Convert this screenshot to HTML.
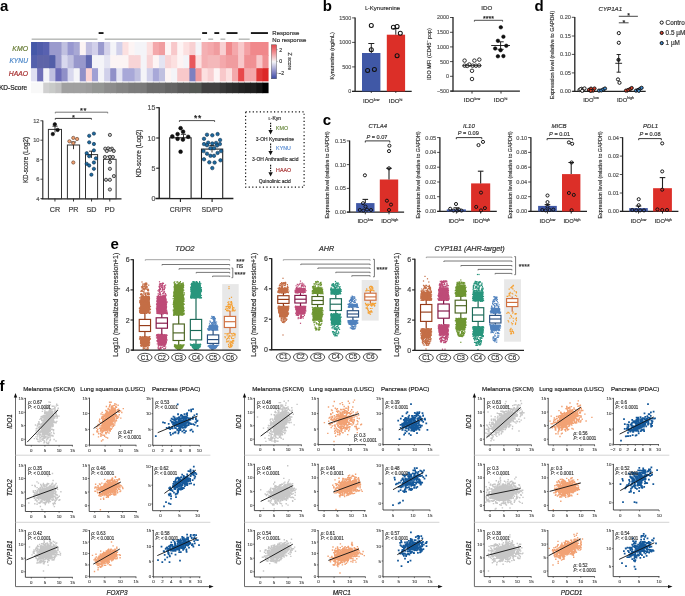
<!DOCTYPE html>
<html><head><meta charset="utf-8"><title>Figure</title>
<style>html,body{margin:0;padding:0;background:#fff;width:685px;height:596px;overflow:hidden;}
svg{display:block;font-family:"Liberation Sans",sans-serif;will-change:transform;}</style></head>
<body>
<svg width="685" height="596" viewBox="0 0 685 596" font-family="Liberation Sans, sans-serif">
<text x="-0.1" y="11.1" font-size="15" text-anchor="start" fill="#000" style="font-weight:bold;">a</text>
<text x="322.7" y="10.7" font-size="15" text-anchor="start" fill="#000" style="font-weight:bold;">b</text>
<text x="534.4" y="10.9" font-size="15" text-anchor="start" fill="#000" style="font-weight:bold;">d</text>
<text x="322.8" y="125.1" font-size="15" text-anchor="start" fill="#000" style="font-weight:bold;">c</text>
<text x="110.4" y="248.9" font-size="15" text-anchor="start" fill="#000" style="font-weight:bold;">e</text>
<text x="-0.6" y="390.8" font-size="15" text-anchor="start" fill="#000" style="font-weight:bold;">f</text>
<rect x="31.05" y="42" width="6.79" height="13.85" fill="#4558a8" stroke="none" stroke-width="0.8"/>
<rect x="31.05" y="55.1" width="6.79" height="13.85" fill="#5460ac" stroke="none" stroke-width="0.8"/>
<rect x="31.05" y="68.2" width="6.79" height="13.15" fill="#e0e0f2" stroke="none" stroke-width="0.8"/>
<rect x="31.05" y="82.6" width="6.79" height="10.6" fill="#f8f8f8" stroke="none" stroke-width="0.8"/>
<rect x="37.14" y="42" width="6.79" height="13.85" fill="#505cab" stroke="none" stroke-width="0.8"/>
<rect x="37.14" y="55.1" width="6.79" height="13.85" fill="#5e64a8" stroke="none" stroke-width="0.8"/>
<rect x="37.14" y="68.2" width="6.79" height="13.15" fill="#7070b8" stroke="none" stroke-width="0.8"/>
<rect x="37.14" y="82.6" width="6.79" height="10.6" fill="#f8f8f8" stroke="none" stroke-width="0.8"/>
<rect x="43.23" y="42" width="6.79" height="13.85" fill="#5861b0" stroke="none" stroke-width="0.8"/>
<rect x="43.23" y="55.1" width="6.79" height="13.85" fill="#5e64a8" stroke="none" stroke-width="0.8"/>
<rect x="43.23" y="68.2" width="6.79" height="13.15" fill="#f4f4f8" stroke="none" stroke-width="0.8"/>
<rect x="43.23" y="82.6" width="6.79" height="10.6" fill="#d0d0d0" stroke="none" stroke-width="0.8"/>
<rect x="49.32" y="42" width="6.79" height="13.85" fill="#9a9acd" stroke="none" stroke-width="0.8"/>
<rect x="49.32" y="55.1" width="6.79" height="13.85" fill="#525ea8" stroke="none" stroke-width="0.8"/>
<rect x="49.32" y="68.2" width="6.79" height="13.15" fill="#c0c0e0" stroke="none" stroke-width="0.8"/>
<rect x="49.32" y="82.6" width="6.79" height="10.6" fill="#c8cac8" stroke="none" stroke-width="0.8"/>
<rect x="55.41" y="42" width="6.79" height="13.85" fill="#9a9acd" stroke="none" stroke-width="0.8"/>
<rect x="55.41" y="55.1" width="6.79" height="13.85" fill="#9b9bcd" stroke="none" stroke-width="0.8"/>
<rect x="55.41" y="68.2" width="6.79" height="13.15" fill="#6c6cb8" stroke="none" stroke-width="0.8"/>
<rect x="55.41" y="82.6" width="6.79" height="10.6" fill="#c0c0c0" stroke="none" stroke-width="0.8"/>
<rect x="61.5" y="42" width="6.79" height="13.85" fill="#c0c0e0" stroke="none" stroke-width="0.8"/>
<rect x="61.5" y="55.1" width="6.79" height="13.85" fill="#d8d8ee" stroke="none" stroke-width="0.8"/>
<rect x="61.5" y="68.2" width="6.79" height="13.15" fill="#9090c8" stroke="none" stroke-width="0.8"/>
<rect x="61.5" y="82.6" width="6.79" height="10.6" fill="#a0a0a0" stroke="none" stroke-width="0.8"/>
<rect x="67.59" y="42" width="6.79" height="13.85" fill="#9898d0" stroke="none" stroke-width="0.8"/>
<rect x="67.59" y="55.1" width="6.79" height="13.85" fill="#c0c0e0" stroke="none" stroke-width="0.8"/>
<rect x="67.59" y="68.2" width="6.79" height="13.15" fill="#d8d8ee" stroke="none" stroke-width="0.8"/>
<rect x="67.59" y="82.6" width="6.79" height="10.6" fill="#a0a0a0" stroke="none" stroke-width="0.8"/>
<rect x="73.68" y="42" width="6.79" height="13.85" fill="#a8a8d4" stroke="none" stroke-width="0.8"/>
<rect x="73.68" y="55.1" width="6.79" height="13.85" fill="#9898cc" stroke="none" stroke-width="0.8"/>
<rect x="73.68" y="68.2" width="6.79" height="13.15" fill="#f4f4f8" stroke="none" stroke-width="0.8"/>
<rect x="73.68" y="82.6" width="6.79" height="10.6" fill="#a0a0a0" stroke="none" stroke-width="0.8"/>
<rect x="79.77" y="42" width="6.79" height="13.85" fill="#fcf4f4" stroke="none" stroke-width="0.8"/>
<rect x="79.77" y="55.1" width="6.79" height="13.85" fill="#9898cc" stroke="none" stroke-width="0.8"/>
<rect x="79.77" y="68.2" width="6.79" height="13.15" fill="#9090c8" stroke="none" stroke-width="0.8"/>
<rect x="79.77" y="82.6" width="6.79" height="10.6" fill="#a0a0a0" stroke="none" stroke-width="0.8"/>
<rect x="85.86" y="42" width="6.79" height="13.85" fill="#c0bee0" stroke="none" stroke-width="0.8"/>
<rect x="85.86" y="55.1" width="6.79" height="13.85" fill="#6068b0" stroke="none" stroke-width="0.8"/>
<rect x="85.86" y="68.2" width="6.79" height="13.15" fill="#fcd4d4" stroke="none" stroke-width="0.8"/>
<rect x="85.86" y="82.6" width="6.79" height="10.6" fill="#9c9c9c" stroke="none" stroke-width="0.8"/>
<rect x="91.95" y="42" width="6.79" height="13.85" fill="#d2d0ea" stroke="none" stroke-width="0.8"/>
<rect x="91.95" y="55.1" width="6.79" height="13.85" fill="#f4f4f8" stroke="none" stroke-width="0.8"/>
<rect x="91.95" y="68.2" width="6.79" height="13.15" fill="#a0a0d4" stroke="none" stroke-width="0.8"/>
<rect x="91.95" y="82.6" width="6.79" height="10.6" fill="#949694" stroke="none" stroke-width="0.8"/>
<rect x="98.04" y="42" width="6.79" height="13.85" fill="#9a9ace" stroke="none" stroke-width="0.8"/>
<rect x="98.04" y="55.1" width="6.79" height="13.85" fill="#f4f4f8" stroke="none" stroke-width="0.8"/>
<rect x="98.04" y="68.2" width="6.79" height="13.15" fill="#f4f4f8" stroke="none" stroke-width="0.8"/>
<rect x="98.04" y="82.6" width="6.79" height="10.6" fill="#949694" stroke="none" stroke-width="0.8"/>
<rect x="104.13" y="42" width="6.79" height="13.85" fill="#d4d2ea" stroke="none" stroke-width="0.8"/>
<rect x="104.13" y="55.1" width="6.79" height="13.85" fill="#e4e4f2" stroke="none" stroke-width="0.8"/>
<rect x="104.13" y="68.2" width="6.79" height="13.15" fill="#d0d0ea" stroke="none" stroke-width="0.8"/>
<rect x="104.13" y="82.6" width="6.79" height="10.6" fill="#8c8c8c" stroke="none" stroke-width="0.8"/>
<rect x="110.22" y="42" width="6.79" height="13.85" fill="#f4f4f8" stroke="none" stroke-width="0.8"/>
<rect x="110.22" y="55.1" width="6.79" height="13.85" fill="#fcf4f4" stroke="none" stroke-width="0.8"/>
<rect x="110.22" y="68.2" width="6.79" height="13.15" fill="#9090c8" stroke="none" stroke-width="0.8"/>
<rect x="110.22" y="82.6" width="6.79" height="10.6" fill="#8c8c8c" stroke="none" stroke-width="0.8"/>
<rect x="116.31" y="42" width="6.79" height="13.85" fill="#d0d0ea" stroke="none" stroke-width="0.8"/>
<rect x="116.31" y="55.1" width="6.79" height="13.85" fill="#fcf4f4" stroke="none" stroke-width="0.8"/>
<rect x="116.31" y="68.2" width="6.79" height="13.15" fill="#e4e4f2" stroke="none" stroke-width="0.8"/>
<rect x="116.31" y="82.6" width="6.79" height="10.6" fill="#848484" stroke="none" stroke-width="0.8"/>
<rect x="122.4" y="42" width="6.79" height="13.85" fill="#fce0e0" stroke="none" stroke-width="0.8"/>
<rect x="122.4" y="55.1" width="6.79" height="13.85" fill="#fcf4f4" stroke="none" stroke-width="0.8"/>
<rect x="122.4" y="68.2" width="6.79" height="13.15" fill="#a8a8d8" stroke="none" stroke-width="0.8"/>
<rect x="122.4" y="82.6" width="6.79" height="10.6" fill="#848484" stroke="none" stroke-width="0.8"/>
<rect x="128.49" y="42" width="6.79" height="13.85" fill="#fdf4f4" stroke="none" stroke-width="0.8"/>
<rect x="128.49" y="55.1" width="6.79" height="13.85" fill="#f8d4d6" stroke="none" stroke-width="0.8"/>
<rect x="128.49" y="68.2" width="6.79" height="13.15" fill="#a8a8d8" stroke="none" stroke-width="0.8"/>
<rect x="128.49" y="82.6" width="6.79" height="10.6" fill="#7c7c7c" stroke="none" stroke-width="0.8"/>
<rect x="134.58" y="42" width="6.79" height="13.85" fill="#f4f4f8" stroke="none" stroke-width="0.8"/>
<rect x="134.58" y="55.1" width="6.79" height="13.85" fill="#f8d4d6" stroke="none" stroke-width="0.8"/>
<rect x="134.58" y="68.2" width="6.79" height="13.15" fill="#c0c0e0" stroke="none" stroke-width="0.8"/>
<rect x="134.58" y="82.6" width="6.79" height="10.6" fill="#7c7c7c" stroke="none" stroke-width="0.8"/>
<rect x="140.67" y="42" width="6.79" height="13.85" fill="#f4f4f8" stroke="none" stroke-width="0.8"/>
<rect x="140.67" y="55.1" width="6.79" height="13.85" fill="#f4f4f8" stroke="none" stroke-width="0.8"/>
<rect x="140.67" y="68.2" width="6.79" height="13.15" fill="#f4f4f8" stroke="none" stroke-width="0.8"/>
<rect x="140.67" y="82.6" width="6.79" height="10.6" fill="#7a7a7a" stroke="none" stroke-width="0.8"/>
<rect x="146.76" y="42" width="6.79" height="13.85" fill="#fce0e0" stroke="none" stroke-width="0.8"/>
<rect x="146.76" y="55.1" width="6.79" height="13.85" fill="#f8d4d6" stroke="none" stroke-width="0.8"/>
<rect x="146.76" y="68.2" width="6.79" height="13.15" fill="#d0d0ea" stroke="none" stroke-width="0.8"/>
<rect x="146.76" y="82.6" width="6.79" height="10.6" fill="#6c6c6c" stroke="none" stroke-width="0.8"/>
<rect x="152.85" y="42" width="6.79" height="13.85" fill="#f4a8ab" stroke="none" stroke-width="0.8"/>
<rect x="152.85" y="55.1" width="6.79" height="13.85" fill="#fdf4f4" stroke="none" stroke-width="0.8"/>
<rect x="152.85" y="68.2" width="6.79" height="13.15" fill="#a8a8d8" stroke="none" stroke-width="0.8"/>
<rect x="152.85" y="82.6" width="6.79" height="10.6" fill="#6c6c6c" stroke="none" stroke-width="0.8"/>
<rect x="158.94" y="42" width="6.79" height="13.85" fill="#f09c9f" stroke="none" stroke-width="0.8"/>
<rect x="158.94" y="55.1" width="6.79" height="13.85" fill="#e4e4f2" stroke="none" stroke-width="0.8"/>
<rect x="158.94" y="68.2" width="6.79" height="13.15" fill="#c0c0e0" stroke="none" stroke-width="0.8"/>
<rect x="158.94" y="82.6" width="6.79" height="10.6" fill="#6c6c6c" stroke="none" stroke-width="0.8"/>
<rect x="165.03" y="42" width="6.79" height="13.85" fill="#fdf4f4" stroke="none" stroke-width="0.8"/>
<rect x="165.03" y="55.1" width="6.79" height="13.85" fill="#f8d4d6" stroke="none" stroke-width="0.8"/>
<rect x="165.03" y="68.2" width="6.79" height="13.15" fill="#fdf4f4" stroke="none" stroke-width="0.8"/>
<rect x="165.03" y="82.6" width="6.79" height="10.6" fill="#646464" stroke="none" stroke-width="0.8"/>
<rect x="171.12" y="42" width="6.79" height="13.85" fill="#f8c8ca" stroke="none" stroke-width="0.8"/>
<rect x="171.12" y="55.1" width="6.79" height="13.85" fill="#fce0e0" stroke="none" stroke-width="0.8"/>
<rect x="171.12" y="68.2" width="6.79" height="13.15" fill="#f4f4f8" stroke="none" stroke-width="0.8"/>
<rect x="171.12" y="82.6" width="6.79" height="10.6" fill="#646464" stroke="none" stroke-width="0.8"/>
<rect x="177.21" y="42" width="6.79" height="13.85" fill="#fdf4f4" stroke="none" stroke-width="0.8"/>
<rect x="177.21" y="55.1" width="6.79" height="13.85" fill="#fdf4f4" stroke="none" stroke-width="0.8"/>
<rect x="177.21" y="68.2" width="6.79" height="13.15" fill="#f8c8ca" stroke="none" stroke-width="0.8"/>
<rect x="177.21" y="82.6" width="6.79" height="10.6" fill="#5a5a5a" stroke="none" stroke-width="0.8"/>
<rect x="183.3" y="42" width="6.79" height="13.85" fill="#fce0e0" stroke="none" stroke-width="0.8"/>
<rect x="183.3" y="55.1" width="6.79" height="13.85" fill="#f4f4f8" stroke="none" stroke-width="0.8"/>
<rect x="183.3" y="68.2" width="6.79" height="13.15" fill="#f8c8ca" stroke="none" stroke-width="0.8"/>
<rect x="183.3" y="82.6" width="6.79" height="10.6" fill="#5a5a5a" stroke="none" stroke-width="0.8"/>
<rect x="189.39" y="42" width="6.79" height="13.85" fill="#f8d0d2" stroke="none" stroke-width="0.8"/>
<rect x="189.39" y="55.1" width="6.79" height="13.85" fill="#e8585b" stroke="none" stroke-width="0.8"/>
<rect x="189.39" y="68.2" width="6.79" height="13.15" fill="#7c80c0" stroke="none" stroke-width="0.8"/>
<rect x="189.39" y="82.6" width="6.79" height="10.6" fill="#545854" stroke="none" stroke-width="0.8"/>
<rect x="195.48" y="42" width="6.79" height="13.85" fill="#f4f4f8" stroke="none" stroke-width="0.8"/>
<rect x="195.48" y="55.1" width="6.79" height="13.85" fill="#fce0e0" stroke="none" stroke-width="0.8"/>
<rect x="195.48" y="68.2" width="6.79" height="13.15" fill="#f09c9f" stroke="none" stroke-width="0.8"/>
<rect x="195.48" y="82.6" width="6.79" height="10.6" fill="#545854" stroke="none" stroke-width="0.8"/>
<rect x="201.57" y="42" width="6.79" height="13.85" fill="#f4b0b3" stroke="none" stroke-width="0.8"/>
<rect x="201.57" y="55.1" width="6.79" height="13.85" fill="#f4b0b3" stroke="none" stroke-width="0.8"/>
<rect x="201.57" y="68.2" width="6.79" height="13.15" fill="#fce0e0" stroke="none" stroke-width="0.8"/>
<rect x="201.57" y="82.6" width="6.79" height="10.6" fill="#404040" stroke="none" stroke-width="0.8"/>
<rect x="207.66" y="42" width="6.79" height="13.85" fill="#f4a8ab" stroke="none" stroke-width="0.8"/>
<rect x="207.66" y="55.1" width="6.79" height="13.85" fill="#f4b8ba" stroke="none" stroke-width="0.8"/>
<rect x="207.66" y="68.2" width="6.79" height="13.15" fill="#f8d0d2" stroke="none" stroke-width="0.8"/>
<rect x="207.66" y="82.6" width="6.79" height="10.6" fill="#404040" stroke="none" stroke-width="0.8"/>
<rect x="213.75" y="42" width="6.79" height="13.85" fill="#f09c9f" stroke="none" stroke-width="0.8"/>
<rect x="213.75" y="55.1" width="6.79" height="13.85" fill="#f4b8ba" stroke="none" stroke-width="0.8"/>
<rect x="213.75" y="68.2" width="6.79" height="13.15" fill="#fdf4f4" stroke="none" stroke-width="0.8"/>
<rect x="213.75" y="82.6" width="6.79" height="10.6" fill="#404040" stroke="none" stroke-width="0.8"/>
<rect x="219.84" y="42" width="6.79" height="13.85" fill="#f8d0d2" stroke="none" stroke-width="0.8"/>
<rect x="219.84" y="55.1" width="6.79" height="13.85" fill="#f4a8ab" stroke="none" stroke-width="0.8"/>
<rect x="219.84" y="68.2" width="6.79" height="13.15" fill="#f8c8ca" stroke="none" stroke-width="0.8"/>
<rect x="219.84" y="82.6" width="6.79" height="10.6" fill="#383838" stroke="none" stroke-width="0.8"/>
<rect x="225.93" y="42" width="6.79" height="13.85" fill="#f0888b" stroke="none" stroke-width="0.8"/>
<rect x="225.93" y="55.1" width="6.79" height="13.85" fill="#f09c9f" stroke="none" stroke-width="0.8"/>
<rect x="225.93" y="68.2" width="6.79" height="13.15" fill="#fce0e0" stroke="none" stroke-width="0.8"/>
<rect x="225.93" y="82.6" width="6.79" height="10.6" fill="#303030" stroke="none" stroke-width="0.8"/>
<rect x="232.02" y="42" width="6.79" height="13.85" fill="#f4a8ab" stroke="none" stroke-width="0.8"/>
<rect x="232.02" y="55.1" width="6.79" height="13.85" fill="#f09c9f" stroke="none" stroke-width="0.8"/>
<rect x="232.02" y="68.2" width="6.79" height="13.15" fill="#f4a8ab" stroke="none" stroke-width="0.8"/>
<rect x="232.02" y="82.6" width="6.79" height="10.6" fill="#2c2c2c" stroke="none" stroke-width="0.8"/>
<rect x="238.11" y="42" width="6.79" height="13.85" fill="#f8c8ca" stroke="none" stroke-width="0.8"/>
<rect x="238.11" y="55.1" width="6.79" height="13.85" fill="#f8c8ca" stroke="none" stroke-width="0.8"/>
<rect x="238.11" y="68.2" width="6.79" height="13.15" fill="#e8484b" stroke="none" stroke-width="0.8"/>
<rect x="238.11" y="82.6" width="6.79" height="10.6" fill="#242424" stroke="none" stroke-width="0.8"/>
<rect x="244.2" y="42" width="6.79" height="13.85" fill="#f4a0a3" stroke="none" stroke-width="0.8"/>
<rect x="244.2" y="55.1" width="6.79" height="13.85" fill="#f09093" stroke="none" stroke-width="0.8"/>
<rect x="244.2" y="68.2" width="6.79" height="13.15" fill="#f4a8ab" stroke="none" stroke-width="0.8"/>
<rect x="244.2" y="82.6" width="6.79" height="10.6" fill="#202020" stroke="none" stroke-width="0.8"/>
<rect x="250.29" y="42" width="6.79" height="13.85" fill="#f0888b" stroke="none" stroke-width="0.8"/>
<rect x="250.29" y="55.1" width="6.79" height="13.85" fill="#f09093" stroke="none" stroke-width="0.8"/>
<rect x="250.29" y="68.2" width="6.79" height="13.15" fill="#f4a8ab" stroke="none" stroke-width="0.8"/>
<rect x="250.29" y="82.6" width="6.79" height="10.6" fill="#202020" stroke="none" stroke-width="0.8"/>
<rect x="256.38" y="42" width="6.79" height="13.85" fill="#f0888b" stroke="none" stroke-width="0.8"/>
<rect x="256.38" y="55.1" width="6.79" height="13.85" fill="#f8c8ca" stroke="none" stroke-width="0.8"/>
<rect x="256.38" y="68.2" width="6.79" height="13.15" fill="#e03838" stroke="none" stroke-width="0.8"/>
<rect x="256.38" y="82.6" width="6.79" height="10.6" fill="#141414" stroke="none" stroke-width="0.8"/>
<rect x="262.47" y="42" width="6.09" height="13.85" fill="#f0888b" stroke="none" stroke-width="0.8"/>
<rect x="262.47" y="55.1" width="6.09" height="13.85" fill="#f09093" stroke="none" stroke-width="0.8"/>
<rect x="262.47" y="68.2" width="6.09" height="13.15" fill="#dc2828" stroke="none" stroke-width="0.8"/>
<rect x="262.47" y="82.6" width="6.09" height="10.6" fill="#000000" stroke="none" stroke-width="0.8"/>
<rect x="98.64" y="32.2" width="4.89" height="1.7" fill="#000" stroke="none" stroke-width="0.8"/>
<rect x="202.17" y="32.2" width="4.89" height="1.7" fill="#000" stroke="none" stroke-width="0.8"/>
<rect x="214.35" y="32.2" width="4.89" height="1.7" fill="#000" stroke="none" stroke-width="0.8"/>
<rect x="226.53" y="32.2" width="10.98" height="1.7" fill="#000" stroke="none" stroke-width="0.8"/>
<rect x="250.89" y="32.2" width="17.07" height="1.7" fill="#000" stroke="none" stroke-width="0.8"/>
<rect x="31.65" y="38.5" width="65.79" height="1.4" fill="#b4b6b4" stroke="none" stroke-width="0.8"/>
<rect x="104.73" y="38.5" width="96.24" height="1.4" fill="#b4b6b4" stroke="none" stroke-width="0.8"/>
<rect x="208.26" y="38.5" width="4.89" height="1.4" fill="#b4b6b4" stroke="none" stroke-width="0.8"/>
<rect x="220.44" y="38.5" width="4.89" height="1.4" fill="#b4b6b4" stroke="none" stroke-width="0.8"/>
<rect x="238.71" y="38.5" width="10.98" height="1.4" fill="#b4b6b4" stroke="none" stroke-width="0.8"/>
<text x="28" y="50.7" font-size="6.9" text-anchor="end" fill="#6b7f3a" style="font-style:italic;" stroke="#6b7f3a" stroke-width="0.21">KMO</text>
<text x="28" y="63" font-size="6.7" text-anchor="end" fill="#4a86c8" style="font-style:italic;" stroke="#4a86c8" stroke-width="0.2">KYNU</text>
<text x="28" y="75.9" font-size="6.8" text-anchor="end" fill="#a83232" style="font-style:italic;" stroke="#a83232" stroke-width="0.2">HAAO</text>
<text x="27.2" y="89.9" font-size="6.5" text-anchor="end" fill="#222" style="" stroke="#222" stroke-width="0.2">KD-Score</text>
<text x="272.3" y="35.2" font-size="6" text-anchor="start" fill="#333" style="" stroke="#333" stroke-width="0.18">Response</text>
<text x="272.3" y="41.8" font-size="6" text-anchor="start" fill="#333" style="" stroke="#333" stroke-width="0.18">No response</text>
<defs><linearGradient id="cb" x1="0" y1="0" x2="0" y2="1"><stop offset="0" stop-color="#e0484c"/><stop offset="0.22" stop-color="#f08c90"/><stop offset="0.5" stop-color="#f4f4f6"/><stop offset="0.78" stop-color="#8c8cc8"/><stop offset="1" stop-color="#3a4aa6"/></linearGradient></defs>
<rect x="271.3" y="44.8" width="5.3" height="34" fill="url(#cb)" stroke="#444" stroke-width="0.4"/>
<line x1="276.6" y1="49.7" x2="277.8" y2="49.7" stroke="#444" stroke-width="0.4"/>
<line x1="276.6" y1="61.4" x2="277.8" y2="61.4" stroke="#444" stroke-width="0.4"/>
<line x1="276.6" y1="73.2" x2="277.8" y2="73.2" stroke="#444" stroke-width="0.4"/>
<text x="279.2" y="51.5" font-size="5.2" text-anchor="start" fill="#333" style="" stroke="#333" stroke-width="0.16">2</text>
<text x="279.2" y="63.2" font-size="5.2" text-anchor="start" fill="#333" style="" stroke="#333" stroke-width="0.16">0</text>
<text x="278.2" y="75" font-size="5.2" text-anchor="start" fill="#333" style="" stroke="#333" stroke-width="0.16">−2</text>
<text x="287.5" y="61.4" font-size="5.4" text-anchor="middle" fill="#333" style="" transform="rotate(90 287.5 61.4)" stroke="#333" stroke-width="0.16">Z score</text>
<line x1="42.8" y1="120.4" x2="42.8" y2="198.9" stroke="#222" stroke-width="1.1"/>
<line x1="40.4" y1="120.8" x2="42.8" y2="120.8" stroke="#222" stroke-width="0.8"/>
<text x="39.5" y="122.85" font-size="5.7" text-anchor="end" fill="#555" style="" stroke="#555" stroke-width="0.17">12</text>
<line x1="40.4" y1="140.2" x2="42.8" y2="140.2" stroke="#222" stroke-width="0.8"/>
<text x="39.5" y="142.25" font-size="5.7" text-anchor="end" fill="#555" style="" stroke="#555" stroke-width="0.17">10</text>
<line x1="40.4" y1="159.7" x2="42.8" y2="159.7" stroke="#222" stroke-width="0.8"/>
<text x="39.5" y="161.75" font-size="5.7" text-anchor="end" fill="#555" style="" stroke="#555" stroke-width="0.17">8</text>
<line x1="40.4" y1="179.2" x2="42.8" y2="179.2" stroke="#222" stroke-width="0.8"/>
<text x="39.5" y="181.25" font-size="5.7" text-anchor="end" fill="#555" style="" stroke="#555" stroke-width="0.17">6</text>
<line x1="40.4" y1="198.6" x2="42.8" y2="198.6" stroke="#222" stroke-width="0.8"/>
<text x="39.5" y="200.65" font-size="5.7" text-anchor="end" fill="#555" style="" stroke="#555" stroke-width="0.17">4</text>
<line x1="41.5" y1="198.8" x2="121.5" y2="198.8" stroke="#222" stroke-width="1.3"/>
<rect x="48.4" y="129.4" width="13.1" height="69.3" fill="#fff" stroke="#333" stroke-width="1"/>
<line x1="54.95" y1="198.7" x2="54.95" y2="201.5" stroke="#222" stroke-width="0.9"/>
<text x="54.95" y="212.2" font-size="7.2" text-anchor="middle" fill="#444" style="" stroke="#444" stroke-width="0.22">CR</text>
<rect x="67.4" y="145" width="12.2" height="53.7" fill="#fff" stroke="#333" stroke-width="1"/>
<line x1="73.5" y1="198.7" x2="73.5" y2="201.5" stroke="#222" stroke-width="0.9"/>
<text x="73.5" y="212.2" font-size="7.2" text-anchor="middle" fill="#444" style="" stroke="#444" stroke-width="0.22">PR</text>
<rect x="85.5" y="154.6" width="12.1" height="44.1" fill="#fff" stroke="#333" stroke-width="1"/>
<line x1="91.55" y1="198.7" x2="91.55" y2="201.5" stroke="#222" stroke-width="0.9"/>
<text x="91.55" y="212.2" font-size="7.2" text-anchor="middle" fill="#444" style="" stroke="#444" stroke-width="0.22">SD</text>
<rect x="103.5" y="159.3" width="12.6" height="39.4" fill="#fff" stroke="#333" stroke-width="1"/>
<line x1="109.8" y1="198.7" x2="109.8" y2="201.5" stroke="#222" stroke-width="0.9"/>
<text x="109.8" y="212.2" font-size="7.2" text-anchor="middle" fill="#444" style="" stroke="#444" stroke-width="0.22">PD</text>
<text x="27.5" y="160" font-size="6.3" text-anchor="middle" fill="#333" style="" transform="rotate(-90 27.5 160)" stroke="#333" stroke-width="0.19">KD-score (Log2)</text>
<line x1="55" y1="126.2" x2="55" y2="132.5" stroke="#222" stroke-width="0.9"/>
<line x1="52.4" y1="126.2" x2="57.6" y2="126.2" stroke="#222" stroke-width="0.9"/>
<line x1="73.5" y1="142" x2="73.5" y2="149.2" stroke="#222" stroke-width="0.9"/>
<line x1="70.9" y1="142" x2="76.1" y2="142" stroke="#222" stroke-width="0.9"/>
<line x1="91.5" y1="151.2" x2="91.5" y2="157.9" stroke="#222" stroke-width="0.9"/>
<line x1="88.9" y1="151.2" x2="94.1" y2="151.2" stroke="#222" stroke-width="0.9"/>
<line x1="109.8" y1="156.2" x2="109.8" y2="163" stroke="#222" stroke-width="0.9"/>
<line x1="107.2" y1="156.2" x2="112.4" y2="156.2" stroke="#222" stroke-width="0.9"/>
<circle cx="54.8" cy="124.3" r="1.75" fill="#111" stroke="#000" stroke-width="0.5"/>
<circle cx="57.6" cy="129.9" r="1.75" fill="#111" stroke="#000" stroke-width="0.5"/>
<circle cx="52.8" cy="134.1" r="1.75" fill="#111" stroke="#000" stroke-width="0.5"/>
<circle cx="73.3" cy="137.9" r="1.65" fill="#f0a070" stroke="#5a3a2a" stroke-width="0.6"/>
<circle cx="77.1" cy="139" r="1.65" fill="#f0a070" stroke="#5a3a2a" stroke-width="0.6"/>
<circle cx="69.4" cy="141.3" r="1.65" fill="#f0a070" stroke="#5a3a2a" stroke-width="0.6"/>
<circle cx="73.3" cy="143.2" r="1.65" fill="#f0a070" stroke="#5a3a2a" stroke-width="0.6"/>
<circle cx="73.3" cy="162.5" r="1.65" fill="#f0a070" stroke="#5a3a2a" stroke-width="0.6"/>
<circle cx="93.9" cy="133.6" r="1.65" fill="#1e6aa0" stroke="#0c2a44" stroke-width="0.6"/>
<circle cx="89.2" cy="135.8" r="1.65" fill="#1e6aa0" stroke="#0c2a44" stroke-width="0.6"/>
<circle cx="89.2" cy="142.3" r="1.65" fill="#1e6aa0" stroke="#0c2a44" stroke-width="0.6"/>
<circle cx="93.9" cy="144" r="1.65" fill="#1e6aa0" stroke="#0c2a44" stroke-width="0.6"/>
<circle cx="93.9" cy="150.4" r="1.65" fill="#1e6aa0" stroke="#0c2a44" stroke-width="0.6"/>
<circle cx="86.7" cy="153.2" r="1.65" fill="#1e6aa0" stroke="#0c2a44" stroke-width="0.6"/>
<circle cx="89.2" cy="156.2" r="1.65" fill="#1e6aa0" stroke="#0c2a44" stroke-width="0.6"/>
<circle cx="95.9" cy="158.3" r="1.65" fill="#1e6aa0" stroke="#0c2a44" stroke-width="0.6"/>
<circle cx="93.9" cy="162.5" r="1.65" fill="#1e6aa0" stroke="#0c2a44" stroke-width="0.6"/>
<circle cx="86.7" cy="163.8" r="1.65" fill="#1e6aa0" stroke="#0c2a44" stroke-width="0.6"/>
<circle cx="89.2" cy="165.5" r="1.65" fill="#1e6aa0" stroke="#0c2a44" stroke-width="0.6"/>
<circle cx="93.9" cy="168.8" r="1.65" fill="#1e6aa0" stroke="#0c2a44" stroke-width="0.6"/>
<circle cx="91.4" cy="174.7" r="1.65" fill="#1e6aa0" stroke="#0c2a44" stroke-width="0.6"/>
<circle cx="109.9" cy="134.9" r="1.6" fill="#c4c4c4" stroke="#222" stroke-width="0.75"/>
<circle cx="105.2" cy="148.7" r="1.6" fill="#c4c4c4" stroke="#222" stroke-width="0.75"/>
<circle cx="108.2" cy="148.4" r="1.6" fill="#c4c4c4" stroke="#222" stroke-width="0.75"/>
<circle cx="111.9" cy="148.7" r="1.6" fill="#c4c4c4" stroke="#222" stroke-width="0.75"/>
<circle cx="106.8" cy="151" r="1.6" fill="#c4c4c4" stroke="#222" stroke-width="0.75"/>
<circle cx="113.8" cy="151" r="1.6" fill="#c4c4c4" stroke="#222" stroke-width="0.75"/>
<circle cx="110.2" cy="149.7" r="1.6" fill="#c4c4c4" stroke="#222" stroke-width="0.75"/>
<circle cx="104.9" cy="157" r="1.6" fill="#c4c4c4" stroke="#222" stroke-width="0.75"/>
<circle cx="109.9" cy="157" r="1.6" fill="#c4c4c4" stroke="#222" stroke-width="0.75"/>
<circle cx="112.9" cy="157" r="1.6" fill="#c4c4c4" stroke="#222" stroke-width="0.75"/>
<circle cx="109.9" cy="162.1" r="1.6" fill="#c4c4c4" stroke="#222" stroke-width="0.75"/>
<circle cx="109.9" cy="168.8" r="1.6" fill="#c4c4c4" stroke="#222" stroke-width="0.75"/>
<circle cx="106" cy="179.8" r="1.6" fill="#c4c4c4" stroke="#222" stroke-width="0.75"/>
<circle cx="109.9" cy="179.8" r="1.6" fill="#c4c4c4" stroke="#222" stroke-width="0.75"/>
<circle cx="113.9" cy="176.1" r="1.6" fill="#c4c4c4" stroke="#222" stroke-width="0.75"/>
<circle cx="109.9" cy="189.5" r="1.6" fill="#c4c4c4" stroke="#222" stroke-width="0.75"/>
<path d="M55.3 119.6 V118.4 H91.4 V119.6" fill="none" stroke="#222" stroke-width="0.9"/>
<path d="M55.3 113.4 V112.2 H107.7 V113.4" fill="none" stroke="#666" stroke-width="0.9"/>
<text x="73.4" y="120.1" font-size="7.5" text-anchor="middle" fill="#222" style="" stroke="#222" stroke-width="0.22">*</text>
<text x="83.4" y="113.2" font-size="7.5" text-anchor="middle" fill="#222" style="" letter-spacing="0.6" stroke="#222" stroke-width="0.22">**</text>
<line x1="159.2" y1="107.3" x2="159.2" y2="198.8" stroke="#222" stroke-width="1.4"/>
<line x1="156.2" y1="107.7" x2="159.2" y2="107.7" stroke="#222" stroke-width="1.1"/>
<text x="155.3" y="110.22" font-size="7" text-anchor="end" fill="#555" style="" stroke="#555" stroke-width="0.21">15</text>
<line x1="156.2" y1="138" x2="159.2" y2="138" stroke="#222" stroke-width="1.1"/>
<text x="155.3" y="140.52" font-size="7" text-anchor="end" fill="#555" style="" stroke="#555" stroke-width="0.21">10</text>
<line x1="156.2" y1="168.2" x2="159.2" y2="168.2" stroke="#222" stroke-width="1.1"/>
<text x="155.3" y="170.72" font-size="7" text-anchor="end" fill="#555" style="" stroke="#555" stroke-width="0.21">5</text>
<line x1="156.2" y1="198.5" x2="159.2" y2="198.5" stroke="#222" stroke-width="1.1"/>
<text x="155.3" y="201.02" font-size="7" text-anchor="end" fill="#555" style="" stroke="#555" stroke-width="0.21">0</text>
<line x1="155.5" y1="198.5" x2="233.4" y2="198.5" stroke="#222" stroke-width="1.4"/>
<rect x="169.7" y="137.8" width="21.4" height="60.7" fill="#fff" stroke="#222" stroke-width="1.1"/>
<line x1="180.4" y1="198.5" x2="180.4" y2="202.1" stroke="#222" stroke-width="1.1"/>
<text x="180.4" y="211.9" font-size="6.9" text-anchor="middle" fill="#444" style="" stroke="#444" stroke-width="0.21">CR/PR</text>
<rect x="201.5" y="149.1" width="21.2" height="49.4" fill="#fff" stroke="#222" stroke-width="1.1"/>
<line x1="212.1" y1="198.5" x2="212.1" y2="202.1" stroke="#222" stroke-width="1.1"/>
<text x="212.1" y="211.9" font-size="6.9" text-anchor="middle" fill="#444" style="" stroke="#444" stroke-width="0.21">SD/PD</text>
<text x="141.3" y="153.4" font-size="6.5" text-anchor="middle" fill="#333" style="" transform="rotate(-90 141.3 153.4)" stroke="#333" stroke-width="0.2">KD-score (Log2)</text>
<line x1="183.5" y1="134.3" x2="183.5" y2="141" stroke="#222" stroke-width="0.9"/>
<line x1="180.9" y1="134.3" x2="186.1" y2="134.3" stroke="#222" stroke-width="0.9"/>
<line x1="212" y1="145.5" x2="212" y2="152.5" stroke="#222" stroke-width="0.9"/>
<line x1="209.4" y1="145.5" x2="214.6" y2="145.5" stroke="#222" stroke-width="0.9"/>
<circle cx="180.6" cy="128.2" r="1.9" fill="#111" stroke="#000" stroke-width="0.5"/>
<circle cx="183.1" cy="131.7" r="1.9" fill="#111" stroke="#000" stroke-width="0.5"/>
<circle cx="177.6" cy="134.1" r="1.9" fill="#111" stroke="#000" stroke-width="0.5"/>
<circle cx="172.3" cy="136.4" r="1.9" fill="#111" stroke="#000" stroke-width="0.5"/>
<circle cx="188.2" cy="136.8" r="1.9" fill="#111" stroke="#000" stroke-width="0.5"/>
<circle cx="177.6" cy="138.8" r="1.9" fill="#111" stroke="#000" stroke-width="0.5"/>
<circle cx="182.9" cy="139.6" r="1.9" fill="#111" stroke="#000" stroke-width="0.5"/>
<circle cx="180.6" cy="151.7" r="1.9" fill="#111" stroke="#000" stroke-width="0.5"/>
<circle cx="207" cy="134.7" r="1.75" fill="#1e6aa0" stroke="#0c2a44" stroke-width="0.55"/>
<circle cx="212.3" cy="135.3" r="1.75" fill="#1e6aa0" stroke="#0c2a44" stroke-width="0.55"/>
<circle cx="217.6" cy="134.1" r="1.75" fill="#1e6aa0" stroke="#0c2a44" stroke-width="0.55"/>
<circle cx="204" cy="138.8" r="1.75" fill="#1e6aa0" stroke="#0c2a44" stroke-width="0.55"/>
<circle cx="220.1" cy="140" r="1.75" fill="#1e6aa0" stroke="#0c2a44" stroke-width="0.55"/>
<circle cx="208.2" cy="142.7" r="1.75" fill="#1e6aa0" stroke="#0c2a44" stroke-width="0.55"/>
<circle cx="212.3" cy="143.5" r="1.75" fill="#1e6aa0" stroke="#0c2a44" stroke-width="0.55"/>
<circle cx="216.1" cy="142.9" r="1.75" fill="#1e6aa0" stroke="#0c2a44" stroke-width="0.55"/>
<circle cx="204" cy="144.1" r="1.75" fill="#1e6aa0" stroke="#0c2a44" stroke-width="0.55"/>
<circle cx="219.9" cy="144.1" r="1.75" fill="#1e6aa0" stroke="#0c2a44" stroke-width="0.55"/>
<circle cx="207" cy="145.2" r="1.75" fill="#1e6aa0" stroke="#0c2a44" stroke-width="0.55"/>
<circle cx="217" cy="145.5" r="1.75" fill="#1e6aa0" stroke="#0c2a44" stroke-width="0.55"/>
<circle cx="210.5" cy="148.2" r="1.75" fill="#1e6aa0" stroke="#0c2a44" stroke-width="0.55"/>
<circle cx="214" cy="148.2" r="1.75" fill="#1e6aa0" stroke="#0c2a44" stroke-width="0.55"/>
<circle cx="203.5" cy="151.1" r="1.75" fill="#1e6aa0" stroke="#0c2a44" stroke-width="0.55"/>
<circle cx="221.1" cy="151.1" r="1.75" fill="#1e6aa0" stroke="#0c2a44" stroke-width="0.55"/>
<circle cx="207" cy="153.7" r="1.75" fill="#1e6aa0" stroke="#0c2a44" stroke-width="0.55"/>
<circle cx="217.6" cy="152.9" r="1.75" fill="#1e6aa0" stroke="#0c2a44" stroke-width="0.55"/>
<circle cx="210.5" cy="155.8" r="1.75" fill="#1e6aa0" stroke="#0c2a44" stroke-width="0.55"/>
<circle cx="214" cy="155.8" r="1.75" fill="#1e6aa0" stroke="#0c2a44" stroke-width="0.55"/>
<circle cx="204" cy="159.3" r="1.75" fill="#1e6aa0" stroke="#0c2a44" stroke-width="0.55"/>
<circle cx="220.5" cy="160.3" r="1.75" fill="#1e6aa0" stroke="#0c2a44" stroke-width="0.55"/>
<circle cx="209.3" cy="162.3" r="1.75" fill="#1e6aa0" stroke="#0c2a44" stroke-width="0.55"/>
<circle cx="214.6" cy="162.6" r="1.75" fill="#1e6aa0" stroke="#0c2a44" stroke-width="0.55"/>
<circle cx="212.3" cy="168.1" r="1.75" fill="#1e6aa0" stroke="#0c2a44" stroke-width="0.55"/>
<path d="M179.4 121.9 V120.6 H214.6 V121.9" fill="none" stroke="#222" stroke-width="0.8"/>
<text x="197.9" y="121.4" font-size="8.5" text-anchor="middle" fill="#222" style="" letter-spacing="0.7" stroke="#222" stroke-width="0.25">**</text>
<rect x="245.6" y="111.8" width="58.5" height="75.4" fill="none" stroke="#111" stroke-width="1.2" stroke-dasharray="1.2 2.35"/>
<text x="274.8" y="119.7" font-size="5" text-anchor="middle" fill="#222" style="" stroke="#222" stroke-width="0.15"><tspan font-size="4.0">L</tspan>-Kyn</text>
<text x="275.8" y="129.8" font-size="5.4" text-anchor="start" fill="#6e8c44" style="" stroke="#6e8c44" stroke-width="0.16">KMO</text>
<text x="274.9" y="140.5" font-size="4.95" text-anchor="middle" fill="#222" style="" stroke="#222" stroke-width="0.15">3-OH Kynurenine</text>
<text x="276.1" y="150.3" font-size="5.3" text-anchor="start" fill="#5a8cd2" style="" stroke="#5a8cd2" stroke-width="0.16">KYNU</text>
<text x="275.2" y="161" font-size="4.95" text-anchor="middle" fill="#222" style="" stroke="#222" stroke-width="0.15">3-OH Anthranilic acid</text>
<text x="276.1" y="171.9" font-size="5.3" text-anchor="start" fill="#a83232" style="" stroke="#a83232" stroke-width="0.16">HAAO</text>
<text x="274.8" y="182.8" font-size="4.95" text-anchor="middle" fill="#222" style="" stroke="#222" stroke-width="0.15">Quinolinic acid</text>
<line x1="270.6" y1="122.7" x2="270.6" y2="130.5" stroke="#111" stroke-width="1.15" stroke-dasharray="1.6 1.0"/>
<path d="M268.4 130.1 L272.8 130.1 L270.6 134.5 Z" fill="#111" stroke="none" stroke-width="0.8"/>
<line x1="270.6" y1="143.6" x2="270.6" y2="151.3" stroke="#111" stroke-width="1.15" stroke-dasharray="1.6 1.0"/>
<path d="M268.4 150.9 L272.8 150.9 L270.6 155.3 Z" fill="#111" stroke="none" stroke-width="0.8"/>
<line x1="270.6" y1="164.8" x2="270.6" y2="172.6" stroke="#111" stroke-width="1.15" stroke-dasharray="1.6 1.0"/>
<path d="M268.4 172.2 L272.8 172.2 L270.6 176.6 Z" fill="#111" stroke="none" stroke-width="0.8"/>
<line x1="355.1" y1="17.5" x2="355.1" y2="91.7" stroke="#222" stroke-width="1.3"/>
<line x1="352.1" y1="17.9" x2="355.1" y2="17.9" stroke="#222" stroke-width="0.8"/>
<text x="351.2" y="19.84" font-size="5.4" text-anchor="end" fill="#555" style="" stroke="#555" stroke-width="0.16">1500</text>
<line x1="352.1" y1="42.4" x2="355.1" y2="42.4" stroke="#222" stroke-width="0.8"/>
<text x="351.2" y="44.34" font-size="5.4" text-anchor="end" fill="#555" style="" stroke="#555" stroke-width="0.16">1000</text>
<line x1="352.1" y1="66.9" x2="355.1" y2="66.9" stroke="#222" stroke-width="0.8"/>
<text x="351.2" y="68.84" font-size="5.4" text-anchor="end" fill="#555" style="" stroke="#555" stroke-width="0.16">500</text>
<line x1="352.1" y1="91.4" x2="355.1" y2="91.4" stroke="#222" stroke-width="0.8"/>
<text x="351.2" y="93.34" font-size="5.4" text-anchor="end" fill="#555" style="" stroke="#555" stroke-width="0.16">0</text>
<line x1="352" y1="91.4" x2="411.7" y2="91.4" stroke="#222" stroke-width="1.3"/>
<rect x="362" y="53" width="18.4" height="38.4" fill="#4058a6" stroke="none" stroke-width="0.8"/>
<rect x="386.8" y="34.7" width="18.3" height="56.7" fill="#dc2f28" stroke="none" stroke-width="0.8"/>
<line x1="371.3" y1="43.5" x2="371.3" y2="53" stroke="#222" stroke-width="1"/>
<line x1="368.3" y1="43.5" x2="374.3" y2="43.5" stroke="#222" stroke-width="1"/>
<line x1="395.8" y1="28.6" x2="395.8" y2="34.7" stroke="#222" stroke-width="1"/>
<line x1="392.8" y1="28.6" x2="398.8" y2="28.6" stroke="#222" stroke-width="1"/>
<line x1="371.3" y1="91.4" x2="371.3" y2="93" stroke="#222" stroke-width="0.8"/>
<line x1="395.8" y1="91.4" x2="395.8" y2="93" stroke="#222" stroke-width="0.8"/>
<circle cx="371.3" cy="25.5" r="2" fill="none" stroke="#111" stroke-width="1.05"/>
<circle cx="371.3" cy="49.8" r="2" fill="none" stroke="#111" stroke-width="1.05"/>
<circle cx="367.6" cy="70.5" r="2" fill="none" stroke="#111" stroke-width="1.05"/>
<circle cx="374.4" cy="69.4" r="2" fill="none" stroke="#111" stroke-width="1.05"/>
<circle cx="393.4" cy="27.3" r="2" fill="none" stroke="#111" stroke-width="1.05"/>
<circle cx="397.1" cy="26.4" r="2" fill="none" stroke="#111" stroke-width="1.05"/>
<circle cx="400.3" cy="33.2" r="2" fill="none" stroke="#111" stroke-width="1.05"/>
<circle cx="397.1" cy="55.7" r="2" fill="none" stroke="#111" stroke-width="1.05"/>
<text x="382.7" y="10.3" font-size="6" text-anchor="middle" fill="#333" style="" stroke="#333" stroke-width="0.18"><tspan font-size="4.6">L</tspan>-Kynurenine</text>
<text x="333.6" y="55.8" font-size="5.4" text-anchor="middle" fill="#333" style="" transform="rotate(-90 333.6 55.8)" stroke="#333" stroke-width="0.16">Kynurenine (ng/mL)</text>
<text x="371.2" y="103" font-size="6" text-anchor="middle" fill="#333" style="" stroke="#333" stroke-width="0.18">IDO<tspan font-size="3.72" dy="-2.2">low</tspan></text>
<text x="395.6" y="103" font-size="6" text-anchor="middle" fill="#333" style="" stroke="#333" stroke-width="0.18">IDO<tspan font-size="3.72" dy="-2.2">hi</tspan></text>
<line x1="453" y1="17.1" x2="453" y2="91.4" stroke="#222" stroke-width="1.3"/>
<line x1="450" y1="17.5" x2="453" y2="17.5" stroke="#222" stroke-width="0.8"/>
<text x="449.1" y="19.44" font-size="5.4" text-anchor="end" fill="#555" style="" stroke="#555" stroke-width="0.16">2000</text>
<line x1="450" y1="32.3" x2="453" y2="32.3" stroke="#222" stroke-width="0.8"/>
<text x="449.1" y="34.24" font-size="5.4" text-anchor="end" fill="#555" style="" stroke="#555" stroke-width="0.16">1500</text>
<line x1="450" y1="46.9" x2="453" y2="46.9" stroke="#222" stroke-width="0.8"/>
<text x="449.1" y="48.84" font-size="5.4" text-anchor="end" fill="#555" style="" stroke="#555" stroke-width="0.16">1000</text>
<line x1="450" y1="61.6" x2="453" y2="61.6" stroke="#222" stroke-width="0.8"/>
<text x="449.1" y="63.54" font-size="5.4" text-anchor="end" fill="#555" style="" stroke="#555" stroke-width="0.16">500</text>
<line x1="450" y1="76.3" x2="453" y2="76.3" stroke="#222" stroke-width="0.8"/>
<text x="449.1" y="78.24" font-size="5.4" text-anchor="end" fill="#555" style="" stroke="#555" stroke-width="0.16">0</text>
<line x1="450" y1="91.1" x2="453" y2="91.1" stroke="#222" stroke-width="0.8"/>
<text x="449.1" y="93.04" font-size="5.4" text-anchor="end" fill="#555" style="" stroke="#555" stroke-width="0.16">−500</text>
<line x1="450.4" y1="91.2" x2="519.9" y2="91.2" stroke="#222" stroke-width="1.3"/>
<line x1="472" y1="91.2" x2="472" y2="93.6" stroke="#222" stroke-width="0.9"/>
<line x1="501" y1="91.2" x2="501" y2="93.6" stroke="#222" stroke-width="0.9"/>
<text x="486.8" y="10.3" font-size="6.2" text-anchor="middle" fill="#333" style="" stroke="#333" stroke-width="0.19">IDO</text>
<text x="431" y="54" font-size="5.4" text-anchor="middle" fill="#333" style="" transform="rotate(-90 431 54)" stroke="#333" stroke-width="0.16">IDO MFI (CD45<tspan font-size="3.6" dy="-1.6">−</tspan><tspan dy="1.6"> pop)</tspan></text>
<text x="472" y="102.2" font-size="6" text-anchor="middle" fill="#333" style="" stroke="#333" stroke-width="0.18">IDO<tspan font-size="3.72" dy="-2.2">low</tspan></text>
<text x="500.6" y="102.2" font-size="6" text-anchor="middle" fill="#333" style="" stroke="#333" stroke-width="0.18">IDO<tspan font-size="3.72" dy="-2.2">hi</tspan></text>
<path d="M474.4 21.6 V20.3 H502.6 V21.6" fill="none" stroke="#222" stroke-width="0.8"/>
<text x="488.5" y="21.4" font-size="7" text-anchor="middle" fill="#222" style="" stroke="#222" stroke-width="0.21">****</text>
<circle cx="464.6" cy="60.6" r="1.75" fill="#fff" stroke="#111" stroke-width="0.85"/>
<circle cx="474.4" cy="60.6" r="1.75" fill="#fff" stroke="#111" stroke-width="0.85"/>
<circle cx="479.3" cy="59.6" r="1.75" fill="#fff" stroke="#111" stroke-width="0.85"/>
<circle cx="464.6" cy="65.7" r="1.75" fill="#fff" stroke="#111" stroke-width="0.85"/>
<circle cx="469.3" cy="64.5" r="1.75" fill="#fff" stroke="#111" stroke-width="0.85"/>
<circle cx="472.6" cy="65.7" r="1.75" fill="#fff" stroke="#111" stroke-width="0.85"/>
<circle cx="475.9" cy="65.7" r="1.75" fill="#fff" stroke="#111" stroke-width="0.85"/>
<circle cx="479.1" cy="65.5" r="1.75" fill="#fff" stroke="#111" stroke-width="0.85"/>
<circle cx="467.3" cy="65.9" r="1.75" fill="#fff" stroke="#111" stroke-width="0.85"/>
<circle cx="472" cy="70.8" r="1.75" fill="#fff" stroke="#111" stroke-width="0.85"/>
<circle cx="472" cy="79" r="1.75" fill="#fff" stroke="#111" stroke-width="0.85"/>
<line x1="462.6" y1="65.7" x2="481.4" y2="65.7" stroke="#111" stroke-width="0.9"/>
<circle cx="500.8" cy="27.3" r="1.8" fill="#111" stroke="#000" stroke-width="0.5"/>
<circle cx="503.4" cy="36.7" r="1.8" fill="#111" stroke="#000" stroke-width="0.5"/>
<circle cx="497.9" cy="40.8" r="1.8" fill="#111" stroke="#000" stroke-width="0.5"/>
<circle cx="506.3" cy="45.8" r="1.8" fill="#111" stroke="#000" stroke-width="0.5"/>
<circle cx="495.2" cy="48.5" r="1.8" fill="#111" stroke="#000" stroke-width="0.5"/>
<circle cx="500.6" cy="50.2" r="1.8" fill="#111" stroke="#000" stroke-width="0.5"/>
<circle cx="497.9" cy="56.3" r="1.8" fill="#111" stroke="#000" stroke-width="0.5"/>
<circle cx="503.4" cy="56.1" r="1.8" fill="#111" stroke="#000" stroke-width="0.5"/>
<line x1="491.2" y1="45.5" x2="510" y2="45.5" stroke="#111" stroke-width="0.9"/>
<line x1="500.6" y1="41.8" x2="500.6" y2="49.3" stroke="#111" stroke-width="0.9"/>
<line x1="497.5" y1="41.8" x2="503.7" y2="41.8" stroke="#111" stroke-width="0.9"/>
<line x1="497.5" y1="49.3" x2="503.7" y2="49.3" stroke="#111" stroke-width="0.9"/>
<line x1="574.8" y1="16.9" x2="574.8" y2="91.7" stroke="#222" stroke-width="1.3"/>
<line x1="571.8" y1="17.3" x2="574.8" y2="17.3" stroke="#222" stroke-width="0.8"/>
<text x="570.9" y="19.32" font-size="5.6" text-anchor="end" fill="#555" style="" stroke="#555" stroke-width="0.17">0.20</text>
<line x1="571.8" y1="36" x2="574.8" y2="36" stroke="#222" stroke-width="0.8"/>
<text x="570.9" y="38.02" font-size="5.6" text-anchor="end" fill="#555" style="" stroke="#555" stroke-width="0.17">0.15</text>
<line x1="571.8" y1="54.4" x2="574.8" y2="54.4" stroke="#222" stroke-width="0.8"/>
<text x="570.9" y="56.42" font-size="5.6" text-anchor="end" fill="#555" style="" stroke="#555" stroke-width="0.17">0.10</text>
<line x1="571.8" y1="72.9" x2="574.8" y2="72.9" stroke="#222" stroke-width="0.8"/>
<text x="570.9" y="74.92" font-size="5.6" text-anchor="end" fill="#555" style="" stroke="#555" stroke-width="0.17">0.05</text>
<line x1="571.8" y1="91.4" x2="574.8" y2="91.4" stroke="#222" stroke-width="0.8"/>
<text x="570.9" y="93.42" font-size="5.6" text-anchor="end" fill="#555" style="" stroke="#555" stroke-width="0.17">0.00</text>
<line x1="572.4" y1="91.4" x2="645.7" y2="91.4" stroke="#222" stroke-width="1.3"/>
<text x="610.3" y="11" font-size="6.2" text-anchor="middle" fill="#333" style="font-style:italic;" stroke="#333" stroke-width="0.19">CYP1A1</text>
<text x="554" y="55" font-size="5.4" text-anchor="middle" fill="#333" style="" transform="rotate(-90 554 55)" stroke="#333" stroke-width="0.16">Expression level (relative to GAPDH)</text>
<text x="591" y="101.6" font-size="5.8" text-anchor="middle" fill="#333" style="" stroke="#333" stroke-width="0.17">IDO<tspan font-size="3.6" dy="-2.2">low</tspan></text>
<text x="625.5" y="101.6" font-size="5.8" text-anchor="middle" fill="#333" style="" stroke="#333" stroke-width="0.17">IDO<tspan font-size="3.6" dy="-2.2">high</tspan></text>
<line x1="590" y1="91.3" x2="590" y2="92.7" stroke="#222" stroke-width="0.8"/>
<line x1="627.5" y1="91.3" x2="627.5" y2="92.7" stroke="#222" stroke-width="0.8"/>
<line x1="618.8" y1="16.3" x2="637.9" y2="16.3" stroke="#333" stroke-width="0.9"/>
<line x1="618.8" y1="22.8" x2="628.6" y2="22.8" stroke="#333" stroke-width="0.9"/>
<text x="628.6" y="18.3" font-size="7" text-anchor="middle" fill="#222" style="" stroke="#222" stroke-width="0.21">*</text>
<text x="623.9" y="24.7" font-size="7" text-anchor="middle" fill="#222" style="" stroke="#222" stroke-width="0.21">*</text>
<circle cx="579.5" cy="90" r="1.6" fill="#fff" stroke="#111" stroke-width="0.95"/>
<circle cx="581.5" cy="88.8" r="1.6" fill="#fff" stroke="#111" stroke-width="0.95"/>
<circle cx="583.2" cy="90.2" r="1.6" fill="#fff" stroke="#111" stroke-width="0.95"/>
<circle cx="580.5" cy="89.2" r="1.6" fill="#fff" stroke="#111" stroke-width="0.95"/>
<circle cx="584.5" cy="88.4" r="1.6" fill="#fff" stroke="#111" stroke-width="0.95"/>
<circle cx="582.2" cy="90.8" r="1.6" fill="#fff" stroke="#111" stroke-width="0.95"/>
<circle cx="589" cy="89.8" r="1.6" fill="#d9402a" stroke="#111" stroke-width="0.95"/>
<circle cx="591" cy="88.6" r="1.6" fill="#d9402a" stroke="#111" stroke-width="0.95"/>
<circle cx="593" cy="90.6" r="1.6" fill="#d9402a" stroke="#111" stroke-width="0.95"/>
<circle cx="594.5" cy="88.5" r="1.6" fill="#d9402a" stroke="#111" stroke-width="0.95"/>
<circle cx="590.8" cy="90.8" r="1.6" fill="#d9402a" stroke="#111" stroke-width="0.95"/>
<circle cx="599" cy="90.6" r="1.6" fill="#3c8ad0" stroke="#111" stroke-width="0.95"/>
<circle cx="601.3" cy="90.4" r="1.6" fill="#3c8ad0" stroke="#111" stroke-width="0.95"/>
<circle cx="603.3" cy="89.4" r="1.6" fill="#3c8ad0" stroke="#111" stroke-width="0.95"/>
<circle cx="605" cy="88.5" r="1.6" fill="#3c8ad0" stroke="#111" stroke-width="0.95"/>
<circle cx="618.8" cy="33.1" r="1.6" fill="#fff" stroke="#111" stroke-width="0.95"/>
<circle cx="618.8" cy="42.8" r="1.6" fill="#fff" stroke="#111" stroke-width="0.95"/>
<circle cx="618" cy="79.4" r="1.6" fill="#fff" stroke="#111" stroke-width="0.95"/>
<circle cx="619.5" cy="82.8" r="1.6" fill="#fff" stroke="#111" stroke-width="0.95"/>
<circle cx="618.5" cy="59.8" r="1.6" fill="#555" stroke="#111" stroke-width="0.95"/>
<circle cx="626" cy="90.6" r="1.6" fill="#d9402a" stroke="#111" stroke-width="0.95"/>
<circle cx="628.3" cy="89.9" r="1.6" fill="#d9402a" stroke="#111" stroke-width="0.95"/>
<circle cx="630.3" cy="89" r="1.6" fill="#d9402a" stroke="#111" stroke-width="0.95"/>
<circle cx="631.7" cy="88" r="1.6" fill="#d9402a" stroke="#111" stroke-width="0.95"/>
<circle cx="636" cy="90.6" r="1.6" fill="#3c8ad0" stroke="#111" stroke-width="0.95"/>
<circle cx="638" cy="90" r="1.6" fill="#3c8ad0" stroke="#111" stroke-width="0.95"/>
<circle cx="640" cy="88.8" r="1.6" fill="#3c8ad0" stroke="#111" stroke-width="0.95"/>
<circle cx="641.6" cy="87.8" r="1.6" fill="#3c8ad0" stroke="#111" stroke-width="0.95"/>
<circle cx="638.8" cy="90.8" r="1.6" fill="#3c8ad0" stroke="#111" stroke-width="0.95"/>
<line x1="615.3" y1="63.3" x2="622.1" y2="63.3" stroke="#111" stroke-width="0.9"/>
<line x1="618.7" y1="54.5" x2="618.7" y2="72.2" stroke="#111" stroke-width="0.9"/>
<line x1="616.6" y1="54.5" x2="620.8" y2="54.5" stroke="#111" stroke-width="0.9"/>
<line x1="616.6" y1="72.2" x2="620.8" y2="72.2" stroke="#111" stroke-width="0.9"/>
<circle cx="661.7" cy="22.6" r="1.6" fill="#fff" stroke="#111" stroke-width="1"/>
<circle cx="661.7" cy="32.9" r="1.6" fill="#d9402a" stroke="#111" stroke-width="1"/>
<circle cx="661.7" cy="43.1" r="1.6" fill="#3c8ad0" stroke="#111" stroke-width="1"/>
<text x="665.6" y="24.7" font-size="6.4" text-anchor="start" fill="#333" style="" stroke="#333" stroke-width="0.19">Control</text>
<text x="665.6" y="34.7" font-size="6.4" text-anchor="start" fill="#333" style="" stroke="#333" stroke-width="0.19">0.5 µM</text>
<text x="665.6" y="45" font-size="6.4" text-anchor="start" fill="#333" style="" stroke="#333" stroke-width="0.19">1 µM</text>
<line x1="349.6" y1="140.5" x2="349.6" y2="212.4" stroke="#222" stroke-width="1.3"/>
<line x1="346.8" y1="140.9" x2="349.6" y2="140.9" stroke="#222" stroke-width="0.8"/>
<text x="345.9" y="142.92" font-size="5.6" text-anchor="end" fill="#555" style="" stroke="#555" stroke-width="0.17">0.15</text>
<line x1="346.8" y1="164.6" x2="349.6" y2="164.6" stroke="#222" stroke-width="0.8"/>
<text x="345.9" y="166.62" font-size="5.6" text-anchor="end" fill="#555" style="" stroke="#555" stroke-width="0.17">0.10</text>
<line x1="346.8" y1="188.4" x2="349.6" y2="188.4" stroke="#222" stroke-width="0.8"/>
<text x="345.9" y="190.42" font-size="5.6" text-anchor="end" fill="#555" style="" stroke="#555" stroke-width="0.17">0.05</text>
<line x1="346.8" y1="212.1" x2="349.6" y2="212.1" stroke="#222" stroke-width="0.8"/>
<text x="345.9" y="214.12" font-size="5.6" text-anchor="end" fill="#555" style="" stroke="#555" stroke-width="0.17">0.00</text>
<line x1="346.9" y1="212.1" x2="404.1" y2="212.1" stroke="#222" stroke-width="1.3"/>
<rect x="356.1" y="203.1" width="18.4" height="9" fill="#4058a6" stroke="none" stroke-width="0.8"/>
<rect x="379.8" y="179.5" width="18.4" height="32.6" fill="#dc2f28" stroke="none" stroke-width="0.8"/>
<line x1="365.3" y1="199.4" x2="365.3" y2="203.1" stroke="#222" stroke-width="1.1"/>
<line x1="362.5" y1="199.4" x2="368.1" y2="199.4" stroke="#222" stroke-width="1.1"/>
<line x1="389" y1="168.3" x2="389" y2="179.5" stroke="#222" stroke-width="1.1"/>
<line x1="386.2" y1="168.3" x2="391.8" y2="168.3" stroke="#222" stroke-width="1.1"/>
<line x1="365.3" y1="212.1" x2="365.3" y2="214.3" stroke="#222" stroke-width="0.9"/>
<line x1="389" y1="212.1" x2="389" y2="214.3" stroke="#222" stroke-width="0.9"/>
<text x="377.8" y="127.8" font-size="6" text-anchor="middle" fill="#333" style="font-style:italic;" stroke="#333" stroke-width="0.18">CTLA4</text>
<text x="376.9" y="138.7" font-size="5.6" text-anchor="middle" fill="#333" style="" stroke="#333" stroke-width="0.17"><tspan font-style="italic">P</tspan> = 0.07</text>
<path d="M365.3 142.5 V140.9 H389.8 V142.5" fill="none" stroke="#222" stroke-width="0.9"/>
<circle cx="364.9" cy="175.3" r="1.55" fill="none" stroke="#111" stroke-width="0.95"/>
<circle cx="363" cy="203.2" r="1.55" fill="none" stroke="#111" stroke-width="0.95"/>
<circle cx="359.8" cy="210" r="1.55" fill="none" stroke="#111" stroke-width="0.95"/>
<circle cx="363.3" cy="210.6" r="1.55" fill="none" stroke="#111" stroke-width="0.95"/>
<circle cx="367" cy="209.6" r="1.55" fill="none" stroke="#111" stroke-width="0.95"/>
<circle cx="371" cy="210" r="1.55" fill="none" stroke="#111" stroke-width="0.95"/>
<circle cx="365.5" cy="206.6" r="1.55" fill="none" stroke="#111" stroke-width="0.95"/>
<circle cx="389.4" cy="145.7" r="1.55" fill="none" stroke="#111" stroke-width="0.95"/>
<circle cx="389" cy="151.1" r="1.55" fill="none" stroke="#111" stroke-width="0.95"/>
<circle cx="389" cy="168.3" r="1.55" fill="none" stroke="#111" stroke-width="0.95"/>
<circle cx="386.9" cy="200.7" r="1.55" fill="none" stroke="#111" stroke-width="0.95"/>
<circle cx="391" cy="204.6" r="1.55" fill="none" stroke="#111" stroke-width="0.95"/>
<circle cx="389" cy="210" r="1.55" fill="none" stroke="#111" stroke-width="0.95"/>
<text x="329.3" y="175" font-size="5.3" text-anchor="middle" fill="#333" style="" transform="rotate(-90 329.3 175)" stroke="#333" stroke-width="0.16">Expression level (relative to GAPDH)</text>
<text x="365.3" y="222.9" font-size="5.8" text-anchor="middle" fill="#333" style="" stroke="#333" stroke-width="0.17">IDO<tspan font-size="3.6" dy="-2.2">low</tspan></text>
<text x="389.8" y="222.9" font-size="5.8" text-anchor="middle" fill="#333" style="" stroke="#333" stroke-width="0.17">IDO<tspan font-size="3.6" dy="-2.2">high</tspan></text>
<line x1="439.9" y1="137.2" x2="439.9" y2="211.7" stroke="#222" stroke-width="1.3"/>
<line x1="437.1" y1="137.6" x2="439.9" y2="137.6" stroke="#222" stroke-width="0.8"/>
<text x="436.2" y="139.62" font-size="5.6" text-anchor="end" fill="#555" style="" stroke="#555" stroke-width="0.17">0.05</text>
<line x1="437.1" y1="152.4" x2="439.9" y2="152.4" stroke="#222" stroke-width="0.8"/>
<text x="436.2" y="154.42" font-size="5.6" text-anchor="end" fill="#555" style="" stroke="#555" stroke-width="0.17">0.04</text>
<line x1="437.1" y1="167.2" x2="439.9" y2="167.2" stroke="#222" stroke-width="0.8"/>
<text x="436.2" y="169.22" font-size="5.6" text-anchor="end" fill="#555" style="" stroke="#555" stroke-width="0.17">0.03</text>
<line x1="437.1" y1="182" x2="439.9" y2="182" stroke="#222" stroke-width="0.8"/>
<text x="436.2" y="184.02" font-size="5.6" text-anchor="end" fill="#555" style="" stroke="#555" stroke-width="0.17">0.02</text>
<line x1="437.1" y1="196.7" x2="439.9" y2="196.7" stroke="#222" stroke-width="0.8"/>
<text x="436.2" y="198.72" font-size="5.6" text-anchor="end" fill="#555" style="" stroke="#555" stroke-width="0.17">0.01</text>
<line x1="437.1" y1="211.4" x2="439.9" y2="211.4" stroke="#222" stroke-width="0.8"/>
<text x="436.2" y="213.42" font-size="5.6" text-anchor="end" fill="#555" style="" stroke="#555" stroke-width="0.17">0.00</text>
<line x1="437.2" y1="211.4" x2="496.8" y2="211.4" stroke="#222" stroke-width="1.3"/>
<rect x="446.8" y="209.4" width="19.1" height="2" fill="#4058a6" stroke="none" stroke-width="0.8"/>
<rect x="471.1" y="183.4" width="19.1" height="28" fill="#dc2f28" stroke="none" stroke-width="0.8"/>
<line x1="456.35" y1="207.8" x2="456.35" y2="209.4" stroke="#222" stroke-width="1.1"/>
<line x1="453.55" y1="207.8" x2="459.15" y2="207.8" stroke="#222" stroke-width="1.1"/>
<line x1="480.65" y1="171.2" x2="480.65" y2="183.4" stroke="#222" stroke-width="1.1"/>
<line x1="477.85" y1="171.2" x2="483.45" y2="171.2" stroke="#222" stroke-width="1.1"/>
<line x1="456.35" y1="211.4" x2="456.35" y2="213.6" stroke="#222" stroke-width="0.9"/>
<line x1="480.65" y1="211.4" x2="480.65" y2="213.6" stroke="#222" stroke-width="0.9"/>
<text x="468.9" y="127.8" font-size="6" text-anchor="middle" fill="#333" style="font-style:italic;" stroke="#333" stroke-width="0.18">IL10</text>
<text x="468.3" y="135.4" font-size="5.6" text-anchor="middle" fill="#333" style="" stroke="#333" stroke-width="0.17"><tspan font-style="italic">P</tspan> = 0.09</text>
<path d="M456.3 139.2 V137.6 H481.8 V139.2" fill="none" stroke="#222" stroke-width="0.9"/>
<circle cx="456" cy="204" r="1.55" fill="none" stroke="#111" stroke-width="0.95"/>
<circle cx="450.2" cy="208.8" r="1.55" fill="none" stroke="#111" stroke-width="0.95"/>
<circle cx="453.5" cy="210.6" r="1.55" fill="none" stroke="#111" stroke-width="0.95"/>
<circle cx="457.3" cy="210.6" r="1.55" fill="none" stroke="#111" stroke-width="0.95"/>
<circle cx="461.5" cy="210.6" r="1.55" fill="none" stroke="#111" stroke-width="0.95"/>
<circle cx="459" cy="209.6" r="1.55" fill="none" stroke="#111" stroke-width="0.95"/>
<circle cx="478.5" cy="145.1" r="1.55" fill="none" stroke="#111" stroke-width="0.95"/>
<circle cx="483" cy="141.9" r="1.55" fill="none" stroke="#111" stroke-width="0.95"/>
<circle cx="481" cy="192.6" r="1.55" fill="none" stroke="#111" stroke-width="0.95"/>
<circle cx="476.2" cy="206.9" r="1.55" fill="none" stroke="#111" stroke-width="0.95"/>
<circle cx="484.9" cy="208.1" r="1.55" fill="none" stroke="#111" stroke-width="0.95"/>
<circle cx="481" cy="210.4" r="1.55" fill="none" stroke="#111" stroke-width="0.95"/>
<text x="419.7" y="175" font-size="5.3" text-anchor="middle" fill="#333" style="" transform="rotate(-90 419.7 175)" stroke="#333" stroke-width="0.16">Expression level (relative to GAPDH)</text>
<text x="456.35" y="222.9" font-size="5.8" text-anchor="middle" fill="#333" style="" stroke="#333" stroke-width="0.17">IDO<tspan font-size="3.6" dy="-2.2">low</tspan></text>
<text x="481.45" y="222.9" font-size="5.8" text-anchor="middle" fill="#333" style="" stroke="#333" stroke-width="0.17">IDO<tspan font-size="3.6" dy="-2.2">high</tspan></text>
<line x1="530.9" y1="137.2" x2="530.9" y2="211.7" stroke="#222" stroke-width="1.3"/>
<line x1="528.1" y1="137.6" x2="530.9" y2="137.6" stroke="#222" stroke-width="0.8"/>
<text x="527.2" y="139.62" font-size="5.6" text-anchor="end" fill="#555" style="" stroke="#555" stroke-width="0.17">0.10</text>
<line x1="528.1" y1="152.4" x2="530.9" y2="152.4" stroke="#222" stroke-width="0.8"/>
<text x="527.2" y="154.42" font-size="5.6" text-anchor="end" fill="#555" style="" stroke="#555" stroke-width="0.17">0.08</text>
<line x1="528.1" y1="167.2" x2="530.9" y2="167.2" stroke="#222" stroke-width="0.8"/>
<text x="527.2" y="169.22" font-size="5.6" text-anchor="end" fill="#555" style="" stroke="#555" stroke-width="0.17">0.06</text>
<line x1="528.1" y1="182" x2="530.9" y2="182" stroke="#222" stroke-width="0.8"/>
<text x="527.2" y="184.02" font-size="5.6" text-anchor="end" fill="#555" style="" stroke="#555" stroke-width="0.17">0.04</text>
<line x1="528.1" y1="196.7" x2="530.9" y2="196.7" stroke="#222" stroke-width="0.8"/>
<text x="527.2" y="198.72" font-size="5.6" text-anchor="end" fill="#555" style="" stroke="#555" stroke-width="0.17">0.02</text>
<line x1="528.1" y1="211.4" x2="530.9" y2="211.4" stroke="#222" stroke-width="0.8"/>
<text x="527.2" y="213.42" font-size="5.6" text-anchor="end" fill="#555" style="" stroke="#555" stroke-width="0.17">0.00</text>
<line x1="528.6" y1="211.4" x2="587" y2="211.4" stroke="#222" stroke-width="1.3"/>
<rect x="538.1" y="205.9" width="18.7" height="5.5" fill="#4058a6" stroke="none" stroke-width="0.8"/>
<rect x="562" y="174.1" width="18.4" height="37.3" fill="#dc2f28" stroke="none" stroke-width="0.8"/>
<line x1="547.45" y1="204.6" x2="547.45" y2="205.9" stroke="#222" stroke-width="1.1"/>
<line x1="544.65" y1="204.6" x2="550.25" y2="204.6" stroke="#222" stroke-width="1.1"/>
<line x1="571.2" y1="162.5" x2="571.2" y2="174.1" stroke="#222" stroke-width="1.1"/>
<line x1="568.4" y1="162.5" x2="574" y2="162.5" stroke="#222" stroke-width="1.1"/>
<line x1="547.45" y1="211.4" x2="547.45" y2="213.6" stroke="#222" stroke-width="0.9"/>
<line x1="571.2" y1="211.4" x2="571.2" y2="213.6" stroke="#222" stroke-width="0.9"/>
<text x="559.1" y="127.8" font-size="6" text-anchor="middle" fill="#333" style="font-style:italic;" stroke="#333" stroke-width="0.18">MICB</text>
<text x="559.6" y="136.4" font-size="5.6" text-anchor="middle" fill="#333" style="" stroke="#333" stroke-width="0.17"><tspan font-style="italic">P</tspan> = 0.01</text>
<path d="M547.1 140.2 V138.6 H572.6 V140.2" fill="none" stroke="#222" stroke-width="0.9"/>
<circle cx="547.5" cy="195.5" r="1.55" fill="none" stroke="#111" stroke-width="0.95"/>
<circle cx="547.5" cy="202.1" r="1.55" fill="none" stroke="#111" stroke-width="0.95"/>
<circle cx="547.5" cy="206.5" r="1.55" fill="none" stroke="#111" stroke-width="0.95"/>
<circle cx="542.3" cy="210" r="1.55" fill="none" stroke="#111" stroke-width="0.95"/>
<circle cx="545.6" cy="210.4" r="1.55" fill="none" stroke="#111" stroke-width="0.95"/>
<circle cx="549.6" cy="210" r="1.55" fill="none" stroke="#111" stroke-width="0.95"/>
<circle cx="553.3" cy="209.6" r="1.55" fill="none" stroke="#111" stroke-width="0.95"/>
<circle cx="568.9" cy="142.4" r="1.55" fill="none" stroke="#111" stroke-width="0.95"/>
<circle cx="572.2" cy="143.8" r="1.55" fill="none" stroke="#111" stroke-width="0.95"/>
<circle cx="571.6" cy="162.5" r="1.55" fill="none" stroke="#111" stroke-width="0.95"/>
<circle cx="568.9" cy="193" r="1.55" fill="none" stroke="#111" stroke-width="0.95"/>
<circle cx="573.8" cy="194.9" r="1.55" fill="none" stroke="#111" stroke-width="0.95"/>
<circle cx="571.6" cy="210.2" r="1.55" fill="none" stroke="#111" stroke-width="0.95"/>
<text x="511.6" y="175" font-size="5.3" text-anchor="middle" fill="#333" style="" transform="rotate(-90 511.6 175)" stroke="#333" stroke-width="0.16">Expression level (relative to GAPDH)</text>
<text x="547.45" y="222.9" font-size="5.8" text-anchor="middle" fill="#333" style="" stroke="#333" stroke-width="0.17">IDO<tspan font-size="3.6" dy="-2.2">low</tspan></text>
<text x="572" y="222.9" font-size="5.8" text-anchor="middle" fill="#333" style="" stroke="#333" stroke-width="0.17">IDO<tspan font-size="3.6" dy="-2.2">high</tspan></text>
<line x1="622.6" y1="137.2" x2="622.6" y2="211.7" stroke="#222" stroke-width="1.3"/>
<line x1="619.8" y1="137.6" x2="622.6" y2="137.6" stroke="#222" stroke-width="0.8"/>
<text x="618.9" y="139.62" font-size="5.6" text-anchor="end" fill="#555" style="" stroke="#555" stroke-width="0.17">0.04</text>
<line x1="619.8" y1="156.1" x2="622.6" y2="156.1" stroke="#222" stroke-width="0.8"/>
<text x="618.9" y="158.12" font-size="5.6" text-anchor="end" fill="#555" style="" stroke="#555" stroke-width="0.17">0.03</text>
<line x1="619.8" y1="174.5" x2="622.6" y2="174.5" stroke="#222" stroke-width="0.8"/>
<text x="618.9" y="176.52" font-size="5.6" text-anchor="end" fill="#555" style="" stroke="#555" stroke-width="0.17">0.02</text>
<line x1="619.8" y1="193" x2="622.6" y2="193" stroke="#222" stroke-width="0.8"/>
<text x="618.9" y="195.02" font-size="5.6" text-anchor="end" fill="#555" style="" stroke="#555" stroke-width="0.17">0.01</text>
<line x1="619.8" y1="211.4" x2="622.6" y2="211.4" stroke="#222" stroke-width="0.8"/>
<text x="618.9" y="213.42" font-size="5.6" text-anchor="end" fill="#555" style="" stroke="#555" stroke-width="0.17">0.00</text>
<line x1="620" y1="211.4" x2="678.4" y2="211.4" stroke="#222" stroke-width="1.3"/>
<rect x="629.2" y="208.1" width="18.6" height="3.3" fill="#4058a6" stroke="none" stroke-width="0.8"/>
<rect x="653.1" y="188.2" width="18.8" height="23.2" fill="#dc2f28" stroke="none" stroke-width="0.8"/>
<line x1="638.5" y1="206" x2="638.5" y2="208.1" stroke="#222" stroke-width="1.1"/>
<line x1="635.7" y1="206" x2="641.3" y2="206" stroke="#222" stroke-width="1.1"/>
<line x1="662.5" y1="177.6" x2="662.5" y2="188.2" stroke="#222" stroke-width="1.1"/>
<line x1="659.7" y1="177.6" x2="665.3" y2="177.6" stroke="#222" stroke-width="1.1"/>
<line x1="638.5" y1="211.4" x2="638.5" y2="213.6" stroke="#222" stroke-width="0.9"/>
<line x1="662.5" y1="211.4" x2="662.5" y2="213.6" stroke="#222" stroke-width="0.9"/>
<text x="650.6" y="127.8" font-size="6" text-anchor="middle" fill="#333" style="font-style:italic;" stroke="#333" stroke-width="0.18">PDL1</text>
<text x="650" y="136.4" font-size="5.6" text-anchor="middle" fill="#333" style="" stroke="#333" stroke-width="0.17"><tspan font-style="italic">P</tspan> = 0.08</text>
<path d="M638.7 140.2 V138.6 H661.3 V140.2" fill="none" stroke="#222" stroke-width="0.9"/>
<circle cx="638.7" cy="199.2" r="1.55" fill="none" stroke="#111" stroke-width="0.95"/>
<circle cx="638.7" cy="205.2" r="1.55" fill="none" stroke="#111" stroke-width="0.95"/>
<circle cx="632.3" cy="210" r="1.55" fill="none" stroke="#111" stroke-width="0.95"/>
<circle cx="636.2" cy="210.4" r="1.55" fill="none" stroke="#111" stroke-width="0.95"/>
<circle cx="640.1" cy="210.4" r="1.55" fill="none" stroke="#111" stroke-width="0.95"/>
<circle cx="644" cy="210.4" r="1.55" fill="none" stroke="#111" stroke-width="0.95"/>
<circle cx="662.2" cy="143.4" r="1.55" fill="none" stroke="#111" stroke-width="0.95"/>
<circle cx="662.2" cy="171.4" r="1.55" fill="none" stroke="#111" stroke-width="0.95"/>
<circle cx="662.2" cy="189.7" r="1.55" fill="none" stroke="#111" stroke-width="0.95"/>
<circle cx="657.4" cy="209.4" r="1.55" fill="none" stroke="#111" stroke-width="0.95"/>
<circle cx="662.2" cy="210" r="1.55" fill="none" stroke="#111" stroke-width="0.95"/>
<circle cx="667" cy="210" r="1.55" fill="none" stroke="#111" stroke-width="0.95"/>
<text x="602" y="175" font-size="5.3" text-anchor="middle" fill="#333" style="" transform="rotate(-90 602 175)" stroke="#333" stroke-width="0.16">Expression level (relative to GAPDH)</text>
<text x="638.5" y="222.9" font-size="5.8" text-anchor="middle" fill="#333" style="" stroke="#333" stroke-width="0.17">IDO<tspan font-size="3.6" dy="-2.2">low</tspan></text>
<text x="663.3" y="222.9" font-size="5.8" text-anchor="middle" fill="#333" style="" stroke="#333" stroke-width="0.17">IDO<tspan font-size="3.6" dy="-2.2">high</tspan></text>
<rect x="222.2" y="284.1" width="16.5" height="66" fill="#e8e8e8" stroke="none" stroke-width="0.8"/>
<polygon points="139.62,313.5 139.35,310.96 139.51,308.42 140.2,305.88 139.91,303.33 139.97,300.79 140.61,298.25 140.46,295.71 149.48,295.71 150.13,298.25 149.84,300.79 149.99,303.33 150.41,305.88 149.79,308.42 149.65,310.96 149.93,313.5" fill="#c46e46"/>
<path d="M145.6 302.6h0M144.7 286h0M145.8 300.9h0M145 310.1h0M147.8 296.8h0M142.7 312.1h0M148.4 312.2h0M140.6 294.5h0M146.7 283.7h0M146 295.9h0M139.5 310.7h0M140.2 300.2h0M142 310h0M144.5 313.2h0M148.6 303h0M146.4 300.5h0M146.6 301.1h0M142.5 302.5h0M146.6 283.1h0M146.4 289.2h0M141.9 306.7h0M140.1 307.4h0M144 291.9h0M144.1 288.9h0M146.5 284.7h0M141.6 313.5h0M144.7 286.5h0M144.5 283.8h0M146.3 312.5h0M143 291.5h0M143 312.2h0M146.1 284.4h0M142.1 311.6h0M140 312h0M142.3 290.8h0M144.3 299.2h0M147.5 310h0M146.5 311.3h0M144 311.6h0M142.3 309.4h0M146.2 284.1h0M149.2 307h0M143.7 309.5h0M145.9 288.6h0M150.4 312h0M142.2 309.4h0M143.4 291.7h0M140.1 307.2h0M145.8 312.2h0M146 308.7h0M144.4 305.1h0M144.8 284.6h0M148.7 298.7h0M141 310.2h0M146.8 286.6h0M141.4 308.5h0M148.8 292.9h0M149.9 309.8h0M145.6 287.6h0M140.5 303.6h0M150.1 313.1h0M147.2 308.8h0M148.5 308.3h0M142.8 297.9h0M147.4 310.3h0M141.9 312.6h0M148.6 299.2h0M142.7 297.3h0M143.2 286.2h0M142.3 313.4h0M140.1 302.8h0M143.4 310.3h0M141.1 298.7h0M149.2 305.4h0M145.5 283.8h0M145.7 294.6h0M139.7 311.1h0M149.5 313.3h0M149.3 294.3h0M146.4 313.3h0M147.4 301.7h0M150.5 306.6h0M145.4 312.4h0M148.5 293h0M146.7 293h0M148.3 290.9h0M147 305.7h0M147.2 286.9h0M148.1 303.7h0M145.4 288.3h0M143.7 296.9h0M146 298.4h0M146.5 312.4h0M146.3 283.3h0M143.9 293.3h0M145.6 293.1h0M148.6 303h0M147.7 312.3h0M146 313.2h0M142 301.7h0M144.9 294.4h0M149.2 297.3h0M139.4 308.3h0M146.9 307.1h0M141.2 309.7h0M145.9 286.7h0M149.2 302.9h0M146.7 306.4h0M144.1 309.8h0M148.2 290.5h0M144.1 287.7h0M143 298.4h0M144.9 311.2h0M147.5 289.3h0M149.1 293.9h0M141.2 307.8h0M142.4 302.7h0M143.9 309.4h0M144.8 296.9h0M148.7 306.7h0M144.7 283.7h0M139.7 312.5h0M141.8 287.9h0M145.6 294h0M148.1 306.9h0M140.8 313.3h0M139.7 302.5h0M142.9 289.6h0M139.8 311.1h0M144.4 296.8h0M146.5 296.8h0M148.6 290.4h0M142 294.9h0M141.4 301.9h0M144.6 313.4h0M141.9 293.8h0M143.2 307.9h0M145.1 294.4h0M147.5 297.3h0M148.1 304.4h0M142.4 286.7h0M146.1 285.6h0M144.4 311.4h0M149 296.9h0M145.7 304.9h0M146.9 287.7h0M144.7 285.2h0M142 296h0M147.8 293.5h0M147.1 296.4h0M149.4 309.4h0M146.8 283.8h0M148 299.9h0M149.5 306.6h0M143.8 288.6h0M144.2 312.3h0M147.7 299.5h0M139.8 301.5h0M141.4 290.3h0M142.2 290.7h0M148.1 306.1h0M141 311.1h0M147.3 300.6h0M146.3 289.2h0M144.9 285.1h0M142.9 285h0M145.2 309.2h0M147.5 307.4h0M145.1 296.5h0M145.3 289h0M143.6 306.8h0M147.8 289h0M148.8 309.5h0M145 284.2h0M141.8 298.7h0M144.9 299.9h0M140.1 297.6h0M145 284.2h0M148.2 304.2h0M144.8 299.1h0M140.8 294.6h0M144 299.9h0M146.9 284.7h0M144.6 308h0M144.2 311.4h0M148 290.1h0M142.9 301.9h0M146.2 309.9h0M142.9 285.9h0M140.9 291.4h0M141.8 309.9h0M143.2 294.8h0M146.2 305.6h0M147.5 311.9h0M145 311.5h0M141.5 308.5h0M144.2 300.1h0M143.9 305h0M141.3 300.2h0M146.4 309.6h0M145.2 296.5h0M145.7 288.8h0M143 288.6h0M147.7 292.9h0M143.8 286.8h0M149.6 306.7h0M150.5 309.3h0M142.5 287.4h0M147.4 308.7h0M140.4 308.2h0M144.3 289.5h0M141.8 291.1h0M146.9 304.1h0M141.6 313.3h0M148.8 294.9h0M143.2 284.2h0M147.7 300.9h0M146.9 301h0M140.1 310h0M139.7 311.8h0M145.1 299.4h0M141.2 298.9h0M141.6 310.1h0M148.5 289.2h0M142.7 285.9h0M150 312.7h0M147.8 302.3h0M144.5 306.4h0M144.2 300.6h0M139.9 297.8h0M148.1 294.3h0M144.4 310.2h0M144.1 292.9h0M141.2 309.9h0M139.7 300.7h0M146.8 287.2h0M148.3 294.1h0M143.9 296.8h0M144.9 297.8h0M146.1 283.7h0M149.5 308.3h0M147.4 292.7h0M144.2 290.1h0M147.3 287h0M147.4 294.5h0M144.1 292h0M141 293.5h0M144.6 305.9h0M143.3 313.4h0M146.1 296.5h0M149.9 308.9h0M143.3 295.5h0M145.6 295.7h0M143.7 300h0M145.4 283h0M147.4 294.3h0M143 283.8h0M147.3 297.3h0M143.8 308.3h0M141.5 312.9h0" stroke="#c46e46" stroke-width="1.15" stroke-linecap="square" fill="none"/>
<polygon points="140.12,336.4 139.78,337.5 139.94,338.6 140.37,339.7 139.74,340.8 140.14,341.9 139.91,343 140.72,344.1 140.17,345.2 141.23,346.3 149.21,346.3 148.64,345.2 149.62,344.1 149.19,343 149.73,341.9 149.59,340.8 150.42,339.7 150.13,338.6 150.05,337.5 150.42,336.4" fill="#c46e46"/>
<path d="M145.8 349.5h0M141.2 346.4h0M147.5 343.2h0M149.7 336.6h0M144.6 337.6h0M144.9 337.7h0M140.5 343.4h0M144.3 348.7h0M145.9 342.1h0M142.6 340h0M145.5 344h0M147.3 339h0M139.5 339.1h0M139.8 338.5h0M147.7 337.6h0M149.2 340.3h0M140.8 345.5h0M147.9 349.4h0M149.4 336.8h0M144.7 340.8h0M143.1 349.1h0M149.4 342.1h0M144.6 345.1h0M147.1 349.2h0M141.1 343.2h0M144.5 343.6h0M139.9 338.1h0M141 342.2h0M146.7 341h0M142.4 341.1h0M144.1 342.9h0M145.2 345.9h0M148 349.6h0M142.5 345.2h0M149.3 337.2h0M146 346h0M142.4 339.9h0M145.5 344.5h0M146.2 343.1h0M142.1 345.5h0M150.2 338.6h0M147.8 348.2h0M140 336.6h0M144.1 338.8h0M141 343.5h0M140.5 342.3h0M146.9 336.9h0M146.2 342.5h0M144.7 340.1h0M143.2 338.1h0M148 345.4h0M140.6 336.9h0M146 346.4h0M142.3 345.8h0M142.3 340.7h0M143.8 346.4h0M149.7 344h0M145.4 339.5h0M148.7 345.4h0M143.5 340.8h0M149.1 337h0M140.2 336.9h0M144.7 342.7h0M143 344.5h0M141.1 345.9h0M146.7 338.2h0M142.7 336.9h0M146.7 345.1h0M141 339h0M147.4 339.9h0M140.7 340h0M145.5 344.8h0M148.2 348.2h0M144.4 348.1h0M143.2 346.3h0M143.8 339.4h0M147.8 348.5h0M143.4 338.6h0M143.4 340h0M143.7 340.4h0M145.6 338h0M145.3 346.2h0M145.4 346.9h0M147.8 337.8h0M143.2 347.6h0M145.1 336.5h0M145.6 342.4h0M146 349h0M141.1 346.3h0M147.9 342.4h0M140.2 336.9h0M148.6 345.3h0M146.4 336.9h0M147.6 337.5h0M142.4 343.9h0M147.8 338.2h0M147.6 342.1h0M143.1 340.3h0M146.1 349.1h0M145.3 341.7h0M146.8 345h0M144.2 348.2h0M146.3 346.7h0M147.4 347.1h0M148.2 346.8h0M145.9 348.9h0M147.1 342.1h0M144.2 346.3h0M141.1 340.7h0M149.4 345.3h0M141.3 340.1h0M144.1 338.1h0M150.1 339.1h0M142.8 336.7h0M146.6 337.2h0M142.1 345.9h0M144.4 336.8h0M149 343h0M140.5 336.6h0M141.8 337.9h0M147.3 338.4h0M142.1 343.1h0M142.5 337.9h0M147.8 337.7h0M145.4 339.3h0M144.7 346.6h0M149.2 338.7h0M143.7 348.1h0M149.6 342.4h0M142 341.5h0M149.9 336.7h0M143.9 346.3h0M145.1 342.1h0M150.3 338.9h0M142.4 344.1h0M144.6 336.4h0M148.1 340h0M145.9 344.9h0M141.1 337.6h0M142.3 339.4h0" stroke="#c46e46" stroke-width="1.15" stroke-linecap="square" fill="none"/>
<rect x="141.4" y="281.4" width="1.2" height="1.2" fill="#c46e46" stroke="none" stroke-width="0.8"/>
<rect x="145.9" y="282.9" width="1.2" height="1.2" fill="#c46e46" stroke="none" stroke-width="0.8"/>
<rect x="148.1" y="284.6" width="1.2" height="1.2" fill="#c46e46" stroke="none" stroke-width="0.8"/>
<rect x="140.9" y="286.2" width="1.2" height="1.2" fill="#c46e46" stroke="none" stroke-width="0.8"/>
<rect x="144.9" y="287.9" width="1.2" height="1.2" fill="#c46e46" stroke="none" stroke-width="0.8"/>
<rect x="147.1" y="289.9" width="1.2" height="1.2" fill="#c46e46" stroke="none" stroke-width="0.8"/>
<line x1="144.9" y1="313.5" x2="144.9" y2="319.4" stroke="#963c19" stroke-width="1.2"/>
<line x1="144.9" y1="331.5" x2="144.9" y2="336.4" stroke="#963c19" stroke-width="1.2"/>
<rect x="139.25" y="319.4" width="11.3" height="12.1" fill="#fff" stroke="#963c19" stroke-width="1.15"/>
<line x1="139.25" y1="325.6" x2="150.55" y2="325.6" stroke="#963c19" stroke-width="1.15"/>
<polygon points="156.43,314 156.31,311.42 156.56,308.83 156.67,306.25 156.42,303.67 157.03,301.08 156.78,298.5 156.88,295.92 165.9,295.92 166.3,298.5 166.9,301.08 166.51,303.67 166.88,306.25 166.84,308.83 166.61,311.42 166.73,314" fill="#be4b78"/>
<path d="M164.1 289.1h0M159.2 312.8h0M158.1 293.9h0M161.5 302.1h0M162.2 284.8h0M160.4 288.6h0M161.1 291.2h0M159.5 286.3h0M159.6 289.8h0M162.1 300h0M165.5 311.2h0M159.7 307.2h0M159.6 312.9h0M164.1 302.5h0M163.9 305.8h0M160.6 312.3h0M166.9 302.6h0M163 289.7h0M160.4 313.9h0M159.4 294.1h0M161.4 299.3h0M167.3 313.9h0M159.4 290.8h0M159.7 297.5h0M162.2 305.3h0M160 307.6h0M163.6 304.8h0M158.4 308.7h0M160.3 293.4h0M162.1 285.2h0M160.3 293.6h0M158.7 289.8h0M157.3 311.6h0M163.8 295.3h0M160.7 310.7h0M162.5 289.4h0M158.7 312.6h0M157.6 311.2h0M157.1 304.4h0M161.4 286.2h0M163.4 301h0M164.6 292h0M159.9 305h0M156.5 304.2h0M164 304.6h0M162.9 283.7h0M162.9 295.9h0M159.9 313.8h0M163.5 306.3h0M160.4 312.3h0M164.9 301.1h0M162.7 289.9h0M164.8 311.2h0M162.1 286.9h0M161.8 306h0M164.2 311.6h0M161.9 283.5h0M164.9 293.9h0M166.8 310.2h0M158.8 297.1h0M158.9 312.8h0M163.9 298.9h0M166.6 306.7h0M161.4 305.8h0M167.1 311.9h0M166.3 311.7h0M162.4 300h0M159.3 299.4h0M164.7 286.6h0M162.6 290.1h0M165.4 312h0M166.2 307.8h0M162.6 309.1h0M159.4 289.6h0M157.3 299.8h0M158.2 313.6h0M163.5 283.5h0M159.9 296h0M164.1 295.5h0M162.8 305.1h0M157.9 290.7h0M161.4 310.2h0M160.5 311.5h0M158.4 299.1h0M159.3 300.8h0M160 299.1h0M157.2 296.6h0M158.4 295.5h0M162.3 284.6h0M160.8 302.4h0M163.7 297.2h0M164 292.4h0M167.1 301.9h0M164.4 289.4h0M161.1 304.3h0M166 299.2h0M162.1 300.6h0M166.2 303.6h0M156.8 306.9h0M165.5 293.6h0M162.7 293.3h0M160.1 292.6h0M157.4 298.3h0M161.2 311.9h0M160.7 301.3h0M164 313.3h0M159 300.5h0M160.6 307.3h0M157 309.3h0M164.5 286.5h0M165.4 295.7h0M165.2 303.9h0M164.6 309.6h0M166 299.2h0M165.1 312.5h0M162.2 311.9h0M159.4 285h0M159.6 309h0M156.9 306.8h0M163.8 287.2h0M160.2 304.7h0M157.1 298.5h0M166.3 313.7h0M161.8 307.3h0M164.3 285.6h0M158.6 302.3h0M166.5 307.6h0M159.9 287.1h0M160.7 289.4h0M158.2 302.3h0M165.1 287.8h0M163.3 310.1h0M166.1 310.4h0M157.4 313.4h0M160.1 293.6h0M164.1 287h0M158.4 294h0M165.9 294.6h0M157.2 303.2h0M159.6 309.6h0M159 294.1h0M158.8 310.6h0M164.6 295.8h0M163.6 305.4h0M162.4 287.6h0M159.6 309.4h0M162.7 285.9h0M163.4 308.2h0M167.2 312.6h0M162.1 303.3h0M157 300.4h0M159.6 298.1h0M165.2 308.9h0M159.4 312.7h0M159.6 292.5h0M162.3 308.1h0M166.2 310.5h0M160 283.5h0M164.5 302.7h0M166.5 305h0M158.4 301.4h0M163.3 299.5h0M163.6 305.8h0M161.9 291.4h0M165.5 301.2h0M162 295.1h0M160.2 284.9h0M159 291.6h0M159.1 297.8h0M164.8 303.3h0M164.2 291.3h0M161.7 309.3h0M162.7 309.6h0M156.8 301.4h0M164 298.2h0M165.7 299h0M157.9 310.7h0M161.8 313.8h0M161.2 303.5h0M165.1 308.5h0M166.4 313h0M162.3 299.1h0M159.6 291.1h0M159.7 311.5h0M159.7 313.5h0M162.1 297.3h0M162.8 308.5h0M165.4 312.7h0M159.1 310.9h0M163.9 311.1h0M164 289.6h0M160.8 313.2h0M158.7 305.7h0M159.8 284.2h0M164.6 301.8h0M160.4 283.6h0M164.5 302.9h0M158.9 313.5h0M159.5 287.4h0M159.6 304.8h0M157.2 303.8h0M167.4 313.6h0M163.8 292.2h0M159 309.4h0M159.1 299.7h0M166.5 302.7h0M160 305.7h0M162.2 283.8h0M160.7 313.5h0M157.4 296.3h0M164 306.3h0M162.4 288.3h0M161.6 287.5h0M165.6 304.8h0M164.9 305.2h0M160.1 309.8h0M162.4 310.6h0M158.5 311h0M161.4 309.8h0M161.2 307.3h0M162.4 283.3h0M159.7 288.4h0M157.1 305.1h0M160.5 294.8h0M156.4 308.2h0M159.1 310.6h0M166.5 304.8h0M159.7 294h0M158 305.8h0M161.1 285.5h0M163.7 292.1h0M158.9 286.7h0M160.5 306.9h0M166.1 312.8h0M164.8 306.8h0M157 300.8h0M158.9 304.8h0M157.9 313.5h0M157 298.2h0M161 307.2h0M157.9 300h0M159.6 294.3h0M163.3 293.6h0M158.5 311.4h0M164.2 308.1h0M160.5 304.4h0M159.9 288.3h0M160.1 307.7h0M156.7 309.8h0M163.3 313.8h0M165 299.2h0M161 284h0M165.9 295.6h0M163.9 309.8h0M166.2 295.7h0M160 288.2h0M157.7 296.9h0M160.6 303.7h0M160.5 313.2h0M161.8 306.7h0" stroke="#be4b78" stroke-width="1.15" stroke-linecap="square" fill="none"/>
<polygon points="156.78,334.3 156.61,335.57 156.8,336.85 156.87,338.12 157.31,339.4 156.66,340.68 157.13,341.95 157.84,343.23 157.8,344.5 157.62,345.78 165.61,345.78 166.27,344.5 166.74,343.23 166.41,341.95 166.25,340.68 167.15,339.4 166.92,338.12 166.99,336.85 166.88,335.57 167.08,334.3" fill="#be4b78"/>
<path d="M161 338.1h0M162.7 335.6h0M162.3 343.9h0M157.3 343.9h0M160.3 338.8h0M160.7 334.7h0M161.8 334.6h0M161.5 341.9h0M159.1 337.9h0M160.1 334.4h0M162.3 347.5h0M163.7 337h0M161.5 336h0M166.3 342.4h0M162.6 338.4h0M163.8 348.5h0M163 342.6h0M160.9 339.1h0M165.4 337.2h0M160.9 347.3h0M158.2 347.8h0M161.9 335.4h0M160.3 337.6h0M159.4 349.1h0M158.8 336.1h0M159.3 343.6h0M162.3 334.3h0M159 338.9h0M163.4 340.4h0M163.1 341.3h0M165.2 341.5h0M160.6 349h0M166 338.2h0M164.2 337.7h0M163.6 343.8h0M164.1 348.9h0M163.2 335.7h0M162.5 340.4h0M159.5 338.5h0M162.1 344.8h0M159 336.7h0M158.3 337.8h0M157.9 340.7h0M157 334.7h0M164.1 335.1h0M161.3 335.2h0M161.6 345.2h0M165.9 335.7h0M158.2 347.1h0M161.9 336.9h0M160.9 345.7h0M159.5 344.2h0M160.2 344.2h0M164.6 338h0M164.5 346.5h0M161 341.6h0M163 344h0M164.3 346.3h0M160.4 335.3h0M159.2 343.4h0M156.4 336h0M166.2 341.9h0M159.2 349h0M161 343.7h0M160.8 342.7h0M165.4 348.3h0M164.2 334.6h0M156.7 335.3h0M164.3 337.3h0M159.2 349.5h0M156.6 337.9h0M161.6 341.2h0M159.7 338.6h0M164.7 345.8h0M160.6 337.3h0M164.4 342.5h0M161 349.2h0M162.2 343.8h0M158.7 345.8h0M157.4 335.9h0M159.9 348.3h0M157.8 340.3h0M156.5 337.8h0M158.2 341.6h0M159.6 342.6h0M161.6 336.5h0M159.2 338.4h0M156.9 334.6h0M160.3 347.5h0M158.2 334.9h0M167 340.2h0M165.9 336.2h0M160.9 340.3h0M160.9 345.9h0M162.4 334.7h0M163 343.2h0M166.6 337.2h0M165.8 347h0M165.4 339.6h0M158.8 344.4h0M158.1 334.4h0M157 335.3h0M164.6 338.3h0M162 337.6h0M158.6 334.3h0M158.3 348.8h0M165 341h0M163.9 345.6h0M165.1 338.9h0M164.1 346.3h0M159.1 349.3h0M161.1 348.6h0M159.5 344h0M158.1 347.8h0M159 341.8h0M160.4 338.8h0M164.8 343.2h0M163.3 338.4h0M159.4 338.3h0M160.4 347.7h0M160 335h0M159.2 344.7h0M162.2 344.7h0M158.7 343.6h0M157.8 335.1h0M161 338.2h0M161.8 334.3h0M159.9 339h0M166.5 341.1h0M166 336.2h0M164.6 337.8h0M167.3 335.2h0M166.8 339.4h0M160.8 336.4h0M158.8 344h0M163.8 337.1h0M160.5 348.6h0M160.2 336h0M159.4 349.4h0M160.6 342.8h0M159 342.9h0M165.6 342.5h0M162.9 346.8h0M162.5 340.6h0M165.6 335.2h0M161.4 343.7h0M161 343.3h0M158.9 338.7h0M162.5 342.2h0M156.9 340.8h0" stroke="#be4b78" stroke-width="1.15" stroke-linecap="square" fill="none"/>
<rect x="158.9" y="281.2" width="1.2" height="1.2" fill="#be4b78" stroke="none" stroke-width="0.8"/>
<rect x="162.4" y="282.4" width="1.2" height="1.2" fill="#be4b78" stroke="none" stroke-width="0.8"/>
<rect x="165" y="284.5" width="1.2" height="1.2" fill="#be4b78" stroke="none" stroke-width="0.8"/>
<rect x="159.6" y="285.7" width="1.2" height="1.2" fill="#be4b78" stroke="none" stroke-width="0.8"/>
<rect x="163.6" y="288.1" width="1.2" height="1.2" fill="#be4b78" stroke="none" stroke-width="0.8"/>
<line x1="161.8" y1="314" x2="161.8" y2="317.8" stroke="#821446" stroke-width="1.2"/>
<line x1="161.8" y1="328.2" x2="161.8" y2="334.3" stroke="#821446" stroke-width="1.2"/>
<rect x="156.15" y="317.8" width="11.3" height="10.4" fill="#fff" stroke="#821446" stroke-width="1.15"/>
<line x1="156.15" y1="323.2" x2="167.45" y2="323.2" stroke="#821446" stroke-width="1.15"/>
<polygon points="173.34,315.3 173.22,312.48 173.77,309.65 173.28,306.82 173.63,304 173.21,301.18 174.01,298.35 173.37,295.52 173.24,292.7 173.92,289.88 173.74,287.05 174.22,284.22 183.3,284.22 183.35,287.05 183.86,289.88 183.36,292.7 183.6,295.52 184.28,298.35 183.5,301.18 183.93,304 183.59,306.82 184.08,309.65 183.52,312.48 183.64,315.3" fill="#6e9632"/>
<path d="M184.1 292.5h0M182.8 304.9h0M184.2 313h0M175.7 301.9h0M180.3 288.3h0M181.9 284.1h0M178.8 290h0M174.8 281.7h0M180.9 287h0M182.1 309.7h0M179.1 303.2h0M175.5 287.2h0M180.3 308.8h0M179.3 314.2h0M178.6 290.5h0M182.1 309.9h0M181.6 287.6h0M183.2 299.7h0M174.9 290.1h0M174.2 306.1h0M177 314.8h0M182.2 287.2h0M175.1 313.2h0M182.6 305.4h0M183.2 297.2h0M184.2 314.2h0M180.1 310.9h0M181.1 286.7h0M180.6 311.2h0M173.3 304h0M176.6 307h0M176.2 296.7h0M180.9 297.7h0M174.5 311.6h0M178.3 294.2h0M174.4 312.9h0M179.8 284h0M175.3 306.4h0M180.4 281.6h0M177.2 292.5h0M177.7 307.9h0M180.2 312.5h0M182.3 304.2h0M178.2 304.7h0M183.6 301.3h0M181 306.8h0M179.6 310.1h0M182.9 308.7h0M182.7 308.6h0M178.2 294.9h0M177.6 284.3h0M179.8 292.2h0M173.8 303.3h0M176.3 304.4h0M183.8 303.6h0M180.9 308.4h0M175.9 295.1h0M174.6 304.6h0M176.2 285.9h0M176.9 304.3h0M182.5 289.1h0M179.2 298.2h0M183.1 313.6h0M177.2 313.9h0M181.2 305.8h0M177 295.2h0M183.3 285.8h0M180.2 315h0M177.2 302.6h0M176.6 302.8h0M179.9 295.1h0M183.2 282.7h0M177.7 281.7h0M180.3 288.7h0M184.2 293.9h0M178.3 314.3h0M180.4 305h0M184.2 310.6h0M177.2 310.9h0M177.5 312.6h0M174.1 292.3h0M180.4 312h0M181.4 297h0M182.2 309.6h0M181.7 292.7h0M178.3 313.2h0M182.7 315.1h0M182.6 283.8h0M177 315h0M179.1 300.2h0M181.9 313.3h0M178.8 308.2h0M179.5 313h0M174.1 312.9h0M176.4 301.1h0M175.9 290.9h0M173.7 304.5h0M178.2 310.6h0M178.2 299.4h0M174.5 287.8h0M175.1 287.9h0M178.9 282.7h0M180 304.8h0M183.6 287.3h0M173.2 304.5h0M182.3 312.3h0M181 292.6h0M179 312.3h0M174.3 315h0M183.9 308.2h0M182.6 296.2h0M177.8 314.7h0M176 314.1h0M183.4 313.3h0M178.6 307.3h0M183 295.8h0M179.4 283.7h0M183.2 301.5h0M176.5 305.2h0M176 292.4h0M177.9 306.1h0M177.1 302.4h0M178.1 304h0M182.5 314.6h0M179 314.4h0M177.6 299.8h0M174.2 310.5h0M176.6 305.9h0M175.7 302.1h0M178.6 292h0M177.7 315.2h0M174 282.9h0M183.8 298.1h0M179.8 306.1h0M176.5 306h0M179.7 297.5h0M178.7 307.7h0M181.5 300.9h0M174.1 314.6h0M176.1 309.7h0M177.9 290.1h0M177.7 287.4h0M180.7 308.6h0M184.1 313.9h0M176.9 288.6h0M182.3 307.7h0M180.2 290.4h0M181.7 314.5h0M180.1 314.6h0M183.5 299.6h0M173.4 296.4h0M181.2 284.3h0M173.2 298.6h0M177.8 292.5h0M184.1 294.8h0M174.4 285h0M178.1 290.7h0M177.4 291.9h0M178 303.4h0M176.7 313.2h0M174 292.6h0M182.4 313.2h0M179.2 295.3h0M174.4 313.3h0M183.8 307.9h0M183.4 299.3h0M177.7 310.8h0M182.5 300.2h0M182.9 313.1h0M173.5 302.5h0M177.3 303.9h0M183.5 295h0M180.8 301.8h0M181.8 305.4h0M181.4 313.5h0M179.7 312h0M177 311.1h0M177 312.1h0M178.9 298.2h0M179.5 305.4h0M177.2 288.2h0M178.5 298.5h0M177.1 282.3h0M175.8 294.1h0M181.3 309.4h0M176 298.8h0M182.3 314.3h0M181.1 305.7h0M180 303.9h0M184 299.4h0M178.3 285.3h0M175.7 302h0M174.3 291.9h0M182.6 308h0M180.9 314.9h0M179.3 299h0M174.8 307.2h0M181.3 283.6h0M174.4 289.7h0M175.6 290.6h0M179.1 311.1h0M174.5 297.5h0M179.6 291.4h0M183 285.8h0M177.2 294.4h0M180.8 283.5h0M182.7 308.5h0M176.1 292.9h0M173.3 309.7h0M175.9 300.2h0M175.9 308.4h0M178.5 312.9h0M176.3 309h0M178.8 308.9h0M175.2 286.9h0M182.4 287.5h0M179.2 297.5h0M179.1 292.6h0M183.4 295.6h0M176.1 291h0M183.6 314.5h0M181.9 306.2h0M178.2 310.2h0M181.3 306h0M178.8 283.9h0M177 299.1h0M183.7 310.2h0M183.6 313.4h0M173.9 295.7h0M174.6 285.7h0M174.5 299.1h0M177 281.9h0M174.1 286.9h0M173.9 295.3h0M179.5 314.9h0M180.4 282.2h0M181.7 287.6h0M174 300.8h0M175.2 300.6h0M177.1 300.6h0M175.3 301.6h0M177.8 293.8h0M174 302h0M179.3 302h0M179.3 282.6h0M176.5 312.8h0M181 307.1h0M183.4 284.1h0M182.8 283.6h0M183.3 287.5h0M178.6 315.1h0M180.8 298.2h0M180 297.4h0M174.6 284.3h0M183.8 300.8h0M174.4 314.9h0M183.5 287.1h0M173.5 315h0M180.7 288.7h0M179.6 300.8h0M182.1 291.7h0M173.9 315.3h0M183.8 290.2h0M177.7 288.6h0M177 307.1h0M181.7 315.2h0M179.7 309.3h0M176.9 300.6h0M178.2 295h0M183 310.2h0M174.8 311.8h0M178.5 309.6h0M176.9 290.6h0M180.4 310h0M179 309.4h0M182.9 309.6h0M175.7 311.5h0M176.8 308.2h0M180.6 292.9h0M179.1 290.3h0M181.7 314.1h0M175.5 309.9h0M184.2 304.5h0M177.1 306h0M183.7 285.3h0M174.6 305.4h0M181.8 290.4h0M182 307h0M176.3 305.7h0M181.4 298.1h0M182.3 302.4h0M178.7 315.2h0M173.8 305.7h0M175.1 285.1h0M182.9 311h0M182.8 283.1h0M183.5 306.9h0M181.1 312.6h0M175.7 283.8h0M180.7 312.8h0M181 286.5h0M178.3 283.6h0M174.4 305.9h0M183.6 309h0M175.2 314.2h0M173.7 306.7h0M175.1 308h0M179 313.1h0M179.5 300.1h0M179 291.5h0M174.6 283.7h0M174 310.5h0M181.6 307.9h0M178.7 284.7h0M176.8 312.2h0M176.4 299h0M183.8 290.2h0M179.9 303h0M178.3 288h0M183.7 311.4h0M174.3 282.4h0M177.6 291.5h0M174.9 314.6h0M181.3 311.8h0M173.3 310.8h0M182.1 310.6h0M180.4 301.6h0M175.1 302.8h0M176.5 315.2h0M176 314.8h0M177.2 297.1h0M180.1 302.5h0M177.1 307.7h0M179.5 286.4h0M179.1 304.4h0M176.8 302.9h0M176 285.2h0M182.2 284.2h0M175.2 286.5h0M184.1 301.2h0" stroke="#6e9632" stroke-width="1.15" stroke-linecap="square" fill="none"/>
<polygon points="174,344.6 173.69,345.02 174.12,345.43 174.06,345.85 173.81,346.27 174,346.68 174.54,347.1 174.85,347.52 174.8,347.93 176.08,348.35 176.27,348.77 176.77,349.18 177.66,349.6 180.23,349.6 180.58,349.18 181.2,348.77 182.04,348.35 181.67,347.93 182.53,347.52 182.91,347.1 182.96,346.68 183.26,346.27 183.88,345.85 184.21,345.43 183.94,345.02 184.3,344.6" fill="#6e9632"/>
<path d="M182.9 346.6h0M177.5 346.7h0M178.7 344.6h0M179.5 345.5h0M178.4 347.4h0M178.7 344.8h0M180.1 346.5h0M177.9 349.4h0M174.5 346.3h0M177 348.3h0M180.5 348.5h0M183.1 345.4h0M178 346.7h0M182.9 346.9h0M178.5 346.6h0M182.4 345.6h0M177.2 346.6h0M175.5 345.2h0M180.5 348.5h0M180.1 349.5h0M181.1 347.7h0M181.1 347.8h0M176.6 348.3h0M177.5 348.4h0M183.3 345.4h0M178.8 344.6h0M181.8 345.8h0M182.3 347.2h0M179.3 349.2h0M180.6 344.7h0M184.1 344.9h0M177.7 348.8h0M180.9 345.2h0M182.1 348.1h0M175.4 347.3h0M175.4 347.9h0M180.1 348.8h0M181.2 348.3h0M182.8 347h0M178.6 347.4h0M177.2 346h0M174.9 344.6h0M176.9 348.3h0M181 347.5h0M178.8 347.7h0M176.3 345.7h0M180.3 345.2h0M182.3 347.7h0M183.3 345.8h0M177.7 349h0" stroke="#6e9632" stroke-width="1.15" stroke-linecap="square" fill="none"/>
<line x1="178.7" y1="315.3" x2="178.7" y2="324" stroke="#4a6420" stroke-width="1.2"/>
<line x1="178.7" y1="340.5" x2="178.7" y2="344.6" stroke="#4a6420" stroke-width="1.2"/>
<rect x="173.05" y="324" width="11.3" height="16.5" fill="#fff" stroke="#4a6420" stroke-width="1.15"/>
<line x1="173.05" y1="332.9" x2="184.35" y2="332.9" stroke="#4a6420" stroke-width="1.15"/>
<polygon points="190.99,298.2 190.52,296.8 190.52,295.4 190.88,294 190.73,292.6 190.5,291.2 190.94,289.8 190.91,288.4 190.85,287 191.05,285.6 190.82,284.2 191.73,282.8 200.5,282.8 200.26,284.2 200.9,285.6 200.93,287 201.11,288.4 201.2,289.8 200.79,291.2 201.03,292.6 201.19,294 200.82,295.4 200.82,296.8 201.29,298.2" fill="#28967d"/>
<path d="M192.6 295.4h0M193.1 289.9h0M191.2 294.3h0M194.4 297.8h0M201 290.9h0M195 288.8h0M193 293h0M201.1 291.8h0M195.2 297.1h0M198.9 287.9h0M197.6 290.4h0M199.8 282.7h0M196.5 295.4h0M196.2 281.5h0M199 296.3h0M192.1 297.8h0M193.5 290.5h0M198.5 287.2h0M199 294.4h0M198.3 288.6h0M195.2 292.1h0M195.7 297.3h0M199.6 282.4h0M191.2 297.8h0M198.2 295.1h0M191.8 292.5h0M196.8 292.7h0M194.9 286.8h0M198 288.6h0M190.9 289.3h0M191.9 287.4h0M195.7 297.8h0M191.2 298.1h0M195.6 293.2h0M201.1 297.3h0M195.9 284.6h0M193.9 289.8h0M192.7 281.8h0M192.9 294.6h0M196.1 284.3h0M194.9 292.9h0M193.5 283.8h0M198.2 285.8h0M194.5 292.3h0M195.5 292.5h0M197.4 294.4h0M193.8 292.9h0M195.5 286.2h0M200.2 291.8h0M194.6 292.2h0M200.8 283.6h0M194.9 285.9h0M198.7 288.2h0M198.5 294.7h0M197.5 282.5h0M195.3 288.2h0M193 288.5h0M196.4 286.2h0M194.6 281.8h0M190.7 287.4h0M199 292.8h0M197.3 295.3h0M194.9 295.8h0M193.4 281.5h0M191.7 283.3h0M199.6 289.9h0M194.9 284.9h0M198.4 289.7h0M198.7 286.4h0M193.2 289.9h0M196.7 287.5h0M201.4 290.6h0M199.1 296.9h0M198.5 294.3h0M193.9 282.5h0M196.3 290.2h0M192.3 291.5h0M200.4 289.1h0M193.7 288.3h0M195.1 285.5h0M197.2 296.8h0M196.3 292.1h0M196.6 281.6h0M194.6 282.4h0M191.4 286.5h0M198.1 294.7h0M199.6 287.8h0M193.5 293.4h0M196.4 293.8h0M194.6 298.1h0M192.1 288.5h0M200.2 294.5h0M193.6 282.8h0M191.7 296.4h0M199.3 297.5h0M193.4 286.9h0M198.2 291.6h0M199.6 298h0M193 284.4h0M198.2 287.6h0M200.2 294.1h0M195.7 295.9h0M195.3 294.5h0M196.7 285.4h0M201.4 289.4h0M192.9 295.8h0M192.1 289.2h0M194.6 282.2h0M195.2 292.4h0M200.4 285.1h0M192.4 288.1h0M198.3 293.8h0M200.3 295.9h0M193.2 284.1h0M193 293.7h0M191 287.3h0M191.2 287.7h0M196.5 284.8h0M191.5 289.9h0M194.4 297.9h0M196.9 281.7h0M191.5 284.3h0M190.6 297.3h0M192.4 287.7h0M197.9 295.1h0M194 287.7h0M193.6 291.9h0M194.4 290.3h0M193.2 293.7h0M193.3 294.8h0M193.9 298.1h0M193.4 289.7h0M199.9 297.2h0M196.1 291.9h0M200.3 294.5h0M197.3 286.6h0M198.1 288.4h0M195 291.4h0M196 293.3h0M196.3 291.9h0M199.2 290.8h0M193.2 283.7h0M193.8 298.1h0M199.3 298h0M193.6 289.2h0M200.1 296.2h0M197.9 284.9h0M198.7 287.8h0M194.9 292.2h0M200.3 290.4h0M199.6 281.6h0M191.5 284.9h0M201.3 295.5h0M196.2 290.6h0M200.1 294.5h0M201.5 291.1h0M201.5 297.6h0M192.1 298.1h0M197.6 293.3h0M196.7 297.2h0M195.4 282.7h0M197 286.4h0M192.4 289.9h0M200.5 292h0M192.9 288.1h0M196.5 292.3h0M196.9 294.1h0M190.6 289h0M197.8 295.9h0M191.2 295.9h0M194.2 286.4h0M196.5 282.3h0M197.5 297.3h0M199.5 295.3h0M198.8 287.2h0M190.8 297.8h0M192.1 285.7h0M190.7 296.1h0M195.7 296.6h0M194.4 282.3h0M199.7 295.3h0M197.5 296.3h0M200.8 289.3h0M196.7 297.9h0M199.6 293.4h0M198.4 295.4h0M195.9 296.3h0M193.7 282.1h0M200.7 295h0M191.2 288.1h0M193.1 296.3h0M199.9 294.8h0M201.3 287.6h0M197.4 288.2h0M198.4 293.4h0M191.1 291.5h0M194.7 291.5h0M191 290.8h0M201.4 298h0M194.1 293.6h0M197 296.8h0M192.9 283.2h0M196 291.4h0M196.7 286.3h0M192.5 295.6h0M191.4 287.1h0M191.2 284.3h0M195.6 296.3h0M197.3 284.7h0M198.8 286.7h0M191.1 287.2h0M192.3 285.1h0M190.8 296.6h0M200.2 298h0M191.4 293.4h0M199.9 297.9h0M200.6 289.5h0M191.7 298h0M192.5 294.9h0M192.6 297.2h0" stroke="#28967d" stroke-width="1.15" stroke-linecap="square" fill="none"/>
<polygon points="191.03,344 190.92,344.47 191.31,344.93 190.96,345.4 190.89,345.87 191.66,346.33 191.34,346.8 191.89,347.27 192.1,347.73 192.68,348.2 193.1,348.67 194.13,349.13 194.34,349.6 196.92,349.6 197.94,349.13 198.03,348.67 198.64,348.2 198.96,347.73 199.57,347.27 199.71,346.8 200.62,346.33 200.34,345.87 200.78,345.4 201.4,344.93 201.17,344.47 201.34,344" fill="#28967d"/>
<path d="M194.2 344.7h0M200.3 344h0M195 346.8h0M200.2 346.5h0M194.7 344.4h0M195 347.6h0M199.2 347.6h0M193.6 344.1h0M198.7 345.1h0M197.3 348.1h0M194.6 349.1h0M199.7 345.7h0M193.3 348h0M196.8 349.5h0M195.3 348.6h0M200.1 346.9h0M196.4 348.9h0M198.5 348.8h0M196.9 348.5h0M194.7 349.3h0M196.7 345.7h0M199.1 344.4h0M197.4 344.2h0M194.1 345.1h0M193.3 346.9h0M199.6 346h0M195.3 349.5h0M198.1 345.5h0M199.9 344.6h0M196.6 344.7h0M190.7 345.4h0M190.4 344h0M193.6 345.3h0M196.4 349.5h0M198.4 344.2h0M195.8 344.8h0M198.7 347.7h0M195.7 349.1h0M194.9 345.3h0M198.6 345.2h0M197.9 346.1h0M199.1 344.5h0M195 349.4h0M193 347h0M195 344.1h0M198.6 344.6h0M197.6 346.7h0M194.5 349.4h0M190.8 344.3h0M199.3 346h0" stroke="#28967d" stroke-width="1.15" stroke-linecap="square" fill="none"/>
<line x1="196" y1="298.2" x2="196" y2="319.4" stroke="#1a6a58" stroke-width="1.2"/>
<line x1="196" y1="339.9" x2="196" y2="344" stroke="#1a6a58" stroke-width="1.2"/>
<rect x="190.35" y="319.4" width="11.3" height="20.5" fill="#fff" stroke="#1a6a58" stroke-width="1.15"/>
<line x1="190.35" y1="330.5" x2="201.65" y2="330.5" stroke="#1a6a58" stroke-width="1.15"/>
<polygon points="208.01,330.5 207.82,329.32 208.49,328.15 208.26,326.98 209.04,325.8 209.29,324.62 217.52,324.62 217.85,325.8 217.6,326.98 218.27,328.15 217.94,329.32 218.32,330.5" fill="#5082be"/>
<path d="M215.7 323.2h0M209.2 327h0M214.8 322.1h0M213.3 318.5h0M216.1 323.5h0M216.6 322h0M216 327.7h0M212.9 322.7h0M212.8 330.5h0M214.2 328h0M213.2 324.6h0M209 330.1h0M214.6 323.1h0M214 316.6h0M212.6 327.7h0M215.8 324.7h0M217.2 326.3h0M212.2 325h0M211.8 325.1h0M211.8 316.4h0M209 326.2h0M210.6 322h0M212.3 329.3h0M215.2 323.2h0M211.2 325.6h0M217 326.7h0M207.8 328.6h0M213 318.5h0M209.1 329.5h0M214.2 318.4h0M215.1 330.1h0M212.5 328.6h0M209.5 323.2h0M212.5 317.6h0M216.2 329.4h0M208 329.7h0M212.9 322.4h0M214.4 318.2h0M208.2 328.7h0M212.9 323.2h0M217.4 327.5h0M214.6 328.7h0M217.8 330h0M213.5 317.3h0M215.4 327.3h0M214.4 318.1h0M213.1 330.3h0M213.6 329.4h0M214.4 317.3h0M213.7 328.2h0M209.7 327.3h0M214.8 320.9h0M212.3 327.1h0M214.7 321.7h0M209.5 325.3h0M209.4 329.8h0M213.1 319.5h0M212.1 322.5h0M209.9 326.6h0M213.4 316.9h0M215.3 329.5h0M214 323.3h0M213.8 320.5h0M215.3 318.6h0M214.5 326.1h0M212.2 326.6h0M214.6 326.7h0M211.6 326.9h0M214.6 319.1h0M215.6 322h0M214.5 326.4h0M211.1 328.2h0M216.4 329.8h0M212.3 317.8h0M209.3 326.5h0M214.6 329.4h0M211.2 318.3h0M215.9 328.1h0M217.2 328.5h0M212.8 326.9h0M210.8 328.7h0M211 325.9h0M210 321.1h0M215.4 322.6h0M209.9 327.2h0M208.4 329.6h0M213.7 320.1h0M212.6 330.4h0M211.6 323.3h0M212.2 330.3h0M217.9 326.9h0M217.3 326.8h0M213.5 318.8h0M216.5 329.5h0M213.7 329.9h0M208.6 329.8h0M209.8 326.1h0M213.3 316.5h0M215.1 318.3h0M214 320.7h0M215.7 325.2h0M210.6 322.1h0M212.3 324.3h0M215 324.5h0M213.6 321.8h0M215 320.1h0M209.2 329.9h0M209.3 330.2h0M212.4 317.1h0M212.8 325.7h0" stroke="#5082be" stroke-width="1.15" stroke-linecap="square" fill="none"/>
<polygon points="208.39,345 208.31,345.38 207.59,345.77 208.01,346.15 208.25,346.53 208.43,346.92 208.55,347.3 209.35,347.68 210,348.07 210,348.45 210.31,348.83 210.8,349.22 211.33,349.6 213.9,349.6 214.61,349.22 215.25,348.83 215.96,348.45 216.87,348.07 217.03,347.68 216.92,347.3 217.39,346.92 217.69,346.53 217.83,346.15 217.67,345.77 218.56,345.38 218.69,345" fill="#5082be"/>
<path d="M213.6 345h0M217.4 345.2h0M210.5 345.1h0M213.7 348.3h0M212.4 347.7h0M210.2 347h0M210.7 346.7h0M209.9 347.8h0M209.7 345.3h0M213.9 347h0M218.6 345h0M212.4 348.6h0M216.7 345.4h0M212 349.5h0M215.4 348.2h0M211.9 349.2h0M209.4 345.3h0M217.5 345.7h0M213 349.1h0M211.5 345.3h0M214.7 345.7h0M215.2 348h0M212.7 346.6h0M211.8 346.7h0M215 346.7h0M211.8 348h0M209.8 347.2h0M211.8 345.1h0M208.1 346.2h0M212.3 345.2h0" stroke="#5082be" stroke-width="1.15" stroke-linecap="square" fill="none"/>
<line x1="213.1" y1="330.5" x2="213.1" y2="334.9" stroke="#2a5080" stroke-width="1.2"/>
<line x1="213.1" y1="343.4" x2="213.1" y2="345" stroke="#2a5080" stroke-width="1.2"/>
<rect x="207.45" y="334.9" width="11.3" height="8.5" fill="#fff" stroke="#2a5080" stroke-width="1.15"/>
<line x1="207.45" y1="339.6" x2="218.75" y2="339.6" stroke="#2a5080" stroke-width="1.15"/>
<path d="M228.5 303.9h0M231.8 304.4h0M226.6 310.6h0M232.6 308.8h0M228.8 304.3h0M228.7 307.4h0M232.5 307.2h0M233.2 309.2h0M230.4 302h0M231.5 301.5h0M235.2 310h0M233.2 309.8h0M227.9 310.4h0M233 307.5h0M228 304.9h0M231.5 302.3h0M226.3 306.8h0M227.9 309h0M234 307.8h0M232.4 305.9h0M227.2 310.7h0M229 304.3h0M225.5 309.5h0M229 310.8h0M229.2 306.4h0M228.4 306.2h0M232 311h0M229.9 308.6h0M227.8 308.2h0M227.7 310.8h0M226.2 308.9h0M229.8 310.9h0M234.2 310.9h0M229.5 308.3h0M226.1 306.7h0M233.1 310.5h0M229.9 306.3h0M232.4 308.5h0M232.4 306.9h0M231.9 303.1h0M231.1 304.4h0M230.3 307.3h0M230.2 306.1h0M231.8 303.3h0M232.8 310.8h0M230.7 305.7h0M228.2 302.2h0M228.9 307.2h0M228.8 301.7h0M227.2 306.3h0M229.9 304.1h0M228.8 304.3h0M227.9 302.5h0M232.4 309.6h0M231.2 302.5h0M225.8 309.1h0M231.5 304.6h0M234.8 310.7h0M226.2 306.6h0M228.6 307.2h0" stroke="#f5a032" stroke-width="1.15" stroke-linecap="square" fill="none"/>
<path d="M234.3 334.1h0M228.6 346.3h0M227.9 338.3h0M227.1 341.8h0M229.1 336.8h0M229.4 338.7h0M233.6 340.6h0M231.6 346.3h0M228.5 344.4h0M229.6 335.7h0M230.8 341.3h0M235 337h0M225 336.5h0M226.8 334h0M232.3 342.8h0M227.1 333.6h0M233.1 335.6h0M229 345.7h0M235.2 334.1h0M230.7 347h0M232.3 338.7h0M230.1 343.4h0M230.3 336h0M228.7 341.7h0M227.3 341.3h0M229.1 347h0M234.9 335.4h0M231.5 346.6h0M231.8 344.7h0M230.4 344.3h0M232.6 333.9h0M231.8 344.6h0M225.1 333.6h0M229.9 342.8h0M232.2 345.6h0M231.7 338.3h0M231.4 341.7h0M231.4 337.2h0M234.5 333.8h0M232 342.7h0M227.2 338.6h0M231.7 338.4h0M226.6 339.9h0M228.9 333.4h0M227.1 335.7h0M229.1 335.4h0M232.9 342.2h0M226.5 341.9h0M230.5 345.1h0M230.8 342.8h0M228.4 337.1h0M231.8 333.9h0M232 333.7h0M230.7 345.9h0M232.5 340.8h0M231.1 346.8h0M229.9 347.3h0M231.3 333.5h0M232.8 341.3h0M228.9 340.8h0M233.7 333.4h0M233.8 341h0M232.9 340.6h0M233 343.5h0M233.7 338.6h0M225.2 337.6h0M228.5 336.7h0M229.7 347.4h0M232 336h0M227.8 334.1h0" stroke="#f5a032" stroke-width="1.15" stroke-linecap="square" fill="none"/>
<rect x="228.4" y="286.2" width="1.2" height="1.2" fill="#f5a032" stroke="none" stroke-width="0.8"/>
<rect x="228.4" y="288" width="1.2" height="1.2" fill="#f5a032" stroke="none" stroke-width="0.8"/>
<rect x="228.9" y="297.9" width="1.2" height="1.2" fill="#f5a032" stroke="none" stroke-width="0.8"/>
<rect x="230.9" y="296.7" width="1.2" height="1.2" fill="#f5a032" stroke="none" stroke-width="0.8"/>
<line x1="230" y1="311" x2="230" y2="316.4" stroke="#d07040" stroke-width="1.2"/>
<line x1="230" y1="327.5" x2="230" y2="333.4" stroke="#d07040" stroke-width="1.2"/>
<rect x="224.35" y="316.4" width="11.3" height="11.1" fill="#fff" stroke="#d07040" stroke-width="1.15"/>
<line x1="224.35" y1="321.7" x2="235.65" y2="321.7" stroke="#d07040" stroke-width="1.15"/>
<line x1="133.3" y1="259.3" x2="133.3" y2="350.4" stroke="#222" stroke-width="1.4"/>
<line x1="130.5" y1="259.7" x2="133.3" y2="259.7" stroke="#222" stroke-width="1.1"/>
<text x="129.6" y="262.22" font-size="7" text-anchor="end" fill="#444" style="" stroke="#444" stroke-width="0.21">6</text>
<line x1="130.5" y1="289.9" x2="133.3" y2="289.9" stroke="#222" stroke-width="1.1"/>
<text x="129.6" y="292.42" font-size="7" text-anchor="end" fill="#444" style="" stroke="#444" stroke-width="0.21">4</text>
<line x1="130.5" y1="320" x2="133.3" y2="320" stroke="#222" stroke-width="1.1"/>
<text x="129.6" y="322.52" font-size="7" text-anchor="end" fill="#444" style="" stroke="#444" stroke-width="0.21">2</text>
<line x1="130.5" y1="350.1" x2="133.3" y2="350.1" stroke="#222" stroke-width="1.1"/>
<text x="129.6" y="352.62" font-size="7" text-anchor="end" fill="#444" style="" stroke="#444" stroke-width="0.21">0</text>
<line x1="131.3" y1="350.1" x2="240.8" y2="350.1" stroke="#222" stroke-width="1.4"/>
<text x="184.9" y="251" font-size="7.2" text-anchor="middle" fill="#333" style="font-style:italic;" stroke="#333" stroke-width="0.22">TDO2</text>
<ellipse cx="144.9" cy="357.4" rx="7.1" ry="4.1" fill="#fff" stroke="#222" stroke-width="0.8"/>
<text x="144.9" y="359.7" font-size="6.3" text-anchor="middle" fill="#333" style="" stroke="#333" stroke-width="0.19">C1</text>
<ellipse cx="161.8" cy="357.4" rx="7.1" ry="4.1" fill="#fff" stroke="#222" stroke-width="0.8"/>
<text x="161.8" y="359.7" font-size="6.3" text-anchor="middle" fill="#333" style="" stroke="#333" stroke-width="0.19">C2</text>
<ellipse cx="178.7" cy="357.4" rx="7.1" ry="4.1" fill="#fff" stroke="#222" stroke-width="0.8"/>
<text x="178.7" y="359.7" font-size="6.3" text-anchor="middle" fill="#333" style="" stroke="#333" stroke-width="0.19">C3</text>
<ellipse cx="196" cy="357.4" rx="7.1" ry="4.1" fill="#fff" stroke="#222" stroke-width="0.8"/>
<text x="196" y="359.7" font-size="6.3" text-anchor="middle" fill="#333" style="" stroke="#333" stroke-width="0.19">C4</text>
<ellipse cx="213.1" cy="357.4" rx="7.1" ry="4.1" fill="#fff" stroke="#222" stroke-width="0.8"/>
<text x="213.1" y="359.7" font-size="6.3" text-anchor="middle" fill="#333" style="" stroke="#333" stroke-width="0.19">C5</text>
<ellipse cx="230" cy="357.4" rx="7.1" ry="4.1" fill="#fff" stroke="#222" stroke-width="0.8"/>
<text x="230" y="359.7" font-size="6.3" text-anchor="middle" fill="#333" style="" stroke="#333" stroke-width="0.19">C6</text>
<text x="117.8" y="304.7" font-size="7" text-anchor="middle" fill="#333" style="" transform="rotate(-90 117.8 304.7)" stroke="#333" stroke-width="0.21">Log10 (normalized expression+1)</text>
<path d="M145.3 260.7 V259.7 H229.7 V260.7" fill="none" stroke="#8a8a8a" stroke-width="0.8"/>
<path d="M162 265.5 V264.5 H229.7 V265.5" fill="none" stroke="#555" stroke-width="0.8"/>
<path d="M179 269.7 V268.7 H229.7 V269.7" fill="none" stroke="#555" stroke-width="0.8"/>
<path d="M196.2 273.4 V272.4 H229.7 V273.4" fill="none" stroke="#555" stroke-width="0.8"/>
<path d="M212.6 277.1 V276.1 H229.7 V277.1" fill="none" stroke="#555" stroke-width="0.8"/>
<text x="236.2" y="263.6" font-size="7" text-anchor="start" fill="#333" style="" stroke="#333" stroke-width="0.21">***</text>
<text x="236.6" y="267.8" font-size="6.3" text-anchor="start" fill="#333" style="" stroke="#333" stroke-width="0.19">ns</text>
<text x="234.5" y="276.8" font-size="7" text-anchor="start" fill="#333" style="" stroke="#333" stroke-width="0.21">****</text>
<path d="M231.5 268 H232.8 V277.7 H231.5" fill="none" stroke="#555" stroke-width="0.8"/>
<rect x="361.7" y="280" width="17" height="40.6" fill="#e8e8e8" stroke="none" stroke-width="0.8"/>
<polygon points="277.96,293.1 277.75,292.2 277.89,291.3 277.88,290.4 278.66,289.5 278.56,288.6 278.58,287.7 288.17,287.7 288.45,288.6 288.75,289.5 288.09,290.4 288.17,291.3 288.05,292.2 288.26,293.1" fill="#c46e46"/>
<path d="M279.3 289.9h0M282.6 287.6h0M282 285h0M281.7 282.6h0M280.5 288.4h0M281.2 293.1h0M281.9 283.7h0M283.7 288.8h0M283.8 291.2h0M281.7 292.8h0M286.9 291h0M285.2 285.4h0M287.2 287.6h0M279.3 285.8h0M286.2 292.3h0M287.4 284.5h0M280.3 285.3h0M284.7 287.9h0M279.6 287.5h0M283.5 282.7h0M288.8 291.1h0M278.6 290h0M281 286.7h0M281.2 291.6h0M281.5 287.5h0M287.4 286.7h0M285.4 282.4h0M281.7 283.4h0M280 284.7h0M279 287.8h0M288.4 292.6h0M285.8 292.4h0M278.1 288.4h0M279.6 285.1h0M285.7 283.9h0M282.8 288.8h0M285.6 293h0M283.7 292.9h0M284.6 283.3h0M285.9 292.4h0M281.8 286.3h0M284.1 285.4h0M283.7 289.7h0M281 291.1h0M282.3 283.8h0M282.2 285.4h0M277.8 291.9h0M284.9 282.8h0M283.9 282.6h0M279.6 292.8h0M284.7 292.9h0M288.1 287.3h0M280.4 290.9h0M279.5 291.6h0M283.3 293h0M281.9 289.6h0M282.3 283h0M283.7 284.7h0M278.1 292.5h0M287.3 287.4h0M285.7 292.9h0M285.5 291.5h0M285.3 284.6h0M279.6 291.4h0M285.8 282.8h0M283.7 283.4h0M281.9 292.9h0M280.4 283.5h0M278.3 290.9h0M282.3 283.9h0M281.8 292.7h0M282.7 291.7h0M285 287.3h0M283.8 292.6h0M282.7 292.8h0M281.4 284.9h0M281.3 284.7h0M286.6 289.9h0M284 293.1h0M285.7 288.3h0M284.6 283h0M280 291.6h0M281 288.9h0M279.1 288.1h0M282.6 286.4h0M279.2 292.9h0M285.7 283.2h0M282.6 283.9h0M281.6 282.5h0M287.6 286h0" stroke="#c46e46" stroke-width="1.15" stroke-linecap="square" fill="none"/>
<polygon points="278.66,306 278.42,307.39 278.01,308.78 278.19,310.18 278.38,311.57 278.15,312.96 279.15,314.35 278.97,315.74 279.02,317.13 287.18,317.13 287.79,315.74 288.5,314.35 287.87,312.96 288.38,311.57 288.36,310.18 288.27,308.78 288.72,307.39 288.96,306" fill="#c46e46"/>
<path d="M285 307h0M279.3 307.3h0M284.9 314.5h0M286 318.5h0M281.2 307.3h0M283.3 307.3h0M287.5 306.2h0M286.3 316.1h0M287.8 312.6h0M285.8 319.2h0M281.2 318.6h0M278.5 310.2h0M283.2 317.8h0M282.5 322.4h0M287.4 311.6h0M284.6 322h0M286.2 320.2h0M284.7 309.1h0M285.4 306.5h0M283.4 321.7h0M284.2 307.4h0M283 306.5h0M282.5 306.6h0M285.2 318.9h0M283.1 319.6h0M278.6 311.8h0M284 318.3h0M279.5 311.2h0M278.7 312.1h0M278.7 307.1h0M279.5 311.5h0M284.2 319.1h0M283.8 319.9h0M280.9 307.5h0M284 319.3h0M284.7 315.5h0M280 306.3h0M287.1 311.6h0M283.9 321.5h0M278.3 308.9h0M282.5 313.8h0M281.8 321.2h0M278 308.1h0M286.8 306.2h0M281 320h0M284.3 306.1h0M284.7 308.7h0M284.9 320.8h0M284.6 309.2h0M286.3 309.3h0M287.5 308.9h0M287.1 316.1h0M288.4 310.2h0M280.9 314.3h0M281.6 315.5h0M278.2 307h0M280.8 314.8h0M286.5 306.8h0M286.3 307.3h0M281.9 309.1h0M285.2 321.3h0M287 319.2h0M287.8 314.7h0M284.2 315h0M282.1 309.9h0M280.8 314h0M286.9 315.4h0M280.9 316.9h0M281.9 306.2h0M287.2 311.6h0M283.6 313.6h0M283.9 314.7h0M283.9 316.1h0M280.7 313.7h0M282.7 307.1h0M286.3 320.3h0M284.2 309.4h0M282.9 313.1h0M286.6 307.8h0M280.4 306.7h0M280.1 309.2h0M278.7 308h0M280 313.2h0M284.4 315.4h0M283.2 315.1h0M281.4 314.8h0M285.4 312.2h0M286 308.3h0M288.2 314.3h0M283.9 314.9h0M281.6 317.9h0M282.7 310.6h0M285.3 317.2h0M288.5 307.9h0M283.4 322.3h0M283.9 322.6h0M278.9 310.8h0M284.4 306.1h0M284.4 316.9h0M282.9 318.1h0M284.3 317.3h0M283.9 315.2h0M284 315.9h0M285.4 306.7h0M282.7 316.6h0M283.3 322h0M283.5 307.6h0M279.7 310.4h0M281.3 320.3h0M280.4 316.7h0M288.6 313.1h0M287.4 306.7h0M288.7 306h0M283.1 320.7h0M283 315.3h0M281.8 307.6h0M287.4 311.8h0M283.8 307h0M284 312.3h0M284.2 318.3h0M288.4 309.8h0M281.1 314.6h0M287.2 313.6h0M285.1 306.3h0M281.1 312.6h0M280.4 307.5h0M282.6 311.7h0M281.1 314.6h0M283.1 315h0M285.8 318.4h0M288.7 308.6h0M281.7 313.6h0M285.8 308.8h0M285.4 311.7h0M287.4 308.8h0M287.5 309h0M282.3 311.7h0M283.6 314.2h0M284 313.6h0M284.7 321.6h0M288.9 306.8h0M278.4 306.1h0M281.7 318.9h0M279.8 306.2h0M287.1 312.7h0M279.7 306.1h0M278.4 306.1h0M283.3 309.7h0M284.1 322h0M284 319.6h0" stroke="#c46e46" stroke-width="1.15" stroke-linecap="square" fill="none"/>
<rect x="282.4" y="277.7" width="1.2" height="1.2" fill="#c46e46" stroke="none" stroke-width="0.8"/>
<rect x="282.4" y="334.4" width="1.2" height="1.2" fill="#c46e46" stroke="none" stroke-width="0.8"/>
<line x1="283.4" y1="293.1" x2="283.4" y2="295.7" stroke="#963c19" stroke-width="1.2"/>
<line x1="283.4" y1="303.4" x2="283.4" y2="306" stroke="#963c19" stroke-width="1.2"/>
<rect x="277.75" y="295.7" width="11.3" height="7.7" fill="#fff" stroke="#963c19" stroke-width="1.15"/>
<line x1="277.75" y1="299.4" x2="289.05" y2="299.4" stroke="#963c19" stroke-width="1.15"/>
<polygon points="295.51,293.1 294.99,292.24 295.12,291.38 294.95,290.53 295.53,289.67 295.64,288.81 295.92,287.95 305.51,287.95 305.53,288.81 305.63,289.67 305.17,290.53 305.4,291.38 305.29,292.24 305.82,293.1" fill="#be4b78"/>
<path d="M303.8 289h0M301.5 291.2h0M297.6 292.6h0M300.6 291.9h0M297.8 286.8h0M301.3 286.8h0M305.1 286h0M306 290.6h0M300.6 289.4h0M295.9 292h0M296.5 287.3h0M295.8 293h0M297.3 288.4h0M303.5 291.3h0M296.6 289.5h0M305.4 286.9h0M299.9 287.5h0M302.7 288.5h0M302.8 284.9h0M303.6 291.4h0M296.3 292.6h0M297.1 288.8h0M298.2 288.2h0M300.1 283.6h0M304.2 285.2h0M303.4 289.4h0M299.4 289h0M302.3 292.4h0M301.8 283.8h0M300.8 290.8h0M299.3 290.4h0M296.1 285.7h0M300.6 289.1h0M303.1 292.2h0M299.4 291.4h0M301.6 291.4h0M302.5 289.7h0M303.6 289.7h0M296.3 288.4h0M297.8 289h0M305.5 291h0M303.1 289.1h0M302 292.2h0M297.4 292.5h0M295.2 292.4h0M303.7 284h0M295.1 290.3h0M302 286.2h0M303.5 292.9h0M297.5 292.8h0M302.9 285.7h0M300.6 291.5h0M301.4 285.4h0M297.1 288.6h0M297 292.8h0M301.5 288.6h0M302 289.3h0M302 288.2h0M304.3 289.9h0M304.6 288.6h0M302.3 283h0M302.2 285.7h0M297.8 288.3h0M302.3 292.6h0M301.8 291.4h0M301.6 288.4h0M297.6 289.7h0M302.7 290.9h0M299.2 284.3h0M299.9 290.8h0M302 289.7h0M302.9 285.9h0M302.4 285.3h0M300.2 283.2h0M302.2 289.5h0M304.2 290.8h0M301.1 289.8h0M299 288.7h0M298 293.1h0M305.4 289.2h0M305 292.3h0M302.2 283.2h0M295.1 291.1h0M297.3 284.4h0M305.4 291h0M303.7 286.9h0M297.9 285h0M296.1 288.9h0M300.5 290.2h0M298.7 285.2h0" stroke="#be4b78" stroke-width="1.15" stroke-linecap="square" fill="none"/>
<polygon points="295.82,306 295.76,307.11 295.44,308.22 295,309.32 295.74,310.43 295.79,311.54 296.16,312.65 296.35,313.76 296.43,314.87 304.58,314.87 305.17,313.76 305.5,312.65 305.51,311.54 305.74,310.43 305.17,309.32 305.7,308.22 306.06,307.11 306.12,306" fill="#be4b78"/>
<path d="M305.3 310.3h0M301.1 314.7h0M298.3 317.2h0M301.1 308.7h0M305.1 312.8h0M296.2 314h0M300.3 318.3h0M303.4 307.7h0M304 313.3h0M298 312.1h0M300.1 311h0M301.4 309.4h0M297.7 307.1h0M295.2 306.8h0M303 311.8h0M304.9 310.1h0M302.1 313h0M304.9 308.6h0M304.3 309.4h0M305.5 308.1h0M297.5 314.1h0M297.4 314.9h0M299.2 309.9h0M299 309.2h0M299.4 307.2h0M303.8 306.6h0M302.8 309.4h0M305.7 310.4h0M301.9 317.3h0M303.5 316.6h0M300 318.1h0M296.1 312.7h0M298.6 309.6h0M295.6 313.2h0M296.8 315.2h0M300.3 310.3h0M301.5 316.6h0M302.4 307.1h0M301.8 308h0M305.5 310.2h0M298 310.7h0M305.6 308.9h0M297.7 309.4h0M302.3 311.9h0M298.2 318.3h0M303 309.1h0M302.5 311.3h0M296.6 314h0M296.9 306.3h0M297 308.8h0M296.2 308.6h0M300.8 306.1h0M297.6 315.3h0M303.1 306.6h0M296.5 306.5h0M298.3 311.3h0M300.6 315.7h0M299.2 311.7h0M304.1 306.1h0M304.1 309.9h0M299.7 306.7h0M296.9 312h0M305.4 306.5h0M303.2 318.2h0M302.9 312h0M300.3 312.9h0M302.1 307.3h0M302.4 310.6h0M298.2 306.2h0M303.4 306.8h0M298.2 311.1h0M300.7 315.7h0M299.3 308.7h0M295.6 306h0M305.7 306.2h0M300.8 317.2h0M300.7 318.3h0M296.8 314.1h0M301.7 310.5h0M302.2 310.2h0M302.2 309.3h0M300.4 307.7h0M300.8 310.4h0M297.6 306.3h0M297.5 314.6h0M305.8 311.1h0M302.8 313h0M304.4 315.5h0M299.4 309.9h0M296.4 315.2h0M298 311h0M302.9 312.2h0M300.5 317h0M296.6 314.2h0M304.6 313.7h0M300.4 313.1h0M299.6 311.6h0M297.1 307.4h0M300.6 315.9h0M301.8 306.2h0M301.6 316.4h0M305.6 307.4h0M300.6 307.5h0M296.9 310.8h0M297 308.4h0M295.4 307.3h0M302.1 313.5h0M305.5 308.2h0M300 310.4h0M301.3 318.1h0M303.2 310.9h0M298.8 315h0M303.1 306.4h0M301.4 315.1h0M303.2 306.8h0M303.8 307.4h0M301.9 313.2h0M299 306.5h0M297.1 314.9h0M299.5 306.2h0M301.4 316.8h0M295.8 308h0M303 316.6h0M297.8 314.4h0M296.3 315.2h0M298.5 307.4h0M298.2 318.6h0M303.1 307.2h0M298.5 315.3h0M304.5 306.5h0" stroke="#be4b78" stroke-width="1.15" stroke-linecap="square" fill="none"/>
<rect x="299.9" y="280.5" width="1.2" height="1.2" fill="#be4b78" stroke="none" stroke-width="0.8"/>
<rect x="299.9" y="322.7" width="1.2" height="1.2" fill="#be4b78" stroke="none" stroke-width="0.8"/>
<line x1="300.5" y1="293.1" x2="300.5" y2="295.4" stroke="#821446" stroke-width="1.2"/>
<line x1="300.5" y1="303" x2="300.5" y2="306" stroke="#821446" stroke-width="1.2"/>
<rect x="294.85" y="295.4" width="11.3" height="7.6" fill="#fff" stroke="#821446" stroke-width="1.15"/>
<line x1="294.85" y1="299.2" x2="306.15" y2="299.2" stroke="#821446" stroke-width="1.15"/>
<polygon points="312.18,293.9 312.87,292.81 312.85,291.72 312.49,290.62 312.85,289.53 312.51,288.44 313.06,287.35 322.65,287.35 322.4,288.44 322.95,289.53 322.71,290.62 323.12,291.72 323.17,292.81 322.48,293.9" fill="#6e9632"/>
<path d="M317.4 281.2h0M319.1 289.3h0M318.4 284.3h0M316.2 281.8h0M320.3 282.5h0M312.4 290.6h0M318.8 287.1h0M317.9 281.5h0M320.1 285.3h0M319.5 292.6h0M314.5 289.4h0M316.1 291.5h0M318.1 285.1h0M312.7 290.9h0M319.8 284.3h0M319.9 283.5h0M315.1 293.5h0M315.4 289.1h0M315.1 283.7h0M317.1 293.8h0M312.3 293.6h0M318.7 287.1h0M313 288h0M317.8 287.7h0M314.5 291.1h0M317.4 292.7h0M318.5 290.3h0M315.4 286.1h0M315.1 287.1h0M314.9 285h0M320.1 287.2h0M317.9 284.1h0M321 282.3h0M316.4 284.2h0M319 291.6h0M314 293h0M319.3 293.3h0M322.3 290.1h0M317.9 284h0M315.6 290.7h0M313.2 293.6h0M316.1 282.9h0M323 293.9h0M320.6 290.2h0M322.7 289.2h0M317.3 293.4h0M312.8 286.5h0M316.5 282.2h0M313.5 286h0M313 293.4h0M321.5 284.3h0M317.8 282.2h0M320.7 293.3h0M320.6 288.5h0M318.3 286.7h0M313.6 292.6h0M316.8 293.4h0M322.7 291.3h0M320.5 293.6h0M313.2 293.1h0M315.7 282.1h0M318.5 287.2h0M315.9 289.9h0M319.8 292.9h0M318.7 290.3h0M314 283.8h0M316 289.6h0M318.4 281.9h0M317.1 292.3h0M317.8 293.8h0M313.5 293.5h0M318 288.5h0M318.5 292.1h0M319.9 291h0M321.4 293.6h0M314 289.3h0M319 291.3h0M322.2 293.3h0M316.6 292.1h0M317.1 293.5h0M315.7 281.5h0M318.1 292.5h0M314 286.6h0M318.8 292.1h0M312.3 291.9h0M321.2 285.7h0M320.6 284h0M315.5 292.1h0M318.8 287.2h0M318.1 286.8h0M314.7 291.9h0M312.6 293.4h0M313.3 287.4h0M321 282.9h0M322.8 292.8h0M312.5 286.8h0M316.1 290.1h0M312.8 291.1h0M312.2 291.8h0M317.4 289.3h0" stroke="#6e9632" stroke-width="1.15" stroke-linecap="square" fill="none"/>
<polygon points="312.74,307.3 312.27,309.21 312.3,311.12 312.45,313.02 312.4,314.93 313,316.84 312.52,318.75 313.24,320.66 322.07,320.66 321.87,318.75 322.72,316.84 322.39,314.93 322.62,313.02 322.56,311.12 322.56,309.21 323.05,307.3" fill="#6e9632"/>
<path d="M316.4 323.8h0M316.3 322.8h0M316.7 309.6h0M320 308.7h0M317.6 311.1h0M318.4 324.7h0M319 327.5h0M319.8 321.5h0M321.5 321.5h0M319.2 318.9h0M318 317.8h0M316.5 328.5h0M317.6 309.9h0M320 312.3h0M312.7 320h0M318.9 310.3h0M319.6 314.2h0M313.4 315.9h0M322 321.4h0M318.9 308.3h0M318.7 319.4h0M317.7 316.7h0M319.2 329.9h0M321 315.1h0M320.5 320.8h0M315.9 330.1h0M314.6 310.4h0M320.9 325h0M317.4 310.6h0M319 327h0M321.6 318.8h0M315.3 328h0M316.6 329.2h0M320.1 319.5h0M315.4 312h0M319.4 327.4h0M315.8 329.5h0M320 319.8h0M318.7 328.9h0M313.2 311.7h0M314.9 309.6h0M315.8 318.3h0M313 309.2h0M320.5 321.3h0M317.8 308.8h0M317 329.6h0M320.8 317.4h0M321.8 307.5h0M319.6 323.7h0M317.5 313h0M315.2 328.4h0M319.2 308.2h0M315.8 328.8h0M317.2 309.9h0M318.1 324.1h0M313.3 320.6h0M318.6 310.1h0M313.9 322.4h0M315.5 308.3h0M315.8 314.6h0M312.8 309.6h0M322 320.3h0M321.7 320h0M318.9 308.9h0M321.4 313.5h0M318.7 319.1h0M320.3 327.7h0M316.9 309h0M318.3 308.2h0M319.8 310.6h0M312.2 313.3h0M315.2 326.9h0M317.8 311.4h0M320.6 307.9h0M314.1 322.1h0M313.9 319.6h0M313.3 317.3h0M317 311.7h0M319.2 317.7h0M316.7 328.1h0M314.4 313.2h0M316.4 322.7h0M314.2 310.3h0M321.3 314.7h0M321 315.1h0M318.5 315.9h0M316.6 311.2h0M313.9 322.4h0M314.9 315.5h0M315.8 311.9h0M318.5 310.1h0M314.7 307.7h0M314 311.3h0M319 325.4h0M315.2 326.9h0M315.5 309.9h0M321.1 316.8h0M320.3 325.4h0M312.3 307.4h0M316.8 312.9h0M315.9 307.3h0M321.8 308.9h0M315.6 310.3h0M321.5 309.7h0M316.9 308.6h0M314.8 310.5h0M318.5 330h0M316.3 322.7h0M319.7 329.5h0M314.9 320h0M318.1 307.8h0M321.5 316.3h0M318.9 330.2h0M323 310.9h0M313 319.4h0M322.7 310.3h0M319.5 324.3h0M313 320.7h0M316.5 328.3h0M317.9 323.6h0M317.9 316.3h0M319.6 327.8h0M321.5 314.1h0M315.9 309.7h0M312.6 312.5h0M312.2 314.3h0M319.1 329.3h0M312.9 316.1h0M320.6 311.3h0M313.1 312h0M318.4 314.9h0M316.2 308.9h0M320.1 318h0M323 314.4h0M320.4 311.2h0M322.2 308.1h0M314.2 317.7h0M320.6 324.8h0M321.9 308.9h0M316.9 329h0M319.4 324.2h0M316.4 318.2h0M321.1 312.4h0M321.3 324h0M318.4 308h0M315 321.9h0M322 307.5h0M319.4 323.9h0M316.9 312.8h0M314.4 324.8h0M319.5 322.3h0M322.5 315.7h0M321.4 319.9h0M316.6 310h0M317.6 311.9h0M321.8 323.2h0M319.7 327.6h0M318.7 329.5h0M314 322.7h0M317.5 314.4h0M322.1 308.5h0M314.8 313.6h0M318 308.2h0M322.6 312.9h0M316.9 320h0M312.6 309.4h0M318.6 321.4h0M317.7 316.5h0M322 314.5h0M314.6 307.8h0" stroke="#6e9632" stroke-width="1.15" stroke-linecap="square" fill="none"/>
<line x1="317.6" y1="293.9" x2="317.6" y2="296.5" stroke="#4a6420" stroke-width="1.2"/>
<line x1="317.6" y1="304.5" x2="317.6" y2="307.3" stroke="#4a6420" stroke-width="1.2"/>
<rect x="311.95" y="296.5" width="11.3" height="8" fill="#fff" stroke="#4a6420" stroke-width="1.15"/>
<line x1="311.95" y1="300.5" x2="323.25" y2="300.5" stroke="#4a6420" stroke-width="1.15"/>
<polygon points="330.22,294.5 330.62,293.52 330.58,292.53 330.65,291.55 330.81,290.57 331.04,289.58 330.9,288.6 340.5,288.6 340.94,289.58 340.9,290.57 340.87,291.55 340.86,292.53 340.92,293.52 340.52,294.5" fill="#28967d"/>
<path d="M334.3 286.9h0M334.4 286.7h0M331.7 288.1h0M336.5 291.8h0M335.4 288.3h0M336.2 294.3h0M334 284.7h0M337.2 293h0M331.4 292.7h0M337.2 294.1h0M337.8 284.5h0M339.7 288.6h0M334 285h0M341 291.1h0M336.7 283.6h0M334.2 288h0M333.9 294h0M337.3 292.7h0M337.1 287.7h0M332.3 284h0M331.3 293h0M340.4 291.3h0M339.1 290.1h0M334.2 293.2h0M334 285.7h0M336.7 286.7h0M331.1 287.7h0M341.2 291.4h0M333.3 291.2h0M336.3 282.7h0M335.6 287.1h0M334.7 288.1h0M333.5 292.3h0M338 292.8h0M331.5 294h0M341.1 289.6h0M337.3 285.9h0M333.1 286.5h0M330.6 289.6h0M330.8 289.5h0M331.6 293.8h0M335.5 291.5h0M331.1 292.9h0M340.8 293.7h0M338 282.9h0M332.5 293.6h0M332.2 284.5h0M337.5 293.5h0M338.3 283.2h0M334.3 285h0M339.9 286.6h0M339.2 284.2h0M338.4 286.2h0M335.1 287.1h0M340.3 288.8h0M330.8 288.8h0M339.9 290.4h0M335.6 287h0M337.5 283.7h0M338.1 292.8h0M332 284.7h0M335.4 283.7h0M331.9 285h0M333.6 291.8h0M337.6 292.9h0M337.1 285.7h0M333.1 284.1h0M334.7 292.2h0M337.9 285.8h0M337.8 282.8h0M338.4 289.3h0M336 285.4h0M339.3 287.4h0M333 285.2h0M338.1 294.4h0M333.2 285.4h0M337.8 284.9h0M331.9 293.4h0M337 287.7h0M340.4 293.4h0M339.5 292.9h0M333.4 283.5h0M336.3 287.1h0M335.4 284h0M332.9 290.8h0M334.4 285h0M332.6 284h0M332.3 284.4h0M340.1 286.8h0M336.8 291.8h0M331 290.8h0M335.7 285.1h0M331.8 285.6h0M332.8 293.4h0M331.8 285.4h0M334.4 294.4h0M339.6 291.1h0M333.8 284.8h0M334.5 286.5h0M337.2 286.2h0" stroke="#28967d" stroke-width="1.15" stroke-linecap="square" fill="none"/>
<polygon points="330.41,313.5 330.23,315.4 330.55,317.3 330.28,319.2 331.03,321.1 330.62,323 331.65,324.9 340.77,324.9 340.17,323 340.9,321.1 340.37,319.2 340.78,317.3 340.52,315.4 340.72,313.5" fill="#28967d"/>
<path d="M339.2 323.2h0M333 327.3h0M333.2 315.2h0M335.2 334.9h0M338.8 332.8h0M334.6 327.8h0M335.8 329.1h0M335.8 334.9h0M337.6 326.2h0M332.7 326h0M335.1 324.4h0M338.3 327.3h0M334.3 316.4h0M340.9 317.4h0M335.3 322.5h0M337.1 335.3h0M335.8 332.2h0M334.4 315.1h0M334.7 314.4h0M335.6 321.6h0M335.9 335.7h0M332.2 315.7h0M335.9 327.3h0M335.7 320.6h0M337.7 320.6h0M331.3 325.1h0M333.2 322.7h0M335.4 324.8h0M339.6 329.5h0M336.8 329h0M331.8 322.9h0M333.2 328.7h0M336.7 320h0M339.8 317.6h0M340.6 323.9h0M335.4 313.7h0M336.6 318.7h0M336.7 326.5h0M335.5 334.5h0M338.5 319.8h0M333.5 324.1h0M334.3 334h0M336.2 314.3h0M337.9 333.7h0M336.6 331h0M333.6 323h0M335.2 315.7h0M336.2 331.5h0M337.1 335.8h0M336.7 323.8h0M340.2 320.8h0M333.5 331.5h0M336.9 333.4h0M338.5 319.5h0M337.9 320.9h0M337.2 322.9h0M338 334h0M334.6 322.3h0M337.3 328.2h0M335.9 314.6h0M337.4 317.8h0M333.5 315.7h0M333.4 317.3h0M339.5 324.4h0M337.2 326.3h0M334.9 329.5h0M337.4 321.1h0M338.6 316.4h0M337.9 334h0M340.5 314.2h0M331.7 316.8h0M334.3 325.7h0M337 315.9h0M336.2 323.6h0M337 323h0M337.6 329.9h0M338.7 328h0M337.3 322h0M331.1 314.8h0M337.7 321.6h0M340.9 317h0M335.7 318h0M340.8 322h0M333 315.5h0M334.5 326.1h0M331.8 319.2h0M335.5 333.9h0M333.3 324.7h0M333.7 334.4h0M331.9 327.8h0M334 323.5h0M335.5 334.9h0M332.5 331.6h0M341.2 317h0M330.8 319.8h0M334.3 317.4h0M334.6 323.4h0M335.5 318.4h0M332.4 322h0M336.6 323.2h0M338.2 324.6h0M332.7 321.6h0M333.8 334.6h0M334.9 318.3h0M332.7 320.7h0M334.5 332.3h0M336.9 323.9h0M335 315.1h0M336.3 315.2h0M338.8 328.7h0M333.8 334.5h0M337.6 321.8h0M340.6 319.8h0M339.7 322.6h0M334.6 314.2h0M338.8 327.7h0M339.5 322.6h0M335.1 329.5h0M335.9 328.1h0M340.3 314.8h0M338.5 331.8h0M338.9 317h0M335.8 313.8h0M335.9 318.3h0M336.3 320h0M338.6 321.2h0M333.7 326.7h0M332.9 316.3h0M335 318.8h0M338.6 322.9h0M334.8 335.8h0M336 318.2h0M337.3 313.5h0M336.9 313.8h0M334.6 324.9h0M335 336h0M331.4 313.6h0M338.4 317.1h0M334.6 328.9h0M333.7 332.9h0M336.6 316.8h0M338.8 323.6h0M340.2 318.4h0M337.6 326.1h0M332.9 324.6h0M340.3 324.3h0M333.9 313.6h0M333.1 318.4h0M337 329.8h0M338.1 315.2h0M333 332.8h0M336.9 313.6h0M336.1 332.8h0M334.8 322.9h0M339.9 324.4h0M338.2 325.2h0M339.9 321.9h0M335.9 329.7h0M333.6 318.3h0M336.4 335.7h0M336 314.2h0M336.9 321.1h0M340.3 317.9h0M339.3 322.3h0M340.1 317.5h0M336.3 323.9h0M340.5 321.2h0M336.1 324.3h0M335.3 319.6h0M335.2 317.7h0" stroke="#28967d" stroke-width="1.15" stroke-linecap="square" fill="none"/>
<rect x="334.9" y="280.9" width="1.2" height="1.2" fill="#28967d" stroke="none" stroke-width="0.8"/>
<line x1="335.8" y1="294.5" x2="335.8" y2="298.7" stroke="#1a6a58" stroke-width="1.2"/>
<line x1="335.8" y1="310.5" x2="335.8" y2="313.5" stroke="#1a6a58" stroke-width="1.2"/>
<rect x="330.15" y="298.7" width="11.3" height="11.8" fill="#fff" stroke="#1a6a58" stroke-width="1.15"/>
<line x1="330.15" y1="304.2" x2="341.45" y2="304.2" stroke="#1a6a58" stroke-width="1.15"/>
<polygon points="347.5,307.5 347.77,306.54 348.42,305.58 348.18,304.62 348.8,303.67 357.62,303.67 357.52,304.62 358.2,305.58 357.88,306.54 357.8,307.5" fill="#5082be"/>
<path d="M350.5 304.9h0M351.1 302.2h0M351.6 299.9h0M351 297.2h0M357.2 307.2h0M351.2 300.4h0M351.8 301h0M350.9 302.7h0M354.2 302.3h0M351.6 298.2h0M353.5 302h0M352.8 297.8h0M355 298h0M352 303.9h0M353.2 296.5h0M355.3 302.5h0M353 301.5h0M351.1 300.8h0M348 304.3h0M355.1 300h0M356 299.8h0M350.4 299.5h0M357.2 304.9h0M357.1 306.9h0M350.9 298.9h0M355.4 306h0M349.4 300.9h0M350.2 302.5h0M353.1 298.1h0M351.7 307.5h0M357.4 307.5h0M353.9 297.7h0M357.8 307.5h0M354.5 305.5h0M353.3 299.4h0M350.1 306.8h0M350.4 299.9h0M357.2 304.3h0M349.5 303.9h0M351.8 300.9h0M352.1 299h0M354.6 298.5h0M353.4 306.3h0M349.3 303.5h0M352.2 297.3h0M349.4 301.4h0M354.6 296.7h0M350.2 300.5h0M352.7 300.8h0M350.3 303.2h0M356.7 306.5h0M354.9 301.5h0M352.3 299.7h0M351.2 302.2h0M352.4 300.9h0M351.7 299.1h0M348.8 304.2h0M349.7 307.3h0M352.1 307.4h0M356.7 304.2h0M358.3 307.3h0M356.6 307h0M350.3 304.5h0M351.7 301.4h0M348.8 307.4h0M354.5 300.5h0M352.2 296.1h0M351.9 299.3h0M350.9 302.6h0M356.9 303.9h0" stroke="#5082be" stroke-width="1.15" stroke-linecap="square" fill="none"/>
<polygon points="347.58,320 347.43,320.82 347.89,321.63 348.1,322.45 348.4,323.27 348.36,324.08 348.75,324.9 356.32,324.9 356.58,324.08 357.22,323.27 357.44,322.45 357.66,321.63 357.55,320.82 357.88,320" fill="#5082be"/>
<path d="M351.6 324.3h0M353.9 326.4h0M357.8 322.8h0M356.8 320.4h0M354.3 326.4h0M355.2 323.7h0M354.8 320.2h0M352.5 328.1h0M354.2 326.6h0M355.3 324h0M349.4 323.8h0M355.1 324.2h0M352.5 320.9h0M350.3 327.7h0M352.2 328.1h0M354.9 322.6h0M351.1 324.8h0M352 320.9h0M355.1 328.4h0M354.2 326.4h0M355.9 326h0M349 320.9h0M350.4 327.9h0M352 324.2h0M353.4 328.8h0M348.2 321.4h0M353.4 323.7h0M353.7 323.6h0M351.3 320.3h0M351.8 327.7h0M349.4 321.1h0M354.3 329h0M351.2 323h0M356.7 322.7h0M354.8 328.7h0M353.8 328h0M357.8 320.6h0M355.5 321h0M348.2 322.6h0M351.1 325.7h0M351.5 328.4h0M352.4 325.8h0M350.5 320.2h0M355.7 322.1h0M355.6 327h0M349.7 320.9h0M351.1 322.7h0M355.6 321.3h0M353.3 320h0M350.8 320.7h0M352.5 322h0M353.8 329h0M357.6 323.3h0M349.6 321.6h0M355 325.4h0M352.9 326.4h0M351.8 326.4h0M353.8 329.1h0M353.1 327.3h0M352.8 328.8h0M352.7 329.2h0M352.2 329.2h0M353.4 324.1h0M355.8 324.5h0M351.3 327.9h0M353.1 326.2h0M349.1 323h0M355 328.7h0M353.4 326.4h0M350.9 320.4h0" stroke="#5082be" stroke-width="1.15" stroke-linecap="square" fill="none"/>
<line x1="352.9" y1="307.5" x2="352.9" y2="310.7" stroke="#2a5080" stroke-width="1.2"/>
<line x1="352.9" y1="317.1" x2="352.9" y2="320" stroke="#2a5080" stroke-width="1.2"/>
<rect x="347.25" y="310.7" width="11.3" height="6.4" fill="#fff" stroke="#2a5080" stroke-width="1.15"/>
<line x1="347.25" y1="314" x2="358.55" y2="314" stroke="#2a5080" stroke-width="1.15"/>
<path d="M370.6 286.3h0M369.9 290.2h0M370.3 289.7h0M373 290.5h0M370.9 286.4h0M371.4 286.3h0M370.6 288.8h0M369.5 287.9h0M369.9 290.8h0M371.3 287.2h0M374 290.9h0M370.6 290.9h0M368.3 290.5h0M371.6 290.3h0M372.8 287.8h0M366.7 288.9h0M365.8 290.9h0M366.9 290.7h0M366.9 290h0M369.7 286.9h0M372.8 289.1h0M370.4 290.5h0M370.2 290.9h0M370.6 286.5h0M371.7 289.9h0M370.4 289h0M371.9 288.2h0M372.4 286.7h0M371.4 286.2h0M372.4 288h0" stroke="#f5a032" stroke-width="1.15" stroke-linecap="square" fill="none"/>
<path d="M367.1 304.5h0M370.1 312.2h0M373.1 303.3h0M367.9 304h0M369.1 313.3h0M369.1 311.9h0M369.7 311.5h0M372 308.5h0M368.4 310.5h0M367.9 309.9h0M373.4 305h0M369.5 304.2h0M371.3 303.9h0M368.9 304.4h0M370.2 314.1h0M366.2 307.8h0M366.2 305.2h0M367.7 309.2h0M366.5 304.4h0M371.4 310.8h0M368.5 305.5h0M370.9 305.3h0M367.3 308.6h0M371.8 304.2h0M372.1 305.3h0M366 304.4h0M374.4 303.6h0M366.2 308.2h0M371.7 306.1h0M374 304.8h0M370.7 303.2h0M367.8 308.7h0M370.5 314.2h0M373.2 304h0M372.4 303.3h0M371.1 312.1h0M365.5 303.3h0M372.3 312h0M374.9 305.2h0M368.2 311.8h0M368.2 312.8h0M367.4 305.8h0M370.4 304.7h0M375.6 303.4h0M372.4 304.7h0M374.6 306.1h0M370.4 308.5h0M370.8 311h0M367.3 307.2h0M371.1 311.6h0" stroke="#f5a032" stroke-width="1.15" stroke-linecap="square" fill="none"/>
<line x1="370.4" y1="291" x2="370.4" y2="293.2" stroke="#d07040" stroke-width="1.2"/>
<line x1="370.4" y1="300.2" x2="370.4" y2="303.2" stroke="#d07040" stroke-width="1.2"/>
<rect x="364.75" y="293.2" width="11.3" height="7" fill="#fff" stroke="#d07040" stroke-width="1.15"/>
<line x1="364.75" y1="296.9" x2="376.05" y2="296.9" stroke="#d07040" stroke-width="1.15"/>
<line x1="271.7" y1="258.2" x2="271.7" y2="350.1" stroke="#222" stroke-width="1.4"/>
<line x1="268.9" y1="258.6" x2="271.7" y2="258.6" stroke="#222" stroke-width="1.1"/>
<text x="268" y="261.12" font-size="7" text-anchor="end" fill="#444" style="" stroke="#444" stroke-width="0.21">6</text>
<line x1="268.9" y1="288.8" x2="271.7" y2="288.8" stroke="#222" stroke-width="1.1"/>
<text x="268" y="291.32" font-size="7" text-anchor="end" fill="#444" style="" stroke="#444" stroke-width="0.21">4</text>
<line x1="268.9" y1="319.2" x2="271.7" y2="319.2" stroke="#222" stroke-width="1.1"/>
<text x="268" y="321.72" font-size="7" text-anchor="end" fill="#444" style="" stroke="#444" stroke-width="0.21">2</text>
<line x1="268.9" y1="349.8" x2="271.7" y2="349.8" stroke="#222" stroke-width="1.1"/>
<text x="268" y="352.32" font-size="7" text-anchor="end" fill="#444" style="" stroke="#444" stroke-width="0.21">0</text>
<line x1="270.4" y1="349.8" x2="381.4" y2="349.8" stroke="#222" stroke-width="1.4"/>
<text x="326.6" y="251" font-size="7.2" text-anchor="middle" fill="#333" style="font-style:italic;" stroke="#333" stroke-width="0.22">AHR</text>
<ellipse cx="283.4" cy="357.1" rx="7.1" ry="4.1" fill="#fff" stroke="#222" stroke-width="0.8"/>
<text x="283.4" y="359.4" font-size="6.3" text-anchor="middle" fill="#333" style="" stroke="#333" stroke-width="0.19">C1</text>
<ellipse cx="300.5" cy="357.1" rx="7.1" ry="4.1" fill="#fff" stroke="#222" stroke-width="0.8"/>
<text x="300.5" y="359.4" font-size="6.3" text-anchor="middle" fill="#333" style="" stroke="#333" stroke-width="0.19">C2</text>
<ellipse cx="317.6" cy="357.1" rx="7.1" ry="4.1" fill="#fff" stroke="#222" stroke-width="0.8"/>
<text x="317.6" y="359.4" font-size="6.3" text-anchor="middle" fill="#333" style="" stroke="#333" stroke-width="0.19">C3</text>
<ellipse cx="335.8" cy="357.1" rx="7.1" ry="4.1" fill="#fff" stroke="#222" stroke-width="0.8"/>
<text x="335.8" y="359.4" font-size="6.3" text-anchor="middle" fill="#333" style="" stroke="#333" stroke-width="0.19">C4</text>
<ellipse cx="352.9" cy="357.1" rx="7.1" ry="4.1" fill="#fff" stroke="#222" stroke-width="0.8"/>
<text x="352.9" y="359.4" font-size="6.3" text-anchor="middle" fill="#333" style="" stroke="#333" stroke-width="0.19">C5</text>
<ellipse cx="370.4" cy="357.1" rx="7.1" ry="4.1" fill="#fff" stroke="#222" stroke-width="0.8"/>
<text x="370.4" y="359.4" font-size="6.3" text-anchor="middle" fill="#333" style="" stroke="#333" stroke-width="0.19">C6</text>
<text x="256.2" y="304.7" font-size="7" text-anchor="middle" fill="#333" style="" transform="rotate(-90 256.2 304.7)" stroke="#333" stroke-width="0.21">Log10 (normalized expression+1)</text>
<path d="M283.3 260.7 V259.7 H370.1 V260.7" fill="none" stroke="#8a8a8a" stroke-width="0.8"/>
<path d="M300.8 265.1 V264.1 H370.1 V265.1" fill="none" stroke="#555" stroke-width="0.8"/>
<path d="M317.9 269 V268 H370.1 V269" fill="none" stroke="#555" stroke-width="0.8"/>
<path d="M335.8 273.2 V272.2 H370.1 V273.2" fill="none" stroke="#555" stroke-width="0.8"/>
<path d="M351.8 276.7 V275.7 H370.1 V276.7" fill="none" stroke="#555" stroke-width="0.8"/>
<text x="376.6" y="271.8" font-size="7" text-anchor="start" fill="#333" style="" stroke="#333" stroke-width="0.21">****</text>
<path d="M373.0 259.3 H374.4 V276.8 H373.0" fill="none" stroke="#555" stroke-width="0.8"/>
<rect x="504.1" y="279.3" width="16.9" height="62.4" fill="#e8e8e8" stroke="none" stroke-width="0.8"/>
<polygon points="421.36,300.5 421.33,299.23 421.05,297.97 421.11,296.7 421.32,295.43 421.21,294.17 420.77,292.9 421.28,291.63 431.04,291.63 430.78,292.9 431.37,294.17 431.57,295.43 431.39,296.7 431.35,297.97 431.64,299.23 431.66,300.5" fill="#c46e46"/>
<path d="M431.6 294.9h0M428.9 294.9h0M424.6 299.1h0M423.6 292.1h0M429.3 285.4h0M428.5 291.9h0M429.2 297.7h0M425.8 288h0M427.9 293.3h0M421.1 298h0M426.5 298.8h0M430 292h0M422.5 297.8h0M422.5 295.6h0M426.1 297.9h0M422.1 291.2h0M425.9 298.9h0M422.6 294h0M426.9 291.6h0M429.4 286h0M421.8 292.2h0M423.7 294h0M421.5 297.6h0M427.8 291.1h0M423.2 297.7h0M426.5 285.4h0M423.6 291h0M427.8 286.4h0M421.9 294.2h0M420.9 295.3h0M429.4 298.5h0M422.9 299.6h0M431.4 296.7h0M425.3 299h0M421.2 293.8h0M421.5 293.3h0M424.2 297h0M425.8 285.4h0M424.3 297.3h0M422.4 297.3h0M428.3 297.1h0M423.2 296.6h0M429.4 300.3h0M423.6 297.3h0M430.5 288.2h0M421.5 293.5h0M428.6 288.5h0M423.8 300.4h0M426 288.5h0M431.6 298.9h0M422.6 298.5h0M431.3 291h0M421.2 290.8h0M423 300.4h0M431.1 291.6h0M428.1 299.6h0M421.2 291.4h0M424.7 287.2h0M429.5 296.3h0M427.6 293.6h0M427.6 300.1h0M429.8 299.2h0M427.7 289.6h0M431.3 291.9h0M428.2 288.6h0M420.8 296.5h0M423.5 285.3h0M427.3 300.2h0M425.9 285.5h0M420.8 298.5h0M424.7 299.1h0M423.6 296.6h0M430.5 287.6h0M424.2 285.7h0M422.7 291h0M426.2 294.9h0M429.4 297.1h0M429.6 298.4h0M427.5 289.8h0M422 300h0M430.6 289h0M428.1 298.1h0M429.9 289.9h0M422.9 299.4h0M428.4 300.1h0M428.4 296.5h0M427.7 299h0M425.5 297.7h0M431.1 292.8h0M429.4 298.7h0M422.6 300.2h0M421.9 291h0M429.8 288.4h0M428.5 298.4h0M431.3 291.8h0M424.7 294.4h0M424.2 287.7h0M425.1 287h0M429.9 295.8h0M423 289.9h0M431.4 291.7h0M426.8 295.9h0M428.5 291.7h0M424.9 296h0M427.6 298.9h0M429.4 296.9h0M429.1 300.2h0M430.3 299.1h0M424.9 288.7h0M423 299.7h0M431.6 298.5h0M421.7 289h0M426.9 300.5h0M426.8 295h0M429.3 288.4h0M431.4 299.4h0M425.9 295h0M423.3 299.2h0M423.7 298.8h0M423.5 293.6h0M421.8 297.7h0M430.8 300h0M425.7 295.3h0M431.6 299.4h0M429.4 300.4h0M423.8 300.2h0M425.7 294.5h0M426.9 290.9h0M421.7 290.9h0M423.7 297.4h0M425.3 294.6h0M422 299.7h0M421.2 300.1h0M431.2 291.9h0M422.9 292.8h0M426.1 292.5h0M429.6 297.6h0M424 297.8h0M423.3 300.2h0M426 286.8h0M426.1 290.4h0M424.6 297.8h0M424.1 294.2h0M421 294.1h0M421.9 296.1h0M426.5 294.7h0M429.2 287h0M425.7 287.4h0M430.1 297.4h0M424.9 299.5h0M429.7 300.1h0M430.5 290.1h0M430 298.8h0M426.7 291h0M429.6 295.2h0M431.1 294.8h0M425.2 286.8h0M425.4 293.7h0M429.1 287.2h0M424.7 295.9h0M428 297.1h0M427.5 291.6h0M428.1 294h0M426 300.5h0M428.6 291.1h0M423.6 288.9h0M429.9 286.7h0M429.7 292.3h0M422.7 298.7h0M426.6 298.4h0M424.9 287.4h0M428.7 286.6h0M420.9 300.2h0M426.2 285.3h0M429.8 289.5h0M420.8 297.3h0M430 287.9h0M428 295.9h0M431.1 300.5h0M431.4 292.5h0M424.7 291.1h0M426.4 298.9h0M426.5 287.9h0M423.1 293.7h0M423.3 299.2h0M425.9 297.3h0M424.5 286.4h0M428.9 298.3h0M424.2 286.5h0M425.2 297.3h0M421.6 300.1h0M423.4 293.5h0M429.6 298.2h0M426.9 294.6h0M428.8 291.7h0M429.9 286.8h0M428.9 299.6h0M421.9 300.4h0M422.1 297.9h0M423.2 299.2h0" stroke="#c46e46" stroke-width="1.15" stroke-linecap="square" fill="none"/>
<polygon points="420.7,328.6 421,330.01 421.19,331.42 421.37,332.83 421.51,334.23 421.51,335.64 421.01,337.05 422.01,338.46 431.38,338.46 430.76,337.05 431.53,335.64 431.68,334.23 431.62,332.83 431.48,331.42 431.3,330.01 431,328.6" fill="#c46e46"/>
<path d="M425.9 330.7h0M424.6 345h0M427.1 332.5h0M424.2 338.4h0M426.2 333.6h0M423.3 344h0M426.6 343.1h0M425.5 343.7h0M421.3 338.3h0M427.9 331h0M426.4 332.6h0M426.5 345.1h0M426.8 338.6h0M431.6 331.4h0M420.9 333.4h0M425.3 334.2h0M425.4 330.8h0M431.1 329.2h0M423.9 335.8h0M427.2 336.3h0M429.6 333.6h0M430.9 334.7h0M428 340.6h0M428.5 330.2h0M427.8 345h0M423.8 328.9h0M428 328.6h0M427.6 343h0M426.6 338.5h0M426.6 339.8h0M423.2 341.2h0M427.6 334.9h0M426.9 329.1h0M423.4 343.7h0M428.3 339.9h0M429.6 343.1h0M427.2 338h0M425.5 335h0M424.5 337.3h0M426.6 341.2h0M426.4 334.3h0M429.5 339.4h0M428 341.6h0M420.6 331.3h0M421.5 329.7h0M421.6 335.6h0M429 335h0M430.3 334.4h0M426 333.1h0M422.1 331.6h0M422.2 336.9h0M423.8 330h0M430.8 339.8h0M423.3 330.9h0M426.6 344.8h0M430.6 341.2h0M423.6 338.4h0M428.2 345.1h0M431.4 328.6h0M423.4 338.2h0M424 335h0M425.3 340.7h0M430.6 329.3h0M422.6 332.6h0M422.5 339.2h0M425.6 337.4h0M431.3 329.7h0M421.8 339.1h0M427.2 343.3h0M428.5 341.7h0M424.1 330.3h0M429.7 330.3h0M426.6 344.4h0M431 338.6h0M425.6 335.8h0M431.6 331.8h0M422.7 329.7h0M422.4 342.3h0M426.5 330.7h0M424.9 331.2h0M428.1 328.7h0M423.8 329.2h0M428.4 329.5h0M426.8 330.9h0M426.9 328.8h0M430.7 332.8h0M423.9 330.6h0M422.8 342.7h0M426 335.3h0M422.5 332h0M421.1 335.4h0M423.8 328.6h0M423.5 333.4h0M425.4 339.4h0M427.1 337.5h0M430.4 339.4h0M428.3 336.6h0M421.7 336.5h0M426.4 342h0M428.9 328.9h0M431.1 335.5h0M425.9 334h0M429.3 343.2h0M425.7 340.6h0M428.8 334.3h0M425.9 343.3h0M426.8 339.3h0M423.1 336.4h0M423.5 331.9h0M423.9 345.2h0M422.9 330.9h0M427.7 341.6h0M421.8 332.3h0M428.7 338.7h0M428.4 338.1h0M421.2 337.3h0M429.5 341.1h0M424.9 330.3h0M428.6 345.1h0M429.1 341.6h0M430.4 330.1h0M423.7 341.7h0M428.3 343.6h0M428.9 343.7h0M422.5 329.4h0M423.4 341.4h0M429.4 332.9h0M425.4 341.9h0M428.4 333.9h0M426.8 345.4h0M423.3 332.9h0M427.4 330.5h0M423.5 339.6h0M427.2 340.1h0M426.5 336.8h0M420.8 333.9h0M428 336.1h0M429.7 343.1h0M422.7 338.2h0M425.5 342.5h0M428.7 344.7h0M421.2 329.3h0M428.2 328.9h0M427.6 335.3h0M427.2 332.5h0M422.9 329.4h0M423.6 339.9h0M427.9 329.6h0M428.4 345.1h0M427.8 342.9h0M422.3 328.6h0M426.5 337h0M422.3 342h0M421.7 337.8h0M422.4 340.3h0M429.2 335.2h0M427.7 345.2h0M424.4 340.9h0M426.6 338h0M427.2 335.4h0M424.9 334.5h0M427.6 340.5h0M428.4 345h0M422.8 341.3h0M426.2 335.5h0M429.8 341h0M420.7 330.6h0M429.8 342.7h0M427.3 332.7h0M424.9 333.5h0M428.2 338h0M425.3 343.4h0M425.7 335.4h0M426.3 345.2h0M429.3 343.7h0M429.2 328.8h0M426.2 329.6h0M421.8 337.9h0M428.2 336.9h0M426.6 332.9h0M422.3 333.7h0M431.1 331.5h0M426.6 338h0M429.1 341.4h0M425.3 340.3h0M424.3 336.2h0M431 329.1h0M424.8 329.2h0M424.7 342.3h0M422.9 343.6h0" stroke="#c46e46" stroke-width="1.15" stroke-linecap="square" fill="none"/>
<rect x="424.4" y="275.8" width="1.2" height="1.2" fill="#c46e46" stroke="none" stroke-width="0.8"/>
<rect x="426.9" y="278.2" width="1.2" height="1.2" fill="#c46e46" stroke="none" stroke-width="0.8"/>
<rect x="422.9" y="280.4" width="1.2" height="1.2" fill="#c46e46" stroke="none" stroke-width="0.8"/>
<rect x="428.2" y="281.4" width="1.2" height="1.2" fill="#c46e46" stroke="none" stroke-width="0.8"/>
<rect x="425.4" y="348.4" width="1.2" height="1.2" fill="#c46e46" stroke="none" stroke-width="0.8"/>
<line x1="426.2" y1="300.5" x2="426.2" y2="304.5" stroke="#963c19" stroke-width="1.2"/>
<line x1="426.2" y1="321.4" x2="426.2" y2="328.6" stroke="#963c19" stroke-width="1.2"/>
<rect x="420.55" y="304.5" width="11.3" height="16.9" fill="#fff" stroke="#963c19" stroke-width="1.15"/>
<line x1="420.55" y1="312.1" x2="431.85" y2="312.1" stroke="#963c19" stroke-width="1.15"/>
<polygon points="438.53,300.5 438.9,298.86 438.25,297.22 438.95,295.57 438.48,293.93 438.69,292.29 438.19,290.65 438.61,289.01 439.06,287.37 448.45,287.37 448.38,289.01 448.2,290.65 448.85,292.29 448.72,293.93 449.23,295.57 448.55,297.22 449.21,298.86 448.83,300.5" fill="#be4b78"/>
<path d="M443.2 300.1h0M438.3 295.5h0M449.1 298h0M442.5 281.6h0M445.1 280.8h0M444.7 300.3h0M441.1 298h0M440.6 287.7h0M438.1 295.4h0M441.4 296h0M439.1 299.3h0M438.9 294.4h0M441.8 282.4h0M438.7 295.1h0M440.7 285.5h0M442.2 299.8h0M447 283h0M444.5 293.2h0M448.1 299.8h0M441.1 286.8h0M440.5 284.8h0M441.2 292.9h0M440.9 291.1h0M440.9 291.6h0M439.3 300.4h0M443.1 286h0M445.4 292.2h0M440.1 297.2h0M446.4 294.4h0M443.2 287.4h0M440.9 290.2h0M444.6 282.1h0M442.3 285.7h0M445.9 290.8h0M446.5 291.8h0M446.8 296.9h0M443.8 296.1h0M442.5 298.9h0M439.6 283.7h0M444.1 298.3h0M445.6 289.1h0M445.9 288.4h0M439.8 290.3h0M441.2 291.6h0M443.7 300.5h0M443.4 281.4h0M444.8 286.7h0M444.1 300.2h0M444.6 281.1h0M448.1 296.4h0M448.2 288.8h0M444.4 284.6h0M443.9 293.2h0M447.6 296h0M449.1 299.1h0M442.9 295.7h0M441.6 290.2h0M438.8 290.2h0M440.1 284.1h0M446.7 284h0M446 286.1h0M444.4 298.3h0M446.4 300h0M440.8 286h0M439 293.7h0M445.7 288.9h0M444.9 300h0M440.8 283.8h0M441.7 283.1h0M438.9 300.4h0M440.5 286.8h0M443 284.3h0M447.1 299.7h0M439.5 295.9h0M441.4 300.5h0M443.6 293.3h0M439 290.7h0M447.9 300.5h0M446.1 294h0M444.4 283.5h0M440.8 287.2h0M443.7 297.9h0M446.7 281.2h0M445.1 297.6h0M442 296.6h0M449.1 296.7h0M443.2 294.8h0M447.5 299.7h0M447.3 299.7h0M440.6 297.4h0M442 300.2h0M442.6 281.9h0M446.3 295.8h0M446.5 297.6h0M446.1 281.7h0M446.8 300.2h0M446.5 286h0M439.3 290.8h0M444.5 288.6h0M446.6 292.8h0M442.2 298.3h0M447.9 289.7h0M446.1 281h0M442.7 297h0M443.2 292h0M442.1 299.8h0M442.6 282.5h0M447 283.8h0M448.2 292.2h0M440.3 281.4h0M448.5 290.6h0M442.1 296.2h0M447.9 298.8h0M444.6 291.2h0M447.9 290.4h0M444.2 292.1h0M441.8 293.6h0M444.6 281.6h0M439.1 292.6h0M438.7 289.5h0M440.4 293.1h0M440.5 294.7h0M442.9 297.7h0M440.8 299.2h0M439.5 287.7h0M442.8 284.6h0M446.7 297.9h0M442.1 295h0M440 300.5h0M443.6 282.4h0M444.6 293.8h0M439.7 299.6h0M444.8 284.3h0M447.7 296h0M443 296.5h0M447 286.1h0M449 296.7h0M441 297.9h0M444.3 292.2h0M443.2 291.7h0M441.2 286.2h0M445.6 293.8h0M441.5 283.6h0M443.3 295.4h0M443.7 296.9h0M441.6 282.3h0M447.2 285h0M442 292.7h0M444.2 299.3h0M442.5 284.7h0M447.3 297.2h0M444.3 298.7h0M443.7 286.6h0M444.7 296.5h0M445.5 295.7h0M446.5 285.9h0M439.9 286.4h0M445.5 296.9h0M447.8 289.6h0M438.7 293.7h0M438.5 299.8h0M441.7 291.7h0M448.2 300.2h0M441.9 299.9h0M445.4 286.4h0M448.8 297.8h0M447.2 293.6h0M445.2 294.1h0M440.4 281.9h0M444.6 291.1h0M444.3 281.6h0M439.6 297.1h0M439.9 291.4h0M448.7 295.5h0M440.3 298.3h0M443.6 288.8h0M442.2 283.1h0M442.7 286.8h0M446.2 280.9h0M442.2 298.2h0M443.3 293h0M445.7 290.5h0M445.3 298.8h0M442.8 285.2h0M440.8 296.9h0M439.5 290.2h0M441.4 297.9h0M446.1 288.4h0M439.7 291.6h0M438.7 295.4h0M443.4 280.9h0M441.3 284.8h0M439.6 296.8h0M445.7 294.7h0M441.7 291.4h0M441.1 299.1h0M440.4 286.5h0M445.8 281h0M438 298.5h0M439.3 285.2h0M443.6 288.8h0M444.5 294.3h0M446.4 300.4h0M439.4 284.8h0M447.4 296.7h0M439.6 298.1h0M448.3 285.6h0M441.6 281.1h0M438.1 299.1h0M441.7 299.3h0M445.4 281.8h0M442.4 298.4h0M439.8 291.5h0M440.1 300h0M438.4 296.4h0M446.8 281.4h0M442.9 293.1h0M447.3 291.4h0M448.3 294.3h0M442 281.9h0" stroke="#be4b78" stroke-width="1.15" stroke-linecap="square" fill="none"/>
<polygon points="438.14,324.6 438.39,326.14 438.07,327.68 438.15,329.23 438.36,330.77 438.37,332.31 439.17,333.85 438.52,335.39 447.89,335.39 448.93,333.85 448.38,332.31 448.54,330.77 448.4,329.23 448.36,327.68 448.7,326.14 448.45,324.6" fill="#be4b78"/>
<path d="M448.9 327h0M444.3 330.2h0M441.9 338h0M445.9 336.3h0M441.9 337.9h0M444.5 329.1h0M443.3 331.1h0M446.4 333.4h0M440.4 326.1h0M443.8 325.9h0M448.4 327h0M443 327h0M441.6 337.7h0M440.6 325.3h0M442.1 336.3h0M441.5 341.8h0M443.5 328.5h0M441.3 329.1h0M443.7 325.6h0M442.4 337.3h0M444.2 342.7h0M442.1 329.5h0M439.1 328.1h0M444 331.6h0M439.9 338.3h0M448.2 324.8h0M446.1 329.5h0M442 340.2h0M446.7 326.6h0M443.6 328.5h0M444.5 324.6h0M440.4 331h0M448.4 326.8h0M442.3 340.7h0M441.8 328.8h0M442.3 329.2h0M440.9 342.1h0M444.1 329.6h0M441.9 334.3h0M442.9 336.7h0M448.2 326.2h0M445.9 327h0M441.5 341.4h0M446.2 337.5h0M448.2 329.3h0M443.8 326h0M443.7 342.6h0M442.9 340.2h0M443.5 335.1h0M445.9 336.4h0M446.1 336.6h0M445.3 327.1h0M445.8 338.3h0M444.2 326.6h0M448.9 324.7h0M441 335.1h0M441.6 334.2h0M446.7 333.3h0M447.4 339.8h0M444 335.4h0M439.8 332.4h0M448 324.8h0M445.3 342.5h0M445 326.7h0M441.6 326.8h0M447.4 338.2h0M446.7 324.7h0M445.5 336.5h0M441.9 326.1h0M440.8 337.2h0M443.4 326.5h0M440.9 326.4h0M440.4 326.3h0M442.6 325.6h0M439.6 329.1h0M442.5 326.6h0M441.3 325.2h0M446.3 324.9h0M443.3 325.8h0M445.6 326h0M444.7 342.5h0M440.2 325.4h0M447.9 326.4h0M446.5 325.3h0M446.7 337.8h0M442.7 330.7h0M445.3 329.4h0M445.9 331.8h0M447.4 330.9h0M441.2 334.1h0M440.6 330.6h0M440.6 341.1h0M442.8 330.2h0M439.4 334.3h0M439.9 335.6h0M441.5 328.1h0M449.2 325.2h0M448.1 325.1h0M447.9 335.9h0M444.1 334h0M444.1 331.1h0M440 329h0M446.7 333.8h0M445.7 342.6h0M440.5 334.2h0M440 333.3h0M445.6 339.8h0M441.6 329.8h0M443.1 340.5h0M445.5 325.3h0M439.4 330.6h0M441.3 339.7h0M443.9 326.8h0M441.7 327.6h0M448.3 331.2h0M442.9 333.9h0M447.1 339.2h0M440.4 341.1h0M446 338.6h0M445.8 336.5h0M440.6 335.3h0M445.5 341.5h0M444 327.5h0M440.6 326.7h0M439.9 334.7h0M444.9 324.6h0M447.9 334.4h0M441.5 324.8h0M448.2 325.8h0M440.6 338.6h0M445.7 331.6h0M443.4 334.5h0M440.5 332.9h0M439.8 325.1h0M439.7 332.3h0M442.1 340.4h0M445.2 324.7h0M446.1 335.5h0M448.2 331.1h0M448 335.7h0M441.6 338.3h0M440.4 330.8h0M442.4 334.8h0M442.1 331.4h0M444.6 326.5h0M442.1 336.8h0M444.9 325.9h0M444.1 334.6h0M447.3 339.1h0M444.5 337.6h0M444 341.6h0M440.4 332.5h0M442.1 328.8h0M441.1 327.9h0M439.2 326.6h0M442.9 333.2h0M445.6 338.5h0M446.2 341.4h0M445.4 325.6h0M440.9 341.3h0M438.2 326h0M448.6 326.6h0M440.9 340.3h0M439.2 324.6h0M442.2 339.9h0M442.1 333.5h0M445.1 330.6h0M440.9 341.7h0M446 330.6h0M444.7 338.2h0M438.3 328.1h0M444.3 327.3h0M444.2 340.6h0M442.4 334.1h0M448 337.3h0M445.2 331.6h0M440.9 332.7h0M440.7 340.9h0M448.3 330.6h0M442.4 333.6h0M442.2 327h0M445.3 337.3h0M448.3 334.5h0M441.2 329.7h0M448.1 334.6h0M447.1 336.4h0M439.6 339.1h0M441 334.9h0M446.5 335.8h0M440.9 338.6h0M439.8 329.7h0M445.3 339.1h0M444.1 333.3h0M443.2 337h0M448.7 326.6h0M443.6 337.9h0M440.5 333.4h0M438.6 327.4h0M446.8 335.5h0M440.2 327.8h0M441.2 330.8h0M441.2 337.5h0M442.5 327.8h0M445.3 339.8h0M439.6 325.7h0M445.5 325h0M440.2 335.3h0M447.5 328.2h0M446.2 325h0M444.9 339.1h0M446.3 328.8h0M444 341.2h0M444.7 334.6h0M446.6 341.4h0M443.5 335.5h0M443.5 325.8h0M445.6 330.7h0M440.8 331.8h0M446.4 326.9h0M446.5 333.5h0" stroke="#be4b78" stroke-width="1.15" stroke-linecap="square" fill="none"/>
<rect x="441.9" y="348.6" width="1.2" height="1.2" fill="#be4b78" stroke="none" stroke-width="0.8"/>
<rect x="444.4" y="348.6" width="1.2" height="1.2" fill="#be4b78" stroke="none" stroke-width="0.8"/>
<line x1="443.6" y1="300.5" x2="443.6" y2="304" stroke="#821446" stroke-width="1.2"/>
<line x1="443.6" y1="318.2" x2="443.6" y2="324.6" stroke="#821446" stroke-width="1.2"/>
<rect x="437.95" y="304" width="11.3" height="14.2" fill="#fff" stroke="#821446" stroke-width="1.15"/>
<line x1="437.95" y1="311" x2="449.25" y2="311" stroke="#821446" stroke-width="1.15"/>
<polygon points="455.96,296.5 455.25,295.24 455.44,293.98 455.58,292.73 456.09,291.47 455.35,290.21 455.8,288.95 456.21,287.69 456.09,286.43 456.6,285.17 465.44,285.17 465.48,286.43 465.97,287.69 465.82,288.95 465.51,290.21 466.33,291.47 465.87,292.73 465.74,293.98 465.55,295.24 466.27,296.5" fill="#6e9632"/>
<path d="M456.3 290.2h0M457.4 283.6h0M459.2 284.2h0M456.3 292.5h0M456.2 288.3h0M461.1 287.6h0M462.5 293.7h0M456.3 286.8h0M463.8 283.1h0M464.9 285.2h0M456.7 292.7h0M465.4 291.4h0M456.7 287.4h0M463.9 286.1h0M462.5 291h0M460.1 283.9h0M461.5 285.4h0M464.2 285.5h0M457.3 295.2h0M459.1 289h0M455.2 293.4h0M466.3 291.3h0M457.6 291.8h0M461.9 292.3h0M457.1 296.4h0M459.3 290h0M456.9 287.1h0M465.4 296.1h0M462.2 286.1h0M457.5 288.7h0M460.2 295.2h0M460.4 287.3h0M456.1 290.4h0M458.9 282.4h0M464.2 292.1h0M459.8 282.4h0M464.6 291.1h0M456.6 290.6h0M459 294.4h0M455.9 296.5h0M463.6 283.4h0M459 284.7h0M465.7 292.7h0M460 296.2h0M463.5 292.4h0M466 287.3h0M461.5 282.1h0M461.6 283h0M460.9 294.6h0M465.4 293.8h0M457 285.2h0M462.3 287.9h0M457.3 285.7h0M456.5 289h0M459.3 291.5h0M459.8 292.6h0M456.5 290.1h0M456.1 289.9h0M456 287h0M455.3 290.6h0M465.1 285.5h0M460.4 286.2h0M463.6 291h0M459.2 296h0M457.2 290.7h0M459.1 291h0M461.8 295.3h0M456.6 291.4h0M457.8 289.8h0M458.8 289.2h0M461.8 286.7h0M459 296.5h0M459.2 286h0M464.4 285.7h0M462.8 282.8h0M460.6 291.5h0M458.5 295.9h0M464.1 293.9h0M462.1 285.5h0M460.1 285.9h0M459.3 288.1h0M461.1 296.4h0M460.8 283.8h0M459.9 283.3h0M457 294h0M458.7 291.5h0M458.7 295.6h0M462.8 282.3h0M457.8 291.6h0M459 290.4h0M458.4 288.4h0M463.7 288.4h0M457.7 293.6h0M461.6 289.3h0M463.5 283.7h0M460.7 291h0M461.5 285.4h0M459.5 295.5h0M462.7 295.6h0M462.1 285.6h0M459.7 296.2h0M462.9 296.4h0M457.8 286.1h0M456.2 286.7h0M465.6 295.3h0M462.5 294.4h0M462.8 282.7h0M460 291.1h0M456.9 291.9h0M461 285.5h0M460.6 285.9h0M458.1 294.2h0M463.3 295.6h0M459.5 290.4h0M459.9 281.9h0M457.7 292.6h0M458 293.6h0M459.9 290.2h0M464.5 290.8h0M462 292.6h0M465.7 290.2h0M465.5 288.8h0M457.4 292.5h0M464.4 294.5h0M458.5 295.6h0M456.8 284.3h0M459.7 286.9h0M465.8 294.4h0M458.2 284.1h0M461.4 295.4h0M465.8 296h0M458.7 293h0M460.7 296.1h0M456.7 289.4h0M460.9 287h0M464.7 284.8h0M460.3 283.9h0M462.3 292.7h0M460.3 291.8h0M456.9 294h0M462.3 295.7h0M464.7 283.1h0M457.5 293.8h0M456.4 295.9h0M459.4 284.8h0M457.4 292.4h0M457.6 287h0M457.3 282.3h0M460.1 282.8h0M460.8 291.3h0M465.5 294.2h0M461.3 290.1h0M462.2 283.9h0M457.3 284.5h0M457.6 293.4h0M458.2 290.2h0M458.4 283.4h0M459.7 292.1h0M463.1 293.1h0M464.1 290.5h0M464.6 292.6h0M459.9 284.6h0M464.1 282.6h0M461.4 294.3h0M458.4 283.9h0M459.1 283.9h0M459.6 284.8h0M463.6 282.5h0M455.4 292.2h0M461.5 288.4h0M465.5 293.4h0M461.1 291.6h0M463.4 294.3h0M456.9 289.8h0M459.1 282.6h0M463.3 295.4h0M464.2 291.6h0M461.4 291.5h0M464.7 286.7h0M456.5 295.1h0M457 290.7h0M459.3 285.3h0M456.2 292.6h0M459.3 293.7h0M457.6 293.8h0M463.3 293.6h0M460.9 295.5h0M455.7 287.9h0M463.2 284.9h0M455.9 294.1h0M465 296h0M462 296.3h0M462.5 289h0M460.3 291.2h0M463.7 290.9h0M458.2 295.7h0M459.9 290.5h0M459.6 288.5h0M458.8 282h0M457 282.9h0" stroke="#6e9632" stroke-width="1.15" stroke-linecap="square" fill="none"/>
<polygon points="455.6,318.2 455.43,319.73 455.68,321.27 456.04,322.8 455.96,324.33 456.09,325.87 455.48,327.4 456.1,328.93 456.31,330.47 465.12,330.47 465.47,328.93 465.23,327.4 466.1,325.87 466.13,324.33 466.3,322.8 465.98,321.27 465.73,319.73 465.9,318.2" fill="#6e9632"/>
<path d="M462.2 336.6h0M458.8 321.2h0M463.5 326.6h0M462.6 336.1h0M461.8 331.5h0M464.4 330h0M457.9 332h0M459.8 320.9h0M459.8 335.8h0M459 332.3h0M464.4 329.9h0M461.1 336.3h0M457.3 327.6h0M458.5 333.1h0M464.8 319.4h0M460.4 326.1h0M465.5 320.3h0M464.4 329.5h0M460.6 323.6h0M456.4 325.9h0M461.9 318.3h0M464.6 323h0M462.4 331.1h0M458 327.2h0M462.6 327.3h0M460.4 321.3h0M462.7 318.8h0M457.7 324.4h0M463.7 330h0M455.3 320.7h0M465.6 327.3h0M464.2 319h0M463 327.8h0M459.6 318.3h0M465.8 318.5h0M461.8 336.3h0M463.7 327.6h0M466.2 319.5h0M460 323.5h0M456.1 318.3h0M458.8 334.9h0M463.3 325.7h0M460.2 330.4h0M464.1 329.6h0M459.5 320.5h0M462.9 327.2h0M455.8 327h0M459.2 321.1h0M461.7 333.5h0M461.5 321.6h0M466 322h0M464.6 329.7h0M456.7 323.6h0M458 331.7h0M462.9 333.1h0M461.4 333.4h0M455.9 328.6h0M456.6 321.7h0M461.2 318.7h0M460.7 318.7h0M457.3 319.9h0M465.1 332h0M462 328.3h0M460 320.2h0M457.7 334h0M457.9 323.4h0M456.9 320.8h0M459.3 330.5h0M459.9 336.3h0M459.5 329.9h0M456.8 331.3h0M459.5 336.2h0M459.1 330.6h0M461.2 318.3h0M464 319.4h0M455.8 320.7h0M461.7 326.4h0M463 328.5h0M465.3 318.6h0M462.9 332.1h0M458.5 318.2h0M465.1 320.5h0M459.6 321.5h0M463.4 320.6h0M460.4 319.4h0M459.5 330.9h0M460.9 320.9h0M463.3 320.3h0M458.5 332.3h0M459.4 318.6h0M464.7 318.3h0M461.3 335.5h0M461.8 326.1h0M461.2 323.1h0M464.4 328h0M456.9 322h0M455.8 324.6h0M460.9 322.2h0M461.5 333.2h0M462.2 336.3h0M462.7 336.2h0M457.2 322.5h0M463.2 329.7h0M464.4 323.9h0M464.1 328.6h0M464.6 318.2h0M458.8 333.8h0M458.9 332.9h0M463.5 333.1h0M457.4 332.6h0M461.3 320.4h0M459.5 321.1h0M463.1 335.6h0M457.1 319.9h0M461.4 331.5h0M466 318.2h0M456.2 320.2h0M463.2 333.9h0M461.7 319.1h0M463.8 335.2h0M463.1 334.4h0M460.2 335.1h0M464.3 330h0M461.6 332.4h0M462.9 332.9h0M463.5 334.8h0M458.4 333.6h0M460.7 322.7h0M458.4 318.2h0M464.4 333.6h0M461 325.5h0M461.2 319.3h0M459.6 335h0M464 328.8h0M460.1 324.8h0M457.7 330.1h0M457.8 322.7h0M457.9 318.7h0M462.9 332.7h0M456.5 323.8h0M458.5 325.9h0M464.5 328.3h0M458.9 323.1h0M463.8 332.6h0M459.2 329.6h0M458 334.9h0M461.9 336.3h0M457.1 318.7h0M464.6 331.9h0M462.1 319.1h0M462.1 333.3h0M463.2 334.9h0M456.2 320.1h0M459 334.1h0M464.2 333.7h0M463.8 323.6h0M460.9 320.6h0M462.2 319.4h0M460 319.7h0M466.2 318.3h0M459.1 328h0M464 320.8h0M461.5 325.5h0M459.3 318.5h0M464.5 325h0M455.8 320.5h0M457.7 326.4h0M456.4 318.5h0M460 325.3h0M463.1 321.5h0M458.5 318.6h0M458 325.6h0M459.9 335.8h0M465.8 324.8h0M457.9 326.1h0M466.2 325.2h0M459.2 332.7h0M465.6 318.8h0M456.1 322h0M463.7 324.2h0M464.2 323.3h0M461.9 335.1h0M461.5 333.8h0M462.8 318.9h0M464.3 321.3h0M460.6 334.2h0M456.4 329.9h0M462.5 327.2h0M457.9 334.7h0M463.7 320.4h0M460.3 327.9h0M458.5 335.9h0M457.8 333.6h0M462.6 321.1h0M463.8 318.6h0M464.1 322.2h0M458.2 327.7h0M464.5 331.8h0M457.2 331.8h0M456 324.6h0" stroke="#6e9632" stroke-width="1.15" stroke-linecap="square" fill="none"/>
<rect x="460.2" y="279.4" width="1.2" height="1.2" fill="#6e9632" stroke="none" stroke-width="0.8"/>
<rect x="460.2" y="341.7" width="1.2" height="1.2" fill="#6e9632" stroke="none" stroke-width="0.8"/>
<line x1="460.8" y1="296.5" x2="460.8" y2="300.2" stroke="#4a6420" stroke-width="1.2"/>
<line x1="460.8" y1="313" x2="460.8" y2="318.2" stroke="#4a6420" stroke-width="1.2"/>
<rect x="455.15" y="300.2" width="11.3" height="12.8" fill="#fff" stroke="#4a6420" stroke-width="1.15"/>
<line x1="455.15" y1="305.7" x2="466.45" y2="305.7" stroke="#4a6420" stroke-width="1.15"/>
<polygon points="472.5,301.3 473.15,299.62 472.66,297.95 473.08,296.27 472.49,294.6 473.27,292.93 473.52,291.25 483.53,291.25 483.44,292.93 482.74,294.6 483.37,296.27 482.96,297.95 483.45,299.62 482.8,301.3" fill="#28967d"/>
<path d="M482.1 288.1h0M482.2 301.3h0M472.9 296.5h0M478.5 290.5h0M480.3 282.2h0M481.2 293.8h0M478.2 284h0M479.8 296.8h0M480 285h0M474.5 290.5h0M479.1 288h0M477.7 288.1h0M475.4 301h0M474.4 291.1h0M477.1 296.6h0M475.7 299.7h0M482.7 294.2h0M474 288.2h0M481.6 295.4h0M480.4 301.3h0M475.5 288.2h0M476 301.2h0M479.9 296.6h0M474.4 300.6h0M473.4 288.2h0M476.7 291.1h0M477.1 296.4h0M481.4 296.3h0M478.7 283.4h0M481.7 289h0M477.7 300.2h0M481 301.1h0M475 283.9h0M479.5 294.7h0M473.2 292.4h0M476.3 295h0M482.4 290.9h0M478.6 300.6h0M476.8 293.9h0M477.6 298.9h0M480.1 300h0M482.3 297.2h0M474.9 298.1h0M480.6 299h0M481.5 285.3h0M479.6 292.8h0M478.5 296h0M482.3 300.1h0M477.9 294.7h0M478.3 300.3h0M483.5 298.9h0M476.5 300.6h0M474.8 300.6h0M473.3 293.1h0M479.2 290.2h0M476.5 287.1h0M476.4 290.1h0M483.2 288.9h0M480.1 299.2h0M475.7 286.3h0M478.2 300.9h0M479.3 292.9h0M476.4 287.2h0M480.1 286.1h0M475.1 298.1h0M482.1 294.1h0M478.4 284.4h0M478 292.5h0M473.3 287.5h0M478.3 288.5h0M482 291.8h0M478.2 300.2h0M476.2 282.5h0M475.7 290.6h0M479.5 287h0M474.1 299.8h0M477.5 296.2h0M482.4 286.3h0M473.6 292h0M483 294h0M477.4 300.6h0M479.7 297.7h0M473 298.6h0M478.4 299h0M481.9 294.8h0M479.8 298.6h0M474.4 283.1h0M474.9 293.3h0M475.4 295.5h0M475.7 287.3h0M476.2 281.6h0M479.7 297.2h0M474.4 300h0M479.9 296.5h0M478.9 285.7h0M478.8 297.3h0M477.2 281.7h0M472.9 300.1h0M483.1 294.1h0M479.6 282.7h0M476.7 298.3h0M477.4 298.6h0M473.5 287h0M475 292.7h0M481.2 290.5h0M476.6 287.1h0M474 283.8h0M474.2 297.2h0M477.9 289h0M473.3 290.9h0M480.9 300.2h0M482.6 289.9h0M479.2 294.5h0M482.3 294.6h0M478 297.2h0M476.9 286.6h0M473.6 294.5h0M478.1 282.2h0M474.4 293.8h0M476.4 295h0M476.6 299h0M479.7 296.1h0M483.6 300.6h0M473.6 285.2h0M480.7 294.1h0M482.5 301h0M475.1 282h0M483.3 296.7h0M480.8 297.4h0M473.3 286.2h0M476.2 293.6h0M474.2 285.7h0M473.1 289.4h0M477.8 290.8h0M481.9 283.1h0M480 285.7h0M479.1 295.6h0M480.8 294.7h0M479.2 281.8h0M478.7 299.6h0M482.5 292.5h0M476.9 296.7h0M479.2 288.8h0M479.2 293.3h0M473.5 298.3h0M478.4 294.5h0M477 288h0M483.2 296.4h0M475.7 283.6h0M476.7 284.9h0M481.4 300.9h0M482.9 292.6h0M473 294.5h0M480.3 295.4h0M479.9 298.3h0M480 298.4h0M480.4 301.2h0M476.8 298.7h0M475.4 282h0M483.4 300.6h0M478.7 286h0M477.7 292.6h0M481.5 290h0M476.5 299.8h0M474.3 293.1h0M479.7 300.2h0M480.2 281.6h0M476.3 296.8h0M480.2 281.5h0M473.5 291h0M480.9 299.9h0M479.9 295.8h0M480.2 299.4h0M473.8 292.8h0M475.3 299.9h0M478.5 295.3h0M475.8 282.6h0M478.4 298.9h0M472.6 298.4h0M477.1 293h0M478.2 289.8h0M477.4 300.6h0M473.3 300.4h0M481.7 284.8h0M479.8 282.3h0M478.1 290.7h0M476.1 292.6h0M477.8 284.5h0M477 283.4h0M479.6 298h0M478 288.6h0M473.4 298.5h0M474.2 290.2h0M477.7 285.1h0M475.7 288.1h0M476 283.6h0M475.3 281.4h0M476.1 287.8h0M478.9 282.8h0M478.6 287.9h0M475.9 287.1h0M479.9 295.6h0M475.7 300.8h0M474.5 298.9h0M472.8 297.9h0M477.2 291.9h0M482.8 287.7h0M479.8 291h0M482 283.9h0M482.1 294.3h0M477.7 294.7h0M480.8 297.9h0M476 298h0M472.7 294.3h0M473.4 285.8h0M482.5 299.8h0M473.4 286.9h0M477.1 298.5h0M475.1 301.2h0M483.5 296.3h0" stroke="#28967d" stroke-width="1.15" stroke-linecap="square" fill="none"/>
<polygon points="472.95,326.5 472.81,328.08 473.44,329.67 473.04,331.25 473.44,332.83 473.01,334.42 473.07,336 482.83,336 483.02,334.42 483.62,332.83 483.3,331.25 483.74,329.67 483.11,328.08 483.25,326.5" fill="#28967d"/>
<path d="M483.4 327h0M476.6 342.1h0M472.7 333.9h0M473.1 328.6h0M475.3 331.2h0M473.2 327.1h0M473.2 328.6h0M481.9 327.9h0M473.5 332.8h0M475.6 342.3h0M473 329.2h0M477.7 341.6h0M478.2 335.9h0M481.3 341.9h0M478.4 340.7h0M475.3 338.4h0M478.2 342.2h0M476.2 326.7h0M476.9 344.2h0M483.5 327.7h0M478.9 332.8h0M475.4 331.6h0M482.9 330.9h0M480.4 334h0M475.4 336.6h0M481 343.2h0M473 328h0M474.7 339h0M478 342.3h0M475.7 334.5h0M476.1 335.3h0M478.5 326.6h0M479.4 342.4h0M481.9 333.5h0M474.9 326.9h0M472.8 331.7h0M481.5 327.3h0M479.8 333.6h0M482.7 328.6h0M477 343.6h0M476.4 328.8h0M476.8 330.2h0M480.8 338.1h0M478.9 343.1h0M479.4 341.2h0M474.4 327.2h0M473.7 329.4h0M480 329.8h0M477.6 339.4h0M479.6 335.1h0M477.4 338.1h0M478.3 331.6h0M474.2 335.9h0M478.1 333.4h0M476.1 339.8h0M479.4 344.5h0M478.1 336.8h0M476.3 328.4h0M477.8 330.6h0M472.7 327.1h0M475.9 345.4h0M477 330.5h0M477.3 345.2h0M477.9 330.3h0M482 336.9h0M473.9 338.2h0M481 343.1h0M481.7 327.5h0M480.4 343.4h0M476.9 343.8h0M481 337.1h0M479 341.5h0M479.3 342.7h0M483.1 332h0M473.7 332.5h0M477.2 343.4h0M481.5 340.6h0M479.8 340.3h0M478.2 330.9h0M481.5 332.2h0M477.4 330.7h0M474.6 340.1h0M478.6 340.4h0M479.9 338h0M482.5 329.5h0M476.6 336.7h0M474.8 327.5h0M475.8 326.7h0M472.8 327.9h0M473.6 326.9h0M473.6 329.1h0M473.7 330.6h0M479 328.2h0M480.1 331.8h0M479.8 329.3h0M477.3 330.2h0M473.5 329.7h0M477 345.5h0M479.4 326.5h0M473.6 327h0M474.8 329.3h0M476.3 331.8h0M481.2 330.6h0M482.5 331.9h0M481.9 338.5h0M476.3 332.9h0M483.4 335.9h0M480.1 327.2h0M478.5 341.3h0M483.7 327.8h0M482.8 330.9h0M473.9 333.7h0M475.9 334.9h0M482.5 330.6h0M478.6 343.1h0M479.8 337.5h0M481.1 333.2h0M483.3 336.4h0M481.5 340.8h0M477.7 326.8h0M475.9 328.1h0M482.2 327.1h0M478.7 333.3h0M480.4 341.3h0M474.5 342.3h0M477.8 327.5h0M483.2 336h0M474.1 331.4h0M473.9 329.6h0M478.5 339.5h0M481 329.6h0M474.7 332h0M481.2 327.1h0M479.9 341.4h0M480.7 344.5h0M474 326.5h0M478.3 334.3h0M474.9 331.4h0M483.4 329.9h0M477.2 334.1h0M480.3 339.3h0M480.6 340.7h0M475.2 330.6h0M480.7 334.3h0M482.6 329.9h0M475.1 327.7h0M474.5 332h0M476 327.9h0M479.2 326.5h0M474.3 335.2h0M477.3 339.4h0M482.2 335.2h0M473.8 334.2h0M474.2 331.1h0M476.2 342.8h0M477.6 327.1h0M481.3 331.1h0M475 326.6h0M473.7 330.7h0M482.4 334.5h0M478.7 343.6h0M479.6 326.6h0M478.5 328.1h0M482.8 336.7h0M475.5 335.6h0M480.9 327.3h0M476 331.4h0M479.9 335.1h0M473 336.4h0M479.4 341.6h0M479.4 342.3h0M475.8 337.5h0M482.9 331.3h0M482.7 330.7h0M477.6 329.8h0M478.9 344.6h0M472.8 334.6h0M474 332.2h0M483.2 335.6h0M482.9 329.8h0M476 343.7h0M479.6 342.7h0M474.1 328.4h0M482 336.6h0M481.1 330.5h0M474.3 337.2h0M476 338.6h0M477.6 328.4h0M482.3 326.7h0M483.5 326.8h0M480 345.2h0M483.2 336.2h0M476.7 326.8h0M474.4 333.7h0M481.3 338.2h0M473.2 333.2h0M482.1 331h0M477.5 345.2h0M482.2 326.6h0M473.6 338.6h0" stroke="#28967d" stroke-width="1.15" stroke-linecap="square" fill="none"/>
<rect x="476.9" y="273.9" width="1.2" height="1.2" fill="#28967d" stroke="none" stroke-width="0.8"/>
<rect x="478.4" y="273.9" width="1.2" height="1.2" fill="#28967d" stroke="none" stroke-width="0.8"/>
<rect x="477.4" y="348.9" width="1.2" height="1.2" fill="#28967d" stroke="none" stroke-width="0.8"/>
<line x1="478.1" y1="301.3" x2="478.1" y2="307.7" stroke="#1a6a58" stroke-width="1.2"/>
<line x1="478.1" y1="321.4" x2="478.1" y2="326.5" stroke="#1a6a58" stroke-width="1.2"/>
<rect x="472.45" y="307.7" width="11.3" height="13.7" fill="#fff" stroke="#1a6a58" stroke-width="1.15"/>
<line x1="472.45" y1="315" x2="483.75" y2="315" stroke="#1a6a58" stroke-width="1.15"/>
<polygon points="490.05,313.4 490.35,311.99 490.38,310.58 490.98,309.17 490.48,307.77 499.3,307.77 500.31,309.17 500.16,310.58 500.47,311.99 500.35,313.4" fill="#5082be"/>
<path d="M491.7 306h0M493.5 308.2h0M499 311.6h0M497.1 305.2h0M493.1 304.6h0M492 310.2h0M493.8 304.2h0M498.8 312.2h0M500.6 312.2h0M497.1 309.4h0M494.5 296.8h0M494.5 299.1h0M494.9 305.9h0M496.9 305.8h0M494.6 301.4h0M498 302.9h0M495 306.4h0M492.3 307.2h0M493.4 304.6h0M499.6 308.7h0M493.6 310h0M496.1 303.6h0M493.4 299.7h0M491.9 310.4h0M494.1 312.1h0M497.3 301.4h0M497.6 311.3h0M494.8 311.5h0M492.4 312.2h0M496.5 300.5h0M498.8 306.6h0M493 312.4h0M492.6 303.3h0M494.6 307.5h0M492.9 311.6h0M495.8 310.5h0M496 309.3h0M497.6 309.4h0M495.8 299.1h0M495.1 300h0M499.7 312.7h0M490.7 311.3h0M492.7 301.8h0M494.7 306.4h0M494.8 313h0M497.5 312.4h0M494.9 299.9h0M494.4 305.5h0M499.1 304.7h0M496.3 310.8h0M500 313.3h0M494.5 313h0M495.8 308.8h0M491.9 310.6h0M498.1 306h0M495 297.2h0M493.4 310.7h0M499.4 312.4h0M493.2 300.7h0M495.3 298.4h0M496.4 304.8h0M493.5 301.8h0M495.8 309h0M497 304.1h0M492 311h0M494.8 303.3h0M496.8 297h0M497 297.4h0M496.6 299h0M498.6 313h0M493.6 299.9h0M499.8 312.4h0M490.4 311.7h0M493.8 309h0M492 309.8h0M498.5 307.3h0M495.1 313.2h0M496.5 297.8h0M496.1 313.2h0M491.5 311.4h0M497.3 299.4h0M493.9 296.6h0M493.5 313.3h0M491.4 308.7h0M495.2 298.4h0M493.9 296.8h0M491.6 307.1h0M496.6 297.1h0M493.7 312.4h0M495.6 297.1h0" stroke="#5082be" stroke-width="1.15" stroke-linecap="square" fill="none"/>
<polygon points="489.71,324.6 489.81,326.08 490.02,327.55 490.15,329.03 490.64,330.5 499.45,330.5 499.49,329.03 499.8,327.55 499.93,326.08 500.01,324.6" fill="#5082be"/>
<path d="M498.7 333.2h0M493.2 324.8h0M496.2 330.3h0M495.5 338.5h0M500.4 325.3h0M498.6 326.6h0M490.9 325.6h0M494.6 335h0M493 338.9h0M490.7 325.6h0M492.2 330.8h0M494.8 326.3h0M497.1 337.4h0M493.8 330h0M497.3 327.7h0M497.3 329.5h0M492.2 325.7h0M491 332.7h0M496.8 340h0M491.5 330.6h0M493.8 329.6h0M494.7 329.2h0M490.5 326h0M491.3 325.2h0M494.4 326.7h0M491.4 326h0M495.8 333.3h0M497.5 328h0M492.7 332.4h0M495.6 339.2h0M495.3 326h0M493.2 324.9h0M494.8 339.7h0M491.1 331.8h0M498.8 330.7h0M495.1 340.3h0M496.8 342h0M498.9 325.6h0M496.4 327.5h0M492.7 331.4h0M500.6 326.7h0M494.9 339.4h0M496.4 338.2h0M498.4 329.6h0M494.5 338.8h0M494.7 340.4h0M499.5 327h0M493.7 337.8h0M492.3 332.3h0M492.9 337.2h0M496.5 342.2h0M499.4 329.3h0M496.3 330.9h0M493.3 340.2h0M493.2 324.6h0M497.4 332.5h0M490.6 326.8h0M489.8 324.6h0M500.1 326.9h0M493 330.3h0M494.6 326.5h0M492.2 327.4h0M494.5 330.9h0M495 341.7h0M490.4 324.9h0M495.5 336h0M499 333.6h0M492 328.2h0M499.7 330.2h0M495.6 339.9h0M494 336.6h0M492.6 331h0M497.6 333.7h0M498.3 332.9h0M498.4 327.4h0M497.8 335.9h0M493.6 332.7h0M497.5 329.7h0M500.2 328.2h0M498.8 335.8h0M495.4 330.3h0M498.2 337.3h0M499.5 325.5h0M494.8 340.8h0M491.3 329.3h0M494.8 335.2h0M492.3 329.5h0M492.9 338.8h0M493.9 340.6h0M493.1 330.7h0" stroke="#5082be" stroke-width="1.15" stroke-linecap="square" fill="none"/>
<line x1="495.3" y1="313.4" x2="495.3" y2="315.4" stroke="#2a5080" stroke-width="1.2"/>
<line x1="495.3" y1="323" x2="495.3" y2="324.6" stroke="#2a5080" stroke-width="1.2"/>
<rect x="489.65" y="315.4" width="11.3" height="7.6" fill="#fff" stroke="#2a5080" stroke-width="1.15"/>
<line x1="489.65" y1="319" x2="500.95" y2="319" stroke="#2a5080" stroke-width="1.15"/>
<path d="M512.8 294h0M512.2 286.6h0M511.8 287.3h0M510.9 287.6h0M509.7 293.3h0M512.1 293.3h0M513 285.5h0M510.2 293h0M513 289h0M513.5 285.7h0M516.6 296.1h0M510.2 296h0M509.6 294.1h0M509.5 293.3h0M510.3 292.2h0M516.1 291.6h0M507.8 296.3h0M509.1 295.5h0M513.2 285.8h0M516.5 292.3h0M507.1 296.3h0M515.4 295.3h0M511.4 287.9h0M511.8 286.8h0M514.3 290.8h0M512.6 288.7h0M509 293.8h0M516.4 292.9h0M513.3 285.4h0M509.2 289.1h0" stroke="#f5a032" stroke-width="1.15" stroke-linecap="square" fill="none"/>
<path d="M516.4 320.6h0M513.4 321.1h0M512.7 323.5h0M512.2 324.7h0M516.4 319h0M513.4 318.2h0M511.5 332.8h0M506.9 313.4h0M509.2 313.1h0M508.1 320.6h0M512.5 331.4h0M515.5 324.4h0M511.4 316.4h0M513.6 333.1h0M511 328.4h0M510.2 331.3h0M512.7 313.1h0M507.9 312.2h0M511.7 333.5h0M516.2 313.5h0M515.9 314.1h0M509.9 318.1h0M510.8 329.1h0M510.8 333.1h0M508.2 312.4h0M511.4 332.7h0M510.8 315.3h0M513.3 312h0M515.4 319h0M512.3 329.8h0M515.6 323.5h0M516.4 317.8h0M508.7 321.8h0M515 314.1h0M510.8 334h0M515.2 313.6h0M510.5 329.7h0M513.1 318.2h0M511.5 322.8h0M515.7 322.8h0M511.3 331.2h0M511.5 333.7h0M511.6 317h0M510 329.8h0M513.4 331.8h0" stroke="#f5a032" stroke-width="1.15" stroke-linecap="square" fill="none"/>
<line x1="512.2" y1="296.5" x2="512.2" y2="298.6" stroke="#d07040" stroke-width="1.2"/>
<line x1="512.2" y1="306.6" x2="512.2" y2="311.8" stroke="#d07040" stroke-width="1.2"/>
<rect x="506.55" y="298.6" width="11.3" height="8" fill="#fff" stroke="#d07040" stroke-width="1.15"/>
<line x1="506.55" y1="302.4" x2="517.85" y2="302.4" stroke="#d07040" stroke-width="1.15"/>
<line x1="414.9" y1="258.8" x2="414.9" y2="350.7" stroke="#222" stroke-width="1.4"/>
<line x1="412.1" y1="259.2" x2="414.9" y2="259.2" stroke="#222" stroke-width="1.1"/>
<text x="411.2" y="261.72" font-size="7" text-anchor="end" fill="#444" style="" stroke="#444" stroke-width="0.21">6</text>
<line x1="412.1" y1="289.9" x2="414.9" y2="289.9" stroke="#222" stroke-width="1.1"/>
<text x="411.2" y="292.42" font-size="7" text-anchor="end" fill="#444" style="" stroke="#444" stroke-width="0.21">4</text>
<line x1="412.1" y1="320.1" x2="414.9" y2="320.1" stroke="#222" stroke-width="1.1"/>
<text x="411.2" y="322.62" font-size="7" text-anchor="end" fill="#444" style="" stroke="#444" stroke-width="0.21">2</text>
<line x1="412.1" y1="350.4" x2="414.9" y2="350.4" stroke="#222" stroke-width="1.1"/>
<text x="411.2" y="352.92" font-size="7" text-anchor="end" fill="#444" style="" stroke="#444" stroke-width="0.21">0</text>
<line x1="413.1" y1="350.4" x2="524" y2="350.4" stroke="#222" stroke-width="1.4"/>
<text x="469.6" y="251" font-size="7.2" text-anchor="middle" fill="#333" style="font-style:italic;" stroke="#333" stroke-width="0.22">CYP1B1 (AHR-target)</text>
<ellipse cx="426.2" cy="357.7" rx="7.1" ry="4.1" fill="#fff" stroke="#222" stroke-width="0.8"/>
<text x="426.2" y="360" font-size="6.3" text-anchor="middle" fill="#333" style="" stroke="#333" stroke-width="0.19">C1</text>
<ellipse cx="443.6" cy="357.7" rx="7.1" ry="4.1" fill="#fff" stroke="#222" stroke-width="0.8"/>
<text x="443.6" y="360" font-size="6.3" text-anchor="middle" fill="#333" style="" stroke="#333" stroke-width="0.19">C2</text>
<ellipse cx="460.8" cy="357.7" rx="7.1" ry="4.1" fill="#fff" stroke="#222" stroke-width="0.8"/>
<text x="460.8" y="360" font-size="6.3" text-anchor="middle" fill="#333" style="" stroke="#333" stroke-width="0.19">C3</text>
<ellipse cx="478.1" cy="357.7" rx="7.1" ry="4.1" fill="#fff" stroke="#222" stroke-width="0.8"/>
<text x="478.1" y="360" font-size="6.3" text-anchor="middle" fill="#333" style="" stroke="#333" stroke-width="0.19">C4</text>
<ellipse cx="495.3" cy="357.7" rx="7.1" ry="4.1" fill="#fff" stroke="#222" stroke-width="0.8"/>
<text x="495.3" y="360" font-size="6.3" text-anchor="middle" fill="#333" style="" stroke="#333" stroke-width="0.19">C5</text>
<ellipse cx="512.2" cy="357.7" rx="7.1" ry="4.1" fill="#fff" stroke="#222" stroke-width="0.8"/>
<text x="512.2" y="360" font-size="6.3" text-anchor="middle" fill="#333" style="" stroke="#333" stroke-width="0.19">C6</text>
<text x="399.4" y="304.7" font-size="7" text-anchor="middle" fill="#333" style="" transform="rotate(-90 399.4 304.7)" stroke="#333" stroke-width="0.21">Log10 (normalized expression+1)</text>
<path d="M426.3 258.1 V257.1 H511.9 V258.1" fill="none" stroke="#8a8a8a" stroke-width="0.8"/>
<path d="M443.9 262 V261 H511.9 V262" fill="none" stroke="#555" stroke-width="0.8"/>
<path d="M460.9 266.5 V265.5 H511.9 V266.5" fill="none" stroke="#555" stroke-width="0.8"/>
<path d="M478 270.4 V269.4 H511.9 V270.4" fill="none" stroke="#555" stroke-width="0.8"/>
<path d="M495.1 274.4 V273.4 H511.9 V274.4" fill="none" stroke="#555" stroke-width="0.8"/>
<text x="518.8" y="269.3" font-size="7" text-anchor="start" fill="#333" style="" stroke="#333" stroke-width="0.21">****</text>
<path d="M514.3 256.6 H515.6 V274.7 H514.3" fill="none" stroke="#555" stroke-width="0.8"/>
<line x1="15.5" y1="396.6" x2="15.5" y2="586.6" stroke="#6a6a6a" stroke-width="1"/>
<path d="M13.8 397.4 L17.2 397.4 L15.5 393 Z" fill="#111" stroke="none" stroke-width="0.8"/>
<line x1="15.5" y1="586.6" x2="210.6" y2="586.6" stroke="#6a6a6a" stroke-width="1"/>
<path d="M209.1 585 L209.1 588.2 L213.6 586.6 Z" fill="#111" stroke="none" stroke-width="0.8"/>
<line x1="15.5" y1="455.2" x2="210.4" y2="455.2" stroke="#cfcfcf" stroke-width="0.9"/>
<line x1="15.5" y1="522.3" x2="210.4" y2="522.3" stroke="#cfcfcf" stroke-width="0.9"/>
<text x="49.1" y="391.4" font-size="6.1" text-anchor="middle" fill="#222" style="" stroke="#222" stroke-width="0.18">Melanoma (SKCM)</text>
<text x="112.8" y="391.4" font-size="6.05" text-anchor="middle" fill="#222" style="" stroke="#222" stroke-width="0.18">Lung squamous (LUSC)</text>
<text x="176.2" y="391.4" font-size="6.1" text-anchor="middle" fill="#222" style="" stroke="#222" stroke-width="0.18">Pancreas (PDAC)</text>
<text x="11.9" y="421.5" font-size="6.3" text-anchor="middle" fill="#222" style="font-style:italic;" transform="rotate(-90 11.9 421.5)" stroke="#222" stroke-width="0.19">IDO1</text>
<text x="11.9" y="487.7" font-size="6.3" text-anchor="middle" fill="#222" style="font-style:italic;" transform="rotate(-90 11.9 487.7)" stroke="#222" stroke-width="0.19">TDO2</text>
<text x="11.9" y="552.7" font-size="6.3" text-anchor="middle" fill="#222" style="font-style:italic;" transform="rotate(-90 11.9 552.7)" stroke="#222" stroke-width="0.19">CYP1B1</text>
<text x="117" y="595.2" font-size="6.4" text-anchor="middle" fill="#222" style="font-style:italic;" stroke="#222" stroke-width="0.19">FOXP3</text>
<ellipse cx="47.5" cy="423" rx="12.83" ry="5.27" fill="#c6c6c6" transform="rotate(-72.47 47.5 423)"/>
<path d="M45.4 437.7h0M46.1 425.1h0M50.2 427.9h0M58.9 416.1h0M41.2 424h0M44.8 422h0M49.9 440.6h0M49.8 419.3h0M53.8 415.8h0M46.9 426.2h0M52.3 411.1h0M44.1 430.6h0M46.1 429.5h0M44 435.5h0M51.4 416h0M48.3 424.1h0M47 418.4h0M46 433.1h0M42.9 416.6h0M52.6 409.1h0M48.1 424.3h0M47.5 421.5h0M51.7 429.2h0M45.2 411.1h0M44.9 426.7h0M40.9 425.2h0M48.8 407.4h0M51.7 418.5h0M41 441.3h0M47.6 422.2h0M49.3 426.5h0M44.9 433.3h0M48.1 420.8h0M53.3 414h0M42 419.9h0M45.4 417.1h0M51.8 414.9h0M50.4 416h0M50.2 440.1h0M50.9 421.6h0M43.9 424.4h0M40.9 425.6h0M46.6 442.1h0M46.5 425.8h0M46.3 412h0M50.3 420.8h0M44.2 436.3h0M51.6 422.3h0M36.7 438.6h0M44.2 426.8h0M39.4 436.1h0M49.6 418.8h0M42.1 434.7h0M42 428.8h0M46.9 412.4h0M34.4 438.6h0M39.1 427.3h0M50.2 424h0M45.6 430.8h0M47.2 421.9h0M52.3 423.4h0M43.3 423.7h0M44.8 421.2h0M44.5 420.2h0M47.2 427.2h0M49.5 417.5h0M42.8 430.9h0M51.1 418.5h0M43.9 421.7h0M48.6 425.2h0M48.5 443.8h0M42.3 430.8h0M46.3 419.6h0M51.4 422.8h0M50.3 422.8h0M48.9 432.5h0M48.5 426.9h0M50.3 425.1h0M44.2 429.3h0M47.6 433.6h0M48.1 416.5h0M53.3 420h0M50.3 415.4h0M55.3 416.2h0M47.3 429.5h0M39.6 426.5h0M37.6 436.9h0M48.7 415.6h0M47.4 419.7h0M41.9 423.7h0M50.4 439.2h0M49 427h0M53.9 408.9h0M42.9 440.2h0M45.4 421.6h0M46.6 413.8h0M47.3 431h0M43.8 421h0M45.4 419.7h0M46.4 426h0M49 429.3h0M49.6 423h0M54.3 408.7h0M50.2 437h0M54.1 439.5h0M46.3 425.2h0M38.2 433h0M52.6 419.1h0M56.7 404.2h0M48.4 429.9h0M44.9 427.7h0M46.2 415h0M48.7 437.6h0M52.2 418.7h0M50.6 427.1h0M44.4 438.2h0M54.1 433.6h0M49.4 413.9h0M53.3 418.5h0M44 442.9h0M36.9 439.1h0M48.4 419.6h0M38 433.9h0M48.9 422.7h0M45.1 429.5h0M43.9 424.8h0M45.3 408.9h0M48.6 405.9h0M48.8 419.1h0M50.1 431.3h0M47.5 426.4h0M41.3 427h0M47.1 438.9h0M49.6 434.4h0M48.7 424.2h0M41.9 419.2h0M49.3 428.8h0M47.9 424.8h0M39.1 441.7h0M43.2 417.7h0M47.2 422.6h0M46.1 430.8h0M51.8 412.5h0M50.4 416.1h0M53.5 416.9h0M49.3 416h0M47.5 428.1h0M44.3 435.7h0M49.8 422.6h0M47.7 431.8h0M47.3 430.3h0M48.8 413.6h0M40.3 434.5h0M39.8 438h0M49.1 434.3h0M43.5 424.5h0M43.2 415.7h0M45.1 422.6h0M38.1 441.4h0M45 429.5h0M48.2 418.8h0M46.2 425.5h0M38.6 427.3h0M46.9 423.5h0M46.2 415.4h0M51 422.5h0M49.6 409.7h0M45.1 420.2h0M47.7 427.5h0M50.8 421.4h0M44.3 435.6h0M37.7 425.3h0M49.8 424.2h0M46.5 431.1h0M48 412.3h0M43.9 434.2h0M51 424.4h0M48 425.4h0M52.3 424.3h0M48 437.2h0M49.6 435.8h0M49.7 423.1h0M43 425.9h0M46.2 423.2h0M39 431.9h0M43.3 426.8h0M44.3 430.5h0M49.1 424h0M44.7 415.2h0M49.3 412.2h0M56.8 421.4h0M47.7 433.3h0M42.3 433h0M46.5 423.8h0M47.9 413.8h0M43.2 434.5h0M44.5 420.7h0M48.2 417.8h0M44.8 429.7h0M53.7 416.7h0M53.1 414.3h0M50.3 402.4h0M42.6 427.5h0M35.9 436.9h0M49.4 410.8h0M49.3 420.8h0M39.9 419.4h0M44.4 440.9h0M46.8 442.5h0M52.7 412.1h0M41.9 432h0M46 421.7h0M43.5 438.7h0M48.4 430.4h0M49.8 408.8h0M47.1 428.9h0M39.6 432.1h0M50.6 414.8h0M47.8 429.6h0M47.2 421.1h0M44.1 429.8h0M43.9 422.2h0M50.3 427.2h0M53.2 415h0M45 421.6h0M39.9 439.9h0M44.6 417.2h0M45.3 417.8h0M51 435.1h0M46.1 412.7h0M38.5 432.5h0M41.6 439.1h0M47.8 418.8h0M54.3 417.5h0M57.1 415.5h0M46.5 414h0M49.9 427.6h0M48.1 416.5h0M37 428.3h0M46.6 424.7h0M46.5 412.4h0M52.4 411.3h0M49.9 422.2h0M46.6 408.5h0M41.3 427.4h0M43.5 432.8h0M56.2 413.2h0M41.2 416.7h0M55 407.9h0M44.5 427.7h0M38.2 430.3h0M47.4 438.8h0M44 417.2h0M45.2 413.3h0M43.2 434.3h0M56.2 411.3h0M48.7 421.2h0M43.9 437.2h0M39.2 427.9h0M51.4 425.6h0M56.3 405.9h0M45.5 425.3h0M46.2 424.2h0M46.6 440h0M47 424.7h0M48.4 417.6h0M47 426.8h0M41.4 428.7h0M50.8 424.4h0M38.9 421.8h0M48.8 425.1h0M49.5 413.8h0M36 433.9h0M51.8 414.4h0M42.4 411.4h0M44.4 441.6h0M46.5 425.3h0M51.5 409.8h0M50.4 404.9h0M48.9 423.9h0M42.9 434.6h0M43.9 426.8h0M39.1 433.9h0M43.5 427.3h0M52.5 426.6h0M45.4 432.7h0M51.7 411.7h0M50.5 418.5h0M46.5 427h0M54.5 422.5h0M45 415.5h0M45.2 428.6h0M53 414h0M45.2 417.6h0M44 424.6h0M46 419.9h0M50.2 422.9h0M46.7 418.4h0M50.4 410.7h0M44.4 427.1h0M49.2 415.1h0M40.4 431h0M42.1 430.2h0M46.8 419.5h0M46.8 417.8h0M48.2 424.3h0M44.1 426.8h0M37.2 434.6h0M45.6 427h0M44.7 411h0M50.5 418.3h0M36.3 428.8h0M52.3 424.4h0M47.8 438.9h0M46.1 437h0M42.7 420.6h0M44 425.5h0M46.8 425.3h0M47.2 419.2h0M40.5 437.6h0M54.5 412.8h0M52.3 435.5h0M49.2 428.5h0M44.7 427.4h0M53.8 406.3h0M43.4 420.8h0M48.7 418.5h0M46.2 425.1h0M49.7 420.2h0M50.9 416.6h0M45.4 436.2h0M47.7 419.6h0M49.2 416h0M42 436.2h0M57 418.1h0M44.9 426.2h0M39.1 423.3h0M55.9 411.9h0M53.5 422.7h0M57.3 416.7h0M44.7 424.6h0M41.8 416.5h0M53.6 432.9h0M46.7 436.9h0M53.3 419.5h0M55.4 413.6h0M48.7 426.2h0M43.4 428.7h0M48.5 434.4h0M43.7 428.4h0M52.6 420.8h0M43.6 407.4h0M45.9 424.2h0M50.1 419.1h0M46.6 413.5h0M42.9 438.8h0M47.7 421.9h0M53.5 430.8h0M43.6 434.2h0M49 417.1h0M45.7 412.6h0M45.6 418.9h0M47.8 414.7h0M56.2 416.1h0M37.3 426h0M55.1 411.5h0M49.8 433.8h0M41.6 436.5h0M46 423.3h0M53.6 429.8h0M44.9 424.8h0M41.5 429.4h0M50.3 413.5h0M44.2 420.6h0M47.9 431.4h0M48.8 431.1h0M47.2 430.1h0M51.5 415.8h0M48.6 416.4h0M53.7 418.5h0M45.3 436.4h0M55.2 408h0M41.7 420.5h0M49 411.1h0M53.5 422.2h0M48.6 405.1h0M38.8 423.4h0M55 417.9h0M46 418.5h0M44.7 413.4h0M56 422.9h0M44.7 412.6h0M44.5 418.6h0M48.3 435.5h0M50.3 421.5h0M43.7 426.1h0M43.3 436.9h0M47.7 407.7h0M41.4 418.5h0M53.1 436h0M52.9 419h0M52.2 417.6h0M44.6 442h0M39.5 424.4h0M50 429.9h0M54 421.3h0M51.5 421.3h0M47 434.8h0M49.3 424.8h0M50.6 414.2h0M42.6 436.8h0M45.1 426.7h0M53 426.2h0M55.2 409.9h0M56.4 415h0M44.4 426h0M51.9 423.2h0M47.4 428.8h0M56.1 422.6h0M48.4 420.8h0M42.2 431.2h0M38.8 423.5h0M53.1 425.3h0M45.2 430.2h0M44.4 419.2h0M52.5 422.3h0M43 428.8h0M37.8 439.5h0M49.1 428.4h0M46.2 425.1h0M58.2 408.2h0M48.2 430.4h0M44.2 434.1h0M41.3 436.7h0M41.8 419.1h0M40 435.3h0M40.7 418.4h0M50.7 416.6h0M46.9 411.9h0M42.9 429.6h0M42.8 409.4h0M41.3 431.5h0M40.5 427.1h0M47 431.1h0M46.2 426.9h0M46.8 434.9h0M57.7 405.4h0M47.7 416.5h0M46 422.7h0M49 406.8h0M42.3 429.9h0M48.8 414.9h0M47.4 421.5h0M51.2 432.8h0M52.5 417h0M54.7 407.1h0M48.1 429.9h0M46.2 404.9h0M56.4 410.8h0M51.9 435.7h0M49.6 420.9h0M47.7 412.9h0M53 424.7h0M42.2 431.3h0M43.8 422.9h0M43.5 432.6h0M47.1 432.9h0M49.1 417.4h0M42.5 416.8h0M40.2 437.8h0M44.5 418.7h0M49.7 411.9h0M40.3 432.5h0M46 416.6h0M43.3 423.4h0M45.3 432.4h0M50.1 421.2h0M47.4 422.9h0M45.4 426.3h0M47.6 429.3h0M52.3 406.3h0M45 425h0M56.2 414.6h0M44.5 423.2h0M50.3 416.5h0M49.6 420.6h0M46.6 423.2h0M48.4 425.2h0M41.5 426.4h0M44.8 422.3h0M46.3 427.8h0M37.7 435h0M46.7 426.1h0M52.8 424.8h0M47.8 420.5h0M39.7 434.2h0M50 421.6h0M47 434h0M44.8 416.5h0M54.3 411.1h0M51.9 420.9h0M47 423.8h0M42.6 417.3h0M49 402h0M51 415.2h0M44.9 421.7h0M48.9 420h0M47.2 430.6h0M43.5 429.1h0M47.2 443.6h0M45.6 433h0M39.3 429.1h0M49.6 425.8h0M56.1 414.2h0M51.8 423.8h0M42.3 424.6h0M55.2 412.4h0M44.7 430h0M48.8 421.3h0M47.4 418.6h0M39.7 431.5h0M48.1 430.9h0M56.2 416.2h0M52.3 425.5h0M51.5 416.3h0M36.1 430.9h0M48.8 442.3h0M47.5 420.7h0M48.7 416.9h0M52.2 429.5h0M42.4 436.9h0M47.4 414.5h0M47.8 433.8h0M46.8 423.9h0M43.9 415.4h0M46.5 424.7h0M46.5 432h0M52.4 414.7h0M38.2 423.7h0M52.8 415.9h0M50.4 430.2h0M47.8 421.4h0M55.2 416.1h0M57.6 409.9h0M45.2 436.7h0M38.9 424.5h0M47 423h0M50.9 409.2h0M56.1 422.4h0M47.4 423.9h0M51.9 413.9h0M43.3 428h0M48 426.7h0M55.3 422.3h0M54.3 418.1h0M48.3 418.8h0M42.5 423.2h0M47.9 420.3h0M45.9 416.5h0M44 433.8h0M35.5 425h0M40 440h0M56 441h0" stroke="#c6c6c6" stroke-width="1.4" stroke-linecap="square" fill="none"/>
<line x1="25.4" y1="397.9" x2="25.4" y2="445.3" stroke="#222" stroke-width="0.8"/>
<line x1="25.4" y1="445.3" x2="72.8" y2="445.3" stroke="#222" stroke-width="0.8"/>
<line x1="24.1" y1="398.4" x2="25.4" y2="398.4" stroke="#222" stroke-width="0.6"/>
<text x="23.4" y="399.95" font-size="4.4" text-anchor="end" fill="#444" style="" stroke="#444" stroke-width="0.13">15</text>
<line x1="24.1" y1="412.3" x2="25.4" y2="412.3" stroke="#222" stroke-width="0.6"/>
<text x="23.4" y="413.85" font-size="4.4" text-anchor="end" fill="#444" style="" stroke="#444" stroke-width="0.13">10</text>
<line x1="24.1" y1="425.6" x2="25.4" y2="425.6" stroke="#222" stroke-width="0.6"/>
<text x="23.4" y="427.15" font-size="4.4" text-anchor="end" fill="#444" style="" stroke="#444" stroke-width="0.13">5</text>
<line x1="24.1" y1="439.3" x2="25.4" y2="439.3" stroke="#222" stroke-width="0.6"/>
<text x="23.4" y="440.85" font-size="4.4" text-anchor="end" fill="#444" style="" stroke="#444" stroke-width="0.13">0</text>
<line x1="31.3" y1="445.3" x2="31.3" y2="446.6" stroke="#222" stroke-width="0.6"/>
<text x="31.3" y="451.8" font-size="4.4" text-anchor="middle" fill="#444" style="" stroke="#444" stroke-width="0.13">0</text>
<line x1="44.9" y1="445.3" x2="44.9" y2="446.6" stroke="#222" stroke-width="0.6"/>
<text x="44.9" y="451.8" font-size="4.4" text-anchor="middle" fill="#444" style="" stroke="#444" stroke-width="0.13">5</text>
<line x1="59.1" y1="445.3" x2="59.1" y2="446.6" stroke="#222" stroke-width="0.6"/>
<text x="59.1" y="451.8" font-size="4.4" text-anchor="middle" fill="#444" style="" stroke="#444" stroke-width="0.13">10</text>
<line x1="72.4" y1="445.3" x2="72.4" y2="446.6" stroke="#222" stroke-width="0.6"/>
<text x="72.4" y="451.8" font-size="4.4" text-anchor="middle" fill="#444" style="" stroke="#444" stroke-width="0.13">15</text>
<line x1="27.2" y1="442.1" x2="57.8" y2="410.2" stroke="#111" stroke-width="0.9"/>
<text x="28" y="403.8" font-size="4.6" text-anchor="start" fill="#333" style="" stroke="#333" stroke-width="0.14"><tspan font-style="italic">ρ</tspan>: 0.67</text>
<text x="28" y="408.7" font-size="4.45" text-anchor="start" fill="#333" style="" stroke="#333" stroke-width="0.13"><tspan font-style="italic">P</tspan>: &lt; 0.0001</text>
<ellipse cx="108.5" cy="420" rx="11.07" ry="4.59" fill="#f2a274" transform="rotate(-64.98 108.5 420)"/>
<path d="M109 430.6h0M110.3 422.3h0M105.8 430.3h0M111.9 409.7h0M113.1 409.9h0M111.1 421.4h0M104.5 424.1h0M113.3 418.9h0M112 406.7h0M105.2 415.8h0M116.2 404.5h0M105.1 425.3h0M108.8 416.6h0M113 415.5h0M109.6 402.3h0M112 417.4h0M112.3 412.7h0M103.5 430.3h0M108.3 422h0M111.6 418.4h0M103.3 423.9h0M105.4 423.3h0M103.1 421.4h0M106.5 420.1h0M112 413h0M102.5 432.9h0M101.1 428.3h0M105.1 423h0M108 419.1h0M113.1 424.2h0M99.5 428.4h0M112.9 417h0M107.8 411.4h0M101.1 428.8h0M108 409h0M101.9 429.3h0M112 418.5h0M109.1 424.3h0M107.3 415.6h0M99.5 428.3h0M106.7 421.7h0M105.4 424.2h0M107.8 420.5h0M109.6 421.8h0M106.3 422h0M105.9 427.8h0M105.5 421.6h0M108 429.6h0M108.9 425.2h0M106.5 422.1h0M104.6 422.3h0M110.7 424h0M113.2 417.8h0M106.7 420.3h0M106.4 427h0M109.6 422.1h0M106.1 433.8h0M108.6 415.4h0M111.1 421.7h0M109.7 420.3h0M105.7 420.2h0M105.4 429.7h0M107.8 418.2h0M108.3 421.7h0M105.2 419.9h0M115.8 411.2h0M111 415.3h0M106.8 410.9h0M111.2 417h0M110.9 415.5h0M104.1 429.2h0M106.7 416.4h0M118.3 411.6h0M112 415h0M106.2 423.9h0M108.4 422.9h0M116.2 418.5h0M109.4 426.7h0M114.9 403.6h0M109.9 416.6h0M108.2 419.3h0M98.2 424.4h0M115.2 416h0M104.5 425.1h0M116.9 417.7h0M113.1 414.6h0M102.1 431.6h0M104.8 421.9h0M106.9 426.1h0M104.2 435.1h0M96.9 431.7h0M113.5 425.1h0M102.9 414.5h0M111.3 407.3h0M101.9 417.3h0M112 408.7h0M106.4 406.5h0M102 430.2h0M110.5 419.3h0M105 415.9h0M110.4 422.7h0M118.4 410.6h0M110.7 428.6h0M100.7 430.1h0M109.2 417.8h0M103.7 417.3h0M105.4 423.3h0M102.9 417.1h0M106.1 415.2h0M108.1 428.9h0M119 411.1h0M102.6 424.3h0M101.5 428.3h0M119.1 412.3h0M102.6 419.8h0M101.1 414h0M108.8 421.6h0M111.7 406.4h0M111 410.2h0M106.9 432.6h0M111.5 418.5h0M105.6 425.1h0M117.8 411.5h0M105.9 413.6h0M117.4 409.6h0M106.7 411.8h0M97.1 430.8h0M101.1 425.8h0M103.9 423h0M108.4 408.5h0M108.6 414.4h0M104.9 428.3h0M114.8 412.9h0M104.9 426.5h0M109 433h0M109.5 419.2h0M103.8 424.9h0M112.4 418.6h0M105.3 427.2h0M113.1 405.8h0M110.1 431.2h0M112.4 414.8h0M113.5 419.3h0M105.7 432.8h0M104.3 424.8h0M107.8 420.3h0M109.4 406.7h0M106.4 424.1h0M110.2 417.9h0M102.6 420.4h0M110.7 419.5h0M105.1 427.1h0M105.9 418.5h0M101.5 434.7h0M103.2 418.8h0M114.6 409h0M111.8 414h0M104.3 416.6h0M109.1 418.4h0M107.9 417.7h0M111.6 423.3h0M102.1 417.7h0M110.8 418.5h0M108.1 425.9h0M106.3 426.5h0M108.4 421.3h0M112.2 412.5h0M110.7 424.9h0M105 430h0M111.2 414.3h0M98.6 433.7h0M105.8 417.7h0M100.4 423.1h0M114.5 419.4h0M103.8 420.2h0M105 429.2h0M108.9 415.7h0M112.9 417.4h0M104.8 430.9h0M104.3 426h0M107.6 425.6h0M103.2 430.8h0M108.7 427.4h0M104.2 415.6h0M110.2 420.5h0M115 421.9h0M111.5 406.2h0M115.9 411.3h0M113.4 409.4h0M107.6 422.8h0M107.3 425h0M106.6 413.1h0M113.6 408h0M109.2 424.2h0M110.5 417.5h0M109.8 429.4h0M108.2 416.1h0M104 425.3h0M105.2 423.9h0M104 415.3h0M111.3 422h0M110.4 422.4h0M114.1 414.5h0M111.6 412.7h0M100.6 429.2h0M105.3 422.4h0M112.4 424.3h0M105.6 433h0M107.8 424.2h0M108.3 425.6h0M113.8 411.1h0M108 426h0M109.7 422.8h0M113.1 419.6h0M108.7 420.2h0M115.5 412.5h0M118 410.4h0M106.8 421.2h0M111.1 426h0M107.8 412.9h0M108.9 424.5h0M115.3 410.3h0M108.9 416.6h0M105 421.4h0M106.1 410.9h0M106.6 412.3h0M109 415.2h0M109.7 405.4h0M111.2 410.6h0M114.2 417.6h0M106.1 421.6h0M111.9 406.5h0M104.8 414.9h0M121.8 412.5h0M109.3 414.6h0M102.6 420.2h0M107.5 426.6h0M109.1 417.9h0M110.8 414.3h0M118.6 417.1h0M110.9 415h0M112.1 424.1h0M110.8 415h0M112.8 421.2h0M113.2 415.2h0M97.7 429.5h0M107.1 420.7h0M108 412.7h0M112.2 423.8h0M106.1 437.4h0M111 414.8h0M101 428.5h0M110.3 410.2h0M106.6 419.3h0M105.2 426.5h0M97.6 431.7h0M106.5 414.1h0M115.9 406.5h0M106.2 427.1h0M106.8 420.2h0M115.6 410.8h0M111.3 411.2h0M97.9 432.1h0M105.8 425.1h0M104.7 436.2h0M107.9 423.1h0M102.2 412.4h0M109.6 428h0M103.2 420.9h0M105.8 417.6h0M111.6 410.5h0M113.3 414.8h0M112.4 414.4h0M110.9 417.1h0M105.7 427.1h0M109.1 423.8h0M106 416.1h0M108.3 426.2h0M108.1 417h0M107.6 420.3h0M102.4 416.5h0M108 412.9h0M113.1 421.4h0M99 425.8h0M113.2 420.2h0M119.3 414.7h0M114.8 410.7h0M108.1 421.8h0M112.7 411h0M111.7 416.5h0M105.6 425.5h0M116.5 407.2h0M105.4 430.7h0M112.4 406.7h0M103.4 416.7h0M116.4 415h0M114.8 410.8h0M111.4 409.5h0M104.4 425.3h0M105.9 430.5h0M106.5 418h0M105.1 428h0M113.9 408.3h0M111.4 410.8h0M111.9 415.2h0M106.9 428.7h0M106.4 414.2h0M110.2 404.4h0M105.5 422.9h0M109.5 410h0M106.8 419.5h0M98.5 436.9h0M110.3 415.4h0M111.3 422.2h0M106.1 424.5h0M111.1 402.3h0M101.7 418.4h0M109.6 417.8h0M113.1 411.2h0M112.1 418.9h0M100.9 436.2h0M108.7 420.2h0M106.2 418h0M113.7 409.1h0M118.9 412h0M104.4 419.3h0M112.7 418.8h0M112.6 410.8h0M107.3 419.6h0M105.2 428.3h0M111 421.3h0M116.9 416.3h0M111.7 415.3h0M111.7 413.3h0M109.5 425.1h0M104.1 418.9h0M97.3 426.5h0M103.8 422.8h0M105.8 414.8h0M118.6 409.2h0M110.9 421.9h0M109.9 419.8h0M109.8 415.7h0M101 434.9h0M110.1 421.3h0M111.7 415.2h0M104.7 424.3h0M105 425.7h0M109.1 409.4h0M109.4 421.4h0M103.8 425.5h0M108.1 428.2h0M107 415.8h0M109.7 419.6h0M100 422.2h0M101.7 422.4h0M105.4 415.3h0M101.1 427.2h0M115.4 420.9h0M101.4 429.6h0M106.7 416.9h0M102.7 421.7h0M105.9 427.7h0M110.7 418.8h0M113.3 418.7h0M117.5 418.2h0M100.5 433.5h0M105 421.7h0M113.1 423.2h0M107.4 426.9h0M107.3 426.5h0M103 425.8h0M109.9 416.7h0M116.5 420.9h0M109.1 424h0M107.1 430.5h0M104.2 428.3h0M107.6 431.9h0M111.7 422.6h0M109.8 428.5h0M110.3 430.4h0M109.8 428.1h0M103.2 426.6h0M114.5 417.2h0M113.4 426.2h0M107.8 424.6h0M108.9 421h0M102.9 425.3h0M96.5 428.4h0M111.5 416.7h0M115.1 414.5h0M105.7 417.7h0M112.9 426.2h0M111.3 429.3h0M106.5 420.6h0M111.2 417h0M106 413.2h0M101.6 432.1h0M112.3 421.5h0M112.2 417h0M109.6 419.5h0M112.1 416.6h0M114.5 409.8h0M108.4 418.2h0M102.9 439.8h0M110.8 414.8h0M115.2 408.8h0M110.1 419.3h0M102.4 422.7h0M109.8 420.3h0M111.2 419.4h0M107.9 424.3h0M105.6 423.2h0M110.6 417.8h0M113.2 412.3h0M106.1 422.2h0M111.3 408.4h0M105.9 420.5h0M106.6 420.7h0M112.3 417.4h0M116.1 407.4h0M106.2 419.8h0M116.9 416.1h0M114.1 409.4h0M105.5 414.8h0M114.9 423.1h0M116.2 420.2h0M118.1 405.2h0M103.4 428.2h0M113.2 420.5h0M110.7 420.2h0M105.4 425.4h0M114.5 405.3h0M109.7 412.2h0M111.7 420.1h0M110 417.4h0M103.3 426h0M110.9 414.5h0M110.7 422.3h0M110.7 421.4h0M107.7 414.6h0M103.3 425.9h0M102.5 428.1h0M112.4 417.1h0M108.4 417.2h0M103.4 424h0M104.3 425.9h0M110.3 419.6h0M110.4 411.1h0M110.4 413.9h0M107.9 419.3h0M105.2 423.5h0M103 425.4h0M110.1 415h0M106 425.9h0M123.3 408.6h0M103.7 425.7h0M109.8 415h0M110.7 420.7h0M101.8 429.3h0M112.9 425.9h0M114.3 412.7h0M104.7 418.6h0M111.2 414.2h0M120.8 418.1h0M110.8 414.7h0M108.5 422.6h0M109.7 418.4h0M108.8 429.1h0M106.2 427.7h0M110.7 420.8h0M108.7 414.7h0M110.9 425.1h0M107.8 423.9h0M110.9 417.2h0M101.7 422.9h0M108.2 419.9h0M109.3 427.9h0M114.1 410.7h0M105.8 420.5h0M101 434.2h0M110.7 410.9h0M104.5 423.2h0M117.8 416.1h0M110 413.9h0M114.3 413.8h0M108.7 415.8h0M108.7 424.8h0M109.3 418.7h0M105.7 410.4h0M104.8 423.4h0M107.3 429.7h0M102.5 432.8h0M100.4 431.1h0M99.3 421h0M113.8 419.5h0M114.4 420.9h0M103 423.2h0M106 418.8h0M106.1 419h0M106.3 428.5h0M104.1 426.8h0M104.5 426.1h0M107.6 414.2h0M103.6 425.4h0M112 413.1h0M115.6 412.5h0M112.9 411.9h0M102.4 428.5h0M110.7 411.7h0M114.3 419h0M113.1 409.6h0M106.8 427h0M103.5 423.7h0M115.4 416.5h0M107.6 419.7h0M106.6 429.7h0M120.6 411h0M109 424h0M109.6 425.1h0M107.6 438h0M107.9 422.2h0M106.2 418.7h0M115.6 414.8h0M111.1 418.3h0M100.8 428.1h0M109.8 413.3h0M104.4 426.7h0M101.6 425.3h0M108 413.5h0M110.9 424.6h0M112.2 416.5h0M114.1 418.5h0M108.9 425h0M99.7 419.3h0M118.1 410.3h0M105.4 414h0M103 435.3h0M103.1 423.6h0M112.8 408.3h0M110.4 417.2h0M108.6 417.1h0M115.6 407h0M114.6 425h0M114.8 411.9h0M107.4 414.7h0M102.6 427h0M103.2 431.3h0M110.3 423.4h0M115.1 408.9h0M103.9 420.9h0M113.1 420.9h0M108.4 416.3h0M110.3 418.7h0M112.4 427.9h0M112.3 416.5h0M103.6 424.5h0M105.8 419.4h0M109.8 405.3h0M106.7 419.1h0M93.5 434.5h0M101.5 441h0" stroke="#f2a274" stroke-width="1.4" stroke-linecap="square" fill="none"/>
<line x1="89.5" y1="397.7" x2="89.5" y2="445.2" stroke="#222" stroke-width="0.8"/>
<line x1="89.5" y1="445.2" x2="136.3" y2="445.2" stroke="#222" stroke-width="0.8"/>
<line x1="88.2" y1="398.2" x2="89.5" y2="398.2" stroke="#222" stroke-width="0.6"/>
<text x="87.5" y="399.75" font-size="4.4" text-anchor="end" fill="#444" style="" stroke="#444" stroke-width="0.13">15</text>
<line x1="88.2" y1="413.5" x2="89.5" y2="413.5" stroke="#222" stroke-width="0.6"/>
<text x="87.5" y="415.05" font-size="4.4" text-anchor="end" fill="#444" style="" stroke="#444" stroke-width="0.13">10</text>
<line x1="88.2" y1="429.4" x2="89.5" y2="429.4" stroke="#222" stroke-width="0.6"/>
<text x="87.5" y="430.95" font-size="4.4" text-anchor="end" fill="#444" style="" stroke="#444" stroke-width="0.13">5</text>
<line x1="88.2" y1="445.1" x2="89.5" y2="445.1" stroke="#222" stroke-width="0.6"/>
<text x="87.5" y="446.65" font-size="4.4" text-anchor="end" fill="#444" style="" stroke="#444" stroke-width="0.13">0</text>
<line x1="89.5" y1="445.2" x2="89.5" y2="446.5" stroke="#222" stroke-width="0.6"/>
<text x="89.5" y="451.7" font-size="4.4" text-anchor="middle" fill="#444" style="" stroke="#444" stroke-width="0.13">0</text>
<line x1="105.1" y1="445.2" x2="105.1" y2="446.5" stroke="#222" stroke-width="0.6"/>
<text x="105.1" y="451.7" font-size="4.4" text-anchor="middle" fill="#444" style="" stroke="#444" stroke-width="0.13">5</text>
<line x1="120.6" y1="445.2" x2="120.6" y2="446.5" stroke="#222" stroke-width="0.6"/>
<text x="120.6" y="451.7" font-size="4.4" text-anchor="middle" fill="#444" style="" stroke="#444" stroke-width="0.13">10</text>
<line x1="136.1" y1="445.2" x2="136.1" y2="446.5" stroke="#222" stroke-width="0.6"/>
<text x="136.1" y="451.7" font-size="4.4" text-anchor="middle" fill="#444" style="" stroke="#444" stroke-width="0.13">15</text>
<line x1="93.6" y1="428.4" x2="119.8" y2="410.2" stroke="#111" stroke-width="0.9"/>
<text x="118.3" y="434" font-size="4.6" text-anchor="start" fill="#333" style="" stroke="#333" stroke-width="0.14"><tspan font-style="italic">ρ</tspan>: 0.47</text>
<text x="118.3" y="438.9" font-size="4.45" text-anchor="start" fill="#333" style="" stroke="#333" stroke-width="0.13"><tspan font-style="italic">P</tspan>: &lt; 0.0001</text>
<ellipse cx="181" cy="423.5" rx="5.85" ry="3.08" fill="#14589a" fill-opacity="0.8" transform="rotate(-22.31 181 423.5)"/>
<path d="M179.4 430.1h0M181.3 427.1h0M193.1 424.2h0M178.8 417.6h0M174.6 422.8h0M183 424.8h0M188.9 410.4h0M184.2 421.7h0M187.7 420.3h0M188.6 425.2h0M178.8 431.9h0M179.2 424.2h0M187.3 417.8h0M179.9 428.5h0M180.8 421.4h0M175.7 421.3h0M174.7 419.5h0M175.3 421.8h0M182.1 424.6h0M176.8 425.9h0M179.7 426.1h0M197.5 420.7h0M186.7 420.7h0M191.1 424.2h0M190.5 423.5h0M174.5 424.7h0M173.4 423.7h0M190.6 418.9h0M173.5 416.7h0M173 424.6h0M175.1 428.2h0M183.1 418h0M175.5 432.7h0M184.5 414.2h0M178.7 421.2h0M182.5 424.1h0M183.7 419.7h0M180 427.7h0M184 430.2h0M174.1 425h0M172.7 428.3h0M195.9 418h0M182.4 415.7h0M178.1 414.4h0M185 420.5h0M194.4 415.4h0M184.4 416.7h0M184.6 426.7h0M178.9 428.2h0M184.6 420.5h0M187.5 420.7h0M178 414h0M178.7 426h0M175.5 420.1h0M187.8 422.8h0M178.2 425.7h0M172.8 419.3h0M185.5 418.6h0M166.7 427.8h0M184 422.2h0M190.4 430.3h0M169.4 428.4h0M184.2 427.6h0M178.9 422.3h0M183.9 423h0M197 421.1h0M182.7 427.9h0M182 426.2h0M181.1 418.2h0M190.2 418.3h0M180.5 424.8h0M187.3 420.9h0M195.4 422.4h0M184.4 417.9h0M189.8 419.8h0M189.3 419h0M175.5 432.2h0M186 423.7h0M172.9 433.5h0M183.6 418.4h0M176.3 421.9h0M187.2 413.2h0M178.9 424.7h0M174.2 420.1h0M171.4 428h0M195.9 419.3h0M185.6 426.1h0M173.2 419.4h0M172.8 422.6h0M186.4 416.7h0M170.2 429.1h0M176 425h0M187.9 421h0M195.9 422.5h0M182.3 431.4h0M170.7 420.7h0M176.2 419.4h0M183.7 422.9h0M180.5 429.6h0M183 421.6h0M184.7 417.7h0M178 426h0M181 427.2h0M186.5 416.5h0M190.4 419.6h0M179 419.6h0M172.1 427h0M181.9 418.9h0M188.9 422.4h0M184.7 426.1h0M170.8 434.9h0M183.7 425.6h0M184.3 432.5h0M189 423.5h0M179.5 421.5h0M178 422.1h0M191.1 409.6h0M184.9 418.6h0M180.8 415.9h0M174.6 417.3h0M170.2 432.8h0M181.1 424h0M192.6 417.8h0M191.2 411.3h0M187.5 417.8h0M187 414.2h0M174.4 432.5h0M180.5 420.7h0M182.4 417.6h0M183.6 420.9h0M177.4 429.3h0M178.2 430.4h0M185.5 422.7h0M186 419.1h0M172.1 422.5h0M179.9 418.8h0M185.4 424.3h0M185.4 423.7h0M181.2 414.8h0M177 423.2h0M182.7 416.9h0M183.1 423.2h0M186 419.3h0M185.8 420.2h0M185.1 416.3h0M181.7 425.7h0M169.2 427.1h0M176.9 425.9h0M176.6 422h0M181.6 423.4h0M178.1 419.6h0M197.5 425.8h0M173.2 422.1h0M185.8 427.2h0M177.8 418.2h0M181.8 424.7h0M180.2 430h0M175 418.7h0M176.1 424.8h0M184.1 424.9h0M186.8 425.8h0M184.8 432.6h0M184.8 422.5h0M168.7 423.9h0M178.3 433.4h0M177.1 418.2h0M180 420.7h0M186 420.6h0M179.2 417.2h0M192.9 418.9h0M176.1 425.2h0M176 424h0M171.9 421.8h0M180.5 428.1h0M175 422.7h0M177.2 429.9h0M192.9 431.5h0M178.8 425.5h0M182.6 424h0M171.7 428.1h0M185.9 431.1h0M194.5 424.8h0M186.2 417.5h0M187.2 415.5h0M180.7 426.4h0M188.6 420.1h0M184.1 418.3h0M174.6 426.6h0M180.4 423.4h0M187.1 422.5h0M181.5 423.9h0M184.5 421.8h0M185.2 427.6h0M182.1 420.8h0M190.2 423.4h0M173.1 422h0M192.9 417.1h0M179.2 420.6h0M168.7 428h0M188.6 418.4h0M186.6 413.8h0M180.4 418.6h0M187.4 425h0M175.9 428.1h0M182.9 424.6h0M171.6 418.5h0M164.8 422.8h0M191.5 429.5h0M180.9 421.6h0M184.9 425h0M155.8 436.2h0M163 422.4h0M177.7 404.3h0M193 409h0M196.8 414h0" stroke="#14589a" stroke-width="1.75" stroke-linecap="square" fill="none"/>
<line x1="152.8" y1="397.7" x2="152.8" y2="445.3" stroke="#222" stroke-width="0.8"/>
<line x1="152.8" y1="445.3" x2="199.6" y2="445.3" stroke="#222" stroke-width="0.8"/>
<line x1="151.5" y1="398.2" x2="152.8" y2="398.2" stroke="#222" stroke-width="0.6"/>
<text x="150.8" y="399.75" font-size="4.4" text-anchor="end" fill="#444" style="" stroke="#444" stroke-width="0.13">15</text>
<line x1="151.5" y1="413.7" x2="152.8" y2="413.7" stroke="#222" stroke-width="0.6"/>
<text x="150.8" y="415.25" font-size="4.4" text-anchor="end" fill="#444" style="" stroke="#444" stroke-width="0.13">10</text>
<line x1="151.5" y1="429.4" x2="152.8" y2="429.4" stroke="#222" stroke-width="0.6"/>
<text x="150.8" y="430.95" font-size="4.4" text-anchor="end" fill="#444" style="" stroke="#444" stroke-width="0.13">5</text>
<line x1="151.5" y1="445.1" x2="152.8" y2="445.1" stroke="#222" stroke-width="0.6"/>
<text x="150.8" y="446.65" font-size="4.4" text-anchor="end" fill="#444" style="" stroke="#444" stroke-width="0.13">0</text>
<line x1="153.4" y1="445.3" x2="153.4" y2="446.6" stroke="#222" stroke-width="0.6"/>
<text x="153.4" y="451.8" font-size="4.4" text-anchor="middle" fill="#444" style="" stroke="#444" stroke-width="0.13">0</text>
<line x1="162.4" y1="445.3" x2="162.4" y2="446.6" stroke="#222" stroke-width="0.6"/>
<text x="162.4" y="451.8" font-size="4.4" text-anchor="middle" fill="#444" style="" stroke="#444" stroke-width="0.13">2</text>
<line x1="171.5" y1="445.3" x2="171.5" y2="446.6" stroke="#222" stroke-width="0.6"/>
<text x="171.5" y="451.8" font-size="4.4" text-anchor="middle" fill="#444" style="" stroke="#444" stroke-width="0.13">4</text>
<line x1="180.8" y1="445.3" x2="180.8" y2="446.6" stroke="#222" stroke-width="0.6"/>
<text x="180.8" y="451.8" font-size="4.4" text-anchor="middle" fill="#444" style="" stroke="#444" stroke-width="0.13">6</text>
<line x1="190" y1="445.3" x2="190" y2="446.6" stroke="#222" stroke-width="0.6"/>
<text x="190" y="451.8" font-size="4.4" text-anchor="middle" fill="#444" style="" stroke="#444" stroke-width="0.13">8</text>
<line x1="199.3" y1="445.3" x2="199.3" y2="446.6" stroke="#222" stroke-width="0.6"/>
<text x="199.3" y="451.8" font-size="4.4" text-anchor="middle" fill="#444" style="" stroke="#444" stroke-width="0.13">10</text>
<line x1="157.7" y1="432.7" x2="197.5" y2="416" stroke="#111" stroke-width="0.9"/>
<text x="155.2" y="403.8" font-size="4.6" text-anchor="start" fill="#333" style="" stroke="#333" stroke-width="0.14"><tspan font-style="italic">ρ</tspan>: 0.53</text>
<text x="155.2" y="408.7" font-size="4.45" text-anchor="start" fill="#333" style="" stroke="#333" stroke-width="0.13"><tspan font-style="italic">P</tspan>: &lt; 0.0001</text>
<ellipse cx="46" cy="494" rx="8.1" ry="6.21" fill="#c6c6c6" transform="rotate(-18.43 46 494)"/>
<path d="M46.7 500.3h0M47.6 484.6h0M45.5 502.5h0M48.1 492.8h0M37.7 497.5h0M50.3 494.4h0M55.2 501.6h0M42.9 495.3h0M44.2 497.2h0M40.6 502.2h0M53.8 496.8h0M45.7 490.6h0M48.8 495.9h0M42.6 509.7h0M40.9 492.2h0M37 501.5h0M40.4 493.7h0M47.8 494.9h0M50.6 493.6h0M46.4 486.1h0M50.5 492.1h0M45.4 492.4h0M57.2 495.2h0M39.7 495.3h0M46.3 497.4h0M51.3 494.3h0M42.6 495.1h0M45.8 496.7h0M44.5 490.7h0M45.7 499h0M49.3 497.2h0M45 489.5h0M50.2 499h0M52.3 496.7h0M37.3 498.3h0M33.5 492.2h0M54.8 493.5h0M49.6 485.9h0M52.4 488.2h0M48.8 491.4h0M59.3 496.2h0M46.7 496.3h0M42.5 492.7h0M44.5 491.5h0M44 499.1h0M37.2 494.4h0M40.2 497.5h0M55.6 493.7h0M52.9 490.5h0M40.3 498.1h0M49.1 493.4h0M44.6 489.7h0M45.9 497.6h0M42.8 496.1h0M38.4 498.2h0M42.8 495.6h0M52.7 500.2h0M50.8 494.5h0M40.7 488.5h0M38.6 495.2h0M46.7 494.9h0M44.8 493.1h0M51.9 491.8h0M44.3 494.1h0M37.4 495.4h0M43.6 496.4h0M36.9 500.8h0M41.9 486.3h0M59.8 499.8h0M35.2 495.1h0M47.8 500.3h0M54 503.4h0M35.9 499.5h0M40.3 496.5h0M55.2 503.6h0M54.8 490.7h0M41.4 501.9h0M50.8 492.6h0M52.9 484.1h0M38.5 497.1h0M47.3 495.3h0M41.1 493.4h0M38.9 495.9h0M52.6 496.9h0M40.7 498.5h0M57.2 486.3h0M49.3 498.2h0M48.1 493.6h0M43.1 497.3h0M43.2 491.6h0M36.6 493.7h0M46.8 498h0M50.5 494.2h0M34.5 495.7h0M44.4 496.1h0M47.3 492.6h0M40.4 494.4h0M52.1 496.8h0M42.7 490.7h0M44.7 486h0M45.3 489.7h0M43.9 485.4h0M44.2 496.7h0M49.6 487.9h0M54.6 486.3h0M41.2 485.5h0M48.4 495.5h0M40.5 493.2h0M41.8 497.6h0M43.2 502.9h0M49.2 493.9h0M43.3 496.2h0M35.8 499.4h0M47.9 493.8h0M52.6 488.8h0M46.5 500.2h0M52.6 487.2h0M35.3 486.5h0M43.4 496.5h0M48.1 495.1h0M51.1 486.2h0M54.5 485.8h0M43 497.5h0M42 497.5h0M53 492.1h0M48.4 494.8h0M41.9 490.9h0M46.1 491.2h0M38.4 498.7h0M33.3 491h0M50.4 495.2h0M38.5 483.1h0M49.3 493.6h0M39.8 494h0M44.3 500.4h0M45.1 495.5h0M50.5 494.8h0M47.6 492.3h0M43.3 498.9h0M49.9 496.4h0M41.7 490.2h0M55.6 492.2h0M39.9 493.6h0M38.1 494.1h0M46 496.1h0M46.1 488.8h0M46.2 498.3h0M47.2 492h0M46.4 501.4h0M44.8 502.7h0M37.9 490.3h0M47.4 491.8h0M49.4 496h0M38.9 494.6h0M50.3 497.2h0M38 491.1h0M49.8 492.1h0M37.3 491.8h0M39.6 490.7h0M47.8 495.1h0M50.1 491.1h0M49.2 499.3h0M47 497.2h0M53.9 488.1h0M47 491.9h0M44.6 492.4h0M45 489.9h0M47.6 491.1h0M49.6 492h0M46.6 484.5h0M48.5 493.5h0M39.8 496.4h0M49.6 491.2h0M51.2 487.6h0M49.2 495.4h0M48.5 502.6h0M52.5 490.6h0M44.2 491.3h0M55.3 489.6h0M41.5 496.9h0M40 496.3h0M49.3 496.1h0M47 498.1h0M32.2 485.4h0M55 487.9h0M45.7 497.2h0M48 499.5h0M48.1 487.1h0M42 500.7h0M55.2 491.4h0M41.4 496.5h0M53.4 490.7h0M45.1 503.3h0M39.7 496.1h0M50.8 494.4h0M34.4 498.3h0M59 500.3h0M35.3 500.1h0M44.7 503h0M46.8 487.6h0M37 481.9h0M47.7 491h0M43.3 489.6h0M50.6 487.3h0M49.2 501.1h0M56.6 494.8h0M45.1 497.3h0M49.6 489.1h0M38.6 498.2h0M52.2 496.4h0M45.4 491.4h0M40.6 492.9h0M41.9 490h0M46.8 491.4h0M51.4 496.8h0M40.9 490.7h0M47.5 483.5h0M40.8 498h0M51.7 489.5h0M37.2 493.1h0M42.9 496.9h0M40.3 490.9h0M45 493.3h0M37.1 504.2h0M51.4 488.2h0M44.4 496.8h0M40.9 497.5h0M34.6 495.1h0M45.4 496.1h0M42.7 487.8h0M43.2 494h0M46.8 496.2h0M49.3 499.7h0M48.7 502.7h0M45.5 499.5h0M45.7 494.5h0M50.5 489.6h0M47 489.9h0M47.4 499.2h0M43.6 492.7h0M48.9 492.2h0M41.8 495.5h0M54.6 500.1h0M37.3 490.1h0M49.4 489.5h0M52.8 495.2h0M45.4 493.2h0M36.2 494.6h0M52.3 492.9h0M43 496.6h0M48.7 492.3h0M45.6 502.3h0M44 498.2h0M46.3 502.2h0M51.8 490.7h0M41.7 496.7h0M52.9 497.7h0M50.8 498.4h0M51.3 491.5h0M44.5 493.2h0M48.2 500.4h0M40.2 502.1h0M47.2 488.3h0M45.6 491.5h0M47.7 495.1h0M50.8 498.9h0M43.6 485.9h0M40.6 493h0M52.2 486.2h0M49.1 497.4h0M40.7 484.4h0M45.5 493.2h0M45.1 492.4h0M39.9 503.3h0M46.5 490.2h0M40.4 496.7h0M47.2 487.7h0M44.2 492h0M44.6 490.7h0M52.3 491.1h0M44.3 486h0M55.5 497.8h0M41.8 494.1h0M53.4 492.5h0M41.5 493.6h0M40.2 497.8h0M49.4 496.2h0M41.2 492.2h0M47.3 484.2h0M53.6 486h0M42 489.8h0M48 501.9h0M52.7 495.3h0M44.5 494.3h0M50.6 497.5h0M43 493.8h0M60.9 491.8h0M41.6 493.8h0M50.4 491.1h0M42.2 494h0M42.8 495.7h0M55.2 484.7h0M42.6 488.2h0M34 495.2h0M52.8 500h0M49.4 500.9h0M49.1 498.7h0M34.8 503.7h0M53.5 493.1h0M56.9 499h0M53.9 493.5h0M52.9 491.8h0M51.7 495.4h0M39.6 493.6h0M53.2 486.6h0M45.4 496.1h0M39.8 503.3h0M40.8 495.9h0M41.6 509.5h0M46.4 491.5h0M36 494.3h0M43.3 498.3h0M47.1 491.8h0M45.6 496.8h0M44.6 493.8h0M41.9 491.8h0M55.7 497.2h0M46.6 501.4h0M40.4 490.9h0M46.8 496.8h0M48.8 499.9h0M42.2 493.7h0M54.8 496.5h0M50.9 487.4h0M43.6 496.3h0M39.9 491.7h0M46.2 496.8h0M53.2 496h0M51 490.2h0M40.1 497.6h0M43 491.7h0M40.7 493.6h0M39.7 502.6h0M49.5 494.8h0M42.4 491h0M43 495.4h0M47.4 492.5h0M44.3 495.5h0M41.7 489.7h0M49 501.6h0M45.3 493.7h0M50.2 491.1h0M51.8 499.9h0M54.3 486.4h0M44.2 490.3h0M40.8 489.4h0M42.6 497.6h0M51.4 496h0M54 487.4h0M45.2 498.4h0M54.4 506.6h0M43.7 496.3h0M49.6 492.5h0M40.7 487.4h0M42.6 492.5h0M45.7 489h0M51.5 497.6h0M49.3 492.4h0M55.7 500.2h0M35.3 490.8h0M49.5 493.2h0M54.5 502.6h0M50.7 495.7h0M51 489.9h0M51.9 496.6h0M56.3 499.9h0M47 490.5h0M46.5 494.9h0M50.4 495.8h0M46.1 496h0M53.6 495.9h0M57.4 497.7h0M46.1 499.3h0M43.1 489.7h0M40.3 493.5h0M43.7 485.5h0M51.1 488.7h0M40.5 491.5h0M55.1 491.6h0M42.1 489.7h0M45.5 491h0M38.1 495.2h0M45.9 496.5h0M48.3 499.2h0M43 494.5h0M43.4 489h0M47.3 500.4h0M49.8 496.5h0M55 491.5h0M52.5 483.3h0M45.7 494h0M44.6 496h0M53.6 493h0M49.3 492.6h0M42.2 496.8h0M37.3 494.8h0M50.4 490.8h0M37.6 497.5h0M38.4 502.9h0M46.9 496.3h0M47.3 488.2h0M46.7 496.3h0M36.1 495.4h0M41.5 492.6h0M53.1 480.5h0M39.5 489.3h0M45.6 486.9h0M34.5 494.2h0M49.2 491.8h0M55.7 500.3h0M47.5 501.4h0M47.5 493.9h0M53.3 492.8h0M52 496.8h0M47.3 490.9h0M52.2 486.3h0M44 491.7h0M47.7 494.9h0M40 496.4h0M55.6 491.8h0M45.8 503h0M48.5 495h0M44.9 492.8h0M43.4 483.5h0M38.2 498h0M39.6 497.4h0M40.4 506.5h0M38.1 496.3h0M49.2 492.8h0M50.9 497.2h0M42.1 489.3h0M43.5 496.9h0M44.6 493.5h0M57.1 486.9h0M40.2 487.4h0M44 494.9h0M40.6 497.2h0M45 499h0M41.8 486.7h0M41.2 498h0M42.4 496.3h0M47.3 496.3h0M43.5 498.7h0M44.4 487h0M48.7 483.7h0M46.8 485.6h0M56.1 483.5h0M46.5 492.9h0M47.7 494.9h0M48.9 494.5h0M39 499.9h0M34.8 485.5h0M41.7 494.5h0M46.3 488.7h0M53.2 499.2h0M47.3 493.9h0M44 502.5h0M43.8 486h0M43.1 492.9h0M50.8 486.9h0M43.1 484.6h0M43.7 484.9h0M43.8 499.5h0M44.6 497.4h0M51.3 488.6h0M45 496.2h0M40.4 487.7h0M34.1 497.6h0M49.1 495.4h0M45 484.9h0M44.9 497.3h0M47.4 492h0M45.3 491.3h0M46.4 491.9h0M55.4 494.7h0M47.2 495.1h0M51.4 484.2h0M40.3 496.5h0M41.1 491.8h0M53.6 486.1h0M46.4 490.4h0M44.8 489.3h0M43.7 492.7h0M55.9 491.7h0M41.6 491h0M50.8 485.7h0M54.9 491.1h0M41.3 498.2h0M53.5 504.7h0M35 492.7h0M51.7 487.3h0M49.3 486.7h0M45.3 493.1h0M43.3 492.4h0M47.1 495.4h0M50.7 493.2h0M44.7 492.4h0M49.6 499h0M46.3 493.8h0M44.3 493.3h0M45 497.2h0M36.1 497.5h0M57.6 489.4h0M37.1 487.6h0M47.8 491.3h0M48.9 499.4h0M50.2 498h0M49.1 490.5h0M42.7 492.3h0M52.6 496h0M47.9 489.4h0M45.6 491.1h0M45.5 490.6h0M55.6 498.3h0M36.6 492h0M45.1 497.8h0M47.2 491.2h0M51.5 497.3h0M47.1 496.8h0M49.1 492.2h0M43.5 494.4h0M46.4 492.6h0M49 490.6h0M40.9 501h0M44.3 494.9h0M39.6 492.6h0M51.3 495.7h0M50.7 486.5h0M43 491.1h0M42.1 501.5h0M45.3 504.5h0M52.3 491.8h0M43 492.7h0M46.5 499.5h0M42.7 494.7h0M53 503.4h0M50.3 498.3h0M47.7 496.2h0M50.7 493.7h0M38.7 488.8h0M39.1 496.8h0M41.9 495.1h0M39.4 495.6h0M48.6 487.8h0M58.2 497.3h0M48.8 489.9h0M50.4 501.5h0M47.9 496.6h0M45.6 497.1h0M37.8 491.7h0M28.8 503h0M48 476h0M52.5 473.5h0" stroke="#c6c6c6" stroke-width="1.4" stroke-linecap="square" fill="none"/>
<line x1="25.4" y1="464.5" x2="25.4" y2="511.5" stroke="#222" stroke-width="0.8"/>
<line x1="25.4" y1="511.5" x2="72.8" y2="511.5" stroke="#222" stroke-width="0.8"/>
<line x1="24.1" y1="465" x2="25.4" y2="465" stroke="#222" stroke-width="0.6"/>
<text x="23.4" y="466.55" font-size="4.4" text-anchor="end" fill="#444" style="" stroke="#444" stroke-width="0.13">15</text>
<line x1="24.1" y1="478.5" x2="25.4" y2="478.5" stroke="#222" stroke-width="0.6"/>
<text x="23.4" y="480.05" font-size="4.4" text-anchor="end" fill="#444" style="" stroke="#444" stroke-width="0.13">10</text>
<line x1="24.1" y1="492" x2="25.4" y2="492" stroke="#222" stroke-width="0.6"/>
<text x="23.4" y="493.55" font-size="4.4" text-anchor="end" fill="#444" style="" stroke="#444" stroke-width="0.13">5</text>
<line x1="24.1" y1="505.8" x2="25.4" y2="505.8" stroke="#222" stroke-width="0.6"/>
<text x="23.4" y="507.35" font-size="4.4" text-anchor="end" fill="#444" style="" stroke="#444" stroke-width="0.13">0</text>
<line x1="31.3" y1="511.5" x2="31.3" y2="512.8" stroke="#222" stroke-width="0.6"/>
<text x="31.3" y="518" font-size="4.4" text-anchor="middle" fill="#444" style="" stroke="#444" stroke-width="0.13">0</text>
<line x1="44.9" y1="511.5" x2="44.9" y2="512.8" stroke="#222" stroke-width="0.6"/>
<text x="44.9" y="518" font-size="4.4" text-anchor="middle" fill="#444" style="" stroke="#444" stroke-width="0.13">5</text>
<line x1="59.1" y1="511.5" x2="59.1" y2="512.8" stroke="#222" stroke-width="0.6"/>
<text x="59.1" y="518" font-size="4.4" text-anchor="middle" fill="#444" style="" stroke="#444" stroke-width="0.13">10</text>
<line x1="72.4" y1="511.5" x2="72.4" y2="512.8" stroke="#222" stroke-width="0.6"/>
<text x="72.4" y="518" font-size="4.4" text-anchor="middle" fill="#444" style="" stroke="#444" stroke-width="0.13">15</text>
<line x1="26.4" y1="499.1" x2="57.7" y2="487.7" stroke="#111" stroke-width="0.9"/>
<text x="28" y="469.6" font-size="4.6" text-anchor="start" fill="#333" style="" stroke="#333" stroke-width="0.14"><tspan font-style="italic">ρ</tspan>: 0.35</text>
<text x="28" y="474.5" font-size="4.45" text-anchor="start" fill="#333" style="" stroke="#333" stroke-width="0.13"><tspan font-style="italic">P</tspan>: &lt; 0.0001</text>
<ellipse cx="109.5" cy="488" rx="7.83" ry="4.86" fill="#f2a274" transform="rotate(-24.44 109.5 488)"/>
<path d="M109.6 490h0M102.8 493.1h0M110.3 483.8h0M106.4 497.2h0M113.2 483.1h0M118 486.3h0M112.9 490.3h0M111.6 479.3h0M104.6 491.5h0M107.4 486.1h0M112.5 487.5h0M105 486.5h0M120.5 485.2h0M105.1 493.5h0M102.4 494.6h0M108.6 491.6h0M110.3 489.8h0M117.4 486.6h0M108.3 493.5h0M110.9 488h0M114.3 485.2h0M105.3 490.2h0M112.4 478h0M111.9 485.2h0M114.7 486.6h0M103.8 487.2h0M111.7 484.2h0M107.9 485.5h0M108.9 491.9h0M99.1 488.7h0M105.6 484h0M104.4 485.5h0M103.8 491.1h0M108.2 491.5h0M115.9 483.5h0M116.1 488.7h0M104.6 479.4h0M106.2 485.7h0M104.1 494.9h0M111.3 490.5h0M107.4 489.3h0M103.5 498.2h0M111.6 487h0M108.2 495.7h0M99.3 488.3h0M103.8 489.4h0M100.1 487.5h0M118 487.6h0M110.4 482.4h0M107.5 496.5h0M110 484h0M110.3 490.8h0M115.9 493.9h0M109.4 484.4h0M105.8 487.9h0M101.2 486.7h0M108.6 484h0M104.6 489.7h0M104.2 483.9h0M114.1 483.9h0M112.2 484h0M115.7 488h0M103.7 499.2h0M112.2 485.3h0M112.9 489.9h0M114.7 485h0M107.4 486.8h0M108 486.5h0M110.3 488.1h0M104.6 494.4h0M108.1 489.7h0M98 485.7h0M106.5 487h0M111.9 487.8h0M95 491.3h0M115.2 482.8h0M114.3 481.8h0M107.7 488h0M109.5 490.7h0M113.3 480.9h0M109.1 489.2h0M119.5 479.5h0M112.6 483.2h0M102.4 486.6h0M114 489.3h0M110.7 482.7h0M112 487.9h0M107.2 488.1h0M105.9 490.4h0M111.4 484.5h0M108.9 491.2h0M116 488.4h0M108.4 480.4h0M95.2 487.3h0M112.2 489.6h0M114.3 491.3h0M110.5 489.7h0M103.1 490.5h0M110.4 488.7h0M114 485.2h0M110.1 484.4h0M106.7 488.6h0M114.8 481.5h0M104.9 488.2h0M106.2 489.3h0M105.2 493h0M112.9 488.1h0M107.8 496.5h0M104.8 486.2h0M106.3 483.9h0M115.4 476.7h0M111.1 484.2h0M115.1 488.4h0M109.6 484.8h0M115.2 491.2h0M105.5 487.4h0M99.3 492.7h0M109.9 482.8h0M113.7 487.8h0M105.5 483.2h0M104.2 487.3h0M111.8 489.9h0M104.1 491.8h0M103.2 489.8h0M107.2 485.7h0M113.6 494.6h0M112.7 487.4h0M105.1 488.6h0M100.6 488.8h0M102 489.8h0M119.1 489.2h0M108.2 486.3h0M116.7 484.8h0M100.7 499.1h0M108 483.4h0M103.5 493.9h0M115.9 485.8h0M110.1 485.7h0M111.6 488h0M102.4 489.2h0M107.8 490.7h0M107.1 489.8h0M112.7 491.1h0M108.1 486.3h0M114.4 481h0M101.5 490.5h0M109.5 486.9h0M109 482.1h0M113.9 483.9h0M102 489.3h0M111.5 486.6h0M118.5 486h0M108.6 488.8h0M110.3 491.7h0M109.8 488.9h0M111.7 491.3h0M102.6 492.1h0M109.4 489.2h0M111.9 490.4h0M106.5 486.7h0M113.8 487.5h0M112.2 491.5h0M110 489.8h0M109.1 494.6h0M112.7 478.9h0M114 488.4h0M114.1 493.8h0M114.7 491.8h0M109.7 482.5h0M109.6 481.5h0M114.8 494.6h0M112.8 485.7h0M104.8 494.4h0M108.2 492.8h0M111.1 489h0M107.2 494.9h0M98.2 487.2h0M111 492h0M112.3 485.8h0M108.9 490.6h0M104 490.3h0M109.5 490.3h0M105.4 492.3h0M103.5 487.6h0M115.2 489.8h0M114.7 486.3h0M114 489.1h0M109 489.2h0M111.7 483h0M97.5 492.1h0M105.3 494.3h0M108.6 485.8h0M106.6 491.7h0M107 488.1h0M109.7 485.8h0M107.3 486.4h0M109.8 487.1h0M112.8 488.7h0M111.8 489.3h0M116 489.3h0M122.4 487.1h0M115.7 484.2h0M107.1 492.7h0M99.3 488.8h0M104.4 489.2h0M114.3 495.1h0M110 490.3h0M117 482.1h0M115.5 477.2h0M109.8 488.6h0M108 487.3h0M106.6 486.1h0M111.6 489.2h0M110.5 493.6h0M108 486.9h0M111.8 494.4h0M111.6 488h0M116.1 489.9h0M107.1 495.3h0M117.1 486.2h0M105.2 493.5h0M102.8 491.8h0M110 495.2h0M110 491.4h0M109.6 489.2h0M107.6 486h0M112.7 486.5h0M106.6 481.6h0M111.2 488.6h0M101.4 494.2h0M105.2 485.3h0M107.5 481.7h0M103.4 492h0M115.7 494.9h0M115.9 487.4h0M101.1 490.7h0M113.6 482.5h0M105 486.2h0M110.9 490.9h0M116.9 486.8h0M110.1 488.5h0M105.5 486.1h0M110.1 480.2h0M112.5 479.7h0M107.1 486.6h0M99.8 492.1h0M112.8 490.9h0M116.1 487.5h0M121.4 485.9h0M107.4 490.1h0M106.4 489.4h0M105.6 492.7h0M108.7 484.1h0M98.5 488.6h0M106.4 493.9h0M116.4 486.7h0M120.6 491h0M102 489.2h0M110 488.8h0M117.4 481h0M108.4 485.3h0M99.3 495.9h0M116.9 479.6h0M103.4 486.1h0M113.4 485.2h0M112.2 479.1h0M108.8 487.5h0M107 486.5h0M99.9 493.9h0M118 483.3h0M104.8 485.2h0M106.3 495.3h0M111.9 485.2h0M109.8 482.7h0M104.8 490.2h0M120 491.5h0M114.6 490.8h0M119.8 489.3h0M116.5 486.6h0M102.1 493.8h0M109.8 488.1h0M112.8 487.9h0M110.1 488.4h0M99.7 494.3h0M107.7 485.9h0M107.1 490.2h0M111.5 485.9h0M112.1 484.1h0M110.6 482.9h0M119 484.8h0M109.7 488.7h0M122.9 488.5h0M119.8 486.3h0M107.5 490.1h0M107.5 485.7h0M112.5 485.2h0M111.9 489.3h0M99.7 490h0M109.2 480.8h0M112.1 485.3h0M104.9 493.2h0M109.5 482.8h0M118.4 488.8h0M113.5 486.2h0M102.4 489.3h0M109.6 494.8h0M117 486.1h0M116 491.7h0M103.7 491.5h0M112.7 483.5h0M109.4 490.1h0M109.9 481.4h0M109.5 484.3h0M109.2 480.4h0M109.5 489.1h0M103.7 493h0M113 485.6h0M104.7 489.8h0M111.5 483.3h0M102.2 495.3h0M109.7 486h0M107.6 482.3h0M109.8 482.7h0M106.7 489.8h0M109.4 491.9h0M115.9 486.6h0M113.6 488.4h0M108.1 486.6h0M111.1 483.4h0M110.1 490.5h0M112.9 481.3h0M109 482.6h0M116.6 489.3h0M115.5 489.1h0M118.7 484h0M111.8 488h0M101.8 483.1h0M110.8 486.2h0M115.5 481.6h0M110.3 488.8h0M116.5 485.3h0M101.7 489.6h0M97.7 492.7h0M103.5 488.6h0M109.3 486.9h0M110 485.6h0M113.3 481.3h0M103.3 488.5h0M108.3 487.7h0M107.6 486.9h0M111.1 490.6h0M113 492.5h0M111 489.8h0M115.4 492.8h0M101.8 487.9h0M99.9 484.2h0M114.9 488.3h0M103 488.5h0M103.4 493.9h0M114 484.4h0M119 482.9h0M101.2 493.4h0M114.6 488.2h0M96.9 488h0M104 492.7h0M105.9 494.8h0M109.9 494.7h0M103 490.8h0M112 490.9h0M119.9 487.4h0M105 491.6h0M100.8 490.4h0M103.8 489.8h0M119.1 478.8h0M100.4 488.6h0M109.1 481.9h0M115.5 485.1h0M102.7 487.5h0M105 490.1h0M110.8 489.8h0M104.6 485.6h0M116.5 481.8h0M106.2 488h0M101.4 489.2h0M101.9 490.7h0M113.6 490h0M105.1 490.7h0M115.2 483.9h0M101.1 488.1h0M95.6 484.3h0M115.7 488.7h0M117.7 492.3h0M102.1 494.2h0M110.7 494h0M115.2 485.5h0M113.6 481.7h0M106.1 491.7h0M111.3 483.4h0M109.2 483.3h0M107.1 485.7h0M111 485.4h0M110.7 484.5h0M110.3 491.7h0M104.5 491.2h0M112.7 490.6h0M112.7 483.4h0M105.3 492.5h0M112 490.3h0M107.4 480.4h0M114.7 479.9h0M110.9 488h0M108 488.9h0M111.9 489.1h0M107.6 487.7h0M105 485.1h0M103.8 490.9h0M106.8 485.4h0M105.7 489.9h0M109.7 486.7h0M118.7 486.2h0M109.1 483.6h0M97.1 489.8h0M105.7 485.8h0M107.8 492.1h0M115.3 486.9h0M114.7 492.3h0M117 484h0M117.2 487.2h0M112.8 482.4h0M118.9 484.3h0M113.6 486.9h0M107.1 493.1h0M101.4 494.4h0M113.1 493h0M107.2 488.5h0M114 491.1h0M112.4 485.7h0M108.8 489.4h0M112.3 491h0M118.4 479.9h0M111.5 480.3h0M104.1 495.5h0M104.7 490.8h0M107.6 480.3h0M111.2 486h0M108.2 497.3h0M109.9 486.8h0M122.8 488.1h0M114.1 490h0M95.6 491.4h0M109.6 492.7h0M108.2 485.4h0M117 484.7h0M114.7 488.4h0M117.8 486.4h0M114.9 481.3h0M110.6 485.7h0M110.1 486h0M110.7 491.1h0M98.2 490h0M103.5 491.5h0M105.1 491.2h0M112.1 481.9h0M99.8 489.5h0M111.1 483.9h0M108.7 491.2h0M106.8 491.9h0M117.5 492.7h0M113 483.5h0M104 490.4h0M99.1 488.1h0M115.9 487h0M110.5 480.8h0M103.1 487.7h0M112.9 487.3h0M108.4 496.5h0M109.3 484.4h0M106.1 486.6h0M107.6 495.1h0M105.5 487.8h0M107.6 486h0M94.8 488.1h0M111.2 489.6h0M106.4 493.8h0M117.4 490.6h0M117.7 483.9h0M106.2 492.4h0M105.1 486.4h0M108.2 490.5h0M109 488.1h0M112.3 485.9h0M112.4 487h0M110.1 487.8h0M104.6 494h0M105.6 492.4h0M113.3 489h0M98.9 495.4h0M114.4 488.7h0M111.3 484.3h0M104 491.3h0M115.8 489h0M105.6 487.4h0M111.2 487.9h0M108.8 486.6h0M109.2 482h0M105.5 486.7h0M100.9 496.2h0M106.6 491h0M99.5 483.9h0M107.7 489h0M114.9 480.3h0M112.7 487.1h0M112.1 482h0M108.8 485h0M106.2 485.7h0M112.1 488.9h0M111.9 488.9h0M104.7 491.4h0M114.3 489.4h0M108.7 484.2h0M114.1 486.1h0M104.3 485.8h0M110 483.1h0M107.8 490.9h0M101.4 488.1h0M110.9 488.5h0M103.8 485.4h0M107.9 489.5h0M101.8 487.2h0M95.9 487h0M108.1 484h0M116.1 486.8h0M108.4 486.3h0M118.4 488.5h0M107.8 490.4h0M110.1 486.5h0M101 487.7h0M107.7 487.3h0M110.6 488.2h0M104.6 487.5h0M106.1 488.2h0M115.5 481.6h0M104.8 484.3h0M100.5 484.9h0M110.3 490h0M111.4 491.5h0M114.5 491.7h0M114.1 490.5h0M112.2 489.6h0M112.5 489.6h0M119.5 486.3h0M112.1 492.6h0M103.7 489.1h0M109.8 484.8h0M101.7 488.1h0M110 484.7h0M100.2 494.8h0M112.6 491.2h0M113.1 487.1h0M118 483.4h0M100.4 509.7h0" stroke="#f2a274" stroke-width="1.4" stroke-linecap="square" fill="none"/>
<line x1="89.2" y1="464.5" x2="89.2" y2="511.5" stroke="#222" stroke-width="0.8"/>
<line x1="89.2" y1="511.5" x2="136.8" y2="511.5" stroke="#222" stroke-width="0.8"/>
<line x1="87.9" y1="465" x2="89.2" y2="465" stroke="#222" stroke-width="0.6"/>
<text x="87.2" y="466.55" font-size="4.4" text-anchor="end" fill="#444" style="" stroke="#444" stroke-width="0.13">15</text>
<line x1="87.9" y1="478.5" x2="89.2" y2="478.5" stroke="#222" stroke-width="0.6"/>
<text x="87.2" y="480.05" font-size="4.4" text-anchor="end" fill="#444" style="" stroke="#444" stroke-width="0.13">10</text>
<line x1="87.9" y1="492" x2="89.2" y2="492" stroke="#222" stroke-width="0.6"/>
<text x="87.2" y="493.55" font-size="4.4" text-anchor="end" fill="#444" style="" stroke="#444" stroke-width="0.13">5</text>
<line x1="87.9" y1="505.7" x2="89.2" y2="505.7" stroke="#222" stroke-width="0.6"/>
<text x="87.2" y="507.25" font-size="4.4" text-anchor="end" fill="#444" style="" stroke="#444" stroke-width="0.13">0</text>
<line x1="94.7" y1="511.5" x2="94.7" y2="512.8" stroke="#222" stroke-width="0.6"/>
<text x="94.7" y="518" font-size="4.4" text-anchor="middle" fill="#444" style="" stroke="#444" stroke-width="0.13">0</text>
<line x1="108.5" y1="511.5" x2="108.5" y2="512.8" stroke="#222" stroke-width="0.6"/>
<text x="108.5" y="518" font-size="4.4" text-anchor="middle" fill="#444" style="" stroke="#444" stroke-width="0.13">5</text>
<line x1="122.6" y1="511.5" x2="122.6" y2="512.8" stroke="#222" stroke-width="0.6"/>
<text x="122.6" y="518" font-size="4.4" text-anchor="middle" fill="#444" style="" stroke="#444" stroke-width="0.13">10</text>
<line x1="136.2" y1="511.5" x2="136.2" y2="512.8" stroke="#222" stroke-width="0.6"/>
<text x="136.2" y="518" font-size="4.4" text-anchor="middle" fill="#444" style="" stroke="#444" stroke-width="0.13">15</text>
<line x1="99" y1="492.9" x2="120.9" y2="482" stroke="#111" stroke-width="0.9"/>
<text x="91.3" y="469.6" font-size="4.6" text-anchor="start" fill="#333" style="" stroke="#333" stroke-width="0.14"><tspan font-style="italic">ρ</tspan>: 0.46</text>
<text x="91.3" y="474.5" font-size="4.45" text-anchor="start" fill="#333" style="" stroke="#333" stroke-width="0.13"><tspan font-style="italic">P</tspan>: &lt; 0.0001</text>
<ellipse cx="181.5" cy="482.5" rx="6" ry="2.1" fill="#14589a" fill-opacity="0.8" transform="rotate(-36.87 181.5 482.5)"/>
<path d="M188 480.7h0M174.7 486.5h0M172.6 491h0M179.8 482.7h0M173.1 485.8h0M177.7 490h0M187.5 478.7h0M174.3 488.9h0M185.8 484.2h0M189.2 478.3h0M190 471.4h0M179.8 479.3h0M175.4 480.7h0M196.3 474h0M177.8 484.1h0M177.4 485.8h0M175.9 479.3h0M185 478.1h0M183.8 476.2h0M191.5 473.3h0M178.8 485.8h0M190.5 476h0M176.5 485h0M180.6 480.3h0M193.8 466.7h0M190.1 481.2h0M193.5 474.7h0M178.7 486.4h0M190.5 469.7h0M179.1 484.2h0M189.3 483.6h0M180.8 484.6h0M175.6 487.4h0M176.9 485.8h0M178.1 483.1h0M194.2 472h0M178 482.8h0M170.1 487.3h0M195.2 476.5h0M190.1 478.8h0M186 478h0M176.1 482.1h0M187.5 475.4h0M187.2 480.1h0M191.5 473.9h0M181.7 481.8h0M174.4 487.5h0M187.6 476.9h0M178 491.6h0M171.1 496.2h0M188.1 481.3h0M183.1 478.7h0M177.3 493.7h0M170.3 490h0M183.6 480.6h0M189.4 480.4h0M184.7 481.2h0M193.4 470.5h0M182.4 489h0M182.2 485.4h0M170.1 488.3h0M181.7 485.7h0M192.1 474.4h0M190.2 480.1h0M185.5 481.3h0M174.2 484.4h0M171.3 489.5h0M182.7 481.9h0M187.9 480.7h0M178.1 490.7h0M174.1 485.9h0M169.3 495.4h0M180.3 482.4h0M170.1 493.7h0M174.8 487.5h0M171.2 488.5h0M178.7 481.5h0M179.9 484h0M190.7 475.9h0M175.8 483.2h0M175.3 483.3h0M186.4 476.8h0M183.6 477.5h0M180.6 482.7h0M177.3 484.5h0M175.7 488.3h0M175.7 482.8h0M187.1 483.3h0M171.8 490.2h0M179.5 484.7h0M173.3 483.9h0M177.9 492.3h0M187.3 485.1h0M171 498.6h0M179.7 483.3h0M180 483.3h0M175.3 482.4h0M183.4 483h0M186 480.8h0M175.7 494.5h0M173.9 481.8h0M180.9 480.9h0M185.2 478.3h0M183 479.6h0M184.4 482.6h0M180.8 480.8h0M186.2 477.5h0M183.9 488h0M172.9 486.9h0M185.3 478.7h0M182.5 485h0M178.4 484.1h0M175.2 489h0M184.4 478.4h0M183.4 482.9h0M185.7 484.4h0M184.8 486.1h0M183.6 475.8h0M176.7 487.1h0M178.4 486.5h0M186.2 484.8h0M178.6 479.7h0M183.1 482.3h0M181.2 477.1h0M178 485.6h0M183.8 478.2h0M188.1 479.8h0M184.9 481.6h0M175.2 484.6h0M195.2 476.4h0M176.1 493.5h0M185.3 480.6h0M174 492.6h0M187.2 476.9h0M177.2 486.9h0M182.2 474.7h0M187.2 474.4h0M184.8 484.1h0M179.9 488.3h0M182.9 487.8h0M182 485.7h0M178.2 488.6h0M180.8 489.5h0M180.4 481.2h0M193.3 473.6h0M193.7 471.6h0M183.5 481.2h0M182.4 482h0M178.1 478.1h0M174.4 487.9h0M182.1 480.7h0M191.1 483.3h0M178.3 486.5h0M186.3 479.9h0M187.2 476.9h0M186.1 482.2h0M185.1 479.6h0M188.4 471h0M169.2 488.2h0M176 483.5h0M177 482h0M183 480.3h0M192.7 480h0M176.3 478h0M182.9 483.4h0M176.4 486.5h0M182.3 480.6h0M185.7 480h0M179.2 486.3h0M181.1 486.1h0M194.1 472.8h0M194 475.4h0M193.4 471.1h0M195.4 472.9h0M177 482.5h0M178.3 486h0M186.5 482h0M179.4 480.7h0M184.5 477.2h0M185.4 483h0M178.1 491.6h0M180.9 488.4h0M179.5 485.7h0M181.1 487.3h0M179.9 481h0M179.1 489.3h0M183.2 480h0M178 477.5h0M190.7 471h0M184.2 477.8h0M179.5 479.4h0M185.4 483.2h0M175 485.1h0M179.6 478.2h0M194.1 484.7h0M194.5 478.3h0M174.1 486.1h0M174.6 484.8h0M183.7 477.8h0M178.2 489.9h0M185 483.8h0M179.5 485h0M170.6 494.2h0M168.8 494.4h0M179.2 485.2h0M178.3 481.4h0M177.6 491.2h0M190.8 473.3h0M192.5 472.8h0M180.9 479.3h0M166 502h0M168.8 503.4h0M170.5 504.2h0M164 506.3h0M176 497h0" stroke="#14589a" stroke-width="1.75" stroke-linecap="square" fill="none"/>
<line x1="152.6" y1="466" x2="152.6" y2="510.7" stroke="#222" stroke-width="0.8"/>
<line x1="152.6" y1="510.7" x2="198.5" y2="510.7" stroke="#222" stroke-width="0.8"/>
<line x1="151.3" y1="466.5" x2="152.6" y2="466.5" stroke="#222" stroke-width="0.6"/>
<text x="150.6" y="468.05" font-size="4.4" text-anchor="end" fill="#444" style="" stroke="#444" stroke-width="0.13">10</text>
<line x1="151.3" y1="485.2" x2="152.6" y2="485.2" stroke="#222" stroke-width="0.6"/>
<text x="150.6" y="486.75" font-size="4.4" text-anchor="end" fill="#444" style="" stroke="#444" stroke-width="0.13">5</text>
<line x1="151.3" y1="504" x2="152.6" y2="504" stroke="#222" stroke-width="0.6"/>
<text x="150.6" y="505.55" font-size="4.4" text-anchor="end" fill="#444" style="" stroke="#444" stroke-width="0.13">0</text>
<line x1="160.5" y1="510.7" x2="160.5" y2="512" stroke="#222" stroke-width="0.6"/>
<text x="160.5" y="517.2" font-size="4.4" text-anchor="middle" fill="#444" style="" stroke="#444" stroke-width="0.13">0</text>
<line x1="179.4" y1="510.7" x2="179.4" y2="512" stroke="#222" stroke-width="0.6"/>
<text x="179.4" y="517.2" font-size="4.4" text-anchor="middle" fill="#444" style="" stroke="#444" stroke-width="0.13">5</text>
<line x1="197.5" y1="510.7" x2="197.5" y2="512" stroke="#222" stroke-width="0.6"/>
<text x="197.5" y="517.2" font-size="4.4" text-anchor="middle" fill="#444" style="" stroke="#444" stroke-width="0.13">10</text>
<line x1="164.4" y1="493.4" x2="195.8" y2="470.1" stroke="#111" stroke-width="0.9"/>
<text x="154.5" y="469.6" font-size="4.6" text-anchor="start" fill="#333" style="" stroke="#333" stroke-width="0.14"><tspan font-style="italic">ρ</tspan>: 0.62</text>
<text x="154.5" y="474.5" font-size="4.45" text-anchor="start" fill="#333" style="" stroke="#333" stroke-width="0.13"><tspan font-style="italic">P</tspan>: &lt; 0.0001</text>
<ellipse cx="46.5" cy="552" rx="7.97" ry="6.21" fill="#c6c6c6" transform="rotate(-21.8 46.5 552)"/>
<path d="M46.9 552.1h0M49.1 549.3h0M48.1 553.9h0M33.3 553h0M39.6 550.2h0M43.7 556.4h0M44.2 547.5h0M47 551.7h0M48.1 548.9h0M38.2 553.7h0M46 552.1h0M55 547.1h0M39.6 555.7h0M43.1 551h0M44 540.2h0M40.7 552.6h0M47.5 550.1h0M54.2 551.3h0M50.1 547.4h0M47.4 553.4h0M42.6 553.4h0M42.4 547.7h0M55.6 554.6h0M53.6 547.1h0M34 549.9h0M38 559.9h0M49.8 546h0M49.5 549.2h0M43.7 561.8h0M50.1 543.2h0M45.6 548.9h0M49.2 550.6h0M56.2 552.5h0M45.8 546.2h0M36.1 550.6h0M49.4 554.2h0M46.5 555.9h0M50.3 555.8h0M52.2 550.1h0M53.7 550.7h0M40.1 556.8h0M40.5 554.1h0M35.9 557.2h0M41 556.3h0M44.1 552.3h0M47.7 546.1h0M40.1 561h0M41.2 556.7h0M42 548.1h0M44.8 548.6h0M43.2 551.7h0M43.9 557.1h0M53.2 549h0M39.9 551.6h0M49.6 554.3h0M44.4 554.1h0M47.7 551.8h0M39.2 558.4h0M53.6 554.6h0M47.5 548.6h0M55.1 556.5h0M36.2 551h0M49.5 558.4h0M42.7 549.5h0M46.5 548.6h0M46.5 552.7h0M39.5 561.2h0M47.7 544.2h0M54.6 557.3h0M46.3 554h0M49.2 549.2h0M48.5 552.3h0M49.2 545.7h0M56.7 543h0M47 553.4h0M41.4 552.2h0M47.4 558.9h0M51.7 550.3h0M34.9 555.6h0M41.3 554.1h0M35.4 556.5h0M54.5 551.4h0M57.1 552.1h0M59.5 551.9h0M40.7 557.2h0M48.8 559.7h0M52.2 547.9h0M39.5 551.4h0M54.2 546.3h0M49.9 553.2h0M52.8 553.5h0M41.7 548.8h0M46.4 556.9h0M33.4 551.7h0M41.3 552.6h0M50.5 542.5h0M55 551.3h0M43.4 543.9h0M46.8 555.8h0M46.7 555.7h0M37.1 552.9h0M47.3 558.9h0M38.9 549.1h0M45.6 555.4h0M49.5 546.5h0M57.5 550.2h0M56.2 551h0M48 553h0M44.5 562.3h0M49.5 553.8h0M43.2 546h0M42.8 551.2h0M42.3 549h0M43.7 547.2h0M43.2 559.8h0M52.1 546.4h0M54 549.7h0M43.2 554.8h0M47.6 556.9h0M49.9 556h0M44.5 561.3h0M41.1 554.7h0M48.1 555.3h0M39.9 558.3h0M46.8 555.9h0M47 551.2h0M40.9 545.8h0M48.9 555h0M39.6 557.5h0M38.1 551.5h0M45.1 552.8h0M42.2 554.7h0M40.9 554.4h0M47.6 562.3h0M44.4 548.6h0M43.5 551.2h0M39.8 562.7h0M57.8 546.9h0M47.9 544.3h0M40.7 562.9h0M40.4 546.9h0M60.5 553.5h0M52.2 560h0M52.2 552.2h0M48.7 549.9h0M40.8 548.6h0M43.3 556.3h0M52.9 549.8h0M42 547.3h0M45.4 556.3h0M45.8 558.9h0M48.6 550.2h0M51.6 556.5h0M41.3 552.2h0M43.3 548.8h0M44.2 550.9h0M40.5 552.6h0M53.3 552.2h0M42.6 549.2h0M41.5 546h0M47.7 547.8h0M40.3 554.2h0M52 547.3h0M50.4 550.6h0M54.4 545.3h0M47.2 551h0M42.1 558.4h0M43.8 550h0M47.9 549.7h0M53.6 545.8h0M43.4 563.5h0M44.2 555.1h0M51.5 554.6h0M50.4 552h0M51.7 543.5h0M51.5 556.8h0M43.6 556.9h0M49.9 554.9h0M46.6 557.5h0M50.2 543.9h0M56.1 546.3h0M57.6 547.6h0M55.7 543.9h0M43.7 548.1h0M47.7 546.6h0M46.9 549.3h0M52.7 551h0M42.9 552.8h0M49.8 549.3h0M55.7 554.5h0M44.2 541.6h0M41.8 552.9h0M46.4 557.6h0M50.9 552.2h0M42.6 554.4h0M45.1 561.4h0M38.7 553.4h0M52.2 558h0M54.2 552.3h0M48.8 554.1h0M48.2 547.1h0M43.1 553.7h0M41.9 550.2h0M58.2 550h0M54 548.8h0M41.8 553h0M40.7 548.9h0M53.7 554.6h0M45.8 556h0M53.7 551.4h0M35.7 555.3h0M40.9 552.9h0M52.2 547.6h0M36.9 555.6h0M41 559.9h0M54.2 552.6h0M54.5 547.2h0M50.5 555.8h0M45.1 555.5h0M44.8 545.3h0M51 558h0M40.8 550.3h0M42.9 561.2h0M42.6 550.4h0M48.3 547.6h0M48.7 554.1h0M50.9 558.9h0M46.5 558.3h0M39.2 557.5h0M39.3 554.9h0M52.9 551.2h0M39.8 552.4h0M54.5 557.6h0M43 552.4h0M47 549.2h0M44 563.8h0M36 548.4h0M53.2 559.4h0M49.2 558.5h0M49.7 553h0M49.1 549.5h0M37.4 549h0M42.4 556.8h0M53.8 552.4h0M47.2 555.5h0M46.6 549.7h0M47.3 543.7h0M54.8 548.8h0M47.2 553.2h0M40.8 560.8h0M37.3 550h0M51.1 551.1h0M45.7 549.1h0M49.1 545.7h0M44.6 547.9h0M42.3 555.6h0M58 547.8h0M53.7 549.5h0M47.8 553.5h0M48.2 565.1h0M44.9 552.3h0M40.4 551.1h0M42.6 552.2h0M51.8 556.3h0M46.3 548h0M44.9 552h0M37 563h0M53 552.6h0M40.2 561.8h0M55.1 557.1h0M53.6 553.5h0M36.6 547.2h0M48.5 550.7h0M49.6 552.9h0M40.6 547.8h0M45.6 558.3h0M43.6 544.4h0M47.6 561.7h0M47.6 555.9h0M55.5 546.4h0M54.4 558.9h0M50.6 545.3h0M54.7 554.6h0M49.9 548.4h0M49.2 548.8h0M50.3 539.3h0M45.1 555.3h0M50.8 551h0M43.4 552.4h0M50.4 549.6h0M46.5 551h0M43.9 555.8h0M43.6 543.1h0M55.4 550.7h0M37.7 545.5h0M46.1 549.2h0M51.3 554.3h0M36.5 555.1h0M34.2 551.3h0M38 551.9h0M39.9 559.1h0M44.8 556.4h0M47.3 551.8h0M49.5 558.3h0M43.2 553.7h0M40.4 556h0M51.1 553.3h0M42.6 547.8h0M37.5 556.4h0M53.4 544.4h0M45.3 550.4h0M48.3 548.2h0M39.3 549.8h0M42 543.9h0M51.3 553.8h0M48.8 546.1h0M48.7 557.8h0M41.3 553.2h0M45.5 555.3h0M42.3 558.5h0M51.6 546.3h0M37.4 559.3h0M42.5 555h0M39.2 554.6h0M42.3 551.3h0M51.3 557.9h0M40.5 558.1h0M53.8 560.1h0M38 555.8h0M56.2 551.2h0M44.5 555.4h0M45 554.4h0M44.7 549.6h0M50.1 553.5h0M51.7 550.2h0M50.2 549.3h0M37.7 559.1h0M40.9 550.5h0M45.3 552.4h0M45.7 551.9h0M32.1 554.9h0M39.7 550.6h0M43.9 556h0M37.9 551.9h0M44.9 554.6h0M39.5 553h0M42.5 557.1h0M50.5 554.1h0M50.7 556h0M49.6 541.3h0M42.1 558h0M43.4 552h0M54.8 554.7h0M47.1 548.4h0M42.3 557.4h0M53.1 546.5h0M55.4 548.6h0M52.5 547.4h0M55.2 552.8h0M56.2 546h0M51.7 555.5h0M43.8 548.6h0M49.9 551.4h0M40.9 551.6h0M49.3 557.3h0M43.9 550.9h0M58.3 547.6h0M42.1 546.5h0M41.6 543.7h0M46 547.9h0M38.5 556.9h0M41.1 550.6h0M45.2 549h0M44.7 547.8h0M44.8 559.4h0M41.4 553.8h0M44.1 544.2h0M45.2 556.3h0M49.1 550.4h0M52 558h0M36.3 558.4h0M43 552.9h0M39.8 557.1h0M48.5 552.5h0M48.4 555.1h0M42.9 546.1h0M39.9 555h0M46 545.3h0M49.4 551.9h0M46.2 555.2h0M50.2 556.9h0M48.6 560.3h0M51.5 542.6h0M38.2 562.7h0M44.7 555.6h0M38.3 551.3h0M56.6 552.2h0M55.2 549.1h0M42.2 554h0M51.7 547.5h0M50.8 549.2h0M43.1 547.3h0M54.4 547.1h0M43.9 550.8h0M36 557.5h0M57.4 554.4h0M37.5 560.8h0M44.3 552.7h0M49.2 554.9h0M53.1 557.4h0M54.8 552.7h0M55.7 555.7h0M60.4 555.1h0M53.5 551.7h0M42.4 555h0M46.8 557.4h0M41.7 546.1h0M42.6 558.7h0M48.6 558.3h0M52.8 553.1h0M54 554.3h0M47.1 553h0M56.8 553.9h0M51.9 553.7h0M48.2 559.2h0M47.7 543.8h0M45.1 544.6h0M49.1 560.6h0M38.6 553.8h0M58.7 554.6h0M46 550.4h0M53.2 552.7h0M54.8 542.2h0M37 554.6h0M38.2 549.1h0M47.2 543h0M46.8 548.5h0M46.4 554.6h0M49.3 556.7h0M50 554h0M35.6 549.3h0M43.4 553.9h0M45.7 543.6h0M43.2 552.1h0M45.3 550.6h0M49.9 555.1h0M45.3 551.9h0M50.3 548.2h0M47.3 556h0M39.6 553.9h0M43.1 548.2h0M57 548.4h0M48.6 550.4h0M43.7 561.5h0M46.9 549.9h0M57 547.1h0M45.1 552h0M54.9 551.3h0M34.3 553.3h0M47.6 559.5h0M47.8 551.1h0M40.4 551.5h0M45.2 550.4h0M53.3 552.5h0M47.6 544.9h0M37.4 548.1h0M39.4 559h0M44.9 548.1h0M46.1 551.6h0M37.6 546.3h0M51.9 550.1h0M40.3 546.8h0M51.6 557.1h0M52.5 551.7h0M38.5 546.6h0M54.6 554.5h0M44.4 542.2h0M47.6 551.2h0M39.6 544.5h0M49.3 556.7h0M44.2 549.2h0M50.5 554.1h0M48.7 545h0M45.4 559h0M45.5 549.4h0M48.3 548.2h0M51.2 554h0M54.8 551.4h0M37.6 555.4h0M38.1 558.8h0M44.6 545.6h0M45.3 557.3h0M41.4 556.5h0M35.4 556.2h0M42 549.1h0M47.1 556.8h0M42.5 555.2h0M53.3 541.5h0M49.6 552.9h0M41.8 562h0M49.7 549.7h0M42.2 552.3h0M41 545.8h0M45.5 554.1h0M46.1 550.5h0M47.9 559.8h0M41.9 555.4h0M53.8 554.8h0M52.1 551.1h0M36.6 548.4h0M41.1 553h0M39.7 555.7h0M36.3 548h0M49.9 553.7h0M44.1 555.5h0M47.7 545.8h0M42.3 553.6h0M50.9 543.9h0M47.6 558.9h0M47.9 555h0M44.3 550.8h0M46.2 552.6h0M41.3 558.2h0M44 561.1h0M41.5 548.2h0M57.7 548.5h0M46.9 550.1h0M49.3 549.6h0M48.5 552.4h0M50.9 557.9h0M47.5 553.6h0M39.7 550.8h0M37.7 552h0M50.4 540.8h0M43.7 552.8h0M43.3 558.4h0M48.8 555.6h0M46.1 550.4h0M54.5 556.8h0M51.8 556.2h0M47.4 556.1h0M42.7 550.8h0M50.9 548.8h0M49.7 553.5h0M45.6 550.6h0M56.3 546.4h0M49.4 551h0M53.8 554.3h0M48.5 554.5h0M41.4 560.7h0M46.1 548.9h0M42.4 550.7h0M44.3 551.5h0M51 549.1h0M48.3 555.7h0M43.1 555.2h0M50.3 549.7h0M56.6 555.9h0M55.5 546.4h0M42 558.8h0M43.5 571h0M29.5 547h0" stroke="#c6c6c6" stroke-width="1.4" stroke-linecap="square" fill="none"/>
<line x1="25.4" y1="530.1" x2="25.4" y2="577.3" stroke="#222" stroke-width="0.8"/>
<line x1="25.4" y1="577.3" x2="72.8" y2="577.3" stroke="#222" stroke-width="0.8"/>
<line x1="24.1" y1="530.6" x2="25.4" y2="530.6" stroke="#222" stroke-width="0.6"/>
<text x="23.4" y="532.15" font-size="4.4" text-anchor="end" fill="#444" style="" stroke="#444" stroke-width="0.13">15</text>
<line x1="24.1" y1="544.2" x2="25.4" y2="544.2" stroke="#222" stroke-width="0.6"/>
<text x="23.4" y="545.75" font-size="4.4" text-anchor="end" fill="#444" style="" stroke="#444" stroke-width="0.13">10</text>
<line x1="24.1" y1="558.2" x2="25.4" y2="558.2" stroke="#222" stroke-width="0.6"/>
<text x="23.4" y="559.75" font-size="4.4" text-anchor="end" fill="#444" style="" stroke="#444" stroke-width="0.13">5</text>
<line x1="24.1" y1="571.8" x2="25.4" y2="571.8" stroke="#222" stroke-width="0.6"/>
<text x="23.4" y="573.35" font-size="4.4" text-anchor="end" fill="#444" style="" stroke="#444" stroke-width="0.13">0</text>
<line x1="31.3" y1="577.3" x2="31.3" y2="578.6" stroke="#222" stroke-width="0.6"/>
<text x="31.3" y="583.8" font-size="4.4" text-anchor="middle" fill="#444" style="" stroke="#444" stroke-width="0.13">0</text>
<line x1="44.9" y1="577.3" x2="44.9" y2="578.6" stroke="#222" stroke-width="0.6"/>
<text x="44.9" y="583.8" font-size="4.4" text-anchor="middle" fill="#444" style="" stroke="#444" stroke-width="0.13">5</text>
<line x1="59.1" y1="577.3" x2="59.1" y2="578.6" stroke="#222" stroke-width="0.6"/>
<text x="59.1" y="583.8" font-size="4.4" text-anchor="middle" fill="#444" style="" stroke="#444" stroke-width="0.13">10</text>
<line x1="72.4" y1="577.3" x2="72.4" y2="578.6" stroke="#222" stroke-width="0.6"/>
<text x="72.4" y="583.8" font-size="4.4" text-anchor="middle" fill="#444" style="" stroke="#444" stroke-width="0.13">15</text>
<line x1="26.4" y1="559.9" x2="57.7" y2="547" stroke="#111" stroke-width="0.9"/>
<text x="28" y="535.4" font-size="4.6" text-anchor="start" fill="#333" style="" stroke="#333" stroke-width="0.14"><tspan font-style="italic">ρ</tspan>: 0.42</text>
<text x="28" y="540.3" font-size="4.45" text-anchor="start" fill="#333" style="" stroke="#333" stroke-width="0.13"><tspan font-style="italic">P</tspan>: &lt; 0.0001</text>
<ellipse cx="106.5" cy="557.5" rx="7.83" ry="3.78" fill="#f2a274" transform="rotate(-29.51 106.5 557.5)"/>
<path d="M113.3 555.3h0M99.2 556.4h0M119.2 554.8h0M113.7 554.2h0M104.1 558.4h0M109 553.8h0M107.3 553h0M104.8 558.5h0M103.9 561.3h0M97.5 565.6h0M108.7 552.3h0M95.3 561h0M110.8 554.5h0M108.4 558.9h0M107.4 556.5h0M101.8 559.5h0M101 556.8h0M111.6 558.4h0M106.2 556.3h0M107.1 557h0M105.3 561.3h0M108.8 556.2h0M113.3 557.6h0M109.6 551.3h0M107 559.8h0M104.3 559.6h0M108.6 559.1h0M112.2 554.2h0M108.9 551.2h0M102.5 561.2h0M103.5 559.7h0M105.5 558.1h0M108.6 549.5h0M107.1 553.9h0M113 551.9h0M98.8 558h0M111.8 555.7h0M116.4 551.4h0M100 566.7h0M106.9 559h0M111 549.3h0M101 556.3h0M101.7 556.6h0M104 559.6h0M111.2 549.4h0M113.2 556.9h0M120.3 555.2h0M116.1 555.3h0M99.8 560h0M100.5 559h0M96.7 564.1h0M99.9 558.7h0M92.5 555.4h0M104.7 555.5h0M104.9 557h0M98 561.1h0M114.9 557.9h0M99.4 556.6h0M110.1 554.4h0M104.3 561.2h0M106.7 559.4h0M110.7 550.9h0M104.7 561h0M110.4 558.1h0M96 563.9h0M105.7 555.2h0M102.6 553.8h0M106.2 560.7h0M107.2 556.3h0M110.9 553.1h0M106.3 554.9h0M97.8 560.4h0M113.2 557.9h0M98.5 557.5h0M101.8 561h0M110.2 557.5h0M111.1 556.8h0M117.1 554.6h0M101.6 555.8h0M103.7 556.8h0M114.9 551.1h0M101.8 564.6h0M109.5 552h0M105.9 557.9h0M96.4 557h0M105.9 558.6h0M114.9 549.3h0M114.2 556.1h0M107.3 554.9h0M106.5 555.9h0M105.5 559.6h0M101.4 561.5h0M96 559.2h0M104.5 556.6h0M99.9 560.2h0M114.2 557.9h0M106.3 556.8h0M112 552.5h0M113.1 545.9h0M102.1 560.3h0M105.2 561.3h0M110.7 553.6h0M100 561h0M108.3 557h0M112.2 554.6h0M103.1 560.3h0M102.7 557.9h0M109 556.7h0M98.4 563.7h0M102.7 556.9h0M96.7 559.9h0M114.7 558.5h0M107.1 554.7h0M114.3 553.1h0M101.8 561.1h0M107 555.3h0M103.7 562.2h0M106.4 553.8h0M113.3 555.4h0M109.3 555.3h0M115.4 549.5h0M100.7 551.1h0M108.4 561.4h0M106.2 551.2h0M102.4 557.2h0M112.7 554.4h0M109.5 564.8h0M111.4 558.1h0M107.3 555.7h0M101.6 560.1h0M96.4 560.2h0M116.1 555.1h0M109.2 554.6h0M99.2 560.2h0M117.1 557.5h0M102.5 562.6h0M108.4 557.9h0M109.3 562.3h0M102.7 565.5h0M106.3 558.8h0M103.2 557.8h0M105.7 556.1h0M106 559h0M116.3 553.2h0M107.8 555.2h0M105.5 560.1h0M102.8 556.6h0M104.2 559h0M111.4 555.8h0M99.8 563.3h0M109.1 560.1h0M104.5 552.6h0M105.4 556.4h0M115.6 555.8h0M98.4 561.4h0M111.8 554h0M110.3 557.8h0M108.5 553.5h0M98.3 563.4h0M108.8 558.2h0M97.8 562.4h0M111.3 555.6h0M102.1 565.9h0M109 551.7h0M101.6 563.3h0M109.4 554h0M103.1 556.4h0M98 560h0M107.6 553.9h0M107.2 555.3h0M109 555.5h0M104.6 561.4h0M112.5 557.6h0M102.3 559.1h0M109.4 554.6h0M109.8 555.2h0M107.9 555.9h0M107.6 555.1h0M98.8 558.4h0M104.8 563.3h0M98.2 567.8h0M102.7 562.6h0M115.8 554.8h0M113.4 555.5h0M108.4 558h0M98.6 560.5h0M102.4 555.4h0M109.9 555.6h0M112.5 556.4h0M100.3 564.6h0M114 555.6h0M106.7 561.1h0M107.5 556.6h0M110.2 558.2h0M101.7 556.4h0M106.5 559.8h0M102.1 565.7h0M103.9 558.3h0M111 557.3h0M104.4 559.7h0M102.5 559.5h0M108.3 552.8h0M103.4 561.5h0M105.4 560h0M98.4 558.8h0M102.9 563.1h0M105.8 558.6h0M100.1 563.9h0M110.9 554.1h0M110.4 557.2h0M111.9 551.7h0M102.3 562.7h0M108.2 555.9h0M109 559.2h0M103.8 559.8h0M120.1 557.7h0M103.8 554.6h0M110.3 555.7h0M104.7 565.3h0M107.4 559.8h0M114.4 555h0M104.7 559.7h0M107.6 563.9h0M102.6 556.7h0M103.6 553.3h0M108.5 552.6h0M108 551.5h0M110 559.8h0M97.4 561.1h0M103 558.4h0M108.7 557.4h0M104.5 560.3h0M103.9 552.9h0M104.6 559.5h0M102.7 557.8h0M108.9 555.4h0M108.2 557.1h0M108.3 559.6h0M109.7 558.4h0M99.9 558.2h0M108.2 557.7h0M107.2 562.2h0M109.6 553.6h0M103.8 557.5h0M103.2 562.9h0M104 560.3h0M106.9 552.2h0M98 569.7h0M100 556.8h0M114.2 556.9h0M107.9 551.2h0M107.5 562.2h0M104.9 558.3h0M111 559h0M113.2 557.8h0M101.6 566.5h0M105.1 557.2h0M100.9 558.6h0M108 552.6h0M113.5 550.7h0M104.4 553.4h0M110.8 554.1h0M109.9 556.6h0M110.7 558.7h0M105 559.5h0M102.3 563h0M113.2 559.2h0M100.2 561.2h0M97.7 562.9h0M97.6 562.4h0M104.5 556.7h0M116.8 547.3h0M103.2 555.7h0M116.4 556.2h0M105 559.2h0M114.5 558.5h0M108.1 560h0M102.2 560h0M102.6 555.2h0M110.1 554.2h0M103.6 555.9h0M110.4 551.8h0M104 557.9h0M105.6 553.2h0M110.3 553.8h0M102.9 556.9h0M113.5 550.3h0M110 554.2h0M108.3 560.1h0M103.8 556h0M109.7 556.3h0M101 561.6h0M100.3 566.9h0M100.7 567.4h0M107.4 560h0M111.9 553.9h0M107.9 550.3h0M100.2 555.3h0M105.6 565.4h0M105.7 558.3h0M106.5 558.4h0M112.8 560h0M103 558.1h0M99.8 557.6h0M98.9 565.5h0M105 560.7h0M113 559.5h0M116.3 552h0M111.8 558.3h0M98.1 564.4h0M105.9 563.1h0M99 561h0M112 556.4h0M110.6 556.2h0M112 559.8h0M109 561.7h0M115.2 555.6h0M113.9 557.2h0M107 555h0M102.1 555.6h0M112.3 550.2h0M113.1 553.8h0M110.4 556.8h0M108.8 552.4h0M106.8 560.7h0M112.3 551.2h0M108.6 561.3h0M113.9 553.1h0M110.2 554h0M107.2 561.2h0M97.8 558.3h0M107.5 558.4h0M108.8 558.2h0M107 560.2h0M103.3 554.7h0M110.6 557.9h0M106.8 555.9h0M114.8 550.2h0M115.2 549.9h0M103.7 552.3h0M105.6 560.8h0M110.8 557.3h0M113.8 552.4h0M112.2 559.3h0M115.2 552.1h0M105.6 558.2h0M105.8 561.5h0M108.6 554.8h0M101.4 561.7h0M103 562.1h0M108 554.2h0M112.6 554.8h0M108.5 551.6h0M109.6 551.8h0M106.5 558h0M96.4 556.9h0M102.1 559.6h0M105.2 556.6h0M103.7 553.2h0M99.6 556.8h0M108.6 558.3h0M101.3 564.5h0M101.2 556.7h0M108.3 552.1h0M110.6 549.8h0M114.2 553.8h0M103.1 555.5h0M114.3 557.9h0M108.8 555h0M113.3 559.3h0M111.9 551.9h0M112.3 556h0M105.7 557.8h0M104.4 556h0M108.7 557.1h0M115.8 558.9h0M106.7 551.9h0M116.8 555.7h0M114.1 554.5h0M103.6 559.2h0M96.8 563h0M97.6 563.1h0M107.7 558.4h0M109.1 554.1h0M115.1 550.4h0M105.9 552.7h0M116 551.3h0M115.6 554.6h0M112.5 557h0M109.5 558.2h0M112.3 557.6h0M113.4 556h0M104.4 562.5h0M109.9 558.9h0M99.1 563.7h0M113.8 551.6h0M117.1 558.5h0M105.5 560.5h0M107.7 558.7h0M100.4 554.2h0M102.1 560.5h0M94 559.9h0M105.4 559.8h0M98.5 557.1h0M100.3 556.4h0M116.2 551.7h0M99 556.2h0M103.6 555.7h0M99.9 560.3h0M113.3 556.3h0M104.6 559.5h0M102.8 558.4h0M104.7 559.7h0M113.4 555.5h0M102 554.9h0M107.3 559.1h0M105.9 559.3h0M108.9 559h0M104.4 557.4h0M109 550h0M103.1 557.7h0M108.2 558.3h0M103.5 555.1h0M103 562.1h0M107.9 558.5h0M113.8 555.3h0M103.1 554.6h0M105.6 558.5h0M103.3 557.8h0M109.4 555.1h0M105.2 560.1h0M109.8 552.1h0M100.9 560.2h0M103.2 563.7h0M107.7 552.9h0M101.5 562.6h0M110.7 557.3h0M112.2 556.1h0M113.3 556.4h0M104.4 558.1h0M107.5 558.9h0M111.9 557.3h0M113.8 557.4h0M107.1 557.5h0M108.7 549.2h0M111.1 549.3h0M98.6 563.4h0M107.1 554.5h0M115.3 556.7h0M109.7 555.7h0M100.4 559.7h0M101.6 559.8h0M111.7 560.9h0M117.4 552.2h0M109.2 558.4h0M102.4 562.6h0M105 557.4h0M95 559.3h0M108.9 557.3h0M109.4 555.9h0M104.8 555.2h0M104.4 556.3h0M110.8 565.2h0M104.4 560.8h0M107.6 558.8h0M106.7 551h0M104.2 553.6h0M102.2 559h0M110.9 556h0M113.4 556.4h0M105.5 557.9h0M99.7 563.3h0M110.4 556h0M107.7 559.3h0M110 551.7h0M107.9 549.9h0M104.3 561h0M107.7 556.4h0M116.5 551.5h0M107.1 557.1h0M112.5 554.8h0M114.6 556.2h0M97.4 560.3h0M107.6 558.9h0M101.9 554.1h0M108 557h0M107.7 555.2h0M104.9 553.3h0M106.4 557.4h0M106 552.8h0M105.6 557.3h0M101.4 561.7h0M106.9 555.2h0M109 553h0M100.1 564h0M107.9 556.8h0M115.1 554.1h0M110.1 553h0M106.6 554.8h0M110.2 557h0M103 556.7h0M99.6 558.1h0M110 557.5h0M112.8 559.8h0M104.1 561.9h0M103.9 558.3h0M112.2 551.8h0M109 558.5h0M106.5 558.5h0M105.6 558.4h0M114.8 551.7h0M98.1 560h0M116.9 548.6h0M96.1 562h0M107.6 553.5h0M103.5 557.1h0M110.6 555.9h0M103.4 553.1h0M109.9 558.7h0M113.6 554.3h0M104.9 559.5h0M102.6 560.5h0M112 552.2h0M110.2 556.9h0M106.6 556.9h0M104.3 554h0M97.7 563.5h0M96 554.2h0M114.8 553.6h0M103.6 554.4h0M97 563.5h0M95.4 558.3h0M113.3 551.8h0M107.6 554h0M97.9 563.8h0M108.4 557.7h0M106.3 561h0M113.5 550.8h0M105.3 553.5h0M107.6 560.9h0M114.2 558.6h0M112.5 557h0M108.3 563.4h0M110.3 555.2h0M109.1 558.7h0M113.6 553.7h0M102.6 565.7h0M104.3 557.8h0M102.9 559.7h0M105.4 560.2h0M109.8 554.6h0M106.5 555.7h0M108.3 557.4h0M103.6 554.5h0M111.1 559.1h0M114.5 554.4h0M106.9 559.5h0M109.7 552.8h0M106 561h0M114.1 555.8h0M94.5 571.5h0M111.5 542h0" stroke="#f2a274" stroke-width="1.4" stroke-linecap="square" fill="none"/>
<line x1="89.5" y1="530.1" x2="89.5" y2="576.9" stroke="#222" stroke-width="0.8"/>
<line x1="89.5" y1="576.9" x2="136.3" y2="576.9" stroke="#222" stroke-width="0.8"/>
<line x1="88.2" y1="530.6" x2="89.5" y2="530.6" stroke="#222" stroke-width="0.6"/>
<text x="87.5" y="532.15" font-size="4.4" text-anchor="end" fill="#444" style="" stroke="#444" stroke-width="0.13">20</text>
<line x1="88.2" y1="542" x2="89.5" y2="542" stroke="#222" stroke-width="0.6"/>
<text x="87.5" y="543.55" font-size="4.4" text-anchor="end" fill="#444" style="" stroke="#444" stroke-width="0.13">15</text>
<line x1="88.2" y1="553.5" x2="89.5" y2="553.5" stroke="#222" stroke-width="0.6"/>
<text x="87.5" y="555.05" font-size="4.4" text-anchor="end" fill="#444" style="" stroke="#444" stroke-width="0.13">10</text>
<line x1="88.2" y1="564.9" x2="89.5" y2="564.9" stroke="#222" stroke-width="0.6"/>
<text x="87.5" y="566.45" font-size="4.4" text-anchor="end" fill="#444" style="" stroke="#444" stroke-width="0.13">5</text>
<line x1="88.2" y1="576.3" x2="89.5" y2="576.3" stroke="#222" stroke-width="0.6"/>
<text x="87.5" y="577.85" font-size="4.4" text-anchor="end" fill="#444" style="" stroke="#444" stroke-width="0.13">0</text>
<line x1="89.6" y1="576.9" x2="89.6" y2="578.2" stroke="#222" stroke-width="0.6"/>
<text x="89.6" y="583.4" font-size="4.4" text-anchor="middle" fill="#444" style="" stroke="#444" stroke-width="0.13">0</text>
<line x1="104.8" y1="576.9" x2="104.8" y2="578.2" stroke="#222" stroke-width="0.6"/>
<text x="104.8" y="583.4" font-size="4.4" text-anchor="middle" fill="#444" style="" stroke="#444" stroke-width="0.13">5</text>
<line x1="120.3" y1="576.9" x2="120.3" y2="578.2" stroke="#222" stroke-width="0.6"/>
<text x="120.3" y="583.4" font-size="4.4" text-anchor="middle" fill="#444" style="" stroke="#444" stroke-width="0.13">10</text>
<line x1="136" y1="576.9" x2="136" y2="578.2" stroke="#222" stroke-width="0.6"/>
<text x="136" y="583.4" font-size="4.4" text-anchor="middle" fill="#444" style="" stroke="#444" stroke-width="0.13">15</text>
<line x1="93.3" y1="564.1" x2="119.8" y2="549" stroke="#111" stroke-width="0.9"/>
<text x="91.3" y="535.4" font-size="4.6" text-anchor="start" fill="#333" style="" stroke="#333" stroke-width="0.14"><tspan font-style="italic">ρ</tspan>: 0.63</text>
<text x="91.3" y="540.3" font-size="4.45" text-anchor="start" fill="#333" style="" stroke="#333" stroke-width="0.13"><tspan font-style="italic">P</tspan>: &lt; 0.0001</text>
<ellipse cx="180.5" cy="545" rx="6.38" ry="2.31" fill="#14589a" fill-opacity="0.8" transform="rotate(-24.23 180.5 545)"/>
<path d="M187.2 542.9h0M182.3 547.1h0M190.8 534.9h0M180.7 539.3h0M183 542h0M176.9 549.5h0M177.9 549.3h0M191.8 538h0M187.7 545.5h0M171 549h0M189 547.5h0M189.2 544.1h0M184.7 540.8h0M180.1 543.4h0M184.6 539.1h0M182.9 543.4h0M180.8 552h0M177.9 546.1h0M178.1 542.4h0M182.2 543.2h0M175.5 554.5h0M178.3 548.8h0M178 545.6h0M169.9 549.9h0M174.9 542.9h0M183.1 539.7h0M187.4 537.6h0M178.6 547.1h0M169.6 555.7h0M171 550.7h0M189 541.2h0M175.3 549.1h0M183.6 543h0M183.1 545.1h0M181.2 540.9h0M171.6 553.4h0M188.6 543.4h0M170 547.7h0M174.5 546.6h0M186.8 542.7h0M180 545.4h0M182.4 546.4h0M183.9 543.1h0M168.1 552h0M163.7 551.2h0M170.7 544.8h0M164.7 554.9h0M170 549.6h0M167.1 547.4h0M178.5 539.9h0M188.3 545.1h0M192.5 544h0M183.3 542h0M186.9 542.2h0M176.7 547.9h0M168.7 554.2h0M184 547.2h0M179.9 546.5h0M169.9 556.3h0M185.5 542.6h0M194.2 534.8h0M180.5 547.4h0M187.8 538.5h0M180.1 545.6h0M188.3 540.8h0M161.5 546.5h0M175.2 543.5h0M175.6 546.5h0M178 545.6h0M181.7 548h0M183.9 544.3h0M180.4 545h0M181 547.8h0M181.9 546.1h0M173.1 548.2h0M172.9 548.9h0M173.4 549.3h0M187.6 541.8h0M187.9 545.1h0M181.1 545.2h0M175.5 545.7h0M179.2 552.1h0M177.4 541.1h0M196 539.8h0M178.4 542.1h0M192.7 545.3h0M179.2 548.5h0M183.1 544.4h0M171.3 542.3h0M168.5 552.5h0M184.6 543h0M175.1 546.8h0M196.1 535.2h0M186.4 549.4h0M177.7 547.4h0M183.7 544.8h0M184.9 540.6h0M167.1 550.6h0M166.5 547.9h0M168.2 550.3h0M179.1 545.3h0M173.2 540.2h0M185.9 540.5h0M174.6 549.1h0M194.8 543.3h0M193.4 535h0M183.5 541.5h0M177.6 543.7h0M189.3 542.4h0M179.3 550h0M172.7 548.9h0M184.2 540.4h0M190.1 542.9h0M186.4 545.2h0M188 542.8h0M180.5 544.5h0M185.7 541.2h0M182.2 546.8h0M188 542.2h0M187.2 537.3h0M167.8 548.7h0M174.5 541.7h0M170.1 545.8h0M172.2 549.9h0M186.4 550.5h0M179 547h0M174 548.4h0M169 548.6h0M188.2 537.7h0M174.9 543.8h0M186.6 551.9h0M187.6 538.8h0M174.8 549.5h0M184.2 548.5h0M171.2 550.6h0M190.4 543.5h0M172.3 544.9h0M177.8 548.4h0M186.3 542.8h0M183.1 545.4h0M175.2 544.3h0M182.2 543.1h0M183.7 537.7h0M164.3 551.4h0M185.3 545.6h0M173 550.9h0M182.9 539.9h0M175.5 550.8h0M168.2 553.4h0M191.9 545.2h0M178.3 542.7h0M186.6 543.8h0M185.2 541h0M171.2 549.9h0M170.1 548.9h0M176.1 548.7h0M167.3 557.3h0M190.5 536.4h0M188 539h0M185.5 543.8h0M177.9 546.4h0M193.4 546.6h0M188.3 543.1h0M180.9 540.9h0M188.2 542h0M186.6 542.6h0M180.8 547.8h0M177.3 548.1h0M171.1 545.6h0M178.2 547.6h0M172.4 546.6h0M168.9 546.4h0M197.8 540.2h0M186.4 539.2h0M188.1 540.1h0M196 539.4h0M180.9 543.8h0M179.1 540.6h0M181.7 543.2h0M174.3 549.2h0M180.7 541.6h0M175.1 545.3h0M179.4 548.9h0M194 538.4h0M172.3 548.3h0M183.1 549.8h0M185.2 544.7h0M179.1 541.9h0M185.6 544.5h0M182.2 536.8h0M186 543.3h0M177.1 547.1h0M194.2 541.1h0M183.1 548.4h0M194.6 537h0M173.6 546.5h0M182.6 545.9h0M185.2 547h0M179 545.3h0M179.7 547.2h0M182.6 538.3h0M172.7 547.4h0M165.7 548.9h0M173.7 550.8h0M168.7 553h0M172.3 546.1h0M191.7 537.6h0M183.6 542.2h0M187.1 534.7h0M178.6 545.7h0M158 560h0M162.3 562h0M169.5 562h0M180 560.5h0M165 559.5h0M199 545h0" stroke="#14589a" stroke-width="1.75" stroke-linecap="square" fill="none"/>
<line x1="153.3" y1="529.9" x2="153.3" y2="576.9" stroke="#222" stroke-width="0.8"/>
<line x1="153.3" y1="576.9" x2="200.5" y2="576.9" stroke="#222" stroke-width="0.8"/>
<line x1="152" y1="530.4" x2="153.3" y2="530.4" stroke="#222" stroke-width="0.6"/>
<text x="151.3" y="531.95" font-size="4.4" text-anchor="end" fill="#444" style="" stroke="#444" stroke-width="0.13">15</text>
<line x1="152" y1="546.5" x2="153.3" y2="546.5" stroke="#222" stroke-width="0.6"/>
<text x="151.3" y="548.05" font-size="4.4" text-anchor="end" fill="#444" style="" stroke="#444" stroke-width="0.13">10</text>
<line x1="152" y1="561.2" x2="153.3" y2="561.2" stroke="#222" stroke-width="0.6"/>
<text x="151.3" y="562.75" font-size="4.4" text-anchor="end" fill="#444" style="" stroke="#444" stroke-width="0.13">5</text>
<line x1="152" y1="576.6" x2="153.3" y2="576.6" stroke="#222" stroke-width="0.6"/>
<text x="151.3" y="578.15" font-size="4.4" text-anchor="end" fill="#444" style="" stroke="#444" stroke-width="0.13">0</text>
<line x1="153.6" y1="576.9" x2="153.6" y2="578.2" stroke="#222" stroke-width="0.6"/>
<text x="153.6" y="583.4" font-size="4.4" text-anchor="middle" fill="#444" style="" stroke="#444" stroke-width="0.13">0</text>
<line x1="162.6" y1="576.9" x2="162.6" y2="578.2" stroke="#222" stroke-width="0.6"/>
<text x="162.6" y="583.4" font-size="4.4" text-anchor="middle" fill="#444" style="" stroke="#444" stroke-width="0.13">2</text>
<line x1="171.3" y1="576.9" x2="171.3" y2="578.2" stroke="#222" stroke-width="0.6"/>
<text x="171.3" y="583.4" font-size="4.4" text-anchor="middle" fill="#444" style="" stroke="#444" stroke-width="0.13">4</text>
<line x1="180.8" y1="576.9" x2="180.8" y2="578.2" stroke="#222" stroke-width="0.6"/>
<text x="180.8" y="583.4" font-size="4.4" text-anchor="middle" fill="#444" style="" stroke="#444" stroke-width="0.13">6</text>
<line x1="190.2" y1="576.9" x2="190.2" y2="578.2" stroke="#222" stroke-width="0.6"/>
<text x="190.2" y="583.4" font-size="4.4" text-anchor="middle" fill="#444" style="" stroke="#444" stroke-width="0.13">8</text>
<line x1="199.6" y1="576.9" x2="199.6" y2="578.2" stroke="#222" stroke-width="0.6"/>
<text x="199.6" y="583.4" font-size="4.4" text-anchor="middle" fill="#444" style="" stroke="#444" stroke-width="0.13">10</text>
<line x1="157.3" y1="555.6" x2="197.2" y2="537.7" stroke="#111" stroke-width="0.9"/>
<text x="155.5" y="535.4" font-size="4.6" text-anchor="start" fill="#333" style="" stroke="#333" stroke-width="0.14"><tspan font-style="italic">ρ</tspan>: 0.58</text>
<text x="155.5" y="540.3" font-size="4.45" text-anchor="start" fill="#333" style="" stroke="#333" stroke-width="0.13"><tspan font-style="italic">P</tspan>: &lt; 0.0001</text>
<line x1="244.5" y1="396.6" x2="244.5" y2="586.6" stroke="#6a6a6a" stroke-width="1"/>
<path d="M242.8 397.4 L246.2 397.4 L244.5 393 Z" fill="#111" stroke="none" stroke-width="0.8"/>
<line x1="244.5" y1="586.6" x2="439.6" y2="586.6" stroke="#6a6a6a" stroke-width="1"/>
<path d="M438.1 585 L438.1 588.2 L442.6 586.6 Z" fill="#111" stroke="none" stroke-width="0.8"/>
<line x1="244.5" y1="455.2" x2="439.4" y2="455.2" stroke="#cfcfcf" stroke-width="0.9"/>
<line x1="244.5" y1="522.3" x2="439.4" y2="522.3" stroke="#cfcfcf" stroke-width="0.9"/>
<text x="278.1" y="391.4" font-size="6.1" text-anchor="middle" fill="#222" style="" stroke="#222" stroke-width="0.18">Melanoma (SKCM)</text>
<text x="341.8" y="391.4" font-size="6.05" text-anchor="middle" fill="#222" style="" stroke="#222" stroke-width="0.18">Lung squamous (LUSC)</text>
<text x="405.2" y="391.4" font-size="6.1" text-anchor="middle" fill="#222" style="" stroke="#222" stroke-width="0.18">Pancreas (PDAC)</text>
<text x="240.9" y="421.5" font-size="6.3" text-anchor="middle" fill="#222" style="font-style:italic;" transform="rotate(-90 240.9 421.5)" stroke="#222" stroke-width="0.19">IDO1</text>
<text x="240.9" y="487.7" font-size="6.3" text-anchor="middle" fill="#222" style="font-style:italic;" transform="rotate(-90 240.9 487.7)" stroke="#222" stroke-width="0.19">TDO2</text>
<text x="240.9" y="552.7" font-size="6.3" text-anchor="middle" fill="#222" style="font-style:italic;" transform="rotate(-90 240.9 552.7)" stroke="#222" stroke-width="0.19">CYP1B1</text>
<text x="341.8" y="595.2" font-size="6.4" text-anchor="middle" fill="#222" style="font-style:italic;" stroke="#222" stroke-width="0.19">MRC1</text>
<ellipse cx="280" cy="423" rx="12.42" ry="5.94" fill="#c6c6c6" transform="rotate(-67.17 280 423)"/>
<path d="M281.2 438.2h0M284.9 412.6h0M278.2 412.6h0M284.4 413h0M278.4 416.9h0M278.9 409.8h0M286.6 412.8h0M269.7 433.4h0M263.5 428.1h0M274.1 441.2h0M280.2 416.1h0M273.3 425.5h0M283 418.1h0M275.6 420.4h0M286 418.4h0M274.6 414.6h0M284.8 429.1h0M280.9 426.8h0M282.1 420.3h0M281.9 422.7h0M289.3 422.8h0M281.8 415.4h0M284 413h0M290.2 417.6h0M278.2 420.7h0M280.7 418.2h0M276.5 418.2h0M278.3 423.9h0M284.1 413.8h0M283.2 439.3h0M280.7 415.7h0M281.6 423.7h0M280.7 429.6h0M277.8 433.4h0M285.2 417.9h0M278.1 431h0M277.4 422.5h0M280 422.4h0M278.3 422h0M282 428.6h0M270.7 424.6h0M282.4 427.7h0M284.6 409h0M277.8 431.7h0M286.5 424.1h0M277.9 433.7h0M277.7 415.5h0M286.4 420.1h0M272 441h0M284.3 419.9h0M275.6 425.9h0M286.1 414.9h0M286 410.8h0M279.5 427.8h0M277.5 428.7h0M275.4 416.4h0M273.6 428.8h0M281.7 426.3h0M271.1 430.2h0M277.9 427.9h0M275.4 424h0M271.6 432h0M285.2 417.7h0M286 419.8h0M281.9 421.1h0M276 428.8h0M275.5 436.9h0M270.9 425.8h0M281.2 423.3h0M284.2 412.6h0M272.3 434.4h0M283.5 415.3h0M275.3 424.4h0M280.3 408h0M277.6 423.9h0M283.5 420h0M270.5 423.2h0M281.6 422.1h0M285.2 420.9h0M285.2 409.1h0M282.9 425.6h0M276 437.3h0M281.8 414.9h0M283.4 427h0M280.8 422.8h0M279.2 418.6h0M274.4 431h0M274.1 435.3h0M283.1 418.6h0M277.3 426.7h0M280.2 433.7h0M284.7 414.9h0M276.3 422.6h0M287 416.1h0M276.3 422.2h0M285.2 416.3h0M284 411.6h0M268.7 425.9h0M283.3 411.4h0M279.6 427h0M278.3 427.5h0M280.4 424.5h0M284.2 401.3h0M273.4 423.2h0M285.1 408.7h0M288.1 422h0M280.5 405.5h0M268.6 438.6h0M279.2 426.6h0M281.8 417.8h0M277.1 441.3h0M276.2 434.8h0M281.9 422.7h0M270.6 431.2h0M283.3 414.3h0M277.8 433h0M276.1 424.9h0M275.1 421.6h0M282 421h0M275.7 432.7h0M282.5 411.5h0M279.3 426.5h0M283.2 425.7h0M276.9 427.5h0M275 412.2h0M284.8 424.6h0M281.5 426.5h0M286.9 414h0M288.5 420.1h0M287 415.7h0M278.9 420h0M271.4 439.1h0M279 424.2h0M277.3 428.7h0M271.1 422.3h0M273.2 423.2h0M285 432.8h0M280.3 427.6h0M274.9 415.6h0M278 413.7h0M270.2 438.9h0M287.6 418.8h0M285 428.2h0M279.2 423.6h0M280.8 415.7h0M274.7 432h0M270.8 433.7h0M273.7 428.1h0M283.4 406.9h0M269.4 440.1h0M279.8 416.6h0M286 414.9h0M274.5 434.5h0M274.9 427.7h0M284.4 422.2h0M285.9 430.8h0M282.1 414.4h0M270.9 437.2h0M279.7 426.6h0M280.9 428.4h0M277.8 410.8h0M282.9 418.3h0M275.8 423.5h0M285.6 405.2h0M281.7 422.7h0M276 431.9h0M283.2 432.3h0M272.6 427.8h0M281.6 415.5h0M288.3 400.8h0M280.6 405.3h0M279.7 420.3h0M272.2 418.9h0M282.2 431.8h0M267.8 427.6h0M278.5 428.5h0M280.9 422.8h0M291.8 407.7h0M278.4 427h0M278.9 420.2h0M274.1 422.5h0M282 406h0M277.9 420.9h0M279.9 418.7h0M281.3 415.8h0M272.3 426.2h0M277.2 420.3h0M276.4 428h0M278 422.9h0M277.1 429.4h0M265.9 441.4h0M283.1 421.5h0M274.6 422.2h0M271.8 434.3h0M277.5 418.4h0M279.6 426.4h0M286.8 414.7h0M279.4 421.6h0M287.1 414.7h0M275.4 425.6h0M269.2 429.5h0M277.7 433.5h0M275.1 435.3h0M277.7 430.6h0M273.3 424.2h0M279.7 428.9h0M275.6 440.8h0M278 421.9h0M274.6 441.6h0M274.9 424.2h0M273.8 422.5h0M278.2 421.1h0M268.4 429.3h0M288.3 415.6h0M270.6 440.3h0M272.3 437.6h0M288.6 420.4h0M280 425.9h0M277.1 423.1h0M292.3 412.4h0M272.9 438.3h0M280.3 412.8h0M278.9 435.3h0M278.2 434h0M275.9 429.8h0M285.6 418.3h0M280.8 421.9h0M283.2 425.2h0M288 414.9h0M285.2 414.2h0M282.3 425.2h0M274.2 414.7h0M286.6 407.7h0M276.8 425.8h0M275 442.3h0M276.6 428.4h0M267.8 432.1h0M282 424.9h0M287.8 417h0M284 418.5h0M283.9 424.1h0M283.5 421.3h0M284.6 422.2h0M274.7 438.8h0M278.8 412.9h0M271.7 427.9h0M279.2 416.9h0M281.5 418.1h0M275.3 436.5h0M282.6 416.3h0M278.9 426.5h0M286.7 422.8h0M278.6 431.7h0M278.7 418.3h0M279.8 422h0M286 419h0M280.3 419.6h0M282 412.5h0M278.8 432.3h0M283.7 413.6h0M279.4 425.5h0M290.6 419.7h0M284.7 433.6h0M277.1 420.3h0M275.4 426.5h0M276.8 428.7h0M275.3 432.1h0M276.1 423.2h0M287.4 427.5h0M278.9 433.9h0M277.9 438.2h0M281.8 416.5h0M269 435.5h0M288.5 412.6h0M281.7 412.7h0M276.7 427.8h0M278.8 423.7h0M288.8 413.3h0M283.6 416.7h0M281.6 434.1h0M279.8 416.3h0M280.2 407.8h0M281 426.7h0M278.9 430.5h0M290.2 418.5h0M270.6 419.1h0M288.6 416.2h0M283.3 411.7h0M284.4 430.7h0M283.9 420.5h0M269.7 433h0M282.8 412.6h0M284.2 412.3h0M289.9 420.3h0M271.7 439.4h0M280 430.4h0M278.1 424.4h0M281.9 418.4h0M275.1 422.2h0M286.5 408.3h0M279.7 423.5h0M280.6 425.9h0M284.3 420.8h0M293.3 414.3h0M281.3 422h0M277.3 421.9h0M294.2 424.9h0M274.5 422.6h0M280 426.3h0M279.5 425.2h0M270.7 425.5h0M286.9 421.3h0M277.9 432.7h0M276.9 414.7h0M279.8 418.5h0M265 438.1h0M278.8 419.2h0M281.1 422.6h0M285.8 422.1h0M285.2 412.3h0M273.6 421.4h0M286.4 417.9h0M285.9 423.9h0M280.7 425.5h0M282.3 408.1h0M276.1 409h0M284.7 417.7h0M289.4 422.2h0M283.5 415.3h0M280.5 428.7h0M274.4 421.6h0M274.7 423.7h0M279.4 415.9h0M277 421.7h0M278.1 426.2h0M272.1 438.6h0M291.7 417h0M285.9 417.7h0M276.2 437.6h0M281.6 404.9h0M286 427.3h0M280.4 430.1h0M283 425.1h0M279.4 436.6h0M269 429.2h0M282.2 411.8h0M283.1 408.2h0M281.3 419.1h0M277.7 415.7h0M284.8 410.7h0M282.9 430h0M271.4 414.5h0M275.3 423.7h0M278 419.6h0M282.1 405.7h0M288.9 415.9h0M279.3 415.1h0M276.5 415.8h0M284.9 427.7h0M277.1 422.8h0M283.9 407.2h0M277.8 422.3h0M284 417.1h0M272 423.1h0M297.1 404.4h0M281.5 406.2h0M276.6 426.2h0M276.7 424.5h0M280.3 406h0M291.1 422.5h0M279.5 426.7h0M276.6 423.2h0M279.2 423.2h0M280.5 436.9h0M282.3 424.6h0M279.9 428.9h0M279.6 425.4h0M275.8 427h0M282.5 434.7h0M286.5 412.9h0M280.8 427h0M276.6 434.4h0M275.8 426.6h0M288.5 409.4h0M277.6 426.3h0M277.4 425.1h0M280.8 431.3h0M279 416.6h0M278.3 429.8h0M282 418.8h0M270.2 425.8h0M275.4 411.4h0M275.2 422.3h0M283.8 412.5h0M280.6 428.4h0M282 433.4h0M288.2 412.5h0M276.9 423.3h0M284.1 423.6h0M281.9 419.8h0M276 408.6h0M283.3 418.2h0M283.6 426h0M277.4 425.8h0M274.7 439h0M284.8 407.8h0M277.3 434.8h0M278.2 412.7h0M272.5 432h0M278 426.3h0M270.2 429.6h0M269 428.5h0M274.9 434.4h0M279.1 417.6h0M282.6 405.3h0M278.2 425.1h0M280.7 432.7h0M282.7 418.3h0M276.1 418.5h0M282.2 416.1h0M280 429.5h0M288 407h0M276.8 434h0M284.2 422.8h0M280.2 425.6h0M283 409.8h0M278.9 411.4h0M276.2 419.4h0M279.1 418.2h0M273.8 424.1h0M286.1 410.2h0M274.6 440.7h0M280.2 427.1h0M280.2 425.4h0M278.7 433.3h0M274.4 419.3h0M274.9 415.1h0M277.9 433.9h0M273.2 431.8h0M281.3 424.9h0M275.8 431.8h0M279.2 402.6h0M272.9 422.7h0M276.6 416.6h0M280.4 419.3h0M282.1 423.9h0M276.8 423.9h0M280.3 423.3h0M283.2 413.6h0M275.2 433h0M280.1 428.7h0M278.2 429.8h0M276.5 430.4h0M273.8 421.8h0M274.6 415.2h0M283.7 422.2h0M277.6 433.4h0M288 412.6h0M282.1 422.7h0M275.2 419.1h0M283.9 427.2h0M289.6 410.3h0M280.5 435.2h0M279.2 425.3h0M282.4 428.6h0M280.5 416.4h0M285.2 428.9h0M285.3 419.9h0M270.2 427.8h0M279.1 426.7h0M289.2 418.3h0M272.2 437.4h0M280.8 409h0M287.3 420h0M276.8 426.8h0M276 412.8h0M273.6 425.6h0M286.4 410.8h0M276.1 418h0M274.3 423.9h0M285.2 421.3h0M279.6 432.9h0M271.2 436.5h0M279 414.8h0M284.2 422.2h0M275.5 421h0M280 419.7h0M285.1 410.9h0M282 424.7h0M270.2 420.1h0M271 437.8h0M289.4 413.8h0M280.8 431.4h0M270.9 421.6h0M276.2 429h0M278 413.4h0M271.1 435.1h0M275 417.2h0M278.9 418h0M278.6 423.6h0M279 416.9h0M280.3 418.9h0M283.9 422.4h0M278.2 427.9h0M278.5 417.6h0M282.2 409.8h0M280.8 420.3h0M281 414.4h0M272.9 420.2h0M278 423.7h0M282.5 410.5h0M284.4 413.7h0M283.2 412.3h0M273.8 436.9h0M285.1 412.6h0M278.9 428.4h0M280.6 422.8h0M285.6 416.3h0M286.1 412.1h0M276.7 422.7h0M284.4 427h0M287.6 412.2h0M275.9 422.3h0M271.3 424.2h0M283.4 428.1h0M278.2 432.8h0M276.7 422.6h0M290 416.8h0M274.6 418.4h0M278.3 428.3h0M284.6 417.5h0M275.6 425.1h0M283.6 418.3h0M292.2 410.2h0M277.9 441.3h0M276.4 425.7h0M284.9 430h0M290.2 416.9h0M288.2 408.7h0M287.1 410.2h0M275.7 430.5h0M272.6 424h0M286.4 427.3h0M291.3 411.3h0M268.5 425.4h0M280.5 424.6h0M277 416.4h0M276.9 417.8h0M276 427.1h0M285.4 410.7h0M284.4 421.8h0M282.1 434.8h0M284.6 422.3h0M279.6 437.3h0M282.1 425h0M281.2 428.6h0M286.4 413.8h0M280.6 417.3h0M283.2 419.7h0M280.5 402.6h0M257.5 417h0M286 403h0" stroke="#c6c6c6" stroke-width="1.4" stroke-linecap="square" fill="none"/>
<line x1="254.4" y1="397.9" x2="254.4" y2="444.9" stroke="#222" stroke-width="0.8"/>
<line x1="254.4" y1="444.9" x2="301.8" y2="444.9" stroke="#222" stroke-width="0.8"/>
<line x1="253.1" y1="398.4" x2="254.4" y2="398.4" stroke="#222" stroke-width="0.6"/>
<text x="252.4" y="399.95" font-size="4.4" text-anchor="end" fill="#444" style="" stroke="#444" stroke-width="0.13">15</text>
<line x1="253.1" y1="412.1" x2="254.4" y2="412.1" stroke="#222" stroke-width="0.6"/>
<text x="252.4" y="413.65" font-size="4.4" text-anchor="end" fill="#444" style="" stroke="#444" stroke-width="0.13">10</text>
<line x1="253.1" y1="425.7" x2="254.4" y2="425.7" stroke="#222" stroke-width="0.6"/>
<text x="252.4" y="427.25" font-size="4.4" text-anchor="end" fill="#444" style="" stroke="#444" stroke-width="0.13">5</text>
<line x1="253.1" y1="439.2" x2="254.4" y2="439.2" stroke="#222" stroke-width="0.6"/>
<text x="252.4" y="440.75" font-size="4.4" text-anchor="end" fill="#444" style="" stroke="#444" stroke-width="0.13">0</text>
<line x1="260.3" y1="444.9" x2="260.3" y2="446.2" stroke="#222" stroke-width="0.6"/>
<text x="260.3" y="451.4" font-size="4.4" text-anchor="middle" fill="#444" style="" stroke="#444" stroke-width="0.13">0</text>
<line x1="273.9" y1="444.9" x2="273.9" y2="446.2" stroke="#222" stroke-width="0.6"/>
<text x="273.9" y="451.4" font-size="4.4" text-anchor="middle" fill="#444" style="" stroke="#444" stroke-width="0.13">5</text>
<line x1="288.1" y1="444.9" x2="288.1" y2="446.2" stroke="#222" stroke-width="0.6"/>
<text x="288.1" y="451.4" font-size="4.4" text-anchor="middle" fill="#444" style="" stroke="#444" stroke-width="0.13">10</text>
<line x1="301.4" y1="444.9" x2="301.4" y2="446.2" stroke="#222" stroke-width="0.6"/>
<text x="301.4" y="451.4" font-size="4.4" text-anchor="middle" fill="#444" style="" stroke="#444" stroke-width="0.13">15</text>
<line x1="260.7" y1="436.1" x2="292.8" y2="412.2" stroke="#111" stroke-width="0.9"/>
<text x="257" y="403.8" font-size="4.6" text-anchor="start" fill="#333" style="" stroke="#333" stroke-width="0.14"><tspan font-style="italic">ρ</tspan>: 0.48</text>
<text x="257" y="408.7" font-size="4.45" text-anchor="start" fill="#333" style="" stroke="#333" stroke-width="0.13"><tspan font-style="italic">P</tspan>: &lt; 0.0001</text>
<ellipse cx="343.2" cy="420" rx="5.32" ry="4.48" fill="#f2a274" transform="rotate(-21.8 343.2 420)"/>
<path d="M347.7 419.5h0M353.7 415.4h0M331.1 423.6h0M356.2 424.9h0M340.2 433.6h0M344.5 427.6h0M342.1 412.2h0M342.2 426.3h0M338.2 422.7h0M350.6 411.4h0M342 425.1h0M350 416.8h0M351.3 417.7h0M353.4 423.8h0M339.6 415.8h0M335 426.8h0M345.3 422.8h0M339.9 421.9h0M353.3 402.1h0M347.7 434.6h0M344.5 421.7h0M345.2 422.5h0M339.5 434.7h0M341.2 409.7h0M350.8 420h0M342.1 413h0M346.3 415.6h0M356.9 416.1h0M351.8 420.5h0M340.5 413h0M344.2 413.1h0M330.8 414.5h0M338 421.1h0M352 425h0M331.1 414.4h0M343.5 428.4h0M344.7 425.2h0M340.1 412.2h0M342.6 414.3h0M354.3 419.5h0M347 416.8h0M346.3 423.1h0M356 426.8h0M341.8 430.3h0M335.7 420.6h0M347 420.8h0M336.4 416.2h0M340.2 426.6h0M339.1 432.4h0M340.4 415.4h0M352.9 419.9h0M340.3 427.9h0M346.6 428.4h0M352.8 407h0M345 429.1h0M344.7 418.7h0M335.3 432.9h0M340.5 425.1h0M336.5 409.4h0M339.3 420.8h0M344.2 417.6h0M328.7 421.2h0M348.5 422.5h0M349.4 418.3h0M347 417h0M337.1 424.4h0M339.7 424h0M330.7 414.4h0M345.8 428.9h0M339.6 433.1h0M339.5 417.6h0M347.2 422.2h0M344.9 431h0M348.7 416.3h0M348.8 424.2h0M357.5 412h0M343 420.9h0M341 421h0M340.6 421.4h0M343.7 411.4h0M342.2 413.6h0M352.2 415.5h0M332.4 416.5h0M344.3 419.6h0M356.4 428.6h0M345.5 421.4h0M340.3 415.6h0M338.8 427h0M350 420.7h0M329.2 424h0M335.7 436.3h0M357.3 432.6h0M332.1 410.5h0M337 421.1h0M349.5 418.9h0M353.4 421.9h0M343.6 427.9h0M337.7 434.5h0M349.8 420.7h0M348.3 406.5h0M340.2 427h0M350.4 418.5h0M341.5 426.8h0M341.3 424.7h0M346.4 414.6h0M340.5 416.3h0M343.9 415.8h0M334.4 418.2h0M345.9 408.3h0M339.2 430.8h0M341.3 428.1h0M337.7 412.2h0M330.8 419.5h0M344.3 421.5h0M337.7 426h0M338.8 411.2h0M344.2 425.9h0M349.1 413.4h0M340.8 422.7h0M345.8 427.5h0M342.7 404.6h0M341.1 416.9h0M346.9 429.2h0M350.1 424.4h0M340.9 414.8h0M357.2 429.7h0M341.9 414.8h0M338 416.2h0M344.3 421.7h0M341.7 417.2h0M334.3 401.5h0M344.9 418.8h0M336.5 419.7h0M347.4 412h0M335 433.4h0M349.1 413h0M331.9 419.9h0M335.1 426.5h0M335.2 426.5h0M340.9 416.1h0M338.2 420h0M352.7 422h0M346 422h0M334.3 425.4h0M353.6 422.8h0M332.7 412.7h0M347 426h0M332 419.2h0M349.4 403.2h0M344.1 421h0M346.2 421h0M351.7 419.1h0M336.7 418.4h0M334.7 431.2h0M345.9 423.4h0M361.5 424.3h0M347.5 427.4h0M344 423.3h0M347.3 413.9h0M359.2 418.5h0M347 422.2h0M343.1 412.4h0M348.9 416.5h0M346.9 424.9h0M337.6 421.1h0M344 421.7h0M333.2 406h0M343.5 418.3h0M334.1 421.1h0M337.4 408.7h0M332.5 417.2h0M353.3 415.5h0M341.4 414.3h0M355.4 415.9h0M346.4 423.4h0M343.6 426.6h0M348.7 430.7h0M346.8 417.5h0M338.1 425h0M345.4 416h0M350.8 418.6h0M349.3 417.2h0M346.8 424.7h0M346.5 422.7h0M339 419.9h0M350.9 418h0M337.1 418h0M340.3 424.2h0M340.7 409.5h0M336.4 428.2h0M341.4 428.8h0M340.3 428h0M353.2 412h0M342.2 416.2h0M340.6 428.9h0M331.4 418.5h0M349.2 426.8h0M342.9 428.2h0M349.9 426.7h0M335.4 417.1h0M349.2 422.7h0M343.8 424.9h0M338.8 418.2h0M343.2 417.9h0M342.3 414.9h0M347.9 412.8h0M343.4 419.5h0M336.5 414.6h0M340.1 403.7h0M332.2 426h0M344.5 420.2h0M343.7 427.7h0M333.8 419.2h0M347.8 425.2h0M341.9 416.2h0M343.5 423.9h0M340.5 414.7h0M341.6 418.6h0M349 423.8h0M334.5 422h0M327.8 433.4h0M343 411.2h0M349.4 412.8h0M348.8 424.4h0M346.8 413.4h0M337.5 432.2h0M347.2 411.6h0M352.6 417.7h0M341.5 429h0M335.5 430.3h0M341.9 428.4h0M348.1 408.9h0M332.3 423.4h0M335.3 408.3h0M333.8 419.4h0M341.3 421.3h0M344.9 411.3h0M348.3 401.2h0M358.9 428.4h0M354.8 426.5h0M337.2 414.6h0M343.1 414.3h0M348.5 407.5h0M338.1 411h0M341.2 421.7h0M340.7 414.8h0M341 431h0M337 431.3h0M350.2 414.7h0M343.9 423h0M338.3 420h0M346.5 408.1h0M343 432.8h0M342.5 422.6h0M340.5 423.8h0M341.9 422.1h0M341.4 424.8h0M331.5 409.9h0M345.7 412.7h0M332.4 420.2h0M338.5 421.2h0M357.2 420.7h0M340.3 415.2h0M345 418.2h0M357.3 418.1h0M345.3 419.9h0M340 417.8h0M335.1 419.9h0M345 424.4h0M342.2 402.6h0M338.9 423.2h0M343 409.4h0M340 420.5h0M343.9 427.2h0M342.8 432.7h0M351.7 409.8h0M343.8 417.5h0M343.3 421.2h0M358.7 415h0M345.2 431h0M349.2 413.1h0M339.2 419.7h0M344.4 413.3h0M330.4 424.3h0M344.7 412.2h0M354.2 417.1h0M337.9 418.4h0M352.9 422.6h0M346 410.6h0M354.5 400.1h0M339 415.7h0M346.6 417.3h0M336.6 411.2h0M341.7 420.7h0M337.8 415.8h0M350.7 420.2h0M344.7 420.6h0M338.3 414.2h0M348.3 416.6h0M334.5 428.6h0M343.7 419.8h0M337 429.1h0M339.7 434.8h0M330.1 424.7h0M338.8 427.3h0M344.4 425.1h0M348.3 410.2h0M347.3 428.1h0M324.4 422.6h0M357 428.4h0M335.7 419.1h0M360.8 424.8h0M340.5 417.6h0M357.6 424h0M337.8 411.2h0M334.3 415.8h0M330.8 413.8h0M333.1 420.5h0M349.4 429.1h0M356.3 427h0M343.9 418.5h0M345.9 418.6h0M344.7 423h0M348.2 417.9h0M346.6 412h0M341.9 417.2h0M339.2 418.7h0M354.3 420.8h0M341.5 423.1h0M340.8 424.5h0M353.7 415h0M351.3 421.3h0M329.7 417.4h0M340.5 424.8h0M340.1 428.9h0M344.2 406.5h0M341.2 430.3h0M339.8 416.2h0M347 426.7h0M337 423.1h0M347.9 412.9h0M331.2 416.9h0M340.7 409.6h0M357.3 429.4h0M348.9 427.5h0M357.9 421.7h0M342.8 416.3h0M338.5 425.4h0M339.9 422.2h0M347.9 422h0M346.6 414h0M344.7 410.2h0M351.9 415.9h0M347.4 417.3h0M334.2 419.1h0M340 423.8h0M341.4 431.7h0M344.1 409.2h0M338.4 416.6h0M346.1 416h0M335 425h0M334.7 419.2h0M350.9 423.6h0M343.3 424.2h0M339.6 418.1h0M329.1 418.1h0M351.6 413.3h0M347.3 412.4h0M347.1 416.5h0M350.4 413.4h0M338.1 429.7h0M343.7 419.1h0M342.1 428.8h0M331.2 427.6h0M339.9 414h0M356 413h0M339.5 431.1h0M345.5 424.4h0M341.9 420.9h0M351.7 416.4h0M334 441.5h0M328.5 407h0" stroke="#f2a274" stroke-width="1.4" stroke-linecap="square" fill="none"/>
<line x1="318.2" y1="397.9" x2="318.2" y2="444.6" stroke="#222" stroke-width="0.8"/>
<line x1="318.2" y1="444.6" x2="365.6" y2="444.6" stroke="#222" stroke-width="0.8"/>
<line x1="316.9" y1="398.4" x2="318.2" y2="398.4" stroke="#222" stroke-width="0.6"/>
<text x="316.2" y="399.95" font-size="4.4" text-anchor="end" fill="#444" style="" stroke="#444" stroke-width="0.13">15</text>
<line x1="316.9" y1="413.6" x2="318.2" y2="413.6" stroke="#222" stroke-width="0.6"/>
<text x="316.2" y="415.15" font-size="4.4" text-anchor="end" fill="#444" style="" stroke="#444" stroke-width="0.13">10</text>
<line x1="316.9" y1="429" x2="318.2" y2="429" stroke="#222" stroke-width="0.6"/>
<text x="316.2" y="430.55" font-size="4.4" text-anchor="end" fill="#444" style="" stroke="#444" stroke-width="0.13">5</text>
<line x1="316.9" y1="444.2" x2="318.2" y2="444.2" stroke="#222" stroke-width="0.6"/>
<text x="316.2" y="445.75" font-size="4.4" text-anchor="end" fill="#444" style="" stroke="#444" stroke-width="0.13">0</text>
<line x1="318.4" y1="444.6" x2="318.4" y2="445.9" stroke="#222" stroke-width="0.6"/>
<text x="318.4" y="451.1" font-size="4.4" text-anchor="middle" fill="#444" style="" stroke="#444" stroke-width="0.13">0</text>
<line x1="334.1" y1="444.6" x2="334.1" y2="445.9" stroke="#222" stroke-width="0.6"/>
<text x="334.1" y="451.1" font-size="4.4" text-anchor="middle" fill="#444" style="" stroke="#444" stroke-width="0.13">5</text>
<line x1="349.8" y1="444.6" x2="349.8" y2="445.9" stroke="#222" stroke-width="0.6"/>
<text x="349.8" y="451.1" font-size="4.4" text-anchor="middle" fill="#444" style="" stroke="#444" stroke-width="0.13">10</text>
<line x1="365.4" y1="444.6" x2="365.4" y2="445.9" stroke="#222" stroke-width="0.6"/>
<text x="365.4" y="451.1" font-size="4.4" text-anchor="middle" fill="#444" style="" stroke="#444" stroke-width="0.13">15</text>
<line x1="328.4" y1="423.6" x2="358.9" y2="413.6" stroke="#111" stroke-width="0.9"/>
<text x="354" y="436.7" font-size="4.6" text-anchor="start" fill="#333" style="" stroke="#333" stroke-width="0.14"><tspan font-style="italic">ρ</tspan>: 0.3</text>
<text x="354" y="441.6" font-size="4.45" text-anchor="start" fill="#333" style="" stroke="#333" stroke-width="0.13"><tspan font-style="italic">P</tspan>: &lt; 0.0001</text>
<ellipse cx="412" cy="423" rx="4.88" ry="3.5" fill="#14589a" fill-opacity="0.8" transform="rotate(-26.57 412 423)"/>
<path d="M413.9 424.1h0M419.1 421.4h0M413.9 418.3h0M405.4 420.3h0M422.3 420h0M408.5 424.5h0M411 424.2h0M411.2 427.1h0M411.4 421.1h0M418.5 428.8h0M406.6 424.2h0M411.4 425.8h0M410.6 423.7h0M409.2 419.6h0M412.3 426.9h0M409 427.7h0M405.3 430.3h0M414.4 428.4h0M424.6 419.1h0M405.9 417.8h0M415.4 429.8h0M419.4 417.5h0M406.4 424h0M410.1 421.7h0M406.9 418.8h0M410.5 421.5h0M427.4 429.8h0M411.9 423.8h0M409.1 420.1h0M407 426.4h0M409.2 415.6h0M416.5 416.3h0M405 418.7h0M418.4 415.3h0M418.8 427.9h0M416 427.4h0M423.1 415.3h0M411.2 430.5h0M404.6 421h0M417 433.2h0M408.5 421.4h0M415.2 426.6h0M414.3 417.9h0M412.9 419h0M413.3 424.3h0M411.3 427.3h0M417.3 412.3h0M415.4 429h0M405.5 424.3h0M407.6 422.9h0M418.1 419h0M417.8 420.2h0M409.7 423.6h0M402.5 423.6h0M417.6 427.5h0M409.1 433.6h0M414.2 423.6h0M421.9 425.7h0M414.1 430.4h0M421.1 418.8h0M413.3 427.2h0M424.8 418.6h0M402.3 429.8h0M406.4 420.3h0M416.6 423.8h0M402.6 429.9h0M400.8 418.7h0M416.3 413.6h0M413 423h0M413.5 417.8h0M413.7 425.3h0M413.9 422.6h0M426.3 423.4h0M412.8 430.3h0M414.4 422h0M423.1 415.8h0M406.5 413.4h0M416.5 415.3h0M417.4 414.6h0M415 420.3h0M411.5 428.8h0M400.5 424.9h0M413.6 424.5h0M420 425.4h0M408.7 418h0M418.6 421.3h0M419.1 425.3h0M408.3 417.1h0M406.3 427.7h0M420.5 427.3h0M404.1 434.6h0M408.5 422.3h0M416.6 428.7h0M417.8 426h0M410.8 435.1h0M418.7 422h0M415.3 417.8h0M418.3 418h0M402 424.3h0M411.2 418.5h0M404.8 422.4h0M414.6 428.9h0M409.3 421.7h0M405.1 424.9h0M402.4 426.2h0M413.3 428.5h0M418.8 423.6h0M415.2 427.1h0M409.5 427.2h0M414.2 427.3h0M420.4 419.3h0M414 428.9h0M407.4 425.9h0M414.2 431h0M421.3 420.7h0M422.5 413.1h0M412 415.9h0M417.4 418.8h0M420.3 419.1h0M419.8 425h0M411.7 428.9h0M408.7 428.8h0M417.7 413.8h0M406 428h0M405.5 418.1h0M411.4 419.1h0M400.7 427.9h0M413.7 420.3h0M406.9 423.7h0M405.5 423h0M404.1 426.9h0M408.3 420.7h0M405.6 427.1h0M415 422.9h0M404.1 422.8h0M412.7 426.5h0M416.2 424h0M416.6 421.5h0M413.4 430.9h0M404.7 426.3h0M413.7 420.3h0M404.8 424.6h0M420.4 425.5h0M408.6 425.4h0M417.6 423.7h0M413.6 417.8h0M411 428.1h0M419.4 429.8h0M408.8 429.8h0M406.5 422h0M406.8 431.3h0M413.2 424.6h0M419.4 412h0M416.3 423.4h0M409.2 426.1h0M419 418.4h0M416.3 429.8h0M419.8 416.8h0M409.2 424.9h0M414.8 412.8h0M415.5 427h0M415.1 425.4h0M402.8 427.9h0M417.8 425.9h0M418 425.8h0M411.8 422.7h0M405.2 433.2h0M412.3 428.5h0M420.6 417.2h0M412.9 416h0M407.8 420h0M403.5 427.7h0M405.9 421.5h0M402.5 416.2h0M419.9 416.4h0M406.8 425.3h0M423.2 421.8h0M408.8 425.6h0M414.4 419.3h0M425.1 419.6h0M414.8 415.8h0M403.5 427.9h0M411.6 419.5h0M405.7 420.5h0M412.5 418.2h0M412.4 416.8h0M416.6 425.6h0M407.4 412.1h0M398.2 420.6h0M417.3 421.5h0M408.6 421.7h0M410.2 422.1h0M419.1 413.2h0M402.9 426.2h0M405.1 422.9h0M408.2 425.7h0M409.8 419.4h0M414 427.6h0M403.2 424.7h0M403.8 419.8h0M417.2 428.8h0M412.5 425h0M411 420h0M412.5 424.1h0M414 425.2h0M406.8 428.3h0M417.7 426.9h0M405.3 424.1h0M415.4 423.4h0M417.9 426.8h0M411 404h0M399.5 439h0" stroke="#14589a" stroke-width="1.75" stroke-linecap="square" fill="none"/>
<line x1="383" y1="397.9" x2="383" y2="444.6" stroke="#222" stroke-width="0.8"/>
<line x1="383" y1="444.6" x2="430.2" y2="444.6" stroke="#222" stroke-width="0.8"/>
<line x1="381.7" y1="398.4" x2="383" y2="398.4" stroke="#222" stroke-width="0.6"/>
<text x="381" y="399.95" font-size="4.4" text-anchor="end" fill="#444" style="" stroke="#444" stroke-width="0.13">15</text>
<line x1="381.7" y1="413.6" x2="383" y2="413.6" stroke="#222" stroke-width="0.6"/>
<text x="381" y="415.15" font-size="4.4" text-anchor="end" fill="#444" style="" stroke="#444" stroke-width="0.13">10</text>
<line x1="381.7" y1="429" x2="383" y2="429" stroke="#222" stroke-width="0.6"/>
<text x="381" y="430.55" font-size="4.4" text-anchor="end" fill="#444" style="" stroke="#444" stroke-width="0.13">5</text>
<line x1="381.7" y1="444.2" x2="383" y2="444.2" stroke="#222" stroke-width="0.6"/>
<text x="381" y="445.75" font-size="4.4" text-anchor="end" fill="#444" style="" stroke="#444" stroke-width="0.13">0</text>
<line x1="383.1" y1="444.6" x2="383.1" y2="445.9" stroke="#222" stroke-width="0.6"/>
<text x="383.1" y="451.1" font-size="4.4" text-anchor="middle" fill="#444" style="" stroke="#444" stroke-width="0.13">0</text>
<line x1="398.7" y1="444.6" x2="398.7" y2="445.9" stroke="#222" stroke-width="0.6"/>
<text x="398.7" y="451.1" font-size="4.4" text-anchor="middle" fill="#444" style="" stroke="#444" stroke-width="0.13">5</text>
<line x1="414.4" y1="444.6" x2="414.4" y2="445.9" stroke="#222" stroke-width="0.6"/>
<text x="414.4" y="451.1" font-size="4.4" text-anchor="middle" fill="#444" style="" stroke="#444" stroke-width="0.13">10</text>
<line x1="430" y1="444.6" x2="430" y2="445.9" stroke="#222" stroke-width="0.6"/>
<text x="430" y="451.1" font-size="4.4" text-anchor="middle" fill="#444" style="" stroke="#444" stroke-width="0.13">15</text>
<line x1="398.7" y1="429.9" x2="422.9" y2="418.5" stroke="#111" stroke-width="0.9"/>
<text x="385.5" y="403.8" font-size="4.6" text-anchor="start" fill="#333" style="" stroke="#333" stroke-width="0.14"><tspan font-style="italic">ρ</tspan>: 0.39</text>
<text x="385.5" y="408.7" font-size="4.45" text-anchor="start" fill="#333" style="" stroke="#333" stroke-width="0.13"><tspan font-style="italic">P</tspan>: &lt; 0.0001</text>
<ellipse cx="281" cy="493" rx="9.45" ry="5.94" fill="#c6c6c6" transform="rotate(-25.11 281 493)"/>
<path d="M276.3 496h0M270.4 497.4h0M275.4 488.7h0M278.9 495.8h0M275.1 485.7h0M268.8 497.3h0M287.8 494.2h0M279.3 493.3h0M281 485.6h0M285.3 488.3h0M284.8 499.5h0M277.3 488.7h0M292.6 491.5h0M278.6 501.1h0M274.7 488.4h0M281.9 493.3h0M282.4 491.8h0M269.7 492h0M278.8 490.7h0M289.6 496h0M285.2 490.7h0M282 493.4h0M281.8 491.8h0M280.6 485.4h0M281.4 490.7h0M270.9 491.3h0M278.6 495.3h0M268.9 491.1h0M279.9 496.8h0M283 492.4h0M282.2 492h0M281.1 499.4h0M279.5 494.1h0M279.7 490.7h0M284.9 498.4h0M280.4 489.5h0M283.3 490h0M273.7 496.2h0M285 491.9h0M293.2 493.6h0M275.9 491.3h0M278.2 489.7h0M273.2 496.2h0M288 483.3h0M289.8 494.7h0M274.6 495.3h0M281.2 489.7h0M290 486.1h0M281.5 489.4h0M279.2 490.6h0M278.4 492.2h0M271.1 493.4h0M275.1 498.8h0M273.2 496.2h0M291 491.9h0M279.6 485.2h0M286.5 496.3h0M276.9 496.2h0M276.8 491.8h0M295.9 489.2h0M278.7 489.3h0M283.9 498h0M275.2 489.2h0M271.3 499.6h0M275.5 490.9h0M272.9 498.8h0M279.1 491.2h0M276.7 494.1h0M274.8 486.6h0M288.9 493.5h0M275.4 489.9h0M289.7 484.3h0M288.9 495.8h0M277.6 486.6h0M282.7 495.2h0M283.1 493.3h0M280.9 495.6h0M283.9 486.9h0M273.9 496.6h0M289.6 486.6h0M274.2 489h0M282 492.7h0M283.7 495.5h0M276.3 486.2h0M282.1 490h0M274 494.2h0M280.9 485.6h0M275.3 496.4h0M280.8 500.5h0M291.1 497.5h0M278.2 492.5h0M282.7 500.3h0M279.5 492.2h0M275.3 494.9h0M274.1 492.8h0M275.5 503.4h0M285 489.4h0M286.1 490.6h0M280.5 488.8h0M295.1 495.2h0M279.4 489.2h0M279.2 485.7h0M278.6 491.3h0M294.9 499.4h0M281.2 494.5h0M287.2 485.6h0M273.7 493.5h0M284.6 490.5h0M278.3 489.9h0M279.3 488.6h0M282.7 490.4h0M273.9 497.4h0M282.9 489.7h0M281 494.9h0M288.6 494h0M280.5 487.9h0M278.8 494.4h0M272.4 491.9h0M275.8 494.6h0M270.6 495h0M282.4 493.4h0M280.4 497.8h0M278.3 492.6h0M275.9 492.2h0M277.5 489.7h0M290.5 492h0M289.6 493.3h0M289.2 479.9h0M276.5 492.3h0M295.3 492.6h0M280.7 500.8h0M283.4 495.2h0M284 487h0M276 491.6h0M285.3 490.5h0M278.2 499.5h0M284.2 491.9h0M273.8 498h0M284.1 494.1h0M276.4 491.4h0M278.1 494.6h0M275.3 487.2h0M292.6 500.8h0M279.1 490.9h0M285.2 493.5h0M284 496.7h0M278.9 492.1h0M280.9 494h0M287.4 490.6h0M274.4 494.9h0M274.9 499.7h0M279.1 488.6h0M281.5 494.7h0M278.3 492.7h0M293.6 488.9h0M276.3 490.7h0M283.4 491.9h0M273.7 504h0M273.8 496h0M273.5 498.8h0M284.3 499.5h0M278.9 488.3h0M283.6 491.1h0M280.8 497.8h0M277.6 500.1h0M283.8 478.4h0M292.5 497.3h0M270.5 489.1h0M277.4 499.5h0M283.8 494.5h0M275.5 502.6h0M283.9 485.4h0M286.1 486.9h0M287.4 489.3h0M281.6 491.9h0M286.7 497.9h0M277.5 494.1h0M268.8 500.4h0M285.3 485h0M274.3 490.1h0M277.8 491h0M274.7 482.2h0M289.1 488.5h0M285.4 494.5h0M280.4 496.9h0M276.9 493h0M274.8 499.6h0M285.1 493.3h0M269.5 493h0M293 488.8h0M290.2 486.4h0M274.3 493.4h0M286.8 487.1h0M287.2 488h0M285 487.8h0M288.1 492.1h0M284.3 491.2h0M274.4 489.3h0M287 488.8h0M270.1 495.8h0M275.1 495.9h0M279.5 498.4h0M267.7 494.3h0M280.4 497.3h0M277.8 495h0M266.3 494.7h0M282 491.3h0M278.4 497.6h0M273.6 491.5h0M278.8 488h0M283.9 493.3h0M276.8 497h0M279.5 492.9h0M275.4 488.5h0M276.3 496.3h0M287.9 495.9h0M282.7 497.1h0M281.7 499.7h0M279.6 485.8h0M290.1 495.3h0M287.9 482.7h0M284.4 495.4h0M276.5 491h0M276.4 487.2h0M285.8 487.3h0M279.4 491.4h0M292.6 483.7h0M277.7 491.9h0M274.9 501.5h0M281.8 487.7h0M291 493.1h0M280.8 487.5h0M279.8 489.4h0M284.1 496.1h0M280.6 490.8h0M289.9 488.5h0M276.6 497.3h0M284.1 490.9h0M289.4 485h0M279.7 502.9h0M289.2 484.2h0M288.1 486h0M280.9 488.8h0M285.2 492h0M271.6 492.5h0M285 499h0M271.3 494.1h0M286.9 484.4h0M277.4 489h0M286 488.9h0M286.2 494.6h0M283.9 495.1h0M284.8 486.7h0M289.1 491.1h0M292.1 491h0M282.5 489h0M270.7 490.3h0M282.8 490.2h0M293.5 497.8h0M285.1 487.1h0M268.8 492.1h0M273.1 492.7h0M274.4 492.6h0M271.6 497.6h0M285.5 492h0M273.6 490h0M275.4 486h0M286.8 490.9h0M280.4 489.4h0M279.8 491.7h0M276.7 493.1h0M277.6 493.2h0M265.2 494h0M285.2 488.2h0M286.4 500.4h0M285 488.7h0M278.7 498.8h0M286.5 492.9h0M279.8 495.9h0M281.3 492.4h0M295 490.7h0M270.5 492.7h0M291.6 491h0M289.4 492.9h0M281.6 497.3h0M286.5 489.4h0M279.6 494.4h0M279.5 496.5h0M281.4 492.4h0M272.6 504.8h0M279.8 492.9h0M280.6 503.4h0M290.4 486.4h0M286.3 493h0M283 487h0M285.8 490.4h0M286.2 499h0M274.9 498h0M285.6 489.7h0M281.1 489h0M274.3 498h0M285 494.9h0M280.2 490.8h0M284.7 490.8h0M287.4 495.2h0M281.9 496.5h0M278.3 492.3h0M279.1 493h0M287 498.1h0M293.7 490.6h0M286.3 492.2h0M280.5 491.5h0M269.9 501.1h0M274.7 494h0M285.7 488.7h0M278.6 492.4h0M283.2 491.1h0M288.3 493.9h0M288.7 495h0M278.4 496.3h0M278.7 496h0M288 505.1h0M281.3 491.4h0M281.5 493.8h0M268.5 501.3h0M274.9 496.6h0M288.4 481.4h0M280.5 494.6h0M279.1 488.5h0M292.5 487.9h0M274.4 492.8h0M283.5 495.9h0M282.2 490h0M286.8 496.5h0M274.8 494.7h0M288.2 492h0M277.3 493.5h0M276.8 491.8h0M280.1 488.4h0M275.5 488.4h0M287.8 498.8h0M281.6 492.8h0M274.2 488.5h0M281.6 497.2h0M279.7 487.1h0M288.5 484.8h0M281.5 490.3h0M280.5 490.7h0M284.6 494h0M285.4 496.6h0M276.1 495.5h0M276.2 502.7h0M271.4 496.3h0M269.5 496.3h0M270.4 498.4h0M287.9 489.4h0M276.6 489.5h0M288.7 492.7h0M284.6 493h0M280.8 491.4h0M289.3 492.5h0M294.3 488.3h0M276.3 492.9h0M286.7 494.9h0M277.1 499.8h0M285 484.5h0M285.8 493.7h0M279.5 487.8h0M270.1 496.2h0M282.9 491.2h0M274.6 489.9h0M288.6 493.1h0M283.1 492.2h0M276.4 489.4h0M269.5 496.3h0M282.5 498.9h0M275.7 496.8h0M276 492.8h0M279.4 498.8h0M286.5 493.7h0M273.9 491.5h0M267.2 491.9h0M280.3 484.7h0M270.2 489.6h0M282.8 491.7h0M290.1 489.2h0M277.8 500.3h0M277.2 495.8h0M286.9 491.1h0M291.3 488.6h0M273.4 497.1h0M281.8 489.2h0M281.4 496.7h0M278.4 493.9h0M281.9 498.8h0M277.3 496.3h0M279.4 491.7h0M278.6 488h0M273.1 505h0M285.1 498.3h0M273.6 497.1h0M274.1 491.8h0M287.4 487.8h0M274.7 491.9h0M280 489.8h0M271.9 503.6h0M270.9 488.2h0M278.1 497.2h0M273.7 484h0M292.2 483.6h0M278.9 489.6h0M275.9 493.6h0M276.4 496.7h0M285.6 490h0M278 491h0M284.7 495.4h0M273.2 499.1h0M283.9 489.4h0M275.3 496.1h0M275 497.7h0M285.2 495.8h0M273.3 488.4h0M278.8 501h0M284.3 487.9h0M286.2 503.8h0M279.5 498.4h0M278.8 493.2h0M280.4 493.2h0M271 501h0M289.6 493.4h0M273.7 489h0M272.6 498.4h0M283 492.3h0M277.4 494.7h0M290.6 489.4h0M283.4 496.4h0M277.8 488.8h0M276 492.3h0M286.4 494.8h0M275.2 502.2h0M290.6 490.2h0M281.1 487.7h0M276.4 498.6h0M277.3 489.3h0M292.7 501.2h0M277.3 494.2h0M285.1 495.6h0M290.1 483.4h0M275.3 497.1h0M292.8 485.6h0M274 504.8h0M284.3 488.6h0M282.6 490.9h0M277.1 493h0M272 494.2h0M283.7 494.4h0M283.7 497.9h0M291.7 488.2h0M266.5 495.5h0M284.3 493.9h0M279.1 489.4h0M280.6 494.5h0M273.1 498.8h0M278.8 493.1h0M274.3 508.9h0M281.7 484.2h0M283.1 489.6h0M281.7 497.9h0M278.5 488.7h0M277.3 503.3h0M280.9 493.5h0M283.2 498.8h0M269 496.1h0M284.1 496.2h0M287.3 495.3h0M281.5 503.9h0M285.7 490.3h0M278.2 488.4h0M279.8 494.9h0M278 494.7h0M276.9 501.3h0M293.9 489.9h0M285.1 485.7h0M279.3 489.3h0M289.4 484.9h0M280 491.6h0M281.5 495.5h0M291.2 484.9h0M286.6 490.9h0M276.2 498.5h0M273.5 488.8h0M287.7 484.5h0M286.5 486.3h0M279.6 498.3h0M269 495.8h0M291.7 494.1h0M276.9 489.6h0M277.3 491.8h0M287.9 489.4h0M284.5 490.5h0M282.3 492.2h0M293.8 489.8h0M284.9 482.1h0M278 487.6h0M275.4 500.7h0M291.3 489.5h0M284.5 493.4h0M280.9 498.7h0M284.2 497.3h0M284.3 488.7h0M281 489.9h0M281.3 495.6h0M292.7 490.2h0M288 496.9h0M288.1 497.3h0M282.4 484.2h0M278.6 489h0M291.9 494.3h0M283.8 483.1h0M281.5 490.9h0M290.6 492.7h0M290.8 485.2h0M282.3 505.9h0M279.8 497.5h0M280.2 501.1h0M283.6 488.4h0M277.3 504.1h0M270.1 491.8h0M282.9 492.7h0M274.2 497.7h0M287.2 487.9h0M270.3 501h0M274.6 493h0M277.2 496.4h0M290.9 492.2h0M291.1 485.8h0M291.1 493.3h0M281.5 499.1h0M276.4 498.5h0M277.7 491.8h0M279.4 494.5h0M286.1 486.7h0M278.7 486.8h0M279.3 493.9h0M270.4 502.7h0M260.7 489.7h0M281.6 499.4h0M291.6 486.9h0M275.8 490.2h0M285.5 485.2h0M281.5 491.4h0M285.2 493.7h0M278.3 488.3h0M272.8 497.4h0M289.8 497.1h0M290.4 489h0M284.9 488.8h0M277 495.2h0M272.7 488.7h0M277.7 492.6h0M287.7 465.8h0M263.5 508.5h0" stroke="#c6c6c6" stroke-width="1.4" stroke-linecap="square" fill="none"/>
<line x1="254.4" y1="463.8" x2="254.4" y2="510.6" stroke="#222" stroke-width="0.8"/>
<line x1="254.4" y1="510.6" x2="301.8" y2="510.6" stroke="#222" stroke-width="0.8"/>
<line x1="253.1" y1="464.3" x2="254.4" y2="464.3" stroke="#222" stroke-width="0.6"/>
<text x="252.4" y="465.85" font-size="4.4" text-anchor="end" fill="#444" style="" stroke="#444" stroke-width="0.13">15</text>
<line x1="253.1" y1="477.9" x2="254.4" y2="477.9" stroke="#222" stroke-width="0.6"/>
<text x="252.4" y="479.45" font-size="4.4" text-anchor="end" fill="#444" style="" stroke="#444" stroke-width="0.13">10</text>
<line x1="253.1" y1="491.5" x2="254.4" y2="491.5" stroke="#222" stroke-width="0.6"/>
<text x="252.4" y="493.05" font-size="4.4" text-anchor="end" fill="#444" style="" stroke="#444" stroke-width="0.13">5</text>
<line x1="253.1" y1="505.4" x2="254.4" y2="505.4" stroke="#222" stroke-width="0.6"/>
<text x="252.4" y="506.95" font-size="4.4" text-anchor="end" fill="#444" style="" stroke="#444" stroke-width="0.13">0</text>
<line x1="260.3" y1="510.6" x2="260.3" y2="511.9" stroke="#222" stroke-width="0.6"/>
<text x="260.3" y="517.1" font-size="4.4" text-anchor="middle" fill="#444" style="" stroke="#444" stroke-width="0.13">0</text>
<line x1="273.9" y1="510.6" x2="273.9" y2="511.9" stroke="#222" stroke-width="0.6"/>
<text x="273.9" y="517.1" font-size="4.4" text-anchor="middle" fill="#444" style="" stroke="#444" stroke-width="0.13">5</text>
<line x1="288.1" y1="510.6" x2="288.1" y2="511.9" stroke="#222" stroke-width="0.6"/>
<text x="288.1" y="517.1" font-size="4.4" text-anchor="middle" fill="#444" style="" stroke="#444" stroke-width="0.13">10</text>
<line x1="301.4" y1="510.6" x2="301.4" y2="511.9" stroke="#222" stroke-width="0.6"/>
<text x="301.4" y="517.1" font-size="4.4" text-anchor="middle" fill="#444" style="" stroke="#444" stroke-width="0.13">15</text>
<line x1="260.7" y1="501.4" x2="292.8" y2="485.7" stroke="#111" stroke-width="0.9"/>
<text x="257" y="469.6" font-size="4.6" text-anchor="start" fill="#333" style="" stroke="#333" stroke-width="0.14"><tspan font-style="italic">ρ</tspan>: 0.45</text>
<text x="257" y="474.5" font-size="4.45" text-anchor="start" fill="#333" style="" stroke="#333" stroke-width="0.13"><tspan font-style="italic">P</tspan>: &lt; 0.0001</text>
<ellipse cx="347.5" cy="486.5" rx="8.37" ry="5.13" fill="#f2a274" transform="rotate(-20.32 347.5 486.5)"/>
<path d="M350 485.7h0M341.5 491.2h0M348.1 484.7h0M347 493.5h0M345.5 485.5h0M350.9 477.9h0M344.5 486.9h0M345.8 479h0M349.3 485.9h0M345.5 490h0M349.1 490.9h0M347.9 479.5h0M347.2 493h0M347.4 483.6h0M346.7 479.8h0M341.7 490.8h0M343.7 489.8h0M353.5 482.7h0M340 489.1h0M343.7 483.3h0M352.5 475.4h0M351.4 486.2h0M340.3 493.7h0M349.3 479.8h0M342.4 491.3h0M346.6 490.4h0M352.6 480.8h0M354.3 489.5h0M343.5 481.9h0M342.3 489.9h0M355.8 479.7h0M341.7 483.3h0M349.6 488.2h0M345.4 486.9h0M347.7 490.9h0M346.8 485.5h0M348.4 489.5h0M355.2 482.8h0M350.2 489.4h0M344.1 490.4h0M342.8 478.5h0M343.9 484.1h0M354.3 480.9h0M353.5 490.9h0M339.1 486h0M355.4 490.3h0M350.9 486.3h0M353.4 493.6h0M345.2 483.2h0M355.9 477.9h0M347.5 486.1h0M351.1 486.5h0M350.9 485.7h0M342.2 488.9h0M349.9 485.8h0M349.6 475.1h0M350.7 483.1h0M339.5 495.8h0M347.5 482.5h0M343.4 487.3h0M334.9 490.2h0M358.2 484.6h0M354.2 487.4h0M343.1 485.5h0M350.9 489.6h0M356.3 477.4h0M344.6 496.5h0M349.4 488h0M339.9 496.7h0M346.7 486.7h0M350 490h0M347.3 485.2h0M345.6 484.2h0M348.6 495h0M339.3 492.9h0M358.2 484.2h0M344.6 490.5h0M349.3 488.7h0M351.3 477.9h0M352.1 488.4h0M341.9 492.7h0M356.3 484.1h0M362.2 491.4h0M348.6 485.6h0M350.3 479.8h0M348.3 487.7h0M352.8 487.3h0M335.8 488.8h0M348.8 482.6h0M349.4 479.2h0M354.9 490.2h0M338.1 488.2h0M347.2 490.7h0M340.4 495.3h0M351.3 486.5h0M339.8 491.5h0M336.2 488h0M351.3 486.4h0M341 485h0M339.2 491.5h0M344.1 484.3h0M354.5 493.4h0M346.8 486.5h0M340.7 487.5h0M345.9 487.6h0M349.8 489.2h0M348.5 475.7h0M344.7 487.6h0M351.7 482.3h0M349.4 483.1h0M349.4 493.6h0M353.8 485h0M348.3 487.3h0M348.7 485.3h0M340.4 485.1h0M351.9 487.7h0M355.3 480.7h0M348.2 484.9h0M347.7 477.7h0M342.9 480.3h0M354 480.5h0M341.1 488.9h0M352.5 486.2h0M347.6 487.4h0M356.5 486.6h0M359.3 484.8h0M355.8 485.6h0M336 489.3h0M356.6 481.6h0M344.3 487.5h0M354.1 489.5h0M347.1 491.9h0M350.6 485.2h0M342.2 490.2h0M349.9 489.1h0M343.8 490.3h0M353.2 486.1h0M358.2 482.1h0M352.5 482.1h0M357.8 483.7h0M349.5 487.3h0M340.5 495h0M346.5 479.3h0M349.6 494h0M342 490.7h0M345.9 488.7h0M346.3 488.2h0M358.9 483.3h0M347.6 483.6h0M340.5 485.6h0M343.8 485.1h0M352.5 493.6h0M358.8 491.1h0M336.5 483.9h0M346.1 485.9h0M338.5 485.9h0M351.4 489.3h0M347.4 489.2h0M353.8 491h0M348.1 489h0M339 485.9h0M348.2 486.1h0M349.6 482.7h0M360.1 487.8h0M355.5 486h0M347.3 494.6h0M344.9 488.2h0M346.7 487.2h0M351.9 485.8h0M346.4 482.7h0M343 485.6h0M336.9 491.1h0M337.5 490.8h0M353.3 493.6h0M341.1 487.9h0M340.7 484.3h0M351.4 482.3h0M346.4 483h0M342 488.2h0M355.7 481.4h0M345.5 490.7h0M348.1 488.1h0M347.7 492.1h0M341.5 491h0M345.9 482.8h0M353.5 476.3h0M341.5 486.5h0M348.8 483.8h0M340.9 490.6h0M334.1 487.9h0M340.1 483.7h0M350.6 490.9h0M344.1 490.5h0M350.4 493.9h0M353.4 483.3h0M349.8 484.6h0M357.2 489.7h0M348.2 489.9h0M348.2 495h0M354.6 483.8h0M352.7 486.3h0M350.3 478h0M344.3 487.4h0M344.2 484.1h0M353.9 488.5h0M355.8 488.2h0M340.3 483.5h0M345.4 482.7h0M342.3 490.9h0M350 488.8h0M333.8 487.7h0M347.5 489.3h0M342.7 486.9h0M353.7 481.1h0M341.5 491.6h0M352.8 475.6h0M348.4 486.4h0M344.6 488.9h0M342.4 494.1h0M342.7 491.2h0M347.2 486.8h0M356.9 485.3h0M341.4 489.9h0M342.5 481.4h0M339.3 493.4h0M351.7 492h0M351.9 490.3h0M353.9 484.2h0M336.4 492.9h0M356.2 483h0M346.2 491.5h0M345.3 482.2h0M353.8 485.6h0M347.6 490.1h0M348.9 490.8h0M343 487.1h0M358.5 477.7h0M341 492.1h0M348.6 491h0M339.6 491.8h0M341.4 485.9h0M356.3 480.5h0M343.5 486.7h0M338.3 487.9h0M351.9 490.3h0M351.1 488h0M342.9 495.2h0M343 487.2h0M347.2 490.4h0M351.7 490.5h0M359.3 480.4h0M354.4 483.3h0M349.1 491h0M341.4 486.9h0M342.9 479.8h0M351.2 484.8h0M343.1 490.8h0M342.3 494.7h0M351.8 488.7h0M354 482.5h0M354.3 479.8h0M348 491.3h0M346.4 492.4h0M339.4 481.5h0M344.6 496.4h0M340.1 485.2h0M337.4 491.3h0M354 480.7h0M346.4 490.4h0M339.1 491.7h0M355.5 479.8h0M345.6 482.1h0M333.8 486.6h0M346.2 486.7h0M341.8 489h0M354.6 484.4h0M356.7 491.1h0M350.4 484.9h0M347.8 489.4h0M345.1 487.8h0M347 485.3h0M353.2 486h0M344.5 489.6h0M345 484.1h0M339.2 490h0M351.8 488.9h0M348.9 489.1h0M354.1 483.6h0M342.4 481.1h0M346.3 487.9h0M341.5 484.8h0M351.2 488.8h0M352.4 487.5h0M350.5 480.5h0M355.5 488.3h0M345.6 485.6h0M347.2 487.2h0M355.5 483.8h0M345.2 487.7h0M353.9 483.8h0M344.7 492.3h0M351.1 493.2h0M359.8 484h0M353.9 486.4h0M344.5 483h0M336.3 485.2h0M348.2 488.2h0M349.6 492.8h0M348.4 487.3h0M340.9 490.3h0M348.6 477.7h0M356.5 485.7h0M339.9 493.4h0M344.4 493.4h0M343.7 487.5h0M339 478.3h0M347.2 488.1h0M344.7 492.1h0M337.2 487.3h0M338.6 482.5h0M357.4 485.1h0M358.8 479.3h0M345.6 492.6h0M341.6 495h0M350.7 485.4h0M345.8 488.5h0M342.1 485.1h0M345.3 489.5h0M351.3 484.1h0M350.8 488.7h0M345 480h0M338.2 491.8h0M345.7 486.4h0M346 486.6h0M353.5 487.6h0M346.9 490.2h0M344.9 489.8h0M354.6 485.1h0M353.9 480.8h0M352.3 482.1h0M345.4 481.7h0M354.9 477h0M359.5 490.5h0M345.7 489.7h0M347.6 495.1h0M349 488.6h0M347.5 483.5h0M354.5 484.2h0M345.5 488.3h0M344.5 494.9h0M348.4 485.9h0M342 486.6h0M343.2 485.7h0M336.5 487.9h0M355.7 489.1h0M348 491.1h0M346 484.2h0M356 491.5h0M350.2 491.9h0M352.8 481.3h0M343.5 489.7h0M347.9 494.7h0M348.1 484.8h0M341 487.2h0M348.9 483.2h0M350.4 481.5h0M346 491.3h0M353.6 483h0M346.2 485.6h0M349.3 482.8h0M348.4 490.6h0M352.2 485.3h0M344.3 484.2h0M343.7 486.3h0M360.5 484.5h0M360 482.8h0M332.8 485.3h0M343 491.7h0M347.3 483.9h0M348.3 484.3h0M344.8 491h0M341.4 486.1h0M343 484.3h0M356.3 484.8h0M347 485.7h0M348 489.6h0M346.9 489.1h0M355.1 484.3h0M356.8 480h0M342.8 489.9h0M348.7 489.5h0M340.8 491.2h0M351.1 488.4h0M350.3 477.5h0M340.2 493h0M355.5 486.9h0M337.2 484.2h0M349.9 488.4h0M350.7 485.2h0M358.3 482.1h0M354.5 487.6h0M339 492.6h0M354.4 482.2h0M348.9 486.4h0M358.1 490.8h0M346.1 487.5h0M340.9 492.6h0M358.7 481h0M340.3 487.9h0M357.9 478.9h0M340.3 489.5h0M345 488.1h0M346.2 489.4h0M344.2 485.6h0M347.3 488.8h0M335.9 492.9h0M361.3 489.9h0M356.2 487.3h0M352.1 483.3h0M347 486.6h0M346.4 486h0M345.7 484.6h0M344.7 484.7h0M356.4 483.6h0M344.1 483.5h0M351.3 491.9h0M344.5 481.2h0M350 484.8h0M344.6 481.1h0M341 492h0M339.5 488.6h0M349 484.9h0M344.6 490.5h0M346.2 487.3h0M347 487.9h0M343.1 484.9h0M352 492.3h0M353 480.6h0M346.5 489.8h0M352.1 482.5h0M343.5 483.9h0M343.4 484.3h0M351.5 487h0M348.7 484.5h0M354.9 478.3h0M353.3 481h0M345.2 484.8h0M344.3 488.9h0M341.7 484.8h0M348.3 485.5h0M351.5 478.1h0M346.7 480.6h0M359.4 482.2h0M345.7 489.5h0M341.4 491.2h0M356.8 479.9h0M337.9 491.6h0M349.7 482.9h0M341.7 489.7h0M352.6 485.9h0M345.5 492.9h0M334.5 492.9h0M345.1 489.8h0M345.1 491.7h0M350.7 486h0M350.2 480h0M352 485.6h0M343.7 482.6h0M349.8 483.6h0M352.1 487h0M341.9 481.8h0M339.3 481.1h0M354.1 483.2h0M354.3 480.6h0M342.8 492.4h0M347.7 485h0M344.4 485.5h0M342.2 484.5h0M351.5 482.4h0M347.2 490.5h0M349.2 480.9h0M347.7 483.6h0M342.8 494.7h0M339.5 487.2h0M346.4 485h0M340.3 485.5h0M350.9 491.2h0M350.3 488.1h0M337.6 487.9h0M337.4 491.5h0M348 493.4h0M342.5 488.1h0M358.1 485.7h0M342.7 493.2h0M348.7 491.2h0M340.8 482.8h0M341.7 485.4h0M349.9 485.2h0M354.5 478.8h0M349.1 493.4h0M345.7 492.7h0M351.4 487.9h0M346 485.4h0M346.9 492.2h0M342 490.5h0M346 490.9h0M358.1 486.7h0M347 484.6h0M350.8 488.8h0M346.4 487.9h0M337.3 492.2h0M347.4 483.4h0M355.6 474.3h0M358.5 481.4h0M353.4 489.9h0M355.4 484.9h0M348.7 479.8h0M345.4 489.6h0M343.4 484.4h0M335.5 483.6h0M346.6 495.6h0M342.5 482.6h0M343.9 478.7h0M342.5 491.5h0M344.7 487.1h0M348.9 485.7h0M345.4 485.2h0M340.4 488.8h0M347.3 484.9h0M349.3 477.7h0M348.6 483.6h0M360.1 486.3h0M351.9 476.4h0M345 480.6h0M343.3 485.9h0M346.8 484.6h0M344.5 491.4h0M348.8 488.9h0M352.4 487.7h0M357.3 485h0M350.6 494h0M352.4 484.7h0M348.9 479.8h0M339.5 482.4h0M345.1 486.6h0M350.6 488.4h0M338.4 484.9h0M339.4 488.5h0M352.1 486.4h0M345.6 488h0M348.4 477.5h0M350.5 485h0M342.8 486.8h0M352 492.5h0M350.5 482.7h0M350.7 484.2h0M341.6 484.1h0M348.3 483.6h0M335 479.9h0M354.1 490h0M336 509.5h0" stroke="#f2a274" stroke-width="1.4" stroke-linecap="square" fill="none"/>
<line x1="318.2" y1="463.8" x2="318.2" y2="510.6" stroke="#222" stroke-width="0.8"/>
<line x1="318.2" y1="510.6" x2="365.6" y2="510.6" stroke="#222" stroke-width="0.8"/>
<line x1="316.9" y1="464.3" x2="318.2" y2="464.3" stroke="#222" stroke-width="0.6"/>
<text x="316.2" y="465.85" font-size="4.4" text-anchor="end" fill="#444" style="" stroke="#444" stroke-width="0.13">15</text>
<line x1="316.9" y1="477.9" x2="318.2" y2="477.9" stroke="#222" stroke-width="0.6"/>
<text x="316.2" y="479.45" font-size="4.4" text-anchor="end" fill="#444" style="" stroke="#444" stroke-width="0.13">10</text>
<line x1="316.9" y1="491.5" x2="318.2" y2="491.5" stroke="#222" stroke-width="0.6"/>
<text x="316.2" y="493.05" font-size="4.4" text-anchor="end" fill="#444" style="" stroke="#444" stroke-width="0.13">5</text>
<line x1="316.9" y1="505.4" x2="318.2" y2="505.4" stroke="#222" stroke-width="0.6"/>
<text x="316.2" y="506.95" font-size="4.4" text-anchor="end" fill="#444" style="" stroke="#444" stroke-width="0.13">0</text>
<line x1="324.1" y1="510.6" x2="324.1" y2="511.9" stroke="#222" stroke-width="0.6"/>
<text x="324.1" y="517.1" font-size="4.4" text-anchor="middle" fill="#444" style="" stroke="#444" stroke-width="0.13">0</text>
<line x1="337.6" y1="510.6" x2="337.6" y2="511.9" stroke="#222" stroke-width="0.6"/>
<text x="337.6" y="517.1" font-size="4.4" text-anchor="middle" fill="#444" style="" stroke="#444" stroke-width="0.13">5</text>
<line x1="351.2" y1="510.6" x2="351.2" y2="511.9" stroke="#222" stroke-width="0.6"/>
<text x="351.2" y="517.1" font-size="4.4" text-anchor="middle" fill="#444" style="" stroke="#444" stroke-width="0.13">10</text>
<line x1="364.7" y1="510.6" x2="364.7" y2="511.9" stroke="#222" stroke-width="0.6"/>
<text x="364.7" y="517.1" font-size="4.4" text-anchor="middle" fill="#444" style="" stroke="#444" stroke-width="0.13">15</text>
<line x1="333.2" y1="492" x2="360.3" y2="482" stroke="#111" stroke-width="0.9"/>
<text x="320.8" y="469.6" font-size="4.6" text-anchor="start" fill="#333" style="" stroke="#333" stroke-width="0.14"><tspan font-style="italic">ρ</tspan>: 0.46</text>
<text x="320.8" y="474.5" font-size="4.45" text-anchor="start" fill="#333" style="" stroke="#333" stroke-width="0.13"><tspan font-style="italic">P</tspan>: &lt; 0.0001</text>
<ellipse cx="410.5" cy="480.5" rx="5.62" ry="3.01" fill="#14589a" fill-opacity="0.8" transform="rotate(-29.54 410.5 480.5)"/>
<path d="M414.1 487.9h0M422 475.5h0M422.7 472h0M409.4 474.8h0M413 477.7h0M408.6 484.5h0M415.1 473.5h0M409.2 489.5h0M414.8 485.9h0M409.1 484.8h0M404.8 489.5h0M403.2 479.6h0M411.8 488.8h0M406.8 474.9h0M409.6 479.3h0M416.3 483.5h0M409 474.8h0M410.1 474.9h0M408.1 476.4h0M411.8 479.7h0M398.7 486.9h0M401.5 486.7h0M416.9 468.1h0M409.6 476.9h0M410 474.5h0M414.5 476.8h0M406.1 491.7h0M424.5 478.7h0M416 478.9h0M402.3 479h0M409.7 483.3h0M422.2 482.7h0M414 485.6h0M409.6 479.9h0M414.6 482.4h0M405.4 484.7h0M394.9 479.7h0M402.8 484.3h0M411.2 483.7h0M412.9 485.1h0M401 487.3h0M423.3 477.2h0M397.8 483.5h0M419.9 474.8h0M408.3 472.6h0M421.4 482.7h0M413.3 482.1h0M411.1 474.4h0M411.1 476.6h0M405.4 486.3h0M407.3 487.7h0M406.1 484.5h0M395.9 484.3h0M410.6 479.8h0M415.6 471.8h0M400 482.6h0M402.7 484.1h0M404.2 492.2h0M403.6 475.3h0M407 485.2h0M407.3 483.6h0M416.3 477.4h0M407.2 482.9h0M407 485.2h0M404.7 475.9h0M405.3 478.9h0M409.4 483.3h0M419.2 476h0M411.2 488.5h0M409.7 488.9h0M402.8 486.5h0M419.3 482.3h0M414.1 476.1h0M399 482.5h0M397 483.5h0M413.3 477.3h0M417 478.2h0M409.7 483.9h0M418.9 479.2h0M405.7 487.4h0M407.5 481.4h0M406.4 479.6h0M406.8 474.3h0M402.4 483.3h0M404.7 476.6h0M410.2 475.8h0M412.9 473.3h0M411.8 483.6h0M411 476.3h0M415.1 470.3h0M416.7 480.3h0M411.3 474.5h0M405.7 483.7h0M409.9 482.3h0M409 487.2h0M420.3 470.6h0M420.4 476.2h0M414.4 473.9h0M413.2 478.3h0M411.3 474.9h0M414.5 474.1h0M405.5 488.9h0M415.2 478.8h0M407 482h0M414.8 470h0M410.1 478.9h0M405.6 478.6h0M417.3 482.2h0M419.7 479.8h0M413.1 484h0M404.3 491.4h0M416.5 475.8h0M410.4 478.8h0M403.1 491h0M420.3 481.3h0M419.2 481.3h0M419.8 482.5h0M402.6 485h0M409.8 484.2h0M407.4 480.8h0M413.4 482.4h0M418.4 474.4h0M415.5 476h0M416.4 479.8h0M409.2 477.6h0M410.4 484.6h0M411.5 484.5h0M415.8 482.7h0M414.3 470.4h0M412.4 485.1h0M412.1 489.3h0M417.4 475.2h0M401.2 480.7h0M406.2 483.6h0M403.8 481.8h0M402.7 484h0M404.1 482.1h0M409.2 477.8h0M404.4 482.5h0M417.7 477.2h0M402.8 474.7h0M400.6 490h0M414.1 479.4h0M416.1 477.9h0M419 480.6h0M409 472.5h0M411.4 484.1h0M412.4 483.2h0M398.7 491.3h0M420.9 484.4h0M416.2 487.9h0M420.5 484.6h0M405 491.3h0M413 482.9h0M405.1 475.3h0M410.1 474.9h0M422.3 472.9h0M411.1 484.7h0M415.8 472h0M411.4 479.5h0M421.5 471.2h0M413.3 470.4h0M426.2 475.6h0M417.3 486.8h0M409.1 474.1h0M416.5 480.2h0M420.1 483h0M403.7 480.1h0M410.2 484.1h0M401.4 485.9h0M417.3 473.2h0M418.7 482.7h0M403.6 484.8h0M405.4 481.3h0M424 470.4h0M394.5 477.7h0M410.6 475.5h0M416.6 477.5h0M416.8 476.8h0M414.7 468h0M411.2 480.3h0M403.1 482.9h0M410.5 474.5h0M406.8 484.3h0M410.9 483.4h0M411.3 485.8h0M407.6 479.4h0M400.2 486.5h0M409.2 482.4h0M406.6 479.2h0M408.6 478.4h0M407.6 480.8h0M420.9 482.3h0M405.9 485.6h0M417.7 479.3h0M411 490.2h0M418.6 479h0M406 479.8h0M403.5 483.2h0M409 482.4h0M414.8 484.8h0M418.4 471.8h0M405.1 483.3h0M415.4 476.2h0M414.3 474.7h0M420.6 483.2h0M402.8 478.3h0M408.3 483.4h0M416.2 477.4h0M410.4 484.2h0M393 505h0M398.7 503.4h0M403 500.5h0M400 502.5h0" stroke="#14589a" stroke-width="1.75" stroke-linecap="square" fill="none"/>
<line x1="383" y1="464.5" x2="383" y2="510" stroke="#222" stroke-width="0.8"/>
<line x1="383" y1="510" x2="430.2" y2="510" stroke="#222" stroke-width="0.8"/>
<line x1="381.7" y1="465" x2="383" y2="465" stroke="#222" stroke-width="0.6"/>
<text x="381" y="466.55" font-size="4.4" text-anchor="end" fill="#444" style="" stroke="#444" stroke-width="0.13">10</text>
<line x1="381.7" y1="483.6" x2="383" y2="483.6" stroke="#222" stroke-width="0.6"/>
<text x="381" y="485.15" font-size="4.4" text-anchor="end" fill="#444" style="" stroke="#444" stroke-width="0.13">5</text>
<line x1="381.7" y1="503.3" x2="383" y2="503.3" stroke="#222" stroke-width="0.6"/>
<text x="381" y="504.85" font-size="4.4" text-anchor="end" fill="#444" style="" stroke="#444" stroke-width="0.13">0</text>
<line x1="393" y1="510" x2="393" y2="511.3" stroke="#222" stroke-width="0.6"/>
<text x="393" y="516.5" font-size="4.4" text-anchor="middle" fill="#444" style="" stroke="#444" stroke-width="0.13">5</text>
<line x1="413" y1="510" x2="413" y2="511.3" stroke="#222" stroke-width="0.6"/>
<text x="413" y="516.5" font-size="4.4" text-anchor="middle" fill="#444" style="" stroke="#444" stroke-width="0.13">10</text>
<line x1="430" y1="510" x2="430" y2="511.3" stroke="#222" stroke-width="0.6"/>
<text x="430" y="516.5" font-size="4.4" text-anchor="middle" fill="#444" style="" stroke="#444" stroke-width="0.13">15</text>
<line x1="393" y1="489.7" x2="422.9" y2="472.6" stroke="#111" stroke-width="0.9"/>
<text x="385.5" y="469.6" font-size="4.6" text-anchor="start" fill="#333" style="" stroke="#333" stroke-width="0.14"><tspan font-style="italic">ρ</tspan>: 0.48</text>
<text x="385.5" y="474.5" font-size="4.45" text-anchor="start" fill="#333" style="" stroke="#333" stroke-width="0.13"><tspan font-style="italic">P</tspan>: &lt; 0.0001</text>
<ellipse cx="278" cy="552" rx="9.72" ry="5.13" fill="#c6c6c6" transform="rotate(-28.61 278 552)"/>
<path d="M276.3 559.9h0M285.6 544.8h0M274.6 549.4h0M280.7 554.1h0M274.5 560.9h0M281.8 558.4h0M279.9 545.4h0M271.8 556.8h0M276.4 549.3h0M283.4 550.4h0M275.2 556.2h0M275.1 562.5h0M273.4 555h0M267.8 561.2h0M284.2 550.9h0M275 560.1h0M268.8 554.4h0M268.2 554.2h0M277.2 547.2h0M287.8 549.8h0M275.7 554.7h0M277.2 550.9h0M274.3 556.8h0M286 552.7h0M282.8 553.3h0M283.8 550.4h0M276.9 557.9h0M277.2 553.7h0M288.5 549.3h0M283.8 546.8h0M282.6 544.7h0M278.3 556.4h0M280.3 549.9h0M277.7 544.1h0M280.9 550.7h0M290.8 551.4h0M276.7 548.9h0M273.5 548.1h0M273.1 545.5h0M278.9 555.1h0M278.6 557.2h0M269.8 551.1h0M275.6 549.5h0M273.9 558h0M274.8 556.2h0M282.2 549.9h0M291.5 539.3h0M290.6 550.1h0M281.2 558.3h0M277.8 549.1h0M278.9 552.2h0M271.5 550.1h0M274.1 551.1h0M271.4 545.9h0M273 557.7h0M281.9 547.8h0M273 560.2h0M278.3 550.8h0M269.3 553.7h0M285.2 551h0M274.4 552.2h0M281.1 550.8h0M283 551.1h0M278.8 558.3h0M275 550.4h0M269.7 556h0M268.4 559h0M273.4 548.6h0M277.4 554.7h0M276.5 554.6h0M283.2 552h0M275.3 552.2h0M272.5 553.8h0M273 557.9h0M284.7 553.8h0M277.1 556.1h0M268.7 558.9h0M283.3 552.5h0M277.4 548.4h0M279.9 559.8h0M281.6 548.8h0M283.7 551h0M285.9 555.2h0M277.5 556.1h0M271.9 553.2h0M287 545.6h0M278.5 550.3h0M272.7 551.3h0M287.7 543.6h0M277.3 547h0M268.2 552.1h0M283.3 549.6h0M266.2 555.9h0M284.6 542.8h0M281.7 555.4h0M282.8 544.8h0M285.4 549.3h0M271.6 555.3h0M274.3 553.3h0M280.3 552.2h0M287.3 543.3h0M270.2 556.1h0M294.6 547.1h0M276 547h0M285.3 550.5h0M276.7 545.9h0M287.1 544.6h0M274.5 551.9h0M285.6 545.9h0M281.7 549.9h0M271.5 556.4h0M265.1 550.2h0M286.2 548.5h0M281.5 556.2h0M274.2 547.7h0M274.1 549.1h0M272.9 556.9h0M285.9 551.4h0M265.4 550.5h0M269.9 550.1h0M286.5 552h0M273.4 551.6h0M282.9 552.4h0M273.4 553h0M288.5 549.9h0M280.8 549.7h0M267.2 555.5h0M278.5 549.6h0M278.2 557.4h0M275.4 550.6h0M270.3 553.2h0M274 550h0M273.3 554.6h0M270 553.4h0M284.5 544.5h0M281.9 545.4h0M267.4 551.8h0M272.1 556.8h0M279.5 549.7h0M277.7 550.9h0M271.2 558.8h0M275.4 555.2h0M285.3 549.2h0M276.9 552.2h0M281.1 549.5h0M278.5 552.8h0M271.4 547.3h0M268.8 552.8h0M265.6 558.9h0M274.3 555h0M284.2 548.9h0M282 553.6h0M265.6 557.8h0M278.3 560.6h0M273.8 558.2h0M281.7 546.4h0M274.1 548.4h0M279.2 560.7h0M279.1 550.9h0M279.9 554.1h0M273.1 559h0M275.2 549.9h0M276 552.7h0M279 550.7h0M283.9 556.4h0M281.3 555h0M277.9 544.6h0M283.6 553.4h0M268.7 550.5h0M270.6 552.1h0M277 549.1h0M273.7 548.8h0M275 547h0M264.5 552.2h0M276.2 561h0M269.8 555.6h0M270.8 548.4h0M268.2 554.6h0M282.6 546.2h0M280.2 552.7h0M281.3 548.7h0M287.7 546.6h0M279.8 550.3h0M288.1 550.1h0M284 555.5h0M274.8 555.4h0M278.3 551.6h0M281.4 546h0M284.8 552.2h0M282.1 544.5h0M281 542.8h0M278.5 544.5h0M290.1 554.3h0M281.1 550.2h0M271.9 551.7h0M280.4 554h0M279.8 544.2h0M280.6 554.6h0M272.9 547.7h0M274.6 546.8h0M285.6 549.9h0M271.7 557.2h0M282.6 554.1h0M277.3 557.6h0M264.9 556.4h0M290.5 542.8h0M279.4 551h0M273.3 546.1h0M287.1 541.4h0M277 560.2h0M268.1 551.7h0M273 561.3h0M269.5 554.4h0M274.6 544.9h0M279.2 560.1h0M273.3 548.9h0M282.3 556.4h0M278 558.1h0M270 552.4h0M275.6 552.1h0M282.1 547.7h0M278.5 547.7h0M291.2 552.5h0M269.2 547.5h0M277.3 559.7h0M281 559.6h0M284.4 551.3h0M281.4 556h0M279.8 539.3h0M293.2 548.6h0M276.9 547.1h0M288.5 543.2h0M270.1 556.3h0M285.7 550.7h0M283.9 544.2h0M274.5 550.4h0M272.5 560.9h0M279.9 546.9h0M276.5 551.3h0M280.9 549.2h0M280.5 556.9h0M274.2 556.7h0M289.9 552.1h0M286.6 552h0M291.2 548.8h0M278 552.8h0M281.6 550.6h0M279 550.7h0M275.8 552.9h0M285.4 548.4h0M279 547.3h0M282.5 552.1h0M281 551.2h0M284.6 543.9h0M277.2 550.8h0M271 561.3h0M283.3 556h0M280.7 551.1h0M273.4 549.3h0M268.6 555.4h0M269 555.6h0M272.4 560.3h0M290 546.9h0M274.2 553.1h0M295.5 551.3h0M272.6 549.1h0M283.4 549.3h0M278.8 548.6h0M283.5 550.3h0M277.2 555.6h0M288.4 545.9h0M274.9 552.5h0M280.1 553h0M276.4 548.8h0M271.6 550.7h0M283.1 553.5h0M280.7 558.9h0M270.4 554.6h0M269.9 552.5h0M283.7 553h0M277 554.5h0M275.6 546.4h0M273.1 557.6h0M292.3 548.8h0M277.7 552.7h0M280 557.4h0M276 549.1h0M273.5 561.5h0M279.3 543.3h0M274.7 546.6h0M267.5 552.9h0M274 551.5h0M264.2 556.5h0M276.6 560.9h0M271.8 554.1h0M283.7 554h0M275.7 553.1h0M281.9 555.3h0M286.8 543.1h0M273 548.8h0M278.7 555.1h0M266.3 560.7h0M275.9 550h0M271.1 554.4h0M278 553.1h0M278.1 545.5h0M277.2 556.1h0M278.8 551.7h0M277.5 551.6h0M281.5 555.2h0M278.3 558.6h0M279.9 553.6h0M281.1 545.3h0M277.6 552h0M272 559h0M273.3 551.4h0M265.7 553.4h0M276.7 556.7h0M268.2 554.3h0M277.5 550.1h0M272.5 556h0M283.4 545.1h0M268.5 548.5h0M271.3 547.5h0M275.9 554.8h0M274.5 550.5h0M268.7 547h0M275.3 555.1h0M286.4 548.9h0M282.6 550.6h0M269.7 563.6h0M270.2 552.4h0M279.2 546.7h0M276.6 554.6h0M282.2 552.3h0M286.7 555.6h0M283.4 544.1h0M279.2 550.7h0M280.2 550.4h0M273.8 551.6h0M272.6 550.8h0M280.8 548.9h0M278.6 550.6h0M287 545.2h0M285.8 545.6h0M277.4 549.5h0M268.8 555.8h0M271.3 559.2h0M272 552.7h0M277.4 551.7h0M274.7 551.7h0M267.1 557.2h0M278.5 544.3h0M275 553.5h0M277.8 555.3h0M280.8 555.4h0M277 549.8h0M271 553.6h0M274.3 550.9h0M271.6 549.5h0M272.1 550.5h0M277.5 550.8h0M278.6 554h0M278.6 556.2h0M270.1 560.5h0M285.6 546.6h0M278.8 552.8h0M277.7 551.7h0M287.9 548.8h0M280.1 552.3h0M275.5 553.6h0M279.5 560.1h0M275.4 553.8h0M273.3 553.2h0M282 552.1h0M262.4 557.3h0M275.5 548.6h0M279.1 551.8h0M272.8 550.3h0M280.9 548.9h0M271.3 559.3h0M275.6 555.8h0M276.9 555.2h0M272.9 551.6h0M276.7 550.8h0M274.1 547.3h0M269.9 552.5h0M279.7 548h0M283.8 550.1h0M284.1 557.1h0M271.5 561.1h0M276.1 552h0M278 548.9h0M275.5 557.5h0M278.7 547.7h0M277 553.8h0M269.3 552.9h0M271.7 559.1h0M270.4 548.6h0M293.6 548.8h0M276.8 552.3h0M273.8 557h0M282.1 549.7h0M289 545.1h0M281.3 551.2h0M280.7 553.6h0M281.5 547.3h0M275.7 556.4h0M281.5 546h0M263.1 557.4h0M285.1 551.9h0M277.1 552.8h0M279.3 547.6h0M277.9 556.8h0M277.6 561.1h0M270.9 558.9h0M277.4 549.5h0M282.3 552h0M272.2 554.4h0M268.3 559.5h0M286.4 555.9h0M276.1 558.5h0M268.5 554.4h0M280.7 556.9h0M278.3 548.9h0M276.1 550.7h0M273.6 556.2h0M282.8 550.7h0M272.4 555h0M278 550.9h0M289.1 548.3h0M271.1 552.2h0M289.2 546.6h0M277.2 552.4h0M276.5 562.7h0M283.4 551.1h0M267.6 558.9h0M275.5 551.9h0M279.9 553.1h0M287.4 546.4h0M277.3 553.5h0M281.8 556.9h0M272.7 549.5h0M273.1 550.5h0M278.8 552.9h0M292.1 550.2h0M281.6 551.3h0M284.6 549.4h0M276.7 554.3h0M282.8 543.8h0M275.4 561.2h0M276.6 551.5h0M277.1 558.8h0M275 554.1h0M274.5 546.3h0M273.8 559.7h0M280.3 545.5h0M281.1 550.6h0M272.7 552.3h0M271.4 561.3h0M284.3 547h0M276.1 554.8h0M281.8 549.7h0M288.5 545.9h0M275.2 561h0M272.3 551.2h0M267.4 550.6h0M284.3 539.8h0M276.3 561h0M288.4 553.5h0M277.2 550.8h0M276.5 553.9h0M287.9 547.7h0M273.9 552.9h0M280.6 548.5h0M276.2 551h0M284.6 553.2h0M282.7 553h0M277.6 550.7h0M283.1 555.5h0M287 548h0M283.1 551h0M283.9 552.4h0M273.9 554.9h0M280.3 549.8h0M281.7 551.9h0M275.5 555.7h0M282 547.9h0M279.1 547.6h0M274.3 554.6h0M286.9 547.8h0M276 552h0M280.4 549.7h0M273.6 551h0M285.3 550.6h0M290.1 546.8h0M282.8 547.4h0M274.8 546.1h0M275.6 555.8h0M278.8 550.2h0M289.1 549.5h0M283.3 548h0M274.1 556.5h0M264.8 555.9h0M271 553.8h0M282.6 544.5h0M286.6 540.7h0M273.4 553.7h0M266.9 560.6h0M279.1 550.5h0M278.6 554.6h0M267.5 553h0M273.6 553h0M273.5 550.7h0M274.1 546.4h0M283 545.7h0M286.7 545.2h0M280.2 555.4h0M276.9 552.6h0M286.7 549.7h0M281.2 545.5h0M286 549.2h0M277.9 550.8h0M275.7 555.3h0M281.1 547.4h0M276.2 562.4h0M281.8 553.9h0M270.9 560.7h0M285.3 542.5h0M273.8 556h0M282.8 551.6h0M282.7 549.2h0M260.3 551h0M283.1 543.2h0M287 544.7h0M271.9 557.2h0M290.9 547.2h0M284.4 545.5h0M288.4 548.1h0M279.1 549.4h0M278.3 550.8h0M270.3 548.6h0M276.6 550.3h0M287.6 551h0M290.8 556.4h0M273.9 552.9h0M276.2 549.5h0M282 545.7h0M275.8 550.7h0M271.4 551.9h0M270.1 553.3h0M265.9 549.8h0M278.8 551.2h0M268.3 555.3h0M270.6 558.2h0M276.2 554.3h0M284.9 550h0M277.7 553.9h0M278.9 555.4h0M281 554.5h0M263.5 571h0" stroke="#c6c6c6" stroke-width="1.4" stroke-linecap="square" fill="none"/>
<line x1="254.4" y1="530.1" x2="254.4" y2="577" stroke="#222" stroke-width="0.8"/>
<line x1="254.4" y1="577" x2="301.8" y2="577" stroke="#222" stroke-width="0.8"/>
<line x1="253.1" y1="530.6" x2="254.4" y2="530.6" stroke="#222" stroke-width="0.6"/>
<text x="252.4" y="532.15" font-size="4.4" text-anchor="end" fill="#444" style="" stroke="#444" stroke-width="0.13">15</text>
<line x1="253.1" y1="544.2" x2="254.4" y2="544.2" stroke="#222" stroke-width="0.6"/>
<text x="252.4" y="545.75" font-size="4.4" text-anchor="end" fill="#444" style="" stroke="#444" stroke-width="0.13">10</text>
<line x1="253.1" y1="558.2" x2="254.4" y2="558.2" stroke="#222" stroke-width="0.6"/>
<text x="252.4" y="559.75" font-size="4.4" text-anchor="end" fill="#444" style="" stroke="#444" stroke-width="0.13">5</text>
<line x1="253.1" y1="571.8" x2="254.4" y2="571.8" stroke="#222" stroke-width="0.6"/>
<text x="252.4" y="573.35" font-size="4.4" text-anchor="end" fill="#444" style="" stroke="#444" stroke-width="0.13">0</text>
<line x1="260.3" y1="577" x2="260.3" y2="578.3" stroke="#222" stroke-width="0.6"/>
<text x="260.3" y="583.5" font-size="4.4" text-anchor="middle" fill="#444" style="" stroke="#444" stroke-width="0.13">0</text>
<line x1="273.9" y1="577" x2="273.9" y2="578.3" stroke="#222" stroke-width="0.6"/>
<text x="273.9" y="583.5" font-size="4.4" text-anchor="middle" fill="#444" style="" stroke="#444" stroke-width="0.13">5</text>
<line x1="288.1" y1="577" x2="288.1" y2="578.3" stroke="#222" stroke-width="0.6"/>
<text x="288.1" y="583.5" font-size="4.4" text-anchor="middle" fill="#444" style="" stroke="#444" stroke-width="0.13">10</text>
<line x1="301.4" y1="577" x2="301.4" y2="578.3" stroke="#222" stroke-width="0.6"/>
<text x="301.4" y="583.5" font-size="4.4" text-anchor="middle" fill="#444" style="" stroke="#444" stroke-width="0.13">15</text>
<line x1="259.8" y1="562.7" x2="292.8" y2="544.2" stroke="#111" stroke-width="0.9"/>
<text x="257" y="535.4" font-size="4.6" text-anchor="start" fill="#333" style="" stroke="#333" stroke-width="0.14"><tspan font-style="italic">ρ</tspan>: 0.54</text>
<text x="257" y="540.3" font-size="4.45" text-anchor="start" fill="#333" style="" stroke="#333" stroke-width="0.13"><tspan font-style="italic">P</tspan>: &lt; 0.0001</text>
<ellipse cx="344.6" cy="555" rx="9.72" ry="5.27" fill="#f2a274" transform="rotate(-20.14 344.6 555)"/>
<path d="M350.5 549.5h0M343.3 549h0M341.3 554.1h0M349.3 555.5h0M349.4 548.2h0M347.6 555.1h0M339.8 559.7h0M345.8 552.5h0M338.4 552.8h0M349.9 557.9h0M337.9 558.3h0M341.6 556.8h0M356.8 558.7h0M336.3 557.3h0M337.1 562.3h0M353.1 560.2h0M349.1 551.3h0M339.1 553.9h0M350.5 549.8h0M347.1 558.1h0M352 543.8h0M352.6 555h0M341.7 557.7h0M341 555h0M347.3 553.9h0M343.5 553.3h0M334.5 557.6h0M348 549.8h0M340.4 550.2h0M353 560.2h0M345.5 550.7h0M335.6 557.2h0M355.4 549h0M338.4 553.9h0M338.1 556.3h0M349.1 557.6h0M352.8 562h0M342.9 548.4h0M346.9 558.7h0M340.4 559.9h0M350.7 550.4h0M337.1 558.6h0M342.3 553.9h0M347.9 547h0M344.1 561.2h0M359.7 552.5h0M339.2 559.8h0M344.3 562h0M337.9 562.9h0M354.6 553.4h0M343.6 556.6h0M335.1 562.9h0M342.9 560.9h0M355.3 551h0M333.2 557.9h0M347 550.4h0M356.7 551.9h0M346 552.3h0M357.2 550h0M346.6 554.8h0M341.7 553.7h0M334.7 554.7h0M334.9 558.7h0M342.3 557.8h0M337.2 556.1h0M334.6 552.5h0M335.8 557.8h0M344.8 550.9h0M341.1 552h0M345.8 556h0M338.7 559.5h0M345 553.4h0M344.1 550h0M344.2 547.8h0M337.8 554.3h0M357 549.2h0M345.8 550.2h0M341.5 559.8h0M345 552.7h0M346.7 552.3h0M338.2 559.9h0M332.2 559.8h0M341.7 556.5h0M343.2 557.1h0M347.3 559h0M348.2 558.2h0M338.9 557.8h0M348.2 547.9h0M345.8 551.8h0M347.9 550.4h0M343.2 555.8h0M345.6 560.2h0M343.6 553.9h0M346.7 553h0M351.5 549.3h0M347.2 554.4h0M338.6 564.7h0M344.7 554.1h0M335.7 558.4h0M357.1 553.1h0M342.7 555.5h0M364.3 555.6h0M342.7 553.3h0M337.4 558.6h0M357 556.2h0M355 560.4h0M348.5 556.1h0M334.9 557.1h0M363.1 551.5h0M343.9 550h0M346.4 557.6h0M350.3 550.8h0M341.7 556.5h0M354.3 547.7h0M351.6 556.6h0M343.5 558.4h0M337.8 552.2h0M344 558.6h0M335.1 550.4h0M343.9 554.9h0M352.1 545.5h0M342.5 562.6h0M359 556.5h0M342.5 557.6h0M337.5 562.9h0M352.5 551.7h0M344.5 553.4h0M344.4 559.8h0M335.2 563.4h0M345.9 555h0M341.7 558.6h0M351 557.6h0M338 556.8h0M342 556.2h0M336.2 556.2h0M346.5 556.7h0M346 552.2h0M339.1 556.2h0M348.6 550.8h0M341.3 558.8h0M343.6 553.8h0M345.6 553.6h0M345.1 564.2h0M343.6 551.4h0M352.8 551.6h0M342.3 549.6h0M330.5 561.9h0M354.8 549.3h0M342.4 557.9h0M342.3 553.6h0M348.3 554.6h0M356.3 554.7h0M333.9 558.5h0M343.3 554.7h0M342 559.5h0M344.7 557.5h0M349 548.8h0M342.4 559.5h0M347.5 554.2h0M350.7 553.2h0M333.8 552.6h0M337.6 549.9h0M340 554.6h0M354.5 551.9h0M350.7 558.5h0M354.4 554.8h0M335.3 560.2h0M335.9 551.2h0M344 560.2h0M346.2 557.4h0M346.8 552.3h0M355.8 554.7h0M348.7 553.4h0M349.2 554.1h0M355.1 552.9h0M349.7 554h0M334.7 555.6h0M343.6 558.6h0M346.1 558.2h0M343 555.4h0M358.3 548.4h0M346 555.7h0M355.9 554.1h0M341.5 557.3h0M334.6 550.3h0M346.9 552.6h0M344.6 552h0M351.4 558.6h0M355.3 552.7h0M348 554.9h0M344.2 556.3h0M343 553.4h0M338 549.3h0M358.2 549.6h0M341.1 554.1h0M349.9 549.4h0M335.7 551.8h0M353.4 552.7h0M342.9 554.8h0M332.5 550h0M349.9 551.3h0M343 556.4h0M351.8 551.9h0M338 557.8h0M353.7 552.7h0M348.7 552.5h0M342.6 553.8h0M336.9 559.4h0M342.8 551.9h0M351.9 552.9h0M337.5 552.5h0M341.6 551.5h0M352.7 549.3h0M341.7 552.6h0M350.7 554.3h0M336 551.1h0M346.1 553.5h0M345.5 555.8h0M358.7 553.7h0M344.6 556.8h0M348.4 551h0M342 557.4h0M351.5 551.9h0M350.3 555.1h0M343.7 554.3h0M348.4 555.3h0M341.3 549.9h0M337.4 564.8h0M342.3 557.1h0M341.1 561.5h0M330.7 559.9h0M341.9 556.5h0M350.1 550.6h0M338.9 564.4h0M348.8 555.9h0M334.1 560.7h0M350.6 551.3h0M353.5 551.6h0M338.4 560.7h0M336.5 554.3h0M352.2 549.4h0M344 550.8h0M348 550.3h0M347.2 551.4h0M335.5 561.3h0M337.5 556.9h0M338.4 553.7h0M336.4 559.3h0M337.4 559.1h0M347 551h0M343.1 553.4h0M351.9 548.5h0M340.3 558h0M348.7 559.4h0M353.7 551.3h0M342.9 552.9h0M344.8 553h0M349.1 554h0M334 565h0M339.3 557.1h0M339.9 557h0M349.7 554.2h0M353.2 556.6h0M344.4 562.1h0M347.5 554.3h0M345.9 553.4h0M342.3 557.1h0M346.5 555.4h0M340.6 553.4h0M331.9 556.5h0M345.8 549.6h0M344.7 554.8h0M347.6 556.9h0M337.9 566.6h0M355.9 550.8h0M337.5 547h0M358.5 553h0M331.7 557.4h0M339.4 560.3h0M339.9 555.4h0M345.4 549.6h0M347 555.7h0M340.4 543.9h0M355.3 556.6h0M336.1 554.9h0M355.4 549.2h0M352.2 545h0M349.3 549.8h0M341.7 552.8h0M335.2 552.6h0M335.2 557.5h0M360.8 553.7h0M339.3 559.9h0M336.8 551.3h0M350 548.1h0M344 555.5h0M340.3 547.6h0M339.3 549.7h0M342.6 553.9h0M350.9 553.9h0M340.7 555.5h0M342.1 555.8h0M334.5 553.6h0M342.1 553.8h0M352.8 551.8h0M343 555.8h0M343.6 553.8h0M344.8 559.9h0M333.8 561.4h0M343.6 550.7h0M353.3 553.9h0M345.1 561h0M342.5 555.1h0M342.8 557h0M343.2 554.7h0M345.4 558.5h0M347 556h0M350.9 556.9h0M337.2 565.2h0M343 554.6h0M351.3 555.4h0M356.9 552.2h0M343.3 558.6h0M340.3 558.3h0M358.1 550.7h0M349.2 557.4h0M345.7 554.2h0M333 547h0M339.3 557.5h0M349.7 550.2h0M335 551.3h0M345.5 552.9h0M351.4 548.7h0M352.9 558.5h0M351.1 557.9h0M354.3 556.2h0M349.1 549h0M339.3 554.9h0M330.1 560.8h0M349.5 550h0M348.1 551h0M343.8 551.7h0M336.9 556.8h0M357 555.3h0M339.8 554.2h0M349.4 555.1h0M343.1 557.2h0M350.9 556.7h0M340.1 554.4h0M347.4 551.1h0M337.1 552.7h0M346.3 549.5h0M337.9 558h0M339.5 553.6h0M343.6 557.5h0M345 550.2h0M343 557.2h0M350.8 551.7h0M350 553.4h0M341.1 554.8h0M342.4 564.9h0M355.4 552.6h0M338.6 564.3h0M346.8 554.5h0M343.9 549.5h0M341.3 554.7h0M342.8 551.3h0M351.3 554.2h0M348.5 559.2h0M352.8 550.9h0M350.5 549.4h0M333 558.2h0M350.5 548.3h0M342.9 559.8h0M347.9 551.4h0M349.5 551.2h0M341.9 557.6h0M357.6 552.2h0M333.9 558.6h0M355.2 548.5h0M345.9 551.2h0M343.6 556.9h0M347.4 556h0M355.5 554.7h0M357.4 546.6h0M348.9 557.8h0M346.4 563.3h0M346.5 551.1h0M354.5 551.1h0M331.6 559.8h0M335.6 561.9h0M339.1 555.1h0M350.6 552.1h0M340.5 563.3h0M349 548.8h0M351.6 544.2h0M351.3 549.9h0M348.4 546.4h0M351.5 550.5h0M348.4 547.8h0M347.5 560.5h0M352.5 552.3h0M342.7 549h0M341.3 562.3h0M351.1 554.2h0M355.7 548.7h0M345.4 549.7h0M343.3 552.4h0M347.6 556.8h0M349.8 556.4h0M346.3 556.4h0M362.4 554.2h0M335.1 562h0M359 550.7h0M356 562.1h0M348.4 558.2h0M339.7 558.1h0M345.7 553h0M346 559.7h0M351.7 556.4h0M349 554.5h0M336.1 557h0M348.9 556.2h0M336.3 559.6h0M347 558.5h0M334 559.7h0M345.1 551.7h0M334.9 564.7h0M343.5 551.8h0M345.1 553.6h0M344.6 555.6h0M355 550.4h0M344.9 553.8h0M356.7 556.1h0M352 552.3h0M338.4 551.5h0M355 555.7h0M347.9 552.6h0M341.5 555.1h0M345.7 558.5h0M337.5 557.5h0M346.7 553.8h0M343.3 558h0M349.5 553.2h0M338.6 558.9h0M339.3 555h0M343.5 555.1h0M349.2 557.9h0M333.5 558.2h0M352.8 550.5h0M344.3 555.6h0M345.7 555.7h0M344.9 548.9h0M332.4 559.5h0M341.6 556h0M341.8 553.7h0M335.8 555.5h0M346.1 549.5h0M347.6 561.7h0M351.1 557.5h0M347.5 555.2h0M337.5 563.7h0M350.8 550.8h0M342.4 557h0M349.2 555h0M345 558.9h0M345.8 558.9h0M342 556.5h0M354.3 553.8h0M353.6 554.7h0M328.1 556.3h0M336.6 550.6h0M330.1 557.9h0M357.3 553.8h0M344.7 556.3h0M340.4 558.6h0M345.4 554h0M351.8 550.7h0M344.2 558.7h0M338.2 557.8h0M341.2 552.8h0M342.9 557.8h0M335.3 555.1h0M349.6 550.3h0M342.1 546.4h0M342.5 559.4h0M344.7 552.9h0M343.1 555.8h0M347.3 558.5h0M348.3 560.3h0M341.3 555.8h0M352.5 545.3h0M349.1 553.7h0M344.8 558.7h0M339 563h0M334.1 557.7h0M348.8 551.5h0M339.4 552.1h0M352.7 554h0M348.3 554.5h0M335.3 555.9h0M346.4 547.6h0M340.9 555.8h0M335.8 548.5h0M335.8 551.8h0M340 553.9h0M342.3 549.8h0M342.3 552.1h0M341.9 556.8h0M337.8 548.2h0M334 565.4h0M344.9 553.9h0M347.6 554.3h0M349.3 555.2h0M349 551.2h0M349.2 556.9h0M343.7 554.7h0M340.5 562.2h0M348.1 555.9h0M352.6 550.3h0M348.8 551.6h0M342.2 561.1h0M343.9 558.5h0M338.1 550.3h0M338.5 557.1h0M346.2 560.6h0M357.7 553.6h0M346.2 549.3h0M341 554.1h0M345.8 549.7h0M349.8 555.3h0M340.5 552.9h0M339.3 555.1h0M337 550.8h0M330.4 560.7h0M349.7 552.7h0M337.6 558.2h0M337.3 556.8h0M352.2 554.5h0M350.4 548.3h0M340.2 554.6h0M350.1 556.5h0M345.1 546.7h0M338.8 551.2h0M336.8 554.4h0M350.6 550.2h0M351 561.5h0M349.6 554.2h0M338.1 561h0M349.7 556.4h0M357 551.9h0M343.7 556.5h0M347.9 551.4h0M349.4 557.7h0M338.4 556.4h0M338.7 559.4h0M355.5 552.8h0M349.2 554.5h0M352.2 553.2h0M333.2 564.8h0M340 573h0M352 542.5h0" stroke="#f2a274" stroke-width="1.4" stroke-linecap="square" fill="none"/>
<line x1="318.2" y1="530.1" x2="318.2" y2="576.8" stroke="#222" stroke-width="0.8"/>
<line x1="318.2" y1="576.8" x2="365.6" y2="576.8" stroke="#222" stroke-width="0.8"/>
<line x1="316.9" y1="530.6" x2="318.2" y2="530.6" stroke="#222" stroke-width="0.6"/>
<text x="316.2" y="532.15" font-size="4.4" text-anchor="end" fill="#444" style="" stroke="#444" stroke-width="0.13">20</text>
<line x1="316.9" y1="542" x2="318.2" y2="542" stroke="#222" stroke-width="0.6"/>
<text x="316.2" y="543.55" font-size="4.4" text-anchor="end" fill="#444" style="" stroke="#444" stroke-width="0.13">15</text>
<line x1="316.9" y1="553.4" x2="318.2" y2="553.4" stroke="#222" stroke-width="0.6"/>
<text x="316.2" y="554.95" font-size="4.4" text-anchor="end" fill="#444" style="" stroke="#444" stroke-width="0.13">10</text>
<line x1="316.9" y1="564.9" x2="318.2" y2="564.9" stroke="#222" stroke-width="0.6"/>
<text x="316.2" y="566.45" font-size="4.4" text-anchor="end" fill="#444" style="" stroke="#444" stroke-width="0.13">5</text>
<line x1="316.9" y1="576.5" x2="318.2" y2="576.5" stroke="#222" stroke-width="0.6"/>
<text x="316.2" y="578.05" font-size="4.4" text-anchor="end" fill="#444" style="" stroke="#444" stroke-width="0.13">0</text>
<line x1="318.4" y1="576.8" x2="318.4" y2="578.1" stroke="#222" stroke-width="0.6"/>
<text x="318.4" y="583.3" font-size="4.4" text-anchor="middle" fill="#444" style="" stroke="#444" stroke-width="0.13">0</text>
<line x1="334.1" y1="576.8" x2="334.1" y2="578.1" stroke="#222" stroke-width="0.6"/>
<text x="334.1" y="583.3" font-size="4.4" text-anchor="middle" fill="#444" style="" stroke="#444" stroke-width="0.13">5</text>
<line x1="349.8" y1="576.8" x2="349.8" y2="578.1" stroke="#222" stroke-width="0.6"/>
<text x="349.8" y="583.3" font-size="4.4" text-anchor="middle" fill="#444" style="" stroke="#444" stroke-width="0.13">10</text>
<line x1="365.4" y1="576.8" x2="365.4" y2="578.1" stroke="#222" stroke-width="0.6"/>
<text x="365.4" y="583.3" font-size="4.4" text-anchor="middle" fill="#444" style="" stroke="#444" stroke-width="0.13">15</text>
<line x1="328.4" y1="560.4" x2="358.9" y2="549" stroke="#111" stroke-width="0.9"/>
<text x="320.8" y="535.4" font-size="4.6" text-anchor="start" fill="#333" style="" stroke="#333" stroke-width="0.14"><tspan font-style="italic">ρ</tspan>: 0.61</text>
<text x="320.8" y="540.3" font-size="4.45" text-anchor="start" fill="#333" style="" stroke="#333" stroke-width="0.13"><tspan font-style="italic">P</tspan>: &lt; 0.0001</text>
<ellipse cx="412" cy="546.5" rx="4.88" ry="2.8" fill="#14589a" fill-opacity="0.8" transform="rotate(-29.98 412 546.5)"/>
<path d="M411.5 544.3h0M410.1 546.2h0M409.9 549.8h0M410.1 546.1h0M414.4 545h0M417 547.9h0M413.4 547.9h0M417.9 552.8h0M410.9 549.4h0M415.6 544.2h0M410.8 549.7h0M402.8 554.4h0M417.5 536.2h0M415.5 550h0M400.1 542.9h0M423.8 544.7h0M410.8 549.7h0M407.9 551.1h0M419.6 547.3h0M408.1 561.8h0M420.6 548.5h0M403.8 555.3h0M418.9 538.1h0M408.9 549.1h0M409.8 544.5h0M414 553.2h0M415.8 548h0M418 541.7h0M421.8 550.8h0M416 545.4h0M407.6 554h0M419.4 543.7h0M414.6 543.7h0M412.6 548.9h0M410.7 546.4h0M407.9 548.3h0M410.5 544.7h0M408.6 548.9h0M414.7 545.7h0M416.2 548.3h0M425.6 543.1h0M411.1 549.3h0M411.2 548.1h0M405.6 544.5h0M413.8 542.6h0M402.4 549.9h0M407.2 544h0M406.1 556.2h0M418.1 538.7h0M414.4 546.8h0M410.6 551.8h0M410.3 553.2h0M416.7 545.5h0M407.4 549h0M400.7 553.7h0M416.1 545.1h0M410.6 541.4h0M411.5 544.8h0M422.3 538.3h0M418.7 548.5h0M408.9 544.3h0M420.2 542.4h0M408.3 553.6h0M411.6 546.9h0M411.9 546.4h0M401.4 546.1h0M415.9 548.4h0M413.7 552.8h0M420.4 542.3h0M415.8 537.2h0M403.9 548.9h0M407.2 554.3h0M403.6 546.4h0M406 555.1h0M419.7 547.1h0M410.7 538.9h0M415.6 540h0M404.1 550.6h0M419.6 549.8h0M418 544.3h0M418.4 547.4h0M405 558.6h0M414.2 549.4h0M407.9 545.4h0M417.5 549.6h0M412.5 547.1h0M418.5 538.1h0M405.4 545.9h0M423 541.8h0M413.2 547.7h0M420.8 551.8h0M422.3 545h0M407.4 548.4h0M413 546.1h0M418.4 535.9h0M403.9 555.9h0M410 549.2h0M407.2 546.4h0M402.5 553.2h0M402.6 547.2h0M410.1 548.9h0M408.5 546.7h0M413.2 542h0M414.8 549.2h0M413.1 547h0M409.2 542.8h0M409 548.6h0M405 542.3h0M409 546.5h0M415.5 547.7h0M403.3 550.9h0M421 548.7h0M418.2 542h0M404.2 548.1h0M418 544.1h0M411.7 541h0M422.2 542.7h0M415.8 542.5h0M411.5 549.3h0M408.8 540.8h0M411.8 547h0M412.2 549.6h0M407.1 542.2h0M426.3 543h0M423.4 549.1h0M420.1 546.1h0M420 547.4h0M408.9 551h0M418.2 544.9h0M401.8 551.7h0M421.6 542.7h0M411.7 540h0M407.5 546.9h0M416.8 546.1h0M421.3 543.2h0M417.6 546.6h0M420.7 550.1h0M426.7 541.9h0M399.6 553.4h0M405.5 550.8h0M414.3 547.5h0M416.1 546.2h0M414.2 550.3h0M417.7 541.6h0M407.2 545.4h0M415.2 546.9h0M405.6 544.4h0M412.7 543.3h0M413 547.6h0M419.1 536.7h0M420.7 548.1h0M421.9 544.3h0M421.3 536.2h0M413.5 544h0M401.6 542.4h0M419.1 544.6h0M410.9 540.3h0M422.4 549.7h0M411.8 547.7h0M410.9 532.4h0M398.7 550.3h0M414.9 549.5h0M419.3 540.7h0M414.1 547.3h0M414.5 549.8h0M415.8 543.6h0M401.1 540.9h0M422.3 546.1h0M405.2 547.6h0M414 543.9h0M408.5 548.4h0M421.9 542.8h0M414.1 542.3h0M417.6 542.5h0M417.6 544.7h0M416.4 546.7h0M407.8 546.1h0M412 551.8h0M400.5 545.1h0M414.5 540h0M417.2 545.8h0M426.5 546.1h0M418.4 542.6h0M412.4 549.2h0M410.8 542.8h0M418.8 543.3h0M421.9 546.3h0M413.5 546.6h0M403.6 553.4h0M410.9 545.6h0M411.2 552.6h0M409.5 544.1h0M416.8 550.3h0M404.3 546.5h0M409.4 554.7h0M405 553.5h0M412.5 545.1h0M409.8 551h0M407 543.3h0M412.5 546h0M420 552.3h0M419.6 541.9h0M412.3 541.7h0M403.5 545.7h0M411.8 546.8h0M412 539.6h0M403.6 546h0M407.8 551.3h0M410.6 552.8h0M412 540.2h0M398 560.5h0M401.5 566h0M408 562h0M410.5 560.5h0" stroke="#14589a" stroke-width="1.75" stroke-linecap="square" fill="none"/>
<line x1="383" y1="530.1" x2="383" y2="576.8" stroke="#222" stroke-width="0.8"/>
<line x1="383" y1="576.8" x2="430.2" y2="576.8" stroke="#222" stroke-width="0.8"/>
<line x1="381.7" y1="530.6" x2="383" y2="530.6" stroke="#222" stroke-width="0.6"/>
<text x="381" y="532.15" font-size="4.4" text-anchor="end" fill="#444" style="" stroke="#444" stroke-width="0.13">15</text>
<line x1="381.7" y1="546.2" x2="383" y2="546.2" stroke="#222" stroke-width="0.6"/>
<text x="381" y="547.75" font-size="4.4" text-anchor="end" fill="#444" style="" stroke="#444" stroke-width="0.13">10</text>
<line x1="381.7" y1="561" x2="383" y2="561" stroke="#222" stroke-width="0.6"/>
<text x="381" y="562.55" font-size="4.4" text-anchor="end" fill="#444" style="" stroke="#444" stroke-width="0.13">5</text>
<line x1="381.7" y1="576.2" x2="383" y2="576.2" stroke="#222" stroke-width="0.6"/>
<text x="381" y="577.75" font-size="4.4" text-anchor="end" fill="#444" style="" stroke="#444" stroke-width="0.13">0</text>
<line x1="383.1" y1="576.8" x2="383.1" y2="578.1" stroke="#222" stroke-width="0.6"/>
<text x="383.1" y="583.3" font-size="4.4" text-anchor="middle" fill="#444" style="" stroke="#444" stroke-width="0.13">0</text>
<line x1="398.7" y1="576.8" x2="398.7" y2="578.1" stroke="#222" stroke-width="0.6"/>
<text x="398.7" y="583.3" font-size="4.4" text-anchor="middle" fill="#444" style="" stroke="#444" stroke-width="0.13">5</text>
<line x1="414.4" y1="576.8" x2="414.4" y2="578.1" stroke="#222" stroke-width="0.6"/>
<text x="414.4" y="583.3" font-size="4.4" text-anchor="middle" fill="#444" style="" stroke="#444" stroke-width="0.13">10</text>
<line x1="430" y1="576.8" x2="430" y2="578.1" stroke="#222" stroke-width="0.6"/>
<text x="430" y="583.3" font-size="4.4" text-anchor="middle" fill="#444" style="" stroke="#444" stroke-width="0.13">15</text>
<line x1="397.3" y1="554.7" x2="422.9" y2="539.6" stroke="#111" stroke-width="0.9"/>
<text x="385.5" y="535.4" font-size="4.6" text-anchor="start" fill="#333" style="" stroke="#333" stroke-width="0.14"><tspan font-style="italic">ρ</tspan>: 0.57</text>
<text x="385.5" y="540.3" font-size="4.45" text-anchor="start" fill="#333" style="" stroke="#333" stroke-width="0.13"><tspan font-style="italic">P</tspan>: &lt; 0.0001</text>
<line x1="474.4" y1="396.6" x2="474.4" y2="586.6" stroke="#6a6a6a" stroke-width="1"/>
<path d="M472.7 397.4 L476.1 397.4 L474.4 393 Z" fill="#111" stroke="none" stroke-width="0.8"/>
<line x1="474.4" y1="586.6" x2="669.5" y2="586.6" stroke="#6a6a6a" stroke-width="1"/>
<path d="M668 585 L668 588.2 L672.5 586.6 Z" fill="#111" stroke="none" stroke-width="0.8"/>
<line x1="474.4" y1="455.2" x2="669.3" y2="455.2" stroke="#cfcfcf" stroke-width="0.9"/>
<line x1="474.4" y1="522.3" x2="669.3" y2="522.3" stroke="#cfcfcf" stroke-width="0.9"/>
<text x="508" y="391.4" font-size="6.1" text-anchor="middle" fill="#222" style="" stroke="#222" stroke-width="0.18">Melanoma (SKCM)</text>
<text x="571.7" y="391.4" font-size="6.05" text-anchor="middle" fill="#222" style="" stroke="#222" stroke-width="0.18">Lung squamous (LUSC)</text>
<text x="635.1" y="391.4" font-size="6.1" text-anchor="middle" fill="#222" style="" stroke="#222" stroke-width="0.18">Pancreas (PDAC)</text>
<text x="470.8" y="421.5" font-size="6.3" text-anchor="middle" fill="#222" style="font-style:italic;" transform="rotate(-90 470.8 421.5)" stroke="#222" stroke-width="0.19">IDO1</text>
<text x="470.8" y="487.7" font-size="6.3" text-anchor="middle" fill="#222" style="font-style:italic;" transform="rotate(-90 470.8 487.7)" stroke="#222" stroke-width="0.19">TDO2</text>
<text x="470.8" y="552.7" font-size="6.3" text-anchor="middle" fill="#222" style="font-style:italic;" transform="rotate(-90 470.8 552.7)" stroke="#222" stroke-width="0.19">CYP1B1</text>
<text x="571.6" y="595.2" font-size="6.4" text-anchor="middle" fill="#222" style="font-style:italic;" stroke="#222" stroke-width="0.19">PDCD1</text>
<ellipse cx="503.5" cy="421.5" rx="14.18" ry="5.67" fill="#c6c6c6" transform="rotate(-41.42 503.5 421.5)"/>
<path d="M487.8 429.2h0M493.8 429.2h0M511.1 413h0M503.7 429.5h0M515 419.1h0M506.4 420.4h0M496 433.3h0M505.8 419.4h0M489.7 422.5h0M502.1 429.2h0M508 418.4h0M502.2 429.7h0M507.2 416.8h0M498 430.4h0M513.2 414.3h0M514.8 411.9h0M512.5 410.1h0M499.9 418.1h0M502.2 426.9h0M509.8 408.7h0M488.6 434h0M491.9 439h0M512.7 405.6h0M505.8 411.2h0M492.7 428.3h0M517.4 412.1h0M503.9 420.7h0M505.5 423.3h0M514.2 408.1h0M498.7 419.5h0M490.1 424.9h0M502.9 425.9h0M512.5 414h0M499.5 427.9h0M492.7 427.5h0M507.9 424.6h0M507.2 419.1h0M508.4 410.2h0M504.6 423.8h0M491.9 435.1h0M496 427.4h0M505.5 417.3h0M520.7 414.1h0M488.3 430.7h0M502.3 428.3h0M513.4 415.7h0M508.7 414.4h0M512 416.7h0M506 417.2h0M499.6 423.6h0M500.9 419.9h0M513.2 418.7h0M488.2 435.9h0M508.5 424.6h0M502.2 420.6h0M502.9 425.4h0M503.6 422.6h0M504.7 411.8h0M496.9 426.9h0M502.5 427.2h0M503.2 424.5h0M502.6 426.1h0M513.2 415.5h0M509.4 415.1h0M504.8 427.7h0M496.5 432.7h0M501.2 426.1h0M493.7 424.4h0M501.2 429.6h0M518 410.4h0M493.6 419.3h0M495.1 419.2h0M501.9 416.7h0M505.3 403.8h0M520.3 407.4h0M495.3 421.1h0M501.8 421.8h0M517.7 411.2h0M499.2 430.4h0M516.9 414.7h0M500 426.4h0M491.6 428.7h0M500.6 413.8h0M499.5 419.9h0M498.6 423.3h0M506.2 422.8h0M501.3 416.3h0M494.2 431h0M503.2 421.6h0M517.9 405.8h0M500.7 417.6h0M514.6 418.6h0M502 421.3h0M504.4 415.1h0M501 422.1h0M511.2 415.2h0M504.5 413.2h0M513.2 418.4h0M508.3 410.4h0M498.9 427.8h0M503.4 411.4h0M500 423.9h0M505.1 425.5h0M507.9 415.5h0M499.3 413.7h0M493.4 423.5h0M494.5 434.4h0M498.7 413.6h0M513.4 410h0M496.3 428.7h0M510.9 409.3h0M493.3 428.9h0M488.5 427.2h0M504.4 417.5h0M504.8 426.4h0M507 419.1h0M502.5 423.2h0M506.6 413.8h0M499.9 425.9h0M489.3 436.1h0M500.6 425.3h0M493.9 424.5h0M498.7 428.6h0M504.1 419.3h0M513.1 419.5h0M506.4 422.4h0M504.8 420.6h0M515 419h0M496 426.1h0M506 417.7h0M498 417.1h0M501.8 415h0M504.3 420.9h0M493.8 440.1h0M504.6 413.5h0M500.5 420.7h0M502.9 418.9h0M492.5 429.1h0M496.8 436.4h0M491.3 432.7h0M520.2 416.6h0M500.2 422.9h0M506.3 417.9h0M493 435.1h0M510.3 410.7h0M510.2 414.5h0M520.8 415.6h0M511.9 420.3h0M512.6 418.4h0M504.6 422h0M509.1 418h0M512 411.1h0M507.5 422.6h0M500 423.4h0M490.8 434.6h0M509.5 424.6h0M504.9 424.8h0M506.7 418.4h0M497.4 424.9h0M495.9 422.5h0M498.3 423.8h0M501.9 428h0M516 409.2h0M491.7 434.4h0M499.1 434.7h0M502.8 431.8h0M499.3 420.7h0M503.2 422.7h0M520.1 413h0M512.6 415.6h0M492.2 435.5h0M497.7 422.4h0M501.5 423.3h0M507.8 421h0M504.5 420.7h0M491 425.5h0M504.3 422.6h0M497.8 419.6h0M488.3 431.4h0M498.1 425.7h0M492.7 429.7h0M499.6 430.8h0M514.7 417.7h0M516.1 423.1h0M500.3 425.9h0M509.5 416.6h0M509.8 424.8h0M496.7 426.4h0M490 428.6h0M516.4 415.9h0M494.9 430.2h0M508.8 419.1h0M492.3 427.5h0M506.5 418.3h0M513.1 421.5h0M509.6 416.2h0M507.1 415.1h0M513.3 421.2h0M499.4 424.5h0M507.6 424.6h0M505 418.5h0M497.1 425.2h0M506.3 425.3h0M508.1 411.3h0M517.4 415h0M519.7 410.6h0M505.4 429.5h0M493.8 420.4h0M506.8 419.3h0M512.6 416.6h0M491.2 416.1h0M500.1 423.8h0M506.8 417h0M495.4 432h0M485.9 433h0M518.4 404.8h0M506.2 413.5h0M516.5 408.2h0M499.9 418.2h0M508 417.6h0M501.6 428.5h0M497.2 432.6h0M504.3 423.8h0M499.7 415h0M521.5 403.5h0M515.6 413.1h0M496 433.2h0M497.9 416.1h0M510.1 412.5h0M509.5 426.7h0M506.7 415.1h0M511.1 419.2h0M510.4 417.4h0M513.3 409.7h0M509.4 423.5h0M489.1 431.1h0M520.7 400.7h0M498.8 433h0M499.9 418.3h0M495.9 422.6h0M508.2 405.7h0M517.9 407.2h0M503.1 426.2h0M502.5 411.8h0M505.9 420.4h0M497.3 426h0M501.2 427.6h0M493 432.5h0M514.9 417.6h0M487.4 433.9h0M507.9 415.4h0M508.6 419.1h0M506.4 420.9h0M498.7 419.7h0M502 418.7h0M500.6 424.6h0M504 424h0M506.3 427.6h0M496.6 425.5h0M502.3 411.1h0M499 421.8h0M504.1 416.4h0M513.2 419h0M504.7 421.3h0M501.1 413.7h0M504 418.7h0M502.2 422.2h0M517.3 408h0M499.7 422.5h0M519.4 408.2h0M502.8 420.1h0M504.8 426.3h0M505.1 422.5h0M507.8 420.7h0M506.2 415.2h0M509.3 417.3h0M522.2 411.3h0M509.2 417.3h0M491.9 424.3h0M509.5 417.4h0M516.4 413.6h0M501.8 418.1h0M501.5 433h0M508.8 413.7h0M521.2 420.1h0M510.4 419.5h0M500.8 428.3h0M509 421.7h0M505.1 421.3h0M499.5 428h0M504.6 417.4h0M513.5 409.4h0M504.4 422.1h0M499.6 419.7h0M499.4 423.7h0M510.4 414.8h0M491.8 422.7h0M498.9 427.8h0M494.6 429h0M510.9 417.2h0M490.7 426.5h0M519.9 405.3h0M517.5 421.5h0M513 416.4h0M509.1 413.6h0M495.9 422.2h0M511.6 413.5h0M514.7 409h0M492.3 429.1h0M502.9 421.6h0M499.5 425.8h0M496.4 433.9h0M506 401.5h0M503.1 419.8h0M506.9 416.1h0M495.7 435.1h0M497.4 418h0M502.8 428.1h0M502.7 426.5h0M489.3 424.5h0M491 440.8h0M493.6 424.2h0M505.6 427.1h0M513.1 419.8h0M508.7 424.7h0M522.2 414.7h0M512.4 415.2h0M509.7 424.7h0M501.4 417.4h0M500.9 411.3h0M509.8 419h0M506.1 427.3h0M501.8 428.3h0M496.4 432.9h0M501.7 425.5h0M505.7 414.9h0M515.4 415.7h0M505.2 420.3h0M498.9 425.4h0M491.7 419.3h0M505.2 418.9h0M512.7 410.8h0M496.5 426.1h0M490.8 432.7h0M514.8 417.3h0M508.3 412.2h0M499.2 428.4h0M501.4 428.4h0M511 408.6h0M514.9 422h0M501 422.6h0M511.6 417.5h0M503.6 423.1h0M506.6 422.1h0M496.4 433.8h0M511.8 417.1h0M504.9 415h0M501.9 415.9h0M505.6 423.7h0M504.7 426.1h0M497.1 422.8h0M486.8 425h0M506.9 418.4h0M500.6 425.9h0M502 414.4h0M505.3 418.8h0M504.4 415.4h0M514.3 407.8h0M504.4 420.2h0M517.4 406.1h0M486.3 429.2h0M503 419.8h0M496.9 427.9h0M498.5 425.1h0M492.6 430h0M508.6 421.6h0M497.5 428.7h0M516.9 416.2h0M499.8 425.7h0M500 420.6h0M516.1 414.2h0M495.1 416.7h0M512.2 412.2h0M496.1 427.6h0M503.1 418.9h0M507.4 412.1h0M502.1 419.8h0M520.9 409.2h0M515.8 410.8h0M498.6 426.4h0M498.9 432.1h0M504.9 426h0M512.6 426.5h0M503.6 424.4h0M492.3 437.9h0M494.9 429.2h0M513.5 408.2h0M508.5 415.8h0M524.5 418.1h0M499.5 429.5h0M495 426.5h0M503.7 424.7h0M521.4 413.6h0M517.4 410.4h0M508.4 413.9h0M508.4 427.1h0M500.8 430.6h0M501.8 418.6h0M517.4 414.6h0M493.1 424.8h0M504.2 413.4h0M493.9 427.2h0M489.8 433h0M503.4 423.8h0M499.9 421h0M517 416.3h0M500.4 428h0M507.8 421.3h0M500.1 427.6h0M508.7 420.9h0M509.7 418.3h0M510.4 413.4h0M494.9 428.1h0M509.7 426.1h0M514.2 415.3h0M496.4 429h0M496.4 426h0M506.3 416.6h0M499.3 419h0M500.4 424.1h0M502.4 422.7h0M511.8 416.1h0M502.3 423.2h0M508 416h0M502.7 424.2h0M505.2 418.3h0M498.1 428.8h0M511.5 412.4h0M501.8 424.1h0M518.9 419.2h0M492.1 427.2h0M505.4 426.2h0M514.9 415.1h0M495.9 433.2h0M495.5 420.5h0M512.2 409.2h0M504.9 415.2h0M512.7 416.2h0M493 422.1h0M497.3 413.2h0M493.4 430.9h0M509.4 412h0M508 421.7h0M507.6 422.5h0M505.9 418.5h0M510.3 421.3h0M487.3 425.8h0M497.3 428.9h0M500.2 415.5h0M507.9 413h0M491.4 419.5h0M506 424.3h0M495.5 421.2h0M515.1 416.3h0M501.5 417h0M503.3 419.5h0M506.5 418.9h0M504.2 420.4h0M510.7 425h0M504.8 414.5h0M500.7 426.7h0M511 419.6h0M505 421.9h0M499.6 424.3h0M517.5 406.6h0M516.8 421.1h0M514.4 417.9h0M512 417.6h0M504 422.4h0M518.4 408.8h0M499.7 426.4h0M498.5 427.1h0M505.1 421.4h0M501.3 433.8h0M493.1 436.8h0M505.2 426.1h0M499.7 415.7h0M495.9 423.4h0M503.5 427.2h0M522.3 412.2h0M510.2 412.4h0M515.8 401h0M508.4 405.7h0M502.3 411.7h0M503.1 424.3h0M515.9 404.7h0M511 421h0M510.6 412.5h0M523.9 412.7h0M503.2 427.4h0M491.1 438.3h0M502.7 416.6h0M506 414.9h0M512.6 414.3h0M491.2 426.6h0M499.9 427.6h0M507.7 413.5h0M501.6 423.7h0M494.3 431.9h0M501.4 424.3h0M519.6 421.8h0M516.9 409.2h0M510.8 422h0M514.5 413.8h0M493.3 432.6h0M496.1 426.9h0M499 425.5h0M502.7 425.4h0M502.1 425.1h0M521 412.8h0M507.9 413.5h0M502.4 417.8h0M500.7 423.8h0M512.4 428.7h0M515.8 415.2h0M512.9 415.3h0M494.7 431.1h0M488.8 429.8h0M500.7 426.1h0M522.6 413.1h0M509 426.5h0M503.5 412.5h0M501 423.1h0M488.3 431.9h0M504 416h0M514.8 415.4h0M507.4 413h0M509.7 413.2h0M506.5 418.3h0M506.3 411.2h0M503.8 427h0M498.8 424.7h0M511.9 414.2h0M506.2 427.9h0M514.3 405h0M506.6 406.2h0M493.6 429.3h0M505.5 427h0M509.3 421.1h0M514.8 411h0M507.6 413.7h0M496.5 424.5h0M489.2 428.5h0M505.2 418.5h0M508.2 419.3h0M506.8 426.2h0M509.2 420.7h0M487 436.2h0M502 431.4h0M491.6 420.6h0M488 412h0M519 431h0" stroke="#c6c6c6" stroke-width="1.4" stroke-linecap="square" fill="none"/>
<line x1="484.3" y1="397.9" x2="484.3" y2="444.9" stroke="#222" stroke-width="0.8"/>
<line x1="484.3" y1="444.9" x2="531.6" y2="444.9" stroke="#222" stroke-width="0.8"/>
<line x1="483" y1="398.4" x2="484.3" y2="398.4" stroke="#222" stroke-width="0.6"/>
<text x="482.3" y="399.95" font-size="4.4" text-anchor="end" fill="#444" style="" stroke="#444" stroke-width="0.13">15</text>
<line x1="483" y1="412.1" x2="484.3" y2="412.1" stroke="#222" stroke-width="0.6"/>
<text x="482.3" y="413.65" font-size="4.4" text-anchor="end" fill="#444" style="" stroke="#444" stroke-width="0.13">10</text>
<line x1="483" y1="425.7" x2="484.3" y2="425.7" stroke="#222" stroke-width="0.6"/>
<text x="482.3" y="427.25" font-size="4.4" text-anchor="end" fill="#444" style="" stroke="#444" stroke-width="0.13">5</text>
<line x1="483" y1="439.2" x2="484.3" y2="439.2" stroke="#222" stroke-width="0.6"/>
<text x="482.3" y="440.75" font-size="4.4" text-anchor="end" fill="#444" style="" stroke="#444" stroke-width="0.13">0</text>
<line x1="490.1" y1="444.9" x2="490.1" y2="446.2" stroke="#222" stroke-width="0.6"/>
<text x="490.1" y="451.4" font-size="4.4" text-anchor="middle" fill="#444" style="" stroke="#444" stroke-width="0.13">0</text>
<line x1="503.9" y1="444.9" x2="503.9" y2="446.2" stroke="#222" stroke-width="0.6"/>
<text x="503.9" y="451.4" font-size="4.4" text-anchor="middle" fill="#444" style="" stroke="#444" stroke-width="0.13">5</text>
<line x1="517.6" y1="444.9" x2="517.6" y2="446.2" stroke="#222" stroke-width="0.6"/>
<text x="517.6" y="451.4" font-size="4.4" text-anchor="middle" fill="#444" style="" stroke="#444" stroke-width="0.13">10</text>
<line x1="531.5" y1="444.9" x2="531.5" y2="446.2" stroke="#222" stroke-width="0.6"/>
<text x="531.5" y="451.4" font-size="4.4" text-anchor="middle" fill="#444" style="" stroke="#444" stroke-width="0.13">15</text>
<line x1="486.4" y1="437.8" x2="520.5" y2="407.6" stroke="#111" stroke-width="0.9"/>
<text x="487" y="403.8" font-size="4.6" text-anchor="start" fill="#333" style="" stroke="#333" stroke-width="0.14"><tspan font-style="italic">ρ</tspan>: 0.63</text>
<text x="487" y="408.7" font-size="4.45" text-anchor="start" fill="#333" style="" stroke="#333" stroke-width="0.13"><tspan font-style="italic">P</tspan>: &lt; 0.0001</text>
<ellipse cx="567.5" cy="418.5" rx="11.21" ry="5.67" fill="#f2a274" transform="rotate(-34.11 567.5 418.5)"/>
<path d="M563.7 419.8h0M560.4 424h0M573.1 419h0M574 411.6h0M572.1 423.1h0M570 410.2h0M564.8 418.8h0M575 415.7h0M572.7 420.6h0M571.2 413.2h0M561.9 413.6h0M568.9 419h0M566.4 418.9h0M561.7 423.4h0M567.2 429h0M561 415.1h0M568.7 407.7h0M559.5 420.9h0M569.5 425.8h0M569.8 407.3h0M577.4 419.7h0M567.4 419.9h0M552.9 423.4h0M565.3 426.5h0M574.7 422.2h0M572.8 416.5h0M558.7 417.6h0M580.3 405.1h0M567.6 422.9h0M562.9 424.2h0M567.6 413.9h0M565.6 417.1h0M560.6 416.6h0M555.5 419.8h0M571.2 414.6h0M558.4 426.4h0M564.4 425.7h0M570.5 417.2h0M564.3 421.2h0M560.7 422.5h0M573 411.2h0M571.3 411.7h0M580.4 412.8h0M567.9 424.8h0M577.6 413.4h0M558.8 428.5h0M572.3 410.6h0M564 420h0M551.2 416.1h0M571 421.8h0M576.7 422.7h0M567.9 418.9h0M564.5 424.7h0M570.4 411.4h0M574.3 417.7h0M569.7 419.9h0M566.7 419.6h0M567.7 412.1h0M566.1 415.2h0M577.4 412.6h0M563.6 421.1h0M568.6 419.6h0M566.2 424.8h0M574.4 413.3h0M567.7 417.8h0M567.4 415.3h0M578.9 410.9h0M578 409.9h0M576.3 421h0M579.7 408.4h0M560.9 416.9h0M565.1 416.6h0M573.4 413.1h0M580.8 407.4h0M559 410.6h0M577.9 414.2h0M558.3 416.5h0M567.9 414.8h0M559.1 422.3h0M573.3 418.8h0M561.8 423.4h0M564.5 415.4h0M568.7 408.4h0M570.5 415.1h0M565.2 422.9h0M570.9 416.3h0M563.9 418.9h0M569 419.3h0M564.5 419.5h0M558.1 423h0M566.7 422.7h0M564.5 413.5h0M568.9 417.6h0M562 429.8h0M569.3 417.4h0M575.2 413.1h0M562.1 414.9h0M575 416.8h0M561.7 426h0M565.1 423.1h0M575.8 410.9h0M560.9 424.1h0M572.4 417h0M554 419.9h0M567.2 419.6h0M566.5 420.4h0M568.5 416.6h0M563.4 417.1h0M566 419.1h0M562.5 424.5h0M577.2 420h0M564.7 414.7h0M581.1 416.2h0M565.9 423.6h0M563.3 419.5h0M569.7 419h0M563.8 423.1h0M551.2 423.7h0M564.8 416.7h0M568.7 421h0M572.3 422.2h0M580.9 415.9h0M582.5 410.5h0M574.1 409.3h0M558.2 421h0M569.3 411.6h0M564.8 421h0M573.8 412.5h0M570.2 421.7h0M571.2 424.6h0M559.8 421.9h0M559.3 421.1h0M561.6 418.2h0M570 409h0M567.9 419.7h0M571.8 414.8h0M569.9 418.7h0M559.5 425.6h0M577.1 416.4h0M575.7 414.6h0M578.3 400.9h0M571.7 419.7h0M579.2 406h0M591.9 417.4h0M559.2 423.7h0M557.6 421.9h0M554.3 418h0M560.3 423h0M564.1 420.8h0M574.5 421.6h0M562.2 427.7h0M562.4 420.4h0M567.6 410.8h0M577.3 404h0M558.5 420.7h0M561.9 406.5h0M572.8 411.6h0M567.8 415.7h0M572.7 418.6h0M566 413.1h0M582.8 410.5h0M575.8 415h0M580.4 405.3h0M570.9 411.5h0M573.7 414.4h0M568 412.1h0M568.8 417.5h0M586.1 421h0M561.2 423.7h0M554.6 422.7h0M567.6 414.4h0M568.1 422.6h0M574.2 420.2h0M577.6 403.8h0M566 426h0M553.7 421.8h0M569.1 420h0M572.2 419.5h0M560.8 412.1h0M572.2 415.1h0M560.9 417.9h0M568.2 418h0M575.4 422.8h0M564.1 418.6h0M567.2 416h0M566.7 428.4h0M563 424.1h0M563 416h0M560.4 422.6h0M571.2 414.7h0M560.8 425.3h0M555.1 426.3h0M562.5 421.4h0M570 415h0M557.1 418.5h0M550.1 421.1h0M577.3 411.9h0M564.3 416.4h0M568.5 422.7h0M566.3 425.9h0M568.5 410.9h0M570.9 411.1h0M566.3 417.2h0M554.1 420.2h0M558.1 433.9h0M580.5 422.1h0M567.1 427h0M561.3 420.6h0M566.8 408.3h0M570.3 415.9h0M569.5 412.3h0M573 419.1h0M560.7 412.9h0M575.2 412.1h0M576.4 421.4h0M574.7 418.2h0M577.6 416.3h0M563.2 425.6h0M563.2 419.6h0M566.6 422.1h0M572 428.5h0M571.5 415.4h0M566.9 414.5h0M565.2 417.4h0M559.3 429.3h0M575.1 416.1h0M568.5 412.7h0M559.5 427.1h0M562.9 423.8h0M564.7 417h0M578.4 421.4h0M562 417.3h0M565.8 427.4h0M570 413h0M566.4 417.2h0M575.7 423.1h0M579.5 415.8h0M567.4 414.3h0M568.5 419.3h0M565.2 419.9h0M560.6 416.2h0M568.7 417.7h0M576.4 419h0M567.6 418.1h0M571.5 412.6h0M559.4 429.3h0M572.8 415.6h0M562.1 423.4h0M565.5 429.7h0M562.1 415.5h0M568.2 417.5h0M559.5 425.5h0M558.2 424h0M566.8 413.9h0M572.2 416.9h0M561.9 418h0M579 421.9h0M570.9 419.1h0M570.7 411.4h0M568.6 426.4h0M567.6 418.8h0M554.2 422.5h0M564.6 413.6h0M572.3 409.8h0M562.6 425.6h0M569.6 420.4h0M570.2 416.3h0M564.8 422.8h0M574 420.9h0M571.5 413.7h0M572.7 419.4h0M558.7 430.1h0M557.6 420.6h0M576.2 418.4h0M562.1 416.9h0M569.6 422.8h0M558.9 430.9h0M562.1 422.8h0M568 418.9h0M565.9 420.9h0M562 428.9h0M568.7 418.6h0M562.4 426h0M562.6 414.3h0M571.8 413.9h0M555.8 430h0M562.5 421.8h0M578.4 420.6h0M571.4 422.4h0M574 408h0M558.8 423.4h0M564.3 412.5h0M561.2 430.3h0M572.1 418.5h0M565.2 425.1h0M573.2 412.1h0M556 433.6h0M553.1 426.7h0M554.8 427.4h0M568 418.3h0M562.2 433.2h0M559.9 419h0M577.6 416.4h0M555.3 428.4h0M569.3 417.7h0M572.9 411.4h0M567.9 416.4h0M560.9 412.9h0M563 424.9h0M560 419.8h0M558.8 422.8h0M571.5 412.9h0M560.7 423.4h0M567.2 424.5h0M562.9 417.7h0M561.8 428.3h0M562.4 424.9h0M580.9 420.8h0M558.1 432h0M573.4 411.7h0M563.8 415.8h0M565.6 421.6h0M571.6 410.4h0M572.3 412.2h0M572.3 414.1h0M563.1 419.3h0M563.5 417.1h0M580.9 411h0M575.8 409.9h0M571.5 423.1h0M565.2 420.9h0M559.4 421.6h0M580.1 413h0M568.3 422.2h0M570.1 417.7h0M561.6 424h0M563.9 423.7h0M563.1 426.7h0M559.1 421.2h0M571.6 418.4h0M554.6 426.4h0M584.9 414.1h0M564.6 414.3h0M555.3 429.8h0M570.3 417.2h0M572.8 412.1h0M566.7 423h0M566.4 412.6h0M561.3 422.9h0M573 414.4h0M560.2 418h0M562.4 429.4h0M568.5 418h0M579.8 412.4h0M560.2 416.1h0M567 424.3h0M569.6 418.4h0M561.1 424.8h0M566.6 413h0M565.8 421.3h0M564.7 424h0M567.1 424h0M563.6 419.5h0M574.3 421.2h0M569.3 415.5h0M569.2 419.7h0M573.5 412.5h0M561.2 415.3h0M555.7 422.3h0M571.2 420.4h0M555.9 433.7h0M562.8 426.1h0M561.9 426.8h0M567.2 423.5h0M561.3 421.2h0M572.3 412.1h0M581.3 408.8h0M569.9 423.4h0M561.8 429.8h0M559.3 423.2h0M552.2 427h0M565.5 418.8h0M580.3 412.7h0M561.2 416.3h0M560.6 421.4h0M570 418.7h0M571.2 419.1h0M558.4 425.9h0M563.7 419.9h0M569.3 416.4h0M560.7 421.2h0M563.6 419.3h0M565.5 425.5h0M556.4 418.4h0M558.9 422.2h0M576.3 419.4h0M567.9 421.2h0M560.6 427.5h0M570.8 415.8h0M568.2 420.2h0M570.5 418.8h0M569.9 413.8h0M560.6 422.7h0M565.7 424.7h0M569.9 412.4h0M565.7 431h0M571.3 413.9h0M562.7 427.7h0M563 422.3h0M575.4 416.7h0M557.3 425.1h0M567.4 412.6h0M563.1 423.9h0M572.4 423.2h0M552.7 423.9h0M565.4 427.7h0M557 426.5h0M568.8 422h0M571.8 411.4h0M571.9 420.6h0M564.6 421.2h0M578.8 419.4h0M555.1 426.4h0M571 415.3h0M563.8 416.1h0M561.4 413.3h0M578 406.3h0M569.4 424.2h0M575.7 415h0M563.5 423.3h0M577.6 411.2h0M575.6 413.3h0M574 418.9h0M564.8 420h0M576.8 416.3h0M567.2 409.2h0M581 417.3h0M562.9 424.5h0M571.9 425.1h0M571.2 418h0M567.4 414.8h0M564.2 413.1h0M569.3 410.6h0M558.8 420.4h0M559.8 418h0M560.4 422.4h0M568.6 418.8h0M570 423.7h0M555.3 419.6h0M568.9 420.8h0M574.8 417h0M577.6 415.7h0M568.5 412h0M574.3 412.3h0M568.1 413.3h0M568.2 411.8h0M559.8 419.7h0M574.5 415.9h0M559.6 415.7h0M570 418.8h0M567 422.6h0M563.4 424.1h0M576.5 414.7h0M564.7 416.3h0M570.9 419.2h0M570.6 419.3h0M571.2 415.4h0M558.3 424.9h0M568.3 411.8h0M562 428.7h0M566 408.6h0M556.5 424.1h0M560.1 420h0M571.4 422.3h0M560.5 423.6h0M562.3 414.3h0M571.3 422.6h0M558.4 421.6h0M572.4 420h0M578.5 415.8h0M579.3 409.6h0M570.7 416h0M565.7 421.7h0M564.4 422.9h0M563.4 422.3h0M575.9 414.7h0M572.7 420.3h0M552.3 427.9h0M568 418.6h0M560.8 421.6h0M565.4 420.3h0M564.2 427h0M561.2 413.1h0M577.1 411.1h0M567.5 416.5h0M572.3 422.6h0M562.6 424.3h0M573.8 413.9h0M567.1 407.3h0M567.9 408.9h0M567.2 427.5h0M560 420.8h0M563 413.6h0M582.2 419.2h0M568.6 429.4h0M561.4 433.9h0M561.2 426h0M564.7 429.9h0M581.4 410.4h0M571.2 424.4h0M569.3 419.4h0M566.6 422.8h0M559.1 423.4h0M575.9 416.1h0M573.3 429.1h0M579.2 419.8h0M574.6 412h0M570.2 416.4h0M566.7 415.7h0M568 411.7h0M576.8 418.2h0M556.6 422.4h0M563.5 427.2h0M562.7 428.7h0M567.7 411.5h0M573.6 423.2h0M567.7 430.1h0M566.7 406.5h0M573.1 415.9h0M573.4 417.3h0M564 419.5h0M558.2 427.7h0M556.6 425.1h0M558.5 416.3h0M559 425.2h0M563 423.7h0M556.6 416.4h0M579.5 412.9h0M566.2 415.8h0M565.3 415.5h0M560.2 421.8h0M558.7 421.8h0M559.8 428h0M565.6 421.8h0M568.1 416.9h0M569.9 413.6h0M571.4 406.6h0M574.4 417.4h0M557.1 418.7h0M560.9 423.6h0M555.8 428h0M570.7 414.4h0M573.3 411.4h0M562 424.6h0M559.1 426.3h0M562.5 417.2h0M562.8 420.1h0M570.1 411h0M561.7 422h0M579.3 418h0M552 427h0M560 436.5h0M570 403h0" stroke="#f2a274" stroke-width="1.4" stroke-linecap="square" fill="none"/>
<line x1="548.2" y1="397.9" x2="548.2" y2="444.9" stroke="#222" stroke-width="0.8"/>
<line x1="548.2" y1="444.9" x2="595" y2="444.9" stroke="#222" stroke-width="0.8"/>
<line x1="546.9" y1="398.4" x2="548.2" y2="398.4" stroke="#222" stroke-width="0.6"/>
<text x="546.2" y="399.95" font-size="4.4" text-anchor="end" fill="#444" style="" stroke="#444" stroke-width="0.13">15</text>
<line x1="546.9" y1="412" x2="548.2" y2="412" stroke="#222" stroke-width="0.6"/>
<text x="546.2" y="413.55" font-size="4.4" text-anchor="end" fill="#444" style="" stroke="#444" stroke-width="0.13">10</text>
<line x1="546.9" y1="425.6" x2="548.2" y2="425.6" stroke="#222" stroke-width="0.6"/>
<text x="546.2" y="427.15" font-size="4.4" text-anchor="end" fill="#444" style="" stroke="#444" stroke-width="0.13">5</text>
<line x1="546.9" y1="439.2" x2="548.2" y2="439.2" stroke="#222" stroke-width="0.6"/>
<text x="546.2" y="440.75" font-size="4.4" text-anchor="end" fill="#444" style="" stroke="#444" stroke-width="0.13">0</text>
<line x1="553.3" y1="444.9" x2="553.3" y2="446.2" stroke="#222" stroke-width="0.6"/>
<text x="553.3" y="451.4" font-size="4.4" text-anchor="middle" fill="#444" style="" stroke="#444" stroke-width="0.13">0</text>
<line x1="567" y1="444.9" x2="567" y2="446.2" stroke="#222" stroke-width="0.6"/>
<text x="567" y="451.4" font-size="4.4" text-anchor="middle" fill="#444" style="" stroke="#444" stroke-width="0.13">5</text>
<line x1="580.9" y1="444.9" x2="580.9" y2="446.2" stroke="#222" stroke-width="0.6"/>
<text x="580.9" y="451.4" font-size="4.4" text-anchor="middle" fill="#444" style="" stroke="#444" stroke-width="0.13">10</text>
<line x1="594.6" y1="444.9" x2="594.6" y2="446.2" stroke="#222" stroke-width="0.6"/>
<text x="594.6" y="451.4" font-size="4.4" text-anchor="middle" fill="#444" style="" stroke="#444" stroke-width="0.13">15</text>
<line x1="549.6" y1="428.4" x2="580.9" y2="407.1" stroke="#111" stroke-width="0.9"/>
<text x="573.5" y="435.2" font-size="4.6" text-anchor="start" fill="#333" style="" stroke="#333" stroke-width="0.14"><tspan font-style="italic">ρ</tspan>: 0.56</text>
<text x="573.5" y="440.1" font-size="4.45" text-anchor="start" fill="#333" style="" stroke="#333" stroke-width="0.13"><tspan font-style="italic">P</tspan>: &lt; 0.0001</text>
<ellipse cx="639.5" cy="424.5" rx="5.62" ry="2.66" fill="#14589a" fill-opacity="0.8" transform="rotate(-26.57 639.5 424.5)"/>
<path d="M642.7 420h0M645.3 420.1h0M643.5 423.7h0M625.8 436.4h0M642.2 426.8h0M635.8 426.3h0M641.2 427.7h0M639.4 427.3h0M634.3 422.3h0M644 426.5h0M643 424.8h0M655 418.4h0M630 430h0M639.4 424.1h0M634.4 421.2h0M624.8 424.2h0M642.3 420.3h0M635.5 422.2h0M637.9 418.3h0M645.5 420.5h0M642.8 418.2h0M630.5 431.4h0M637.5 430.4h0M654 418.5h0M635.4 426.1h0M628.6 426.4h0M652.1 418.5h0M647.4 416h0M637.4 418.3h0M637.3 429.1h0M636.1 426.4h0M629 422h0M636.6 424.2h0M644.5 413.3h0M633.7 427.1h0M640.1 424.8h0M638.4 424.7h0M631.7 425h0M648.7 423.7h0M644 425.9h0M642.5 419h0M638.4 425.1h0M632.2 419.8h0M630.3 431.7h0M651.1 426.6h0M641.4 427.3h0M636.9 429.2h0M631.7 430.6h0M648.2 420.8h0M648 424.7h0M634.5 430.6h0M651.1 425.7h0M648.4 420.7h0M628.5 430.6h0M647.6 418.3h0M643.8 429.3h0M636 421h0M628.2 424.6h0M634.3 427.8h0M633 431.8h0M648.1 417.5h0M644 425h0M630.5 424.6h0M638.7 419.7h0M638.2 417.6h0M642.1 421.1h0M643.7 422.7h0M640 427.2h0M637.1 428.1h0M638.4 423.1h0M646.5 422.4h0M643.2 422.4h0M645.4 421.5h0M627.4 427.2h0M632.7 435.1h0M636 428.6h0M633.7 429.2h0M639.1 427.6h0M638.7 418.9h0M640.8 431.2h0M644.6 423.2h0M634.5 427.5h0M635.3 428.4h0M638.2 421.1h0M630.3 429h0M650.9 412.4h0M636.6 429.3h0M640.4 420.7h0M652.1 425.8h0M636.7 419.9h0M645.1 424h0M641 422.7h0M645.4 419.7h0M632.5 422.6h0M644.8 421.9h0M642.4 426.3h0M636.4 420h0M635.5 430.3h0M632.8 427.1h0M626.8 428.9h0M628.2 436.2h0M639.2 426.6h0M628 432.8h0M639.4 427h0M636.3 420.1h0M650.7 415.8h0M631.1 428.8h0M635.1 421.4h0M638.8 428.7h0M646.8 419.5h0M628.5 429.7h0M631.5 427.2h0M645.5 422.1h0M651 418.6h0M627.4 436.1h0M642.4 420.6h0M646.2 426.4h0M635.5 423.1h0M642 429.7h0M653.6 411.6h0M636.5 435h0M643.4 424.4h0M632.9 429.6h0M644.8 419.1h0M639.8 428.5h0M643.3 425.4h0M636.3 428h0M638.2 428.4h0M634.5 429.6h0M648 424h0M643.1 422.2h0M643 423.1h0M636.3 425h0M641 419h0M651 424.2h0M636.6 427.6h0M633.2 428h0M649.7 417.8h0M641.5 430.3h0M635.3 427h0M630.3 435.9h0M647.6 420.5h0M647.1 421.2h0M640.3 425.9h0M633.4 421.3h0M631 429.1h0M651.7 420.9h0M644.1 431h0M647 418.7h0M637.8 424.1h0M631.7 423.4h0M640.5 420.3h0M645.8 419.1h0M627.3 424.5h0M651.4 423.5h0M637.9 421.2h0M633.9 429.1h0M639 422.6h0M628 427.2h0M638.1 423.7h0M636.2 423.2h0M639.7 428.5h0M642.5 418.5h0M645 423.6h0M633 426h0M637.7 430.5h0M643.3 422.7h0M637.7 426.3h0M643.1 429.8h0M636.3 430.8h0M643 424.6h0M638.5 431.4h0M637.2 425.9h0M633.3 431.9h0M646.9 420.2h0M652.5 421.3h0M632.5 427h0M638.7 433.3h0M631.7 424.8h0M640.5 417h0M644.3 418.4h0M638.9 426.7h0M631.4 424.3h0M643.9 422h0M649.8 419.5h0M648.7 414.2h0M638.7 422.7h0M642.7 426.6h0M642.1 424.6h0M639 425.6h0M634.1 421h0M633.2 430.7h0M645.3 416.9h0M628.5 428.8h0M635.6 435.5h0M645.3 424.7h0M633.9 428.9h0M635.3 427.8h0M649.4 414.2h0M652 423h0M633.6 430.7h0M637.7 419.9h0M637.1 430.1h0M636.6 422.2h0M624.7 428.9h0M640.7 420.9h0M636.6 417.6h0M637.7 429h0M637.2 424.7h0M648.4 422.6h0M648 404h0M621 440.5h0M624 419h0" stroke="#14589a" stroke-width="1.75" stroke-linecap="square" fill="none"/>
<line x1="613.4" y1="397.9" x2="613.4" y2="444.6" stroke="#222" stroke-width="0.8"/>
<line x1="613.4" y1="444.6" x2="659" y2="444.6" stroke="#222" stroke-width="0.8"/>
<line x1="612.1" y1="398.4" x2="613.4" y2="398.4" stroke="#222" stroke-width="0.6"/>
<text x="611.4" y="399.95" font-size="4.4" text-anchor="end" fill="#444" style="" stroke="#444" stroke-width="0.13">15</text>
<line x1="612.1" y1="413.6" x2="613.4" y2="413.6" stroke="#222" stroke-width="0.6"/>
<text x="611.4" y="415.15" font-size="4.4" text-anchor="end" fill="#444" style="" stroke="#444" stroke-width="0.13">10</text>
<line x1="612.1" y1="429" x2="613.4" y2="429" stroke="#222" stroke-width="0.6"/>
<text x="611.4" y="430.55" font-size="4.4" text-anchor="end" fill="#444" style="" stroke="#444" stroke-width="0.13">5</text>
<line x1="612.1" y1="444.2" x2="613.4" y2="444.2" stroke="#222" stroke-width="0.6"/>
<text x="611.4" y="445.75" font-size="4.4" text-anchor="end" fill="#444" style="" stroke="#444" stroke-width="0.13">0</text>
<line x1="613" y1="444.6" x2="613" y2="445.9" stroke="#222" stroke-width="0.6"/>
<text x="613" y="451.1" font-size="4.4" text-anchor="middle" fill="#444" style="" stroke="#444" stroke-width="0.13">−2</text>
<line x1="620.2" y1="444.6" x2="620.2" y2="445.9" stroke="#222" stroke-width="0.6"/>
<text x="620.2" y="451.1" font-size="4.4" text-anchor="middle" fill="#444" style="" stroke="#444" stroke-width="0.13">0</text>
<line x1="627.8" y1="444.6" x2="627.8" y2="445.9" stroke="#222" stroke-width="0.6"/>
<text x="627.8" y="451.1" font-size="4.4" text-anchor="middle" fill="#444" style="" stroke="#444" stroke-width="0.13">2</text>
<line x1="635.3" y1="444.6" x2="635.3" y2="445.9" stroke="#222" stroke-width="0.6"/>
<text x="635.3" y="451.1" font-size="4.4" text-anchor="middle" fill="#444" style="" stroke="#444" stroke-width="0.13">4</text>
<line x1="642.9" y1="444.6" x2="642.9" y2="445.9" stroke="#222" stroke-width="0.6"/>
<text x="642.9" y="451.1" font-size="4.4" text-anchor="middle" fill="#444" style="" stroke="#444" stroke-width="0.13">6</text>
<line x1="650.3" y1="444.6" x2="650.3" y2="445.9" stroke="#222" stroke-width="0.6"/>
<text x="650.3" y="451.1" font-size="4.4" text-anchor="middle" fill="#444" style="" stroke="#444" stroke-width="0.13">8</text>
<line x1="658.5" y1="444.6" x2="658.5" y2="445.9" stroke="#222" stroke-width="0.6"/>
<text x="658.5" y="451.1" font-size="4.4" text-anchor="middle" fill="#444" style="" stroke="#444" stroke-width="0.13">10</text>
<line x1="619.6" y1="434.1" x2="653.8" y2="417" stroke="#111" stroke-width="0.9"/>
<text x="615.5" y="403.8" font-size="4.6" text-anchor="start" fill="#333" style="" stroke="#333" stroke-width="0.14"><tspan font-style="italic">ρ</tspan>: 0.6</text>
<text x="615.5" y="408.7" font-size="4.45" text-anchor="start" fill="#333" style="" stroke="#333" stroke-width="0.13"><tspan font-style="italic">P</tspan>: &lt; 0.0001</text>
<ellipse cx="503" cy="493" rx="12.15" ry="7.83" fill="#c6c6c6" transform="rotate(-11.63 503 493)"/>
<path d="M497.3 496.1h0M497.4 489.5h0M516.3 492.5h0M506.4 497.3h0M512.1 493.3h0M496.9 492h0M488.4 501.5h0M491.9 489.6h0M498.4 493.5h0M513.2 497.5h0M501.6 490.3h0M503.5 500.1h0M512.6 487.8h0M502.9 496.5h0M500.2 488.6h0M490.3 498.2h0M509.8 492.2h0M490.8 497h0M503.2 500.5h0M487.1 494.4h0M506.4 490.7h0M509.3 483.5h0M489.4 500.9h0M509.6 490.6h0M504.5 481.2h0M509 492.8h0M502.5 486h0M516.3 492.8h0M496.5 488.4h0M516.7 489.5h0M505.1 496.9h0M497.1 497h0M498.7 490.3h0M490.5 498.1h0M502.7 493.6h0M510.1 482.1h0M499.2 494.9h0M498.4 482.5h0M498.2 489.4h0M496.5 496.3h0M506.9 497.1h0M511.9 496.4h0M509.8 500.4h0M504.6 491.9h0M492.5 501.3h0M513.3 482.5h0M496.3 496.4h0M487.3 490.5h0M503 496.3h0M504.3 503.3h0M509 490h0M496.8 496.4h0M486.6 499.4h0M489.3 492.6h0M507.8 502h0M499.8 483.6h0M496.8 498.7h0M498 493.3h0M510.6 492.5h0M514.6 500.1h0M505 491.5h0M488.8 493.7h0M499.9 499.8h0M505.8 484.2h0M486.2 486.8h0M493.2 491.4h0M499.5 493.6h0M504.2 489.3h0M519.2 501.4h0M490.9 494.1h0M501.8 490.7h0M497.5 491.7h0M505.5 489.1h0M517.4 487.6h0M508.6 484.1h0M496.7 495.9h0M500.1 491.8h0M502.6 497.2h0M496.2 498.4h0M506.1 490.6h0M506.8 497.7h0M500.9 494h0M512.1 493.5h0M499.4 490.2h0M496.6 488.6h0M497.9 492.6h0M507.6 484.8h0M491.8 489.6h0M493.4 491.9h0M505.7 487.1h0M502.9 486.6h0M513.1 492.8h0M507.8 490.6h0M504.4 494.9h0M495.3 489.8h0M506.5 489h0M502.6 498.7h0M510 492.1h0M511.2 497.1h0M508.5 487.6h0M508.8 500h0M504.2 495.5h0M510.8 487.3h0M511.5 485.5h0M506.1 490.8h0M519.7 497.7h0M507.9 500.9h0M504.9 494.5h0M505.6 502.7h0M490.3 485h0M506.9 491.8h0M517.5 489h0M505.3 499.7h0M497.9 492.3h0M512.7 490h0M494.7 494.7h0M497.1 499.1h0M490 489h0M503.8 495.9h0M503.2 498.4h0M498.8 499.2h0M520.4 490.6h0M511.3 485.2h0M511.6 498.1h0M508.1 483.1h0M505.8 482.1h0M499.3 496.5h0M487.1 489.2h0M499.8 495.6h0M507.7 483.9h0M507 493.9h0M509.3 494.5h0M495 494.2h0M500.8 487.9h0M497.5 493.1h0M500.7 489.1h0M506.5 487.7h0M488.6 495.9h0M490 491.6h0M495 487.7h0M506.2 487.4h0M504.5 481.3h0M488.7 500.5h0M490.6 484.3h0M501.4 494.3h0M513.4 486h0M493.5 503.6h0M501.3 498.3h0M507.6 493.7h0M487.6 499.9h0M504.2 492.7h0M497 492.1h0M508.3 492.4h0M494.1 484.2h0M499.9 494.3h0M505 492.1h0M500.1 478.9h0M493 486.5h0M512 496.2h0M516.8 494.9h0M506.4 505h0M507.5 497.9h0M516.8 498.4h0M495.2 492.9h0M505.8 487h0M522.1 490.3h0M505.9 485.6h0M497.5 497.3h0M493.6 490.6h0M511.7 490.6h0M498.2 493.1h0M513.8 483.4h0M506.2 487.2h0M516.6 497.7h0M509.9 494.8h0M518.9 484.7h0M509.5 484.4h0M491.2 500.8h0M508 487.6h0M508.5 492.6h0M497.6 497.9h0M496.9 486.6h0M519 491.2h0M512.2 495.5h0M507.9 493.1h0M488.4 499.2h0M503.8 495.6h0M499.8 487.3h0M495.2 486.3h0M500.5 497.8h0M495.9 494.6h0M504.3 485.6h0M500.8 494.4h0M515.5 491.7h0M493.4 497.5h0M501.4 498.6h0M501.1 493.2h0M506.3 494.1h0M504.3 489.2h0M512.1 492.9h0M510.3 494.4h0M498.5 484.5h0M518.1 491.7h0M491.5 495.2h0M522.3 503.3h0M503.8 499.6h0M516.6 491h0M516.6 491.8h0M522.7 490.3h0M501 492.3h0M508.1 500.7h0M495.5 498.9h0M503.7 484.6h0M495.8 489.8h0M498.5 497.5h0M486.8 500.6h0M522.5 492.9h0M512.2 487h0M502.4 507.9h0M514.1 489.5h0M502.7 491.3h0M509.2 492.3h0M491.2 495.8h0M493.2 498h0M501.3 503.9h0M497.1 491.9h0M493.6 497.5h0M523 497.4h0M497 489.4h0M499.7 504.6h0M498.8 492.7h0M494.3 500.2h0M514.8 485.8h0M503.4 502.8h0M502.6 484.5h0M511.1 488.4h0M497.1 487.3h0M493.3 500.4h0M512.7 482.8h0M499.3 496.2h0M497.9 495.6h0M491 496.4h0M503.3 490.6h0M497.1 492.6h0M501.2 495.3h0M501.3 496.2h0M516 477.2h0M489.3 497.4h0M499 500.3h0M501.9 475.3h0M494.8 489.7h0M520.7 494.8h0M500.6 489.4h0M498.2 492.4h0M514.4 500.1h0M515.1 494h0M506.3 491.8h0M506.3 493.6h0M514.9 500.8h0M504.7 492.8h0M515.8 492.5h0M503.4 489.5h0M503.6 502.4h0M511 490.7h0M492 496.8h0M503.8 495.2h0M501.3 490.9h0M516.6 492.1h0M491.6 488.6h0M492.2 485.4h0M498.2 493.3h0M492.6 493.9h0M517.9 497.1h0M495.7 494.6h0M499.4 490h0M511.8 494h0M512.8 489.4h0M502.9 487.7h0M505.1 485.6h0M509.5 502.1h0M507.1 488.1h0M498.7 498.5h0M507.8 486.4h0M493.5 493.6h0M515.3 483.1h0M519.5 485.3h0M520 491.4h0M507.8 481.6h0M520.1 502.4h0M507.8 496h0M500.4 477.5h0M490.6 494.8h0M496.4 496.3h0M504.9 491.5h0M503.9 492.7h0M496.1 491h0M488.1 489.8h0M504.2 494.3h0M507.5 499.5h0M511.9 481.6h0M499.7 484.7h0M511.4 498.5h0M506.5 486.4h0M499.4 500.9h0M513.2 484.1h0M496.8 502.8h0M491.7 493.9h0M495 497.4h0M503.4 494.8h0M498.2 494.3h0M496.5 499.2h0M515.7 488.5h0M506.5 497.5h0M506.4 486.2h0M486.1 496.7h0M512.7 483.5h0M500.6 491h0M494.2 494.9h0M497.8 496h0M506.2 488.3h0M509.2 490.2h0M496.3 480.7h0M509.9 491h0M508.3 495.7h0M504.9 496.7h0M517 492.3h0M506.7 498.8h0M513.6 488.6h0M508.6 496.3h0M509.3 483.8h0M498.6 491.3h0M495.6 501.6h0M510.1 487.4h0M497.4 485.2h0M510.1 493h0M505.5 496.3h0M491.5 496.7h0M497.4 497.9h0M493.1 500.1h0M492.1 497.8h0M509.8 495.9h0M488.9 482.5h0M508.3 494.1h0M504.3 493.1h0M520.3 487.3h0M505.8 489.8h0M509.6 491.5h0M485.8 502.2h0M518.6 491.2h0M506.1 498h0M503.3 488.1h0M492.1 489.3h0M508.5 499.4h0M506.1 497.3h0M507 499.7h0M501.9 488.9h0M489.2 492.8h0M514.5 496.2h0M495.8 502.4h0M521.3 495.3h0M486.6 492.5h0M500.5 482h0M497.7 484.4h0M506.9 498.2h0M488.3 496h0M509.3 486.7h0M502.7 498.7h0M503.1 496.9h0M496.1 490.6h0M503.5 503.6h0M500.4 496.1h0M495.4 491h0M514.9 492h0M492.3 490.8h0M503.5 483.9h0M514 493.4h0M487.3 500.8h0M503.8 497.5h0M499.3 496h0M500.3 495.6h0M502.3 484.3h0M506.7 490.6h0M505.2 494.8h0M507.7 489.1h0M497.8 492.3h0M506.3 493h0M514.7 486.3h0M505.8 494.4h0M510.6 481.6h0M505 500.8h0M514.2 493.6h0M499.6 493.1h0M488.8 492.1h0M521.5 491.2h0M514.7 483.3h0M511.2 481.5h0M514.9 490h0M495.3 492.9h0M500.5 491.4h0M500.3 486.4h0M503.5 485.9h0M502.2 499.7h0M516.7 496.5h0M490.9 497.2h0M503.2 489.6h0M497.9 485.8h0M511.5 497.5h0M499.2 490.2h0M498.4 492.8h0M493.4 498.4h0M498.4 482.4h0M509.6 486.7h0M512.2 492.6h0M510.8 488.3h0M505.4 485.2h0M508.5 497.3h0M512.9 489.2h0M510.7 502.6h0M489.4 487.7h0M512.2 487.4h0M499.3 490.2h0M491.8 491.8h0M504.8 484.9h0M500.4 489.2h0M495.1 484.3h0M514.2 488.1h0M509.1 497.5h0M505.1 488.1h0M505.8 496.5h0M503.9 490.2h0M504.7 498.3h0M516.2 498.6h0M515.8 486.5h0M501.1 505.4h0M507.2 491.9h0M500.3 498.5h0M511.1 492.3h0M514.6 490.3h0M500.4 498.6h0M505.5 504h0M509.6 485h0M493.4 501h0M505.6 500.9h0M503.3 486.4h0M502.4 495.2h0M519.5 492.6h0M489.6 501.7h0M495.6 491.1h0M489.3 493.6h0M515.3 487.5h0M490 498h0M517.2 490.3h0M511.8 481.3h0M498.3 498.2h0M493.5 494.9h0M505.2 496.9h0M510.9 485.1h0M510.1 498.1h0M514.3 502.2h0M516.2 499h0M497 486.1h0M494 497.4h0M504.1 492.5h0M512.4 504.1h0M494.1 489.5h0M491.1 495.9h0M512.7 489.9h0M491.9 489.7h0M514.8 478.9h0M511.5 484.1h0M508 495.2h0M492.5 493.7h0M498.1 488.4h0M495.1 491.9h0M504.4 494.3h0M495.1 497.8h0M515.8 488.9h0M510.1 489.3h0M504.5 490.8h0M499.9 490.6h0M506 488.1h0M513.1 492.6h0M494.4 496.1h0M502.3 485.9h0M486.3 498h0M498.9 484.1h0M514 485.3h0M503 486.9h0M497.2 503.3h0M507.4 490.3h0M513.5 490.4h0M510.8 497.5h0M495.2 509.1h0M515.9 488.2h0M497.5 494.5h0M511.2 503.9h0M506.6 499.9h0M492 498.3h0M504.5 494h0M504.8 493.4h0M505.3 503h0M504.4 498.2h0M498.4 488.6h0M500 490.9h0M496.5 490.8h0M507.8 492.4h0M496.7 499.9h0M495.9 503.1h0M507.8 487.8h0M510 491.9h0M506.7 492.4h0M500.6 480.4h0M503.3 494.6h0M504.5 487.9h0M496.4 496.9h0M510.6 485.5h0M503.4 501.6h0M508.5 486.1h0M502 503.2h0M513.2 495.1h0M491.3 497.9h0M493.6 493.1h0M503.7 500.8h0M494.2 496.6h0M504.8 498.8h0M517.1 498.1h0M493.2 492.1h0M510.1 498.5h0M499.6 499.3h0M508.1 502.8h0M494.5 496.7h0M501.3 492.9h0M516.5 493.6h0M503.5 500.8h0M502.8 485.8h0M504.5 489.2h0M513.4 491.3h0M494.3 487h0M496.8 496.4h0M492.9 484.7h0M498.7 492.4h0M512.6 495.4h0M493.4 490.5h0M499.1 498.6h0M498.7 481.4h0M518 487.9h0M518.4 493.1h0M501.4 494.6h0M504.4 499.4h0M517.6 491.6h0M508.2 479.8h0M499.8 495.1h0M513.2 498.2h0M505.4 490.8h0M503.9 496.2h0M504 491.1h0M511 487.5h0M504.1 486.2h0M495 496.3h0M511 501.5h0M496 508.5h0M510 508h0" stroke="#c6c6c6" stroke-width="1.4" stroke-linecap="square" fill="none"/>
<line x1="484.3" y1="463.8" x2="484.3" y2="510.6" stroke="#222" stroke-width="0.8"/>
<line x1="484.3" y1="510.6" x2="531.6" y2="510.6" stroke="#222" stroke-width="0.8"/>
<line x1="483" y1="464.3" x2="484.3" y2="464.3" stroke="#222" stroke-width="0.6"/>
<text x="482.3" y="465.85" font-size="4.4" text-anchor="end" fill="#444" style="" stroke="#444" stroke-width="0.13">15</text>
<line x1="483" y1="477.9" x2="484.3" y2="477.9" stroke="#222" stroke-width="0.6"/>
<text x="482.3" y="479.45" font-size="4.4" text-anchor="end" fill="#444" style="" stroke="#444" stroke-width="0.13">10</text>
<line x1="483" y1="491.5" x2="484.3" y2="491.5" stroke="#222" stroke-width="0.6"/>
<text x="482.3" y="493.05" font-size="4.4" text-anchor="end" fill="#444" style="" stroke="#444" stroke-width="0.13">5</text>
<line x1="483" y1="505.4" x2="484.3" y2="505.4" stroke="#222" stroke-width="0.6"/>
<text x="482.3" y="506.95" font-size="4.4" text-anchor="end" fill="#444" style="" stroke="#444" stroke-width="0.13">0</text>
<line x1="490.1" y1="510.6" x2="490.1" y2="511.9" stroke="#222" stroke-width="0.6"/>
<text x="490.1" y="517.1" font-size="4.4" text-anchor="middle" fill="#444" style="" stroke="#444" stroke-width="0.13">0</text>
<line x1="503.9" y1="510.6" x2="503.9" y2="511.9" stroke="#222" stroke-width="0.6"/>
<text x="503.9" y="517.1" font-size="4.4" text-anchor="middle" fill="#444" style="" stroke="#444" stroke-width="0.13">5</text>
<line x1="517.6" y1="510.6" x2="517.6" y2="511.9" stroke="#222" stroke-width="0.6"/>
<text x="517.6" y="517.1" font-size="4.4" text-anchor="middle" fill="#444" style="" stroke="#444" stroke-width="0.13">10</text>
<line x1="531.5" y1="510.6" x2="531.5" y2="511.9" stroke="#222" stroke-width="0.6"/>
<text x="531.5" y="517.1" font-size="4.4" text-anchor="middle" fill="#444" style="" stroke="#444" stroke-width="0.13">15</text>
<line x1="486.4" y1="495.4" x2="520.5" y2="488.6" stroke="#111" stroke-width="0.9"/>
<text x="487" y="469.6" font-size="4.6" text-anchor="start" fill="#333" style="" stroke="#333" stroke-width="0.14"><tspan font-style="italic">ρ</tspan>: 0.3</text>
<text x="487" y="474.5" font-size="4.45" text-anchor="start" fill="#333" style="" stroke="#333" stroke-width="0.13"><tspan font-style="italic">P</tspan>: &lt; 0.0001</text>
<ellipse cx="567" cy="488" rx="8.1" ry="5.4" fill="#f2a274" transform="rotate(-14.47 567 488)"/>
<path d="M564.8 493.2h0M559.1 490h0M572.8 488.4h0M569.6 493.4h0M575.6 487.4h0M559.7 490.6h0M575.7 485.4h0M559.9 485.7h0M560.2 489.9h0M562.7 484h0M567.3 485.9h0M566.3 483.2h0M563.7 487.9h0M567.7 489.3h0M570.9 488.6h0M563.2 488.4h0M568 496.9h0M569.3 485.6h0M567.8 488.4h0M565.1 491.9h0M556.4 489.5h0M573.3 490h0M567.3 484.2h0M565 490.6h0M562.3 487.5h0M561.9 495.3h0M577.6 490h0M563.7 489.4h0M567.7 485.7h0M563.3 485.5h0M567.5 488.4h0M563.9 490.8h0M562.7 481.8h0M563.4 488.4h0M572.4 486.2h0M558.5 485.6h0M565.2 488.4h0M570.6 488.9h0M570.9 484.5h0M562.4 493h0M555.5 490.1h0M572.7 481.2h0M567.6 490.4h0M570.2 488h0M576.5 488.5h0M564.9 481.6h0M578.5 487.3h0M567.7 489.8h0M566.6 489.1h0M571.8 488.5h0M563.6 486.7h0M565.3 486.5h0M560.3 492h0M563.3 489.1h0M563 489.7h0M566.7 487.4h0M570.8 478.7h0M572.1 489.6h0M574.1 484.8h0M573.6 482.2h0M562.5 483.3h0M564.4 496.1h0M570.9 490.2h0M567.3 489.5h0M573.7 487.2h0M565.4 485.8h0M566.2 491.6h0M570.3 482.9h0M557.9 489.9h0M561.9 492.7h0M574.6 489.6h0M567.8 492.6h0M565.9 488.6h0M562.1 486.7h0M578.5 488.7h0M575.2 483.8h0M570 495.8h0M564.4 486.9h0M568.4 491.2h0M556.4 489.1h0M567.8 483.3h0M561.7 496.9h0M573.6 482.3h0M563.3 489.1h0M574.2 487.3h0M575 483.1h0M573 486.2h0M573.6 492h0M566.6 490.5h0M565.5 488.3h0M571.2 487.4h0M564.5 486.1h0M572.8 486.7h0M569.6 487.8h0M558.4 495h0M568.1 490.8h0M563.6 495.6h0M570.9 491.2h0M564.1 486.6h0M574.1 490.1h0M564.9 491.8h0M565.6 487.7h0M555.8 492.2h0M578.1 485.5h0M569.8 482.3h0M565.6 482h0M568.9 491.1h0M556.9 481.9h0M555.6 492.7h0M563.8 483.4h0M572.3 487.6h0M557.8 490.7h0M577.1 490.2h0M569 490.7h0M563.2 485.4h0M572.4 480.1h0M569.1 485.7h0M560.8 492.6h0M568.5 485.3h0M565.1 494.3h0M562.7 495.2h0M573.8 488.7h0M565 483.5h0M573.7 489.7h0M562.6 488.1h0M564 495.1h0M569.7 490.7h0M565.2 481.5h0M571.1 488.8h0M567.1 486.1h0M576.9 489h0M566.7 484.6h0M569.3 490.3h0M568.5 490.4h0M567.2 490.4h0M570 489h0M563.1 487.1h0M562.9 483.1h0M560.9 491.4h0M555.3 490.9h0M559.1 487h0M572 486.8h0M572.4 488.7h0M572.1 488.6h0M563.9 493h0M567.3 484.9h0M575.2 488.5h0M562.7 489h0M562.8 491.8h0M568.9 492h0M567.8 490.8h0M564.6 487.9h0M567.7 483.1h0M573.6 490.5h0M573.9 490.5h0M564.3 492.8h0M571.4 487.7h0M566.5 488.9h0M574.7 488h0M574.4 486h0M556.3 489.5h0M561.2 490.4h0M565.5 490h0M564.1 492.2h0M566.3 492.7h0M565.9 493h0M563.9 487.6h0M564.7 489.6h0M570.2 491.2h0M565.9 485.6h0M574.5 488.7h0M569.7 481.4h0M569.7 485.1h0M563.1 482.4h0M561.3 483.2h0M572.5 487h0M557.9 484.4h0M572.9 491.1h0M571.4 489.8h0M574.1 487.6h0M562.5 491.2h0M571.7 490.1h0M575.2 489.3h0M567.6 486.6h0M572.8 488.7h0M564.9 494.6h0M570.3 483.1h0M558.8 492.4h0M561.8 494.7h0M555.5 490.6h0M570.7 488.2h0M562.9 480.8h0M567 487h0M569 486.8h0M569.8 492h0M570.6 491.9h0M572.6 490.4h0M567.3 483.6h0M572.8 481.8h0M563.4 484.9h0M571.8 489.7h0M569.8 486.3h0M567.4 489.3h0M568.8 479.8h0M554.9 489.3h0M564.3 484.2h0M561.9 489.2h0M562.9 493.1h0M560.7 485.5h0M556 489.4h0M572.4 481.6h0M566.9 490.3h0M563 495.9h0M573.4 489.9h0M561 490.8h0M567.7 491.5h0M554.9 488.3h0M562.8 490.6h0M560.1 493.2h0M573.1 491.5h0M571.3 490.5h0M572.6 489.3h0M564.4 491h0M565.3 490.2h0M559.4 486.4h0M564.8 490.1h0M563.5 489.2h0M560.4 494.2h0M571.9 495.9h0M557.2 482.6h0M563 482.7h0M569.1 485.5h0M557.4 496h0M575.6 491.1h0M574.5 481.7h0M564.1 480.5h0M558.5 491.4h0M574.7 490.5h0M565.1 489.8h0M571 489.2h0M565.8 485.4h0M571.2 478.3h0M569.3 482.9h0M569 490.7h0M559.3 481.9h0M561.4 488h0M556.9 490.9h0M566.8 488.6h0M568.5 489.9h0M577.1 488.1h0M572 486.2h0M558.7 486.8h0M571.9 487.6h0M569.3 486.6h0M558.5 491.5h0M577.7 479.6h0M569.2 496.4h0M560.7 485.5h0M563.5 493.6h0M568.9 480.8h0M565.9 490.8h0M567.2 491.5h0M558.1 489.5h0M565.5 488.9h0M574.8 489.3h0M573 492.9h0M560.8 501.2h0M569.3 495.4h0M568.2 488.5h0M569.3 487.2h0M571.7 486.5h0M562.3 492.3h0M569.1 492.9h0M566 490.7h0M577.5 494.2h0M575.3 489.7h0M565.3 488.7h0M576.6 489.3h0M566.2 490.3h0M562.9 487.2h0M555 488.5h0M564.7 492.8h0M565.5 490.4h0M565.2 486.8h0M571 490.3h0M575 489.9h0M565.2 487.8h0M565.7 484.5h0M560 496.9h0M569.6 490.7h0M569.2 484.8h0M569.8 490.2h0M565.2 488.9h0M563 489.1h0M578.2 489.5h0M554.8 485.8h0M570.5 487.1h0M558.8 481.2h0M564.7 486.3h0M575.6 485.2h0M567.2 487.2h0M565.5 493.5h0M568.2 493.1h0M570.3 486.1h0M554 492.7h0M569.4 486.5h0M560.7 492.1h0M562.8 493.8h0M572.2 489.1h0M571.9 490.9h0M564 487.7h0M564.1 490.9h0M563.1 479.8h0M561 497.1h0M569.5 490.1h0M567.2 485.5h0M560.7 487h0M576.4 484.8h0M570.2 481.5h0M560.9 491.9h0M557 489.2h0M569.7 489.5h0M562.7 491.1h0M569 495.9h0M559.2 482.3h0M560.3 489.3h0M560.6 485.6h0M567.5 482.6h0M559.2 493.8h0M564 490.5h0M556.9 488.6h0M571.4 485.9h0M567.4 490.2h0M569.3 485.1h0M562.4 482.2h0M572.9 492h0M566 492.2h0M569.4 491.8h0M569.7 494.5h0M569.9 483.9h0M569.6 487.3h0M565.7 495.8h0M563.3 486.1h0M566.4 485.1h0M572.6 488.5h0M575.6 486.9h0M562.9 486.6h0M568.3 483.2h0M558.8 488.2h0M561 492h0M557.5 484.6h0M570 489.2h0M564.5 492.7h0M572.2 483.3h0M564.5 486.9h0M564.6 481h0M567.5 487.7h0M567.4 484.3h0M563.6 493.3h0M572.7 483.3h0M558.8 485.5h0M563.9 493.7h0M567.3 490.5h0M576.6 488.5h0M560.8 484.5h0M559.4 492.7h0M570.9 490.1h0M560.1 488.6h0M567.2 485.4h0M562.4 491h0M566.1 492.9h0M562.6 491.4h0M569.3 489.5h0M574.2 491.3h0M564.5 484.8h0M570 482.4h0M563.3 494.4h0M573.4 487.8h0M555.9 494.6h0M574.4 489.9h0M558 491.3h0M568.3 491.7h0M562.1 489.4h0M560.9 486.7h0M557.4 486.1h0M562 479.3h0M570.9 487.2h0M565.4 483.7h0M571.4 487.5h0M560.3 479.4h0M565.7 497.4h0M561.2 487.7h0M565.5 487.2h0M565.4 486.4h0M566.3 482.9h0M568.6 491h0M576.9 484.8h0M569.4 481.6h0M569.3 489h0M560.2 487.1h0M565.4 490.7h0M558.5 480.8h0M569.2 490.9h0M570.3 486.7h0M565.6 482.2h0M565.9 493.7h0M575.2 486.8h0M561.5 482h0M571.3 480.9h0M570.4 490.8h0M566.2 492.4h0M562.2 490.2h0M566.1 486.3h0M558.4 484.7h0M561.1 488.5h0M565.4 488.3h0M562.5 486.8h0M565.4 490.2h0M563.6 489.6h0M574.4 487h0M566.5 491.6h0M573.5 485.7h0M566.3 489.1h0M563.4 488.6h0M566.9 493.4h0M568 485.2h0M562.6 490h0M564.2 488.3h0M571.5 495.1h0M566.4 487.8h0M567.3 491.8h0M565.3 481.8h0M559.7 482.2h0M565.3 487.8h0M558.5 485.9h0M560 484h0M576.4 484.7h0M556.3 491.9h0M568.2 483.9h0M569.9 490.4h0M559.7 491.8h0M575.7 488.5h0M566.9 490.6h0M565.6 486.5h0M572.2 489.5h0M562.3 491.6h0M560.1 490.5h0M577.3 488.7h0M564.3 482.9h0M572.8 491.3h0M562.5 495h0M572.2 477.8h0M572.4 489.2h0M560.6 487.6h0M563.3 485.4h0M561.3 491.6h0M566.3 487.8h0M559.6 482.1h0M579.1 483.2h0M563.4 484.8h0M563.6 484.8h0M556.7 488.2h0M569 495.4h0M572.5 482.9h0M574.4 489.1h0M569.3 494.9h0M564.9 487.6h0M562 490.7h0M561.3 488.9h0M569.9 487.3h0M571 478.1h0M568.2 495.8h0M569.9 487.4h0M563.9 493.5h0M570.9 488.1h0M569.7 486.5h0M568.6 495h0M566.8 486.2h0M571.1 483.7h0M571.9 492.2h0M570.3 485.3h0M556.4 485h0M571.9 487.2h0M564.6 488.2h0M562.9 483.9h0M559.7 497h0M573.7 484.7h0M576.7 483.7h0M572.9 482.3h0M568.4 486.7h0M571.6 485.5h0M563.8 494.1h0M565.8 492h0M573.7 480.1h0M564.3 483.2h0M569.2 486.1h0M564.5 495h0M570.7 491.7h0M572.4 485.4h0M563 491.2h0M566.7 478.4h0M564.6 489.2h0M565.6 487.2h0M561.8 491.4h0M566.8 484.4h0M567.1 486.1h0M579.4 489.6h0M564.8 491.6h0M569.1 492.6h0M562 481.7h0M558.7 492.2h0M566 492.2h0M563.8 487.4h0M568 487.6h0M556.5 489.9h0M567 491.2h0M565 488.7h0M564 482.9h0M564.5 490h0M571.7 487.5h0M558.9 495.1h0M566.1 487.2h0M571.7 481.9h0M566 484.3h0M568.1 487.5h0M573.4 484.9h0M571.4 492.6h0M576.8 487.5h0M557.3 488.5h0M559.7 488.9h0M564.8 485.7h0M560.8 496.3h0M567.7 494.2h0M561.5 481.3h0M571 485.3h0M564.4 481.4h0M568.8 489.5h0M563.7 485.8h0M555.4 495.4h0M566.7 489.4h0M568.1 490.2h0M566.3 488.6h0M564 481.2h0M573.1 491h0M572.1 485.6h0M569.7 491.2h0M570.4 489.3h0M566.7 485.8h0M570.6 484.7h0M568 491.5h0M561.6 494.7h0M567.9 490.4h0M562.5 481.4h0M566.4 487.5h0M567.5 489h0M564.3 485.4h0M564.3 487.2h0M566.5 490.2h0M566.5 492.3h0M562.9 485.9h0M553.3 509.7h0" stroke="#f2a274" stroke-width="1.4" stroke-linecap="square" fill="none"/>
<line x1="548.2" y1="463.8" x2="548.2" y2="510.6" stroke="#222" stroke-width="0.8"/>
<line x1="548.2" y1="510.6" x2="595" y2="510.6" stroke="#222" stroke-width="0.8"/>
<line x1="546.9" y1="464.3" x2="548.2" y2="464.3" stroke="#222" stroke-width="0.6"/>
<text x="546.2" y="465.85" font-size="4.4" text-anchor="end" fill="#444" style="" stroke="#444" stroke-width="0.13">15</text>
<line x1="546.9" y1="477.9" x2="548.2" y2="477.9" stroke="#222" stroke-width="0.6"/>
<text x="546.2" y="479.45" font-size="4.4" text-anchor="end" fill="#444" style="" stroke="#444" stroke-width="0.13">10</text>
<line x1="546.9" y1="491.5" x2="548.2" y2="491.5" stroke="#222" stroke-width="0.6"/>
<text x="546.2" y="493.05" font-size="4.4" text-anchor="end" fill="#444" style="" stroke="#444" stroke-width="0.13">5</text>
<line x1="546.9" y1="505.4" x2="548.2" y2="505.4" stroke="#222" stroke-width="0.6"/>
<text x="546.2" y="506.95" font-size="4.4" text-anchor="end" fill="#444" style="" stroke="#444" stroke-width="0.13">0</text>
<line x1="553.3" y1="510.6" x2="553.3" y2="511.9" stroke="#222" stroke-width="0.6"/>
<text x="553.3" y="517.1" font-size="4.4" text-anchor="middle" fill="#444" style="" stroke="#444" stroke-width="0.13">0</text>
<line x1="567" y1="510.6" x2="567" y2="511.9" stroke="#222" stroke-width="0.6"/>
<text x="567" y="517.1" font-size="4.4" text-anchor="middle" fill="#444" style="" stroke="#444" stroke-width="0.13">5</text>
<line x1="580.9" y1="510.6" x2="580.9" y2="511.9" stroke="#222" stroke-width="0.6"/>
<text x="580.9" y="517.1" font-size="4.4" text-anchor="middle" fill="#444" style="" stroke="#444" stroke-width="0.13">10</text>
<line x1="594.6" y1="510.6" x2="594.6" y2="511.9" stroke="#222" stroke-width="0.6"/>
<text x="594.6" y="517.1" font-size="4.4" text-anchor="middle" fill="#444" style="" stroke="#444" stroke-width="0.13">15</text>
<line x1="549.6" y1="491.4" x2="580.9" y2="482.9" stroke="#111" stroke-width="0.9"/>
<text x="550.8" y="469.6" font-size="4.6" text-anchor="start" fill="#333" style="" stroke="#333" stroke-width="0.14"><tspan font-style="italic">ρ</tspan>: 0.3</text>
<text x="550.8" y="474.5" font-size="4.45" text-anchor="start" fill="#333" style="" stroke="#333" stroke-width="0.13"><tspan font-style="italic">P</tspan>: &lt; 0.0001</text>
<ellipse cx="640" cy="479" rx="5.62" ry="3.15" fill="#14589a" fill-opacity="0.8" transform="rotate(-28.61 640 479)"/>
<path d="M639.6 475.8h0M645.1 478.3h0M640.7 478.4h0M641.6 480.3h0M635.6 477.9h0M637.8 482.4h0M645.2 471h0M644.1 477.1h0M639.1 491h0M639.4 479.1h0M646 476.1h0M643.5 471.5h0M644.9 475.8h0M640.9 484.5h0M638.2 470.3h0M639.4 485h0M639.9 470.3h0M632.1 481.4h0M632.7 474.3h0M628.4 485.3h0M642.3 479.3h0M633.9 492.9h0M622.9 480.5h0M635.6 473.8h0M644.8 483.3h0M650.2 469.3h0M639.9 478.2h0M637.1 476.2h0M645.6 472h0M638.3 483.5h0M641.6 481.6h0M637.4 473h0M635.5 488h0M638.3 479.4h0M637.6 476.8h0M637.4 485.5h0M630.8 477.5h0M644.3 470.2h0M636.9 479.1h0M643.5 473h0M628.8 473.7h0M639.4 482.1h0M636.5 481.6h0M633.4 480.5h0M631.9 477.1h0M643.3 471.3h0M641 483.8h0M636.8 480.4h0M633.2 482.1h0M640.8 475.8h0M632.1 487.5h0M638.4 483.6h0M646.5 476h0M642.3 487.9h0M651.5 475h0M625.3 488.3h0M639.1 474.8h0M643.1 478h0M631.7 472.4h0M639.2 479.8h0M639.6 483.2h0M641.2 482.1h0M632.7 479.5h0M638.4 485.2h0M633.5 480.5h0M637.2 479.3h0M633.5 478.1h0M647 474.9h0M627.3 485.4h0M641.1 475.2h0M648.9 479.7h0M636.8 479.1h0M642.7 473.6h0M635.7 476.1h0M631 491.5h0M643.9 472.9h0M633 472.9h0M647.6 471.7h0M637.2 481.9h0M650.2 473.2h0M633.5 481.8h0M632.1 483.4h0M634.3 476.2h0M644.2 486.9h0M634.8 476h0M630.8 485.3h0M634.6 483.7h0M627.1 485.2h0M641.4 487.4h0M634.2 475.7h0M633.3 474.4h0M645.2 478.6h0M633.4 486.1h0M637.7 473.4h0M639.7 472.5h0M637.9 485.7h0M632.5 486.9h0M640.2 472.9h0M635.9 473.1h0M638.8 480.4h0M631 488.5h0M633 481.5h0M648.1 471.1h0M645 481h0M630.2 476.6h0M638 484.3h0M645.2 479h0M643.3 469.8h0M638.2 474.2h0M638.9 482.5h0M639.6 479h0M640.1 474.3h0M641.6 487.3h0M629.4 492.2h0M644.2 471.9h0M629.7 481.5h0M653.3 484.2h0M634.6 473h0M640.4 483.3h0M639.7 480.2h0M632.2 483.7h0M641.6 470.5h0M645.5 478.3h0M635.3 485.3h0M648.9 469.4h0M642.1 472.7h0M642.8 476.8h0M638.6 473.2h0M641 472.8h0M639.2 487.9h0M638.8 475.6h0M626.3 486.7h0M645.9 482.8h0M634.1 481.6h0M642.7 480.1h0M644.7 477.9h0M632.6 480.9h0M637.7 479.2h0M641.3 476.9h0M641.5 478.7h0M641 485.7h0M639.3 467.9h0M637.7 484.7h0M637.9 479h0M641.3 479.4h0M629 483.6h0M644 479.2h0M637.3 477.4h0M626.2 487.1h0M644.6 472.6h0M637.2 480.1h0M641.5 482h0M645.4 470.3h0M641.5 477.7h0M651.4 467.3h0M645.3 474h0M640.2 478.3h0M640.2 485.1h0M657.1 470h0M643.2 468.4h0M641.7 482.5h0M639.1 483.4h0M633.3 481.1h0M641.7 477.6h0M641 474.8h0M639.6 477.4h0M636.9 488.8h0M636.7 473.2h0M636.5 473.9h0M647.5 474.7h0M642 486h0M652.1 474.3h0M633.9 472.8h0M630.4 474.3h0M646.6 483h0M634.3 479.7h0M640.8 475.6h0M639.2 480.7h0M637.7 479.2h0M638 484.2h0M645.6 479.1h0M648.8 475h0M640.9 479.1h0M634.8 486.9h0M634.1 485.3h0M645.4 478h0M629.1 479.8h0M630.7 490.7h0M650.7 471.3h0M649.1 470.6h0M641.2 475.1h0M641.3 477.2h0M650.2 475.9h0M642 479.5h0M641.4 482.4h0M641.3 476.4h0M644.1 479h0M637.6 476.6h0M634.2 479.9h0M640.6 485.2h0M647.2 483.1h0M622.4 478.9h0M634 480.5h0M643.2 478.2h0M631.8 478.5h0M637.4 477.4h0M631.6 484h0M642.7 476.3h0M634.9 483h0M645.2 474.1h0M623 502h0M634.5 502h0M636.5 502.5h0M620.5 484h0" stroke="#14589a" stroke-width="1.75" stroke-linecap="square" fill="none"/>
<line x1="613.4" y1="463.9" x2="613.4" y2="510" stroke="#222" stroke-width="0.8"/>
<line x1="613.4" y1="510" x2="659" y2="510" stroke="#222" stroke-width="0.8"/>
<line x1="612.1" y1="464.4" x2="613.4" y2="464.4" stroke="#222" stroke-width="0.6"/>
<text x="611.4" y="465.95" font-size="4.4" text-anchor="end" fill="#444" style="" stroke="#444" stroke-width="0.13">10</text>
<line x1="612.1" y1="483.5" x2="613.4" y2="483.5" stroke="#222" stroke-width="0.6"/>
<text x="611.4" y="485.05" font-size="4.4" text-anchor="end" fill="#444" style="" stroke="#444" stroke-width="0.13">5</text>
<line x1="612.1" y1="502.8" x2="613.4" y2="502.8" stroke="#222" stroke-width="0.6"/>
<text x="611.4" y="504.35" font-size="4.4" text-anchor="end" fill="#444" style="" stroke="#444" stroke-width="0.13">0</text>
<line x1="620.2" y1="510" x2="620.2" y2="511.3" stroke="#222" stroke-width="0.6"/>
<text x="620.2" y="516.5" font-size="4.4" text-anchor="middle" fill="#444" style="" stroke="#444" stroke-width="0.13">0</text>
<line x1="639.5" y1="510" x2="639.5" y2="511.3" stroke="#222" stroke-width="0.6"/>
<text x="639.5" y="516.5" font-size="4.4" text-anchor="middle" fill="#444" style="" stroke="#444" stroke-width="0.13">5</text>
<line x1="659.2" y1="510" x2="659.2" y2="511.3" stroke="#222" stroke-width="0.6"/>
<text x="659.2" y="516.5" font-size="4.4" text-anchor="middle" fill="#444" style="" stroke="#444" stroke-width="0.13">10</text>
<line x1="620.2" y1="490.6" x2="652.9" y2="472.1" stroke="#111" stroke-width="0.9"/>
<text x="615.5" y="469.6" font-size="4.6" text-anchor="start" fill="#333" style="" stroke="#333" stroke-width="0.14"><tspan font-style="italic">ρ</tspan>: 0.52</text>
<text x="615.5" y="474.5" font-size="4.45" text-anchor="start" fill="#333" style="" stroke="#333" stroke-width="0.13"><tspan font-style="italic">P</tspan>: &lt; 0.0001</text>
<ellipse cx="505" cy="552" rx="10.53" ry="6.48" fill="#c6c6c6" transform="rotate(-14.42 505 552)"/>
<path d="M510.5 554h0M509.7 546.4h0M496.6 558.4h0M502.1 549.7h0M515.8 554.4h0M505.6 558.9h0M497.3 544.8h0M503.8 546.8h0M510.6 550.5h0M500 552.3h0M507.7 551.7h0M509 561.4h0M503.4 542.8h0M498.8 554.5h0M507.2 546.2h0M506.1 552h0M500.3 553.7h0M509.9 548.8h0M506.1 554h0M500.7 555.6h0M517.4 551.8h0M495.5 551.1h0M520.6 544.2h0M495.8 549.4h0M500.3 557.7h0M510.8 545.2h0M509.7 548h0M513.1 558.3h0M502.8 552.3h0M519.6 555.6h0M502.1 548h0M502.3 556.3h0M504.5 551.7h0M500.6 554.3h0M512.1 554.2h0M503 555.4h0M517.2 554.1h0M501.4 558.1h0M518.5 549.3h0M502.2 553h0M501.6 555.9h0M520 549.4h0M514.2 549.7h0M498.8 550.1h0M506.9 557.5h0M504.2 555.2h0M506.6 543.2h0M497.3 544.9h0M518.4 549.5h0M501.5 557.2h0M504.9 546.5h0M503.4 547.2h0M510.4 550.7h0M507 549.4h0M513.6 559.8h0M494.2 552.2h0M503.5 555.9h0M504.1 549.9h0M510.2 551.6h0M492.6 556.7h0M503.8 553.6h0M506.7 549.2h0M496.9 550.3h0M503.2 548.2h0M504.3 555.9h0M496 556h0M512 551.1h0M495.6 553.9h0M497.1 549.1h0M508.4 547.8h0M498.9 558.4h0M503.8 554.3h0M493.3 554h0M498.5 545.8h0M509.8 549.7h0M494.1 555.5h0M502.7 553.9h0M490.4 557.3h0M502.5 561h0M496.1 544.4h0M504.9 547.4h0M508.6 559.6h0M495.7 545.5h0M503.4 550.6h0M500.3 555.4h0M510.5 551.5h0M512.5 544.8h0M494.4 544.5h0M508.9 548.6h0M499.6 544.4h0M499.7 554.9h0M518.6 552.1h0M513.7 555.6h0M501.6 548.2h0M509.9 534.9h0M509.6 548.7h0M493.5 558.4h0M513.5 550.7h0M508 547.5h0M493 551h0M493.7 561.9h0M512.3 548.9h0M498 555.4h0M512.5 544.2h0M500.1 552.5h0M502.4 545.6h0M512.5 550.6h0M488.8 556.8h0M506.3 540.6h0M502 549.2h0M505.4 548.4h0M501.3 551.8h0M501.5 550.4h0M506.9 557.3h0M497.5 548.8h0M506.8 554.2h0M505.1 544.9h0M509.6 559.1h0M505.9 551.2h0M502 546.7h0M509.3 541.3h0M498.3 550.6h0M514.6 552.2h0M511.1 551.3h0M509.7 541.6h0M506.1 550.4h0M502 558h0M520.3 556.8h0M488.5 553.9h0M488.6 550.2h0M497.6 557.7h0M502.8 557.1h0M509.7 550.7h0M492.4 562.7h0M510.6 550.7h0M522.1 553.8h0M507.9 543.5h0M502.6 552.4h0M512.3 548.9h0M500.5 547h0M490.8 545.9h0M499.2 554.7h0M510.4 550.7h0M501.4 559h0M511.8 560.6h0M499.8 558.7h0M500.3 546.5h0M519.8 558.5h0M493.6 554.4h0M500.7 553.4h0M501.7 552h0M501.1 557.6h0M491.3 556.1h0M505.9 553.5h0M501.2 553.5h0M505.2 555.9h0M509.6 555.3h0M504.6 546.6h0M511.2 552h0M501.8 555h0M508.1 549.3h0M499.6 551.9h0M509.9 547.6h0M500.8 560h0M501.5 552.4h0M504.3 556.7h0M490.6 547.9h0M499.6 549.9h0M496.6 555.9h0M515.7 553.8h0M502.7 549.7h0M521.8 547.7h0M506.7 552.9h0M517.3 552.9h0M500.9 555.9h0M509.7 562h0M499.1 557.9h0M505.2 555.6h0M512.5 556.5h0M510.7 555h0M507.9 542.4h0M517.9 557.3h0M499.6 549.1h0M500.9 556.4h0M502.5 549.2h0M503.5 545.7h0M507.3 548.5h0M506.7 559.3h0M518.4 547.1h0M505.9 552.3h0M492.8 559.8h0M493.4 559.6h0M517.6 550.2h0M520.6 551h0M505.3 546h0M492.5 559.9h0M501.8 558.5h0M516.5 549.1h0M510.4 558h0M499.9 555.1h0M512 554.9h0M503.1 564.3h0M500.7 554.1h0M507.3 556.7h0M504.1 554.9h0M511.5 547.2h0M490.8 554.4h0M507.4 556.4h0M499 554.8h0M514.6 553h0M500.3 557.9h0M496.7 564.8h0M495 554.4h0M512.5 547.3h0M505.9 559.3h0M508.7 552.7h0M508.9 551.7h0M509.1 548.6h0M501.7 550.7h0M502 560.9h0M499 547.4h0M498.3 555.5h0M496.8 557h0M514.9 556h0M492.4 555.6h0M518.8 549.1h0M503.8 557h0M503.2 545.1h0M501.4 552.8h0M509.1 554.6h0M504.4 551.3h0M500.7 557.4h0M514.4 549.8h0M502.3 549h0M507.6 557.6h0M510.9 544.4h0M513.9 547.7h0M506.2 543.4h0M502.8 545.6h0M518.9 548.8h0M514.7 549.6h0M512.9 552.9h0M512.3 548.2h0M511.4 542.8h0M496.9 557.9h0M504.7 550.9h0M492 549.9h0M517.3 543.5h0M505.8 542.3h0M506.9 552h0M508 548.7h0M499.7 560.6h0M505.4 551.9h0M494.2 546.3h0M514.3 547.4h0M495.6 544h0M503.3 556.7h0M496.8 548.8h0M504.3 549.4h0M502 559.9h0M503 550.8h0M498.2 549.8h0M508.3 544.4h0M513.1 547.9h0M499.1 552.2h0M499.3 558.4h0M503.1 553.8h0M502.9 553h0M499.9 549.7h0M493.7 561.7h0M503.3 556.9h0M501.2 552h0M517.7 558.1h0M499.7 555.1h0M507 559.5h0M498.9 551.8h0M508 549.9h0M507.7 561.1h0M507.6 556.8h0M502.8 551.5h0M517.5 549.8h0M503.5 557.7h0M508.6 550.1h0M500.4 556.6h0M497 545.7h0M498.6 556.4h0M507.3 554.3h0M503 552.1h0M502.9 549.3h0M516 547.4h0M498.8 553.2h0M512.3 540.6h0M504.2 557.7h0M494.1 558.4h0M506.5 554.9h0M503.8 556.7h0M520.4 553.5h0M502.3 553.9h0M490.6 550.9h0M510.7 547.2h0M512.5 552.3h0M509.4 554.5h0M493.9 561.2h0M506.4 551.7h0M496.4 549.3h0M500.5 548.9h0M502.2 544.1h0M511.5 554.8h0M505.1 546.3h0M499.5 550.9h0M506.3 551.1h0M500.9 548.3h0M491.9 551.9h0M503.4 552.4h0M503 554.8h0M510.4 557.6h0M502.5 545.4h0M496.4 555.5h0M498 547.1h0M491.2 553h0M509.6 543.7h0M507.6 546.4h0M507.4 544.8h0M519.7 546.4h0M499 548.3h0M496.6 547.8h0M519.8 553.5h0M503 559.3h0M503.3 549.9h0M503.2 556.5h0M499.6 557.7h0M493.4 553.5h0M495.4 548.6h0M509.8 537h0M492.3 554.4h0M505.5 544.1h0M500.4 554.9h0M504.9 545.5h0M503.1 554.4h0M501.2 556.7h0M498.7 553.1h0M508.8 555.2h0M516.6 552.7h0M500.9 550.4h0M510.2 557.9h0M506.6 551.4h0M501.2 552.8h0M507.7 553.3h0M502.6 548.5h0M512.5 542h0M499.7 549h0M511.8 542.9h0M498.9 561.4h0M497.1 556.5h0M517.3 552.6h0M491 550.8h0M506.9 551h0M501 561h0M510.6 553.3h0M513.4 552.2h0M503.9 551.4h0M507.6 546.6h0M508.5 551h0M511 555.3h0M512.3 545.3h0M503.7 547.9h0M496.9 562.9h0M514.1 548.5h0M501.8 560.6h0M507.8 559.3h0M505.1 555.7h0M514.6 549.5h0M504 554.4h0M496.1 556h0M516.9 549.2h0M495.1 553.1h0M503.6 549.6h0M496.7 552.7h0M495 548.4h0M501 557h0M497.9 555.6h0M503.2 556.3h0M493.3 556.2h0M504.7 553.7h0M491.6 555.8h0M508.6 554.7h0M506.1 548.9h0M506.1 544.8h0M496.9 554.4h0M514.3 560.3h0M506.8 555h0M504.5 551.8h0M504.3 550.4h0M500.9 552h0M502.5 556.6h0M513.8 546.7h0M515.9 549.9h0M503.1 551.2h0M496.9 552.5h0M499.5 548.5h0M497.6 553.3h0M513.3 553.4h0M502.6 549.7h0M494.5 554.7h0M513.3 555h0M508.3 551.9h0M504.4 546.7h0M494 548.1h0M500 553h0M502.1 549.8h0M518.5 547.8h0M505.1 549.6h0M511.8 552.4h0M503.7 551.3h0M513.9 544.8h0M496.7 553.4h0M518.6 558.5h0M515.4 549.8h0M499.7 549.5h0M505.9 544.6h0M511.4 555.5h0M499.8 550.6h0M512.2 553.1h0M492.1 550.9h0M509.4 558.9h0M505.8 556.8h0M516.5 549.5h0M502 540.6h0M507.8 550.7h0M495 552.8h0M508.9 549.3h0M515.3 549.7h0M498.1 554.8h0M500.3 548.6h0M497.1 558.2h0M506.3 547h0M505.1 553.7h0M514 552.9h0M509.9 546.5h0M507.1 561.8h0M499.6 554.3h0M494.4 549.7h0M512.1 549.6h0M494.5 552.2h0M509.8 552.3h0M492.7 550.3h0M505.7 558.2h0M514.6 556.1h0M501.5 559.7h0M512.3 544.1h0M503.3 559.7h0M522.9 553.1h0M504.7 548.9h0M499 557h0M509.8 552.9h0M498.3 556.5h0M509.6 545.9h0M498.2 555.1h0M510.2 547.8h0M491.4 548.5h0M497.5 553.8h0M509.2 550.6h0M492.8 545.8h0M507.3 547.7h0M501.4 554.6h0M507.8 552.9h0M499.6 551.9h0M502.5 552.7h0M503.6 557.9h0M508.3 542.8h0M502 551.5h0M505.3 561.4h0M506.4 553.5h0M504.6 556.4h0M507.4 557h0M516.4 547.4h0M499.3 543.9h0M507.7 559.6h0M516.8 551.7h0M518.5 551.5h0M507.6 554.1h0M510.2 543.5h0M497.2 562.2h0M498.8 549.3h0M514.2 547.2h0M503.9 552.6h0M489.1 550.9h0M510.7 550.8h0M495.5 556h0M506.1 547.4h0M513.5 546.1h0M511.1 553h0M504.8 553.5h0M507.7 555.4h0M503 552.6h0M506.8 541h0M505.3 554.9h0M504.4 545.7h0M513.1 547.6h0M519.5 544.3h0M504.6 547.4h0M505.3 550.2h0M507.8 558.7h0M497 549.3h0M500.8 556.8h0M494.6 560.1h0M491.6 545.8h0M491.3 558.4h0M508.5 545.4h0M500.5 550.1h0M502.5 556.4h0M505.7 549.6h0M488.6 550.5h0M505.9 549.2h0M513.6 547.9h0M491.3 553.7h0M513.1 549.3h0M499.9 554.2h0M512 550.2h0M508.6 548.1h0M513.2 547.2h0M518.4 546h0M513.4 557h0M500.1 561.5h0M506.6 556.5h0M497.7 551.9h0M503.9 556.2h0M499.1 561.1h0M508.2 545.4h0M520.5 550.9h0M502 552.9h0M518.6 554.7h0M515.8 556.3h0M505.5 556.2h0M497 552.3h0M504.2 547.7h0M514.9 546.9h0M514.8 549.9h0M495.2 558.9h0M515.2 549.3h0M489.1 546.4h0M495.3 561.1h0M506.8 552.4h0M494.6 554.2h0M494.3 544.9h0M496.5 556h0M509.3 551h0M519.4 550.2h0M498.7 547.1h0M501.7 558.8h0M498.9 549.7h0M511.6 544.2h0M518.6 553.2h0M509.6 554.3h0M509.7 552.1h0M506.1 540.7h0M501.6 558.3h0M504.7 551.7h0M497.6 551.2h0M506.2 542.8h0M488.5 571h0" stroke="#c6c6c6" stroke-width="1.4" stroke-linecap="square" fill="none"/>
<line x1="484.2" y1="530.1" x2="484.2" y2="576.6" stroke="#222" stroke-width="0.8"/>
<line x1="484.2" y1="576.6" x2="531.5" y2="576.6" stroke="#222" stroke-width="0.8"/>
<line x1="482.9" y1="530.6" x2="484.2" y2="530.6" stroke="#222" stroke-width="0.6"/>
<text x="482.2" y="532.15" font-size="4.4" text-anchor="end" fill="#444" style="" stroke="#444" stroke-width="0.13">15</text>
<line x1="482.9" y1="544.1" x2="484.2" y2="544.1" stroke="#222" stroke-width="0.6"/>
<text x="482.2" y="545.65" font-size="4.4" text-anchor="end" fill="#444" style="" stroke="#444" stroke-width="0.13">10</text>
<line x1="482.9" y1="557.9" x2="484.2" y2="557.9" stroke="#222" stroke-width="0.6"/>
<text x="482.2" y="559.45" font-size="4.4" text-anchor="end" fill="#444" style="" stroke="#444" stroke-width="0.13">5</text>
<line x1="482.9" y1="571" x2="484.2" y2="571" stroke="#222" stroke-width="0.6"/>
<text x="482.2" y="572.55" font-size="4.4" text-anchor="end" fill="#444" style="" stroke="#444" stroke-width="0.13">0</text>
<line x1="489.8" y1="576.6" x2="489.8" y2="577.9" stroke="#222" stroke-width="0.6"/>
<text x="489.8" y="583.1" font-size="4.4" text-anchor="middle" fill="#444" style="" stroke="#444" stroke-width="0.13">0</text>
<line x1="503.6" y1="576.6" x2="503.6" y2="577.9" stroke="#222" stroke-width="0.6"/>
<text x="503.6" y="583.1" font-size="4.4" text-anchor="middle" fill="#444" style="" stroke="#444" stroke-width="0.13">5</text>
<line x1="517.2" y1="576.6" x2="517.2" y2="577.9" stroke="#222" stroke-width="0.6"/>
<text x="517.2" y="583.1" font-size="4.4" text-anchor="middle" fill="#444" style="" stroke="#444" stroke-width="0.13">10</text>
<line x1="531.2" y1="576.6" x2="531.2" y2="577.9" stroke="#222" stroke-width="0.6"/>
<text x="531.2" y="583.1" font-size="4.4" text-anchor="middle" fill="#444" style="" stroke="#444" stroke-width="0.13">15</text>
<line x1="486.3" y1="555.7" x2="521" y2="546.5" stroke="#111" stroke-width="0.9"/>
<text x="487" y="535.4" font-size="4.6" text-anchor="start" fill="#333" style="" stroke="#333" stroke-width="0.14"><tspan font-style="italic">ρ</tspan>: 0.38</text>
<text x="487" y="540.3" font-size="4.45" text-anchor="start" fill="#333" style="" stroke="#333" stroke-width="0.13"><tspan font-style="italic">P</tspan>: &lt; 0.0001</text>
<ellipse cx="567" cy="549" rx="9.72" ry="4.59" fill="#f2a274" transform="rotate(-27.98 567 549)"/>
<path d="M569.5 545.1h0M560.6 552.9h0M561.9 551.9h0M567.6 550.3h0M555.8 559.2h0M570.8 540.1h0M565.7 547.2h0M560.3 556.9h0M566.2 552.4h0M558 541.4h0M568.3 543.9h0M563.7 549.9h0M573.6 541.5h0M569.5 547.4h0M557.3 554.7h0M576.2 542.9h0M565.8 547.2h0M569.3 548.5h0M570.8 550.5h0M561.6 551.7h0M561.5 554.7h0M566.4 544.5h0M571.4 544.7h0M571.7 550.6h0M562.3 552h0M573.5 548.1h0M571.1 548.9h0M571.6 551.2h0M557.2 546.4h0M557.8 549.4h0M572.2 548.4h0M566.9 544.7h0M567.9 553.5h0M571.3 548.9h0M566.9 551.5h0M565.2 546h0M564.3 547.5h0M561.8 551.1h0M568.3 548h0M575 546.5h0M563.6 549.8h0M556.5 552h0M573.4 555.2h0M574.5 551.1h0M562.9 550.9h0M556.4 549.2h0M562.9 548.7h0M569.1 544.7h0M575.5 547.9h0M567.3 552.4h0M570 547.5h0M564.6 543.2h0M571.9 550.8h0M569.5 543.6h0M565.7 547.6h0M563.7 553.2h0M569.1 552.1h0M560.8 553.7h0M577.2 544.8h0M560.7 553.3h0M566.2 552.7h0M553.4 552.6h0M569.7 552.5h0M573.2 543.4h0M560.8 546h0M576.6 546.6h0M569.3 551.7h0M580.1 540.6h0M577.4 543.9h0M564.1 552.3h0M557.6 550.2h0M564.2 556.1h0M562.2 552.8h0M579.4 539h0M564.5 552.7h0M563.7 549.6h0M568.2 547h0M569.9 546.5h0M562.7 546.2h0M556.8 553.9h0M581 545h0M565.7 548.1h0M574.2 550.7h0M569 551.6h0M569.3 549.8h0M566.7 551.5h0M564.3 556.1h0M575.9 543.3h0M580.8 549.3h0M565 549.1h0M559.2 557.9h0M567.7 546.9h0M560.5 558.5h0M555.2 550.5h0M568.3 548.6h0M569.1 551.8h0M571.6 542.6h0M569.6 547.1h0M567.8 554.3h0M574.7 546.8h0M559.7 547.2h0M575.5 548.1h0M568.5 553.6h0M561.9 544.6h0M561.4 554.5h0M562.2 555.9h0M571.4 543.5h0M567.4 553.4h0M560.8 546.6h0M581.3 544.7h0M554.3 555.3h0M565.4 543h0M571.6 541.7h0M574.5 539.2h0M577.1 533.4h0M563.5 557.8h0M563.7 550.6h0M563.1 547.1h0M559.7 552h0M565.1 550.5h0M573.9 551.9h0M575.8 542.7h0M567.8 541.7h0M580.3 546.8h0M572.9 547.4h0M567.8 551.7h0M566.4 545.5h0M564.5 552.1h0M574.9 542.9h0M561 551.6h0M570.6 545.2h0M564.7 545.2h0M558.2 561.4h0M557.1 550.5h0M554.2 555.5h0M571.6 540.3h0M567.5 554.2h0M567.8 549h0M576.4 542.8h0M563 550.6h0M568.6 545.4h0M568.1 549.4h0M577.6 547.8h0M574.5 552.1h0M580.6 543.3h0M556.1 555.1h0M575.8 539.3h0M574.4 541.2h0M561.9 554.2h0M570.4 547h0M549.2 548.4h0M568.6 548.7h0M563.9 549.2h0M559.2 555.5h0M563.8 556h0M565.1 548.1h0M571.5 542.8h0M564 550.1h0M572.3 545.8h0M565.8 552.1h0M575.3 551.3h0M554.9 550.5h0M557 556.7h0M565.8 553h0M556.3 551.3h0M567.9 547h0M582.5 539h0M568.7 544.8h0M557.7 552.1h0M578.2 549.7h0M563.4 546h0M567.7 547.4h0M559.9 552.7h0M568.5 553.9h0M562.1 546.5h0M571.2 553.7h0M554.5 549.7h0M576.3 545.2h0M555.2 556.6h0M576.5 546h0M569.8 544.5h0M560 549.7h0M565.7 541.5h0M567 545.1h0M563.1 547.2h0M567.2 546.4h0M572.3 549.4h0M568.2 545.4h0M572.6 548.5h0M567.7 547.1h0M569.8 551.4h0M571.7 552.9h0M568.3 551.6h0M566.5 551.4h0M562.8 559.4h0M575.5 551.7h0M564.3 550.4h0M577 546.2h0M566.2 546.9h0M559.3 556.7h0M558.5 551.4h0M569.4 552h0M559.4 549.6h0M575.2 546.2h0M561.1 552h0M554.8 556.8h0M571.8 546.6h0M567 554.7h0M559.3 557.9h0M575.8 546.4h0M561.4 549.8h0M579.8 546.1h0M566.8 548.6h0M575.4 546.3h0M561.4 546h0M570.3 542.7h0M571.4 543.1h0M558.1 552.1h0M569.1 546.7h0M566.9 548.4h0M563 546.3h0M568.2 545.4h0M562.3 550.4h0M569.1 544.3h0M567.2 548.3h0M566 547.2h0M566 552h0M563 551.3h0M552.5 550.8h0M570.3 548.9h0M574.6 550h0M560.3 547.1h0M574.4 545.9h0M571.8 550.9h0M572.9 551.8h0M570.7 553.9h0M564.4 556.2h0M571.5 546.1h0M567.2 547h0M572.3 554.1h0M564.6 544.4h0M573.8 542.7h0M576.2 548h0M567.5 545.4h0M579.8 545.6h0M564 558.6h0M559.8 556.7h0M572.7 551.6h0M568.2 546.4h0M572.3 542.8h0M561.9 550.2h0M572.9 544.7h0M566.3 545.5h0M567.6 550.8h0M566.7 552.3h0M562.3 550.5h0M567.2 548.2h0M562.4 547.9h0M571.3 540.4h0M572.3 554.9h0M574.9 545.4h0M569.9 542.8h0M566.8 544.4h0M572.7 547.7h0M567 547.9h0M564 555.1h0M554.7 553.4h0M554 547.7h0M561.5 555.9h0M574.5 547.7h0M574 547.7h0M575.5 540.3h0M569.8 551.6h0M569.7 544.7h0M574.5 553h0M558.2 548h0M569.5 545.2h0M561.4 547.4h0M563.2 551.5h0M570.5 549.7h0M570.2 545.7h0M564.7 548.1h0M573.6 544h0M569.5 545.3h0M562.6 554.9h0M570.9 550.6h0M562.6 556.8h0M564.3 549.3h0M564.1 553.2h0M565.9 552.2h0M577.4 543.9h0M571.7 551.4h0M573 544.8h0M577.3 548.6h0M564.3 545.6h0M575.2 546.3h0M557 551h0M570.6 542.7h0M570.7 547.6h0M553.8 553h0M565.6 551.3h0M565 548.9h0M566 551.3h0M569.4 550.5h0M565.1 546.3h0M568.2 553.8h0M578.2 545.7h0M564.2 548.7h0M568.8 551.3h0M563.1 545.4h0M559.6 551.6h0M575.4 551.2h0M573.3 546.4h0M561 552h0M576.8 541h0M564.7 546.5h0M580.5 543.6h0M560.3 553.7h0M564 553.4h0M567.8 547.8h0M577.6 548.2h0M570.6 548.5h0M566.8 550h0M571.3 551h0M577.6 537.7h0M562.5 545.1h0M559.3 550h0M561.9 551.1h0M573.3 553.6h0M567.6 543.3h0M572.1 546.9h0M565.1 551.5h0M559.9 553.4h0M564.8 556.1h0M560 547.8h0M573.1 543.2h0M563.2 557.1h0M564.4 547.9h0M567.5 546.7h0M558.2 544.6h0M557.7 545.2h0M567.2 553.5h0M562.1 552.6h0M567.1 541.2h0M572.4 553.3h0M553.1 553.2h0M568.3 545.2h0M568.9 546.8h0M569.5 543.5h0M559.5 558h0M573.7 557.3h0M558.3 551.5h0M561.6 560.1h0M570.3 547.2h0M565.3 552.5h0M572.3 549.1h0M566.3 552.6h0M566.5 553.3h0M565.5 544.2h0M561.9 549.4h0M560.1 556h0M555.7 547.2h0M570.1 554.1h0M580.2 547.5h0M558.2 563.2h0M562.6 555.2h0M567.1 544.6h0M566.6 554.9h0M569.9 547.1h0M580.6 546.7h0M575.1 542.4h0M557.9 550.2h0M565.8 550.2h0M566.9 546h0M558.6 555.6h0M557.9 552.9h0M568 548.6h0M567 548.4h0M561.8 548.8h0M565.1 545.2h0M568.5 545.2h0M567.7 548.8h0M558 555.5h0M564.4 546.1h0M575.6 550h0M565.1 547.2h0M567 547h0M567.5 544.2h0M571.9 544.9h0M577.3 547.4h0M572 551.1h0M573.2 545.4h0M574.1 549.6h0M563.4 553.5h0M578.6 547.1h0M578.2 543.3h0M572.6 542.3h0M567 549.1h0M571.8 552.4h0M563.1 548h0M564.4 547.6h0M558.9 550.9h0M553.5 551.3h0M570 547.4h0M576.6 544.1h0M569.3 550.8h0M556.3 554.3h0M577.9 545.6h0M567.2 547.6h0M564.1 559.1h0M560.1 557.4h0M574.9 548.9h0M561.6 551.8h0M567.3 548.7h0M573.5 542.1h0M573 544.9h0M566.4 546.9h0M557.5 553.8h0M573.8 547.1h0M567.2 549.4h0M563.2 556h0M569.7 552h0M560.5 551.4h0M565.4 551h0M577.3 539.8h0M574 541.4h0M569.4 547.9h0M576.4 535.2h0M565.8 547.6h0M563.5 552.4h0M561.4 548.8h0M572 544.7h0M566.3 552.9h0M562.8 549.8h0M568.7 541.5h0M579.3 548.2h0M577.1 543h0M566.4 548.9h0M564.7 547.2h0M552.7 549.7h0M568.4 543.3h0M568.1 547h0M568.5 552.1h0M564.2 557.1h0M575.3 542.6h0M581 541.1h0M575.1 545.7h0M569.3 548.9h0M566.4 549.1h0M554.9 554.8h0M571.9 554.1h0M566 548.7h0M565.3 550.5h0M573.2 553.1h0M555.7 556.7h0M573.4 554.3h0M563.2 551.9h0M562.2 554.3h0M574.4 547.4h0M571.5 543.8h0M573.6 547.9h0M576.3 543.7h0M567.6 551.6h0M560.5 557.4h0M570.2 543.3h0M563.8 550.3h0M560.6 551.8h0M561.5 550.6h0M564.2 542.4h0M574.2 548.6h0M561.9 554.3h0M559.2 551.8h0M573.2 548.1h0M566.3 547.3h0M567.5 554.5h0M572.7 544.2h0M570.6 551.3h0M574.6 536.4h0M575.6 544h0M566.9 546.3h0M567.6 545.4h0M566.4 550.2h0M558.4 550.8h0M558.4 557.2h0M567 552.6h0M556.3 556.1h0M563.3 548.6h0M565.9 549.6h0M567.9 547.9h0M565.7 541h0M581.1 542.4h0M553.9 550.4h0M557.7 549.2h0M567.8 551.9h0M561.2 553.2h0M559.9 548.1h0M573.7 543.1h0M562.3 551.1h0M566.6 551.6h0M563.5 547.3h0M556.3 549.9h0M561.9 543.3h0M560.3 550.7h0M576.4 546.3h0M563.5 550.3h0M568.6 552.2h0M564.3 550.2h0M561.1 548.2h0M564.6 551.5h0M570.1 543.7h0M567.8 545.1h0M578 541h0M568.3 546.9h0M581.1 547.6h0M557.3 552.3h0M563.3 552.2h0M571.8 548.1h0M560.3 555.6h0M567.4 545.3h0M565.6 548.5h0M556.2 552.1h0M580 550.1h0M564.1 555.5h0M560 553.6h0M571.4 547.1h0M565.2 554.2h0M568.5 544.1h0M560.9 550.3h0M576.4 552.3h0M572.2 552.1h0M567.9 552.4h0M564.8 546.4h0M567.4 551.8h0M571.3 549.2h0M570.8 545.7h0M571.4 551.2h0M572.5 548h0M580.9 543.5h0M565 547.3h0M562 550.2h0M570.7 550.3h0M570.4 545.7h0M563.2 550.1h0M573 548.8h0M556.8 553.8h0M581 542.6h0M574.1 544h0M566 547.1h0M576.5 546.8h0M568.6 548.8h0M560.9 545.3h0M563.4 548.2h0M573.7 552.4h0M567 543.8h0M561.9 550.1h0M574 539.8h0M578.2 549.2h0M574.7 542.5h0M556.5 553.7h0M561 549.3h0M553 565h0M574 534.5h0" stroke="#f2a274" stroke-width="1.4" stroke-linecap="square" fill="none"/>
<line x1="547.9" y1="530.1" x2="547.9" y2="576.6" stroke="#222" stroke-width="0.8"/>
<line x1="547.9" y1="576.6" x2="594.8" y2="576.6" stroke="#222" stroke-width="0.8"/>
<line x1="546.6" y1="530.6" x2="547.9" y2="530.6" stroke="#222" stroke-width="0.6"/>
<text x="545.9" y="532.15" font-size="4.4" text-anchor="end" fill="#444" style="" stroke="#444" stroke-width="0.13">15</text>
<line x1="546.6" y1="544.1" x2="547.9" y2="544.1" stroke="#222" stroke-width="0.6"/>
<text x="545.9" y="545.65" font-size="4.4" text-anchor="end" fill="#444" style="" stroke="#444" stroke-width="0.13">10</text>
<line x1="546.6" y1="557.9" x2="547.9" y2="557.9" stroke="#222" stroke-width="0.6"/>
<text x="545.9" y="559.45" font-size="4.4" text-anchor="end" fill="#444" style="" stroke="#444" stroke-width="0.13">5</text>
<line x1="546.6" y1="571" x2="547.9" y2="571" stroke="#222" stroke-width="0.6"/>
<text x="545.9" y="572.55" font-size="4.4" text-anchor="end" fill="#444" style="" stroke="#444" stroke-width="0.13">0</text>
<line x1="553.2" y1="576.6" x2="553.2" y2="577.9" stroke="#222" stroke-width="0.6"/>
<text x="553.2" y="583.1" font-size="4.4" text-anchor="middle" fill="#444" style="" stroke="#444" stroke-width="0.13">0</text>
<line x1="567" y1="576.6" x2="567" y2="577.9" stroke="#222" stroke-width="0.6"/>
<text x="567" y="583.1" font-size="4.4" text-anchor="middle" fill="#444" style="" stroke="#444" stroke-width="0.13">5</text>
<line x1="580.8" y1="576.6" x2="580.8" y2="577.9" stroke="#222" stroke-width="0.6"/>
<text x="580.8" y="583.1" font-size="4.4" text-anchor="middle" fill="#444" style="" stroke="#444" stroke-width="0.13">10</text>
<line x1="594.6" y1="576.6" x2="594.6" y2="577.9" stroke="#222" stroke-width="0.6"/>
<text x="594.6" y="583.1" font-size="4.4" text-anchor="middle" fill="#444" style="" stroke="#444" stroke-width="0.13">15</text>
<line x1="548.6" y1="555.7" x2="580.8" y2="538.9" stroke="#111" stroke-width="0.9"/>
<text x="573.5" y="567.4" font-size="4.6" text-anchor="start" fill="#333" style="" stroke="#333" stroke-width="0.14"><tspan font-style="italic">ρ</tspan>: 0.52</text>
<text x="573.5" y="572.3" font-size="4.45" text-anchor="start" fill="#333" style="" stroke="#333" stroke-width="0.13"><tspan font-style="italic">P</tspan>: &lt; 0.0001</text>
<ellipse cx="640.5" cy="548.5" rx="5.62" ry="3.5" fill="#14589a" fill-opacity="0.8" transform="rotate(-24.57 640.5 548.5)"/>
<path d="M632 555.4h0M635.9 541.3h0M650.2 549.8h0M630.4 555.5h0M642 549.6h0M637.8 549.3h0M646.6 555.8h0M644.4 546.2h0M634.1 554.8h0M645.2 547.1h0M635.1 556.7h0M630.3 549.5h0M635.2 557.1h0M625.9 548.6h0M643.1 535.9h0M640.7 554h0M635.7 548.2h0M635.8 551.5h0M641.5 547.8h0M629.4 547.8h0M642 555h0M649 543.6h0M630.4 550.1h0M636.5 557.6h0M646.8 547.1h0M635.4 560.1h0M641.9 550.5h0M635.4 550h0M634.9 547.2h0M641.3 536.8h0M634.8 554.3h0M643.7 543.3h0M645.3 544.5h0M647.9 549.5h0M646.3 547.4h0M633.6 554.6h0M644.9 542h0M631.6 547.7h0M632.7 554.2h0M645 546.1h0M648.1 546.1h0M648.8 541.8h0M633.8 541.4h0M649.4 544h0M638.9 548.4h0M638.9 547.4h0M642.8 541.9h0M633.9 543.8h0M653.5 550.8h0M640.4 543.2h0M643.2 544h0M637.1 555.7h0M652 550.7h0M644 551.2h0M633.4 551.8h0M643.3 548h0M638.7 551.2h0M643.9 557.2h0M640.6 552.6h0M632.2 544.6h0M644.4 541.5h0M645.6 553.7h0M639 555.1h0M653 540.6h0M627.5 547.7h0M646.5 543h0M640.5 542.6h0M651.4 546.7h0M635.1 555.3h0M644.9 547.9h0M628.9 552.2h0M649.7 547.1h0M647.3 542.9h0M642.8 551.1h0M640.9 548.3h0M646.6 549.2h0M649.1 552.6h0M634.8 551.6h0M641.5 550.2h0M635.5 554.6h0M635.2 552.7h0M645.5 547.3h0M631.7 551.8h0M639.7 552.2h0M630.8 554.1h0M639.7 543h0M644 545.8h0M646.9 546.7h0M646.8 552.1h0M643 543.1h0M634.5 542.8h0M643.8 548.6h0M642.2 551.2h0M640.3 557.8h0M643.8 542.9h0M639.5 546.9h0M641.3 545.8h0M644.1 550.8h0M632.9 554h0M635.5 555.2h0M633.1 541.1h0M645.2 551.2h0M634.6 545.9h0M636.9 550.6h0M642.6 546h0M647.4 547.7h0M650.1 551.1h0M635.6 547h0M644.6 547.1h0M642 543.9h0M644.2 552.7h0M647.2 543.2h0M637.1 551.9h0M656 543.4h0M638.2 551.1h0M640.1 551.9h0M641.1 539.7h0M643.9 543.3h0M635.2 553.4h0M630.4 553.6h0M649.1 549.5h0M635.9 550.7h0M635.9 545.7h0M636.2 557.1h0M636.4 550.3h0M634.8 556.9h0M650.6 542.7h0M638.1 544.7h0M645.5 535.7h0M639.9 553h0M631.9 548.4h0M652.8 550.1h0M629.9 547.7h0M647.5 538.3h0M641.5 550.2h0M651.2 550.1h0M649.8 545.2h0M637.3 549.9h0M630.8 556.7h0M635.1 555.3h0M636.5 546.7h0M642.7 549.7h0M653.8 538.3h0M645.4 547.7h0M639.5 545.1h0M647.7 551.8h0M651.7 550.8h0M629.2 555.2h0M631.2 554h0M640.3 544.1h0M632.9 552h0M627.3 557.1h0M641.8 546.1h0M643.7 548h0M628 550.8h0M624.7 553.6h0M651.4 551.6h0M643.6 550.1h0M640.7 549.9h0M632.3 559.1h0M634.3 555.5h0M629 557.1h0M638 554.4h0M642.1 546.7h0M633.9 560.7h0M650.4 550.5h0M638.6 547.5h0M645 536.8h0M637.2 546.4h0M633.1 546.3h0M632.5 552.8h0M646.5 543.6h0M635.5 547.6h0M639.5 549h0M638 551.3h0M647 551.2h0M632.3 549.9h0M643.7 533.9h0M635.7 547.1h0M645.5 547.8h0M625.7 548.3h0M644 544.5h0M641.2 549.3h0M649.6 545.1h0M635 561.4h0M640.9 542.4h0M630.4 547.9h0M634.3 558.3h0M643.2 543.9h0M642.5 549.5h0M639.6 549.3h0M641.3 549.8h0M652.1 540.1h0M649.6 543.4h0M640.3 547.7h0M635 555.2h0M623.9 551h0M640.7 541.9h0M643.9 546.7h0M646.7 546.1h0M649.3 546h0M636.9 549.1h0M644.1 539h0M634.5 546.9h0M642 544.8h0M635.6 543.3h0M638.5 555.7h0M641.5 535.9h0M632.9 538.3h0M643.1 544.6h0M622 563h0M626 566h0M634.5 566.5h0M635.5 569h0" stroke="#14589a" stroke-width="1.75" stroke-linecap="square" fill="none"/>
<line x1="613.2" y1="530.1" x2="613.2" y2="576.6" stroke="#222" stroke-width="0.8"/>
<line x1="613.2" y1="576.6" x2="659.5" y2="576.6" stroke="#222" stroke-width="0.8"/>
<line x1="611.9" y1="530.6" x2="613.2" y2="530.6" stroke="#222" stroke-width="0.6"/>
<text x="611.2" y="532.15" font-size="4.4" text-anchor="end" fill="#444" style="" stroke="#444" stroke-width="0.13">15</text>
<line x1="611.9" y1="548.7" x2="613.2" y2="548.7" stroke="#222" stroke-width="0.6"/>
<text x="611.2" y="550.25" font-size="4.4" text-anchor="end" fill="#444" style="" stroke="#444" stroke-width="0.13">10</text>
<line x1="611.9" y1="566.5" x2="613.2" y2="566.5" stroke="#222" stroke-width="0.6"/>
<text x="611.2" y="568.05" font-size="4.4" text-anchor="end" fill="#444" style="" stroke="#444" stroke-width="0.13">5</text>
<line x1="619.7" y1="576.6" x2="619.7" y2="577.9" stroke="#222" stroke-width="0.6"/>
<text x="619.7" y="583.1" font-size="4.4" text-anchor="middle" fill="#444" style="" stroke="#444" stroke-width="0.13">0</text>
<line x1="639" y1="576.6" x2="639" y2="577.9" stroke="#222" stroke-width="0.6"/>
<text x="639" y="583.1" font-size="4.4" text-anchor="middle" fill="#444" style="" stroke="#444" stroke-width="0.13">5</text>
<line x1="658.9" y1="576.6" x2="658.9" y2="577.9" stroke="#222" stroke-width="0.6"/>
<text x="658.9" y="583.1" font-size="4.4" text-anchor="middle" fill="#444" style="" stroke="#444" stroke-width="0.13">10</text>
<line x1="619.1" y1="559.4" x2="654.3" y2="542.8" stroke="#111" stroke-width="0.9"/>
<text x="615.5" y="535.4" font-size="4.6" text-anchor="start" fill="#333" style="" stroke="#333" stroke-width="0.14"><tspan font-style="italic">ρ</tspan>: 0.54</text>
<text x="615.5" y="540.3" font-size="4.45" text-anchor="start" fill="#333" style="" stroke="#333" stroke-width="0.13"><tspan font-style="italic">P</tspan>: &lt; 0.0001</text>
</svg>
</body></html>
